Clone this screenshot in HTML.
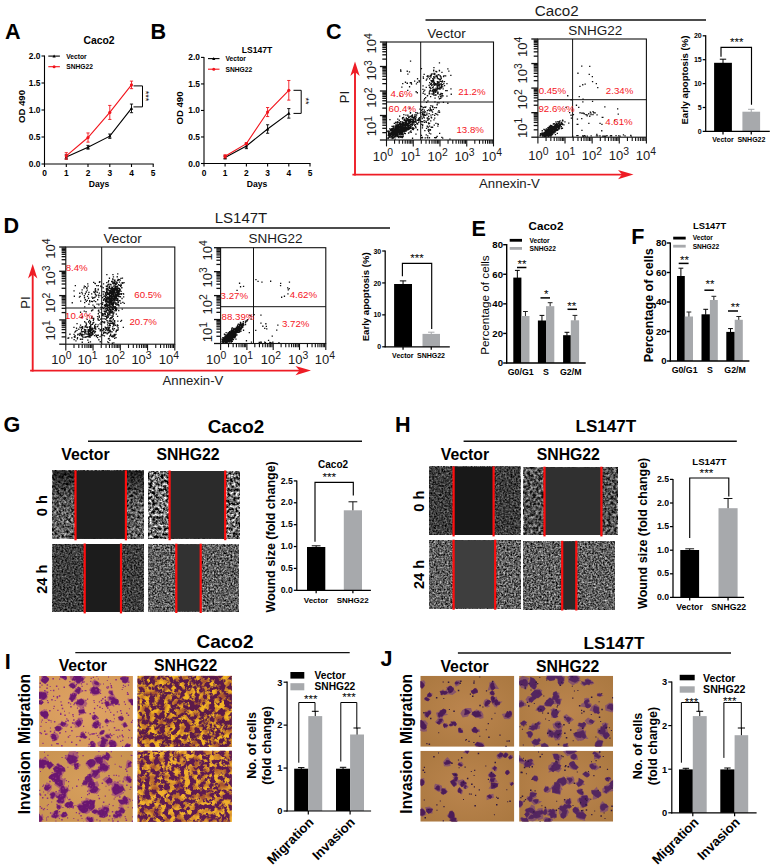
<!DOCTYPE html>
<html><head><meta charset="utf-8"><title>Figure</title>
<style>
html,body{margin:0;padding:0;background:#fff;}
body{width:774px;height:867px;overflow:hidden;font-family:"Liberation Sans",sans-serif;}
svg{display:block;}
svg text{font-family:"Liberation Sans",sans-serif;}
</style></head><body>
<svg width="774" height="867" viewBox="0 0 774 867">
<rect x="0" y="0" width="774" height="867" fill="#ffffff"/>
<text x="5.00" y="38.80" font-size="21.6" font-weight="bold" text-anchor="start" fill="#000">A</text>
<line x1="44.50" y1="55.50" x2="44.50" y2="164.50" stroke="#000" stroke-width="1.1" stroke-linecap="butt"/>
<line x1="44.00" y1="164.00" x2="153.70" y2="164.00" stroke="#000" stroke-width="1.1" stroke-linecap="butt"/>
<line x1="41.50" y1="164.00" x2="44.50" y2="164.00" stroke="#000" stroke-width="1.1" stroke-linecap="butt"/>
<text x="40.50" y="167.00" font-size="8.4" font-weight="bold" text-anchor="end" fill="#000">0.0</text>
<line x1="41.50" y1="137.00" x2="44.50" y2="137.00" stroke="#000" stroke-width="1.1" stroke-linecap="butt"/>
<text x="40.50" y="140.00" font-size="8.4" font-weight="bold" text-anchor="end" fill="#000">0.5</text>
<line x1="41.50" y1="110.00" x2="44.50" y2="110.00" stroke="#000" stroke-width="1.1" stroke-linecap="butt"/>
<text x="40.50" y="113.00" font-size="8.4" font-weight="bold" text-anchor="end" fill="#000">1.0</text>
<line x1="41.50" y1="83.00" x2="44.50" y2="83.00" stroke="#000" stroke-width="1.1" stroke-linecap="butt"/>
<text x="40.50" y="86.00" font-size="8.4" font-weight="bold" text-anchor="end" fill="#000">1.5</text>
<line x1="41.50" y1="56.00" x2="44.50" y2="56.00" stroke="#000" stroke-width="1.1" stroke-linecap="butt"/>
<text x="40.50" y="59.00" font-size="8.4" font-weight="bold" text-anchor="end" fill="#000">2.0</text>
<line x1="44.50" y1="164.00" x2="44.50" y2="167.00" stroke="#000" stroke-width="1.1" stroke-linecap="butt"/>
<text x="44.50" y="176.10" font-size="8.4" font-weight="bold" text-anchor="middle" fill="#000">0</text>
<line x1="66.30" y1="164.00" x2="66.30" y2="167.00" stroke="#000" stroke-width="1.1" stroke-linecap="butt"/>
<text x="66.30" y="176.10" font-size="8.4" font-weight="bold" text-anchor="middle" fill="#000">1</text>
<line x1="88.00" y1="164.00" x2="88.00" y2="167.00" stroke="#000" stroke-width="1.1" stroke-linecap="butt"/>
<text x="88.00" y="176.10" font-size="8.4" font-weight="bold" text-anchor="middle" fill="#000">2</text>
<line x1="109.80" y1="164.00" x2="109.80" y2="167.00" stroke="#000" stroke-width="1.1" stroke-linecap="butt"/>
<text x="109.80" y="176.10" font-size="8.4" font-weight="bold" text-anchor="middle" fill="#000">3</text>
<line x1="131.50" y1="164.00" x2="131.50" y2="167.00" stroke="#000" stroke-width="1.1" stroke-linecap="butt"/>
<text x="131.50" y="176.10" font-size="8.4" font-weight="bold" text-anchor="middle" fill="#000">4</text>
<line x1="153.20" y1="164.00" x2="153.20" y2="167.00" stroke="#000" stroke-width="1.1" stroke-linecap="butt"/>
<text x="153.20" y="176.10" font-size="8.4" font-weight="bold" text-anchor="middle" fill="#000">5</text>
<text x="99.00" y="44.00" font-size="10.4" font-weight="bold" text-anchor="middle" fill="#000">Caco2</text>
<text x="99.00" y="187.20" font-size="8.6" font-weight="bold" text-anchor="middle" fill="#000">Days</text>
<text x="25.20" y="106.50" font-size="9.6" font-weight="bold" text-anchor="middle" fill="#000" transform="rotate(-90 25.20 106.50)">OD 490</text>
<line x1="66.30" y1="154.82" x2="66.30" y2="159.14" stroke="#000" stroke-width="0.9" stroke-linecap="butt"/>
<line x1="64.70" y1="154.82" x2="67.90" y2="154.82" stroke="#000" stroke-width="0.9" stroke-linecap="butt"/>
<line x1="64.70" y1="159.14" x2="67.90" y2="159.14" stroke="#000" stroke-width="0.9" stroke-linecap="butt"/>
<line x1="88.00" y1="145.37" x2="88.00" y2="149.15" stroke="#000" stroke-width="0.9" stroke-linecap="butt"/>
<line x1="86.40" y1="145.37" x2="89.60" y2="145.37" stroke="#000" stroke-width="0.9" stroke-linecap="butt"/>
<line x1="86.40" y1="149.15" x2="89.60" y2="149.15" stroke="#000" stroke-width="0.9" stroke-linecap="butt"/>
<line x1="109.80" y1="134.03" x2="109.80" y2="138.35" stroke="#000" stroke-width="0.9" stroke-linecap="butt"/>
<line x1="108.20" y1="134.03" x2="111.40" y2="134.03" stroke="#000" stroke-width="0.9" stroke-linecap="butt"/>
<line x1="108.20" y1="138.35" x2="111.40" y2="138.35" stroke="#000" stroke-width="0.9" stroke-linecap="butt"/>
<line x1="131.50" y1="104.06" x2="131.50" y2="112.70" stroke="#000" stroke-width="0.9" stroke-linecap="butt"/>
<line x1="129.90" y1="104.06" x2="133.10" y2="104.06" stroke="#000" stroke-width="0.9" stroke-linecap="butt"/>
<line x1="129.90" y1="112.70" x2="133.10" y2="112.70" stroke="#000" stroke-width="0.9" stroke-linecap="butt"/>
<polyline fill="none" stroke="#000" stroke-width="1.1" points="66.30,156.98 88.00,147.26 109.80,136.19 131.50,108.38"/>
<path d="M64.60,158.38 L68.00,158.38 L66.30,155.18 Z" fill="#000"/>
<path d="M86.30,148.66 L89.70,148.66 L88.00,145.46 Z" fill="#000"/>
<path d="M108.10,137.59 L111.50,137.59 L109.80,134.39 Z" fill="#000"/>
<path d="M129.80,109.78 L133.20,109.78 L131.50,106.58 Z" fill="#000"/>
<line x1="66.30" y1="152.66" x2="66.30" y2="159.14" stroke="#f2141c" stroke-width="0.9" stroke-linecap="butt"/>
<line x1="64.70" y1="152.66" x2="67.90" y2="152.66" stroke="#f2141c" stroke-width="0.9" stroke-linecap="butt"/>
<line x1="64.70" y1="159.14" x2="67.90" y2="159.14" stroke="#f2141c" stroke-width="0.9" stroke-linecap="butt"/>
<line x1="88.00" y1="132.95" x2="88.00" y2="142.13" stroke="#f2141c" stroke-width="0.9" stroke-linecap="butt"/>
<line x1="86.40" y1="132.95" x2="89.60" y2="132.95" stroke="#f2141c" stroke-width="0.9" stroke-linecap="butt"/>
<line x1="86.40" y1="142.13" x2="89.60" y2="142.13" stroke="#f2141c" stroke-width="0.9" stroke-linecap="butt"/>
<line x1="109.80" y1="105.41" x2="109.80" y2="119.45" stroke="#f2141c" stroke-width="0.9" stroke-linecap="butt"/>
<line x1="108.20" y1="105.41" x2="111.40" y2="105.41" stroke="#f2141c" stroke-width="0.9" stroke-linecap="butt"/>
<line x1="108.20" y1="119.45" x2="111.40" y2="119.45" stroke="#f2141c" stroke-width="0.9" stroke-linecap="butt"/>
<line x1="131.50" y1="81.11" x2="131.50" y2="88.67" stroke="#f2141c" stroke-width="0.9" stroke-linecap="butt"/>
<line x1="129.90" y1="81.11" x2="133.10" y2="81.11" stroke="#f2141c" stroke-width="0.9" stroke-linecap="butt"/>
<line x1="129.90" y1="88.67" x2="133.10" y2="88.67" stroke="#f2141c" stroke-width="0.9" stroke-linecap="butt"/>
<polyline fill="none" stroke="#f2141c" stroke-width="1.1" points="66.30,155.90 88.00,137.54 109.80,112.43 131.50,84.89"/>
<circle cx="66.30" cy="155.90" r="1.6" fill="#f2141c"/>
<circle cx="88.00" cy="137.54" r="1.6" fill="#f2141c"/>
<circle cx="109.80" cy="112.43" r="1.6" fill="#f2141c"/>
<circle cx="131.50" cy="84.89" r="1.6" fill="#f2141c"/>
<line x1="48.30" y1="56.10" x2="59.90" y2="56.10" stroke="#000" stroke-width="1.1" stroke-linecap="butt"/>
<path d="M52.50,57.40 L55.70,57.40 L54.10,54.50 Z" fill="#000"/>
<text x="66.20" y="58.50" font-size="6.7" font-weight="bold" text-anchor="start" fill="#000">Vector</text>
<line x1="48.30" y1="66.70" x2="59.90" y2="66.70" stroke="#f2141c" stroke-width="1.1" stroke-linecap="butt"/>
<circle cx="54.10" cy="66.70" r="1.5" fill="#f2141c"/>
<text x="66.20" y="69.10" font-size="6.7" font-weight="bold" text-anchor="start" fill="#000">SNHG22</text>
<path d="M133.5,85.9 L142.5,85.9 L142.5,106.9 L133.5,106.9" stroke="#000" stroke-width="1.0" fill="none"/>
<text x="143.30" y="96.00" font-size="9" font-weight="normal" text-anchor="middle" fill="#000" transform="rotate(90 143.30 96.00)">***</text>
<text x="150.60" y="38.80" font-size="21.6" font-weight="bold" text-anchor="start" fill="#000">B</text>
<line x1="204.00" y1="56.90" x2="204.00" y2="164.00" stroke="#000" stroke-width="1.1" stroke-linecap="butt"/>
<line x1="203.50" y1="163.50" x2="310.50" y2="163.50" stroke="#000" stroke-width="1.1" stroke-linecap="butt"/>
<line x1="201.00" y1="163.50" x2="204.00" y2="163.50" stroke="#000" stroke-width="1.1" stroke-linecap="butt"/>
<text x="200.00" y="166.50" font-size="8.4" font-weight="bold" text-anchor="end" fill="#000">0.0</text>
<line x1="201.00" y1="136.97" x2="204.00" y2="136.97" stroke="#000" stroke-width="1.1" stroke-linecap="butt"/>
<text x="200.00" y="139.97" font-size="8.4" font-weight="bold" text-anchor="end" fill="#000">0.5</text>
<line x1="201.00" y1="110.45" x2="204.00" y2="110.45" stroke="#000" stroke-width="1.1" stroke-linecap="butt"/>
<text x="200.00" y="113.45" font-size="8.4" font-weight="bold" text-anchor="end" fill="#000">1.0</text>
<line x1="201.00" y1="83.93" x2="204.00" y2="83.93" stroke="#000" stroke-width="1.1" stroke-linecap="butt"/>
<text x="200.00" y="86.93" font-size="8.4" font-weight="bold" text-anchor="end" fill="#000">1.5</text>
<line x1="201.00" y1="57.40" x2="204.00" y2="57.40" stroke="#000" stroke-width="1.1" stroke-linecap="butt"/>
<text x="200.00" y="60.40" font-size="8.4" font-weight="bold" text-anchor="end" fill="#000">2.0</text>
<line x1="204.00" y1="163.50" x2="204.00" y2="166.50" stroke="#000" stroke-width="1.1" stroke-linecap="butt"/>
<text x="204.00" y="175.80" font-size="8.4" font-weight="bold" text-anchor="middle" fill="#000">0</text>
<line x1="225.10" y1="163.50" x2="225.10" y2="166.50" stroke="#000" stroke-width="1.1" stroke-linecap="butt"/>
<text x="225.10" y="175.80" font-size="8.4" font-weight="bold" text-anchor="middle" fill="#000">1</text>
<line x1="246.40" y1="163.50" x2="246.40" y2="166.50" stroke="#000" stroke-width="1.1" stroke-linecap="butt"/>
<text x="246.40" y="175.80" font-size="8.4" font-weight="bold" text-anchor="middle" fill="#000">2</text>
<line x1="267.60" y1="163.50" x2="267.60" y2="166.50" stroke="#000" stroke-width="1.1" stroke-linecap="butt"/>
<text x="267.60" y="175.80" font-size="8.4" font-weight="bold" text-anchor="middle" fill="#000">3</text>
<line x1="288.80" y1="163.50" x2="288.80" y2="166.50" stroke="#000" stroke-width="1.1" stroke-linecap="butt"/>
<text x="288.80" y="175.80" font-size="8.4" font-weight="bold" text-anchor="middle" fill="#000">4</text>
<line x1="310.00" y1="163.50" x2="310.00" y2="166.50" stroke="#000" stroke-width="1.1" stroke-linecap="butt"/>
<text x="310.00" y="175.80" font-size="8.4" font-weight="bold" text-anchor="middle" fill="#000">5</text>
<text x="257.00" y="52.50" font-size="8.6" font-weight="bold" text-anchor="middle" fill="#000">LS147T</text>
<text x="257.00" y="186.70" font-size="8.6" font-weight="bold" text-anchor="middle" fill="#000">Days</text>
<text x="183.20" y="108.00" font-size="9.6" font-weight="bold" text-anchor="middle" fill="#000" transform="rotate(-90 183.20 108.00)">OD 490</text>
<line x1="225.10" y1="155.81" x2="225.10" y2="158.99" stroke="#000" stroke-width="0.9" stroke-linecap="butt"/>
<line x1="223.50" y1="155.81" x2="226.70" y2="155.81" stroke="#000" stroke-width="0.9" stroke-linecap="butt"/>
<line x1="223.50" y1="158.99" x2="226.70" y2="158.99" stroke="#000" stroke-width="0.9" stroke-linecap="butt"/>
<line x1="246.40" y1="143.34" x2="246.40" y2="148.65" stroke="#000" stroke-width="0.9" stroke-linecap="butt"/>
<line x1="244.80" y1="143.34" x2="248.00" y2="143.34" stroke="#000" stroke-width="0.9" stroke-linecap="butt"/>
<line x1="244.80" y1="148.65" x2="248.00" y2="148.65" stroke="#000" stroke-width="0.9" stroke-linecap="butt"/>
<line x1="267.60" y1="124.77" x2="267.60" y2="133.26" stroke="#000" stroke-width="0.9" stroke-linecap="butt"/>
<line x1="266.00" y1="124.77" x2="269.20" y2="124.77" stroke="#000" stroke-width="0.9" stroke-linecap="butt"/>
<line x1="266.00" y1="133.26" x2="269.20" y2="133.26" stroke="#000" stroke-width="0.9" stroke-linecap="butt"/>
<line x1="288.80" y1="108.59" x2="288.80" y2="118.14" stroke="#000" stroke-width="0.9" stroke-linecap="butt"/>
<line x1="287.20" y1="108.59" x2="290.40" y2="108.59" stroke="#000" stroke-width="0.9" stroke-linecap="butt"/>
<line x1="287.20" y1="118.14" x2="290.40" y2="118.14" stroke="#000" stroke-width="0.9" stroke-linecap="butt"/>
<polyline fill="none" stroke="#000" stroke-width="1.1" points="225.10,157.40 246.40,145.99 267.60,129.02 288.80,113.37"/>
<path d="M223.40,158.80 L226.80,158.80 L225.10,155.60 Z" fill="#000"/>
<path d="M244.70,147.39 L248.10,147.39 L246.40,144.19 Z" fill="#000"/>
<path d="M265.90,130.42 L269.30,130.42 L267.60,127.22 Z" fill="#000"/>
<path d="M287.10,114.77 L290.50,114.77 L288.80,111.57 Z" fill="#000"/>
<line x1="225.10" y1="154.75" x2="225.10" y2="157.93" stroke="#f2141c" stroke-width="0.9" stroke-linecap="butt"/>
<line x1="223.50" y1="154.75" x2="226.70" y2="154.75" stroke="#f2141c" stroke-width="0.9" stroke-linecap="butt"/>
<line x1="223.50" y1="157.93" x2="226.70" y2="157.93" stroke="#f2141c" stroke-width="0.9" stroke-linecap="butt"/>
<line x1="246.40" y1="142.55" x2="246.40" y2="144.67" stroke="#f2141c" stroke-width="0.9" stroke-linecap="butt"/>
<line x1="244.80" y1="142.55" x2="248.00" y2="142.55" stroke="#f2141c" stroke-width="0.9" stroke-linecap="butt"/>
<line x1="244.80" y1="144.67" x2="248.00" y2="144.67" stroke="#f2141c" stroke-width="0.9" stroke-linecap="butt"/>
<line x1="267.60" y1="107.53" x2="267.60" y2="116.55" stroke="#f2141c" stroke-width="0.9" stroke-linecap="butt"/>
<line x1="266.00" y1="107.53" x2="269.20" y2="107.53" stroke="#f2141c" stroke-width="0.9" stroke-linecap="butt"/>
<line x1="266.00" y1="116.55" x2="269.20" y2="116.55" stroke="#f2141c" stroke-width="0.9" stroke-linecap="butt"/>
<line x1="288.80" y1="80.48" x2="288.80" y2="100.11" stroke="#f2141c" stroke-width="0.9" stroke-linecap="butt"/>
<line x1="287.20" y1="80.48" x2="290.40" y2="80.48" stroke="#f2141c" stroke-width="0.9" stroke-linecap="butt"/>
<line x1="287.20" y1="100.11" x2="290.40" y2="100.11" stroke="#f2141c" stroke-width="0.9" stroke-linecap="butt"/>
<polyline fill="none" stroke="#f2141c" stroke-width="1.1" points="225.10,156.34 246.40,143.61 267.60,112.04 288.80,90.29"/>
<circle cx="225.10" cy="156.34" r="1.6" fill="#f2141c"/>
<circle cx="246.40" cy="143.61" r="1.6" fill="#f2141c"/>
<circle cx="267.60" cy="112.04" r="1.6" fill="#f2141c"/>
<circle cx="288.80" cy="90.29" r="1.6" fill="#f2141c"/>
<line x1="208.00" y1="58.60" x2="219.50" y2="58.60" stroke="#000" stroke-width="1.1" stroke-linecap="butt"/>
<path d="M212.15,59.90 L215.35,59.90 L213.75,57.00 Z" fill="#000"/>
<text x="225.50" y="61.00" font-size="6.7" font-weight="bold" text-anchor="start" fill="#000">Vector</text>
<line x1="208.00" y1="69.20" x2="219.50" y2="69.20" stroke="#f2141c" stroke-width="1.1" stroke-linecap="butt"/>
<circle cx="213.75" cy="69.20" r="1.5" fill="#f2141c"/>
<text x="225.50" y="71.60" font-size="6.7" font-weight="bold" text-anchor="start" fill="#000">SNHG22</text>
<path d="M293.5,90.3 L301.2,90.3 L301.2,113.4 L293.5,113.4" stroke="#000" stroke-width="1.0" fill="none"/>
<text x="303.20" y="101.00" font-size="9" font-weight="normal" text-anchor="middle" fill="#000" transform="rotate(90 303.20 101.00)">**</text>
<text x="326.00" y="38.60" font-size="21.6" font-weight="bold" text-anchor="start" fill="#000">C</text>
<text x="556.80" y="15.60" font-size="15.2" font-weight="normal" text-anchor="middle" fill="#1a1a1a">Caco2</text>
<line x1="425.50" y1="20.00" x2="706.00" y2="20.00" stroke="#111" stroke-width="1.3" stroke-linecap="butt"/>
<path d="M392.6,130.3h1.3v1.3h-1.3zM411.5,123.4h1.3v1.3h-1.3zM391.7,132.8h1.3v1.3h-1.3zM407.1,118.9h1.3v1.3h-1.3zM392.7,137.5h1.3v1.3h-1.3zM409.0,120.5h1.3v1.3h-1.3zM416.0,114.3h1.3v1.3h-1.3zM402.1,127.7h1.3v1.3h-1.3zM424.8,114.7h1.3v1.3h-1.3zM396.3,134.7h1.3v1.3h-1.3zM403.8,124.9h1.3v1.3h-1.3zM400.1,127.9h1.3v1.3h-1.3zM405.3,121.7h1.3v1.3h-1.3zM412.3,119.8h1.3v1.3h-1.3zM387.8,131.7h1.3v1.3h-1.3zM390.9,133.7h1.3v1.3h-1.3zM390.5,133.2h1.3v1.3h-1.3zM396.4,128.9h1.3v1.3h-1.3zM431.1,110.1h1.3v1.3h-1.3zM410.2,127.6h1.3v1.3h-1.3zM400.6,124.6h1.3v1.3h-1.3zM402.2,124.9h1.3v1.3h-1.3zM403.9,129.8h1.3v1.3h-1.3zM407.8,126.7h1.3v1.3h-1.3zM418.9,119.0h1.3v1.3h-1.3zM408.8,122.6h1.3v1.3h-1.3zM411.1,123.9h1.3v1.3h-1.3zM411.5,121.7h1.3v1.3h-1.3zM413.7,117.2h1.3v1.3h-1.3zM404.2,128.7h1.3v1.3h-1.3zM409.5,120.2h1.3v1.3h-1.3zM417.0,119.6h1.3v1.3h-1.3zM407.7,121.1h1.3v1.3h-1.3zM405.4,123.7h1.3v1.3h-1.3zM404.5,127.7h1.3v1.3h-1.3zM394.4,132.7h1.3v1.3h-1.3zM408.0,116.6h1.3v1.3h-1.3zM411.3,116.7h1.3v1.3h-1.3zM409.6,119.2h1.3v1.3h-1.3zM404.6,121.8h1.3v1.3h-1.3zM418.1,118.8h1.3v1.3h-1.3zM397.1,121.0h1.3v1.3h-1.3zM405.1,120.6h1.3v1.3h-1.3zM410.4,126.6h1.3v1.3h-1.3zM423.7,106.5h1.3v1.3h-1.3zM404.5,121.9h1.3v1.3h-1.3zM404.1,129.2h1.3v1.3h-1.3zM402.0,124.9h1.3v1.3h-1.3zM412.5,117.5h1.3v1.3h-1.3zM403.5,119.9h1.3v1.3h-1.3zM396.5,126.3h1.3v1.3h-1.3zM412.5,121.8h1.3v1.3h-1.3zM405.0,122.6h1.3v1.3h-1.3zM416.2,122.8h1.3v1.3h-1.3zM403.0,123.2h1.3v1.3h-1.3zM401.7,137.0h1.3v1.3h-1.3zM409.9,112.1h1.3v1.3h-1.3zM411.5,125.0h1.3v1.3h-1.3zM399.5,127.1h1.3v1.3h-1.3zM424.2,111.2h1.3v1.3h-1.3zM404.0,118.7h1.3v1.3h-1.3zM402.3,118.4h1.3v1.3h-1.3zM397.2,131.4h1.3v1.3h-1.3zM409.1,116.4h1.3v1.3h-1.3zM408.6,121.5h1.3v1.3h-1.3zM387.5,137.9h1.3v1.3h-1.3zM397.8,131.3h1.3v1.3h-1.3zM408.0,124.6h1.3v1.3h-1.3zM409.7,121.8h1.3v1.3h-1.3zM400.2,127.1h1.3v1.3h-1.3zM406.6,120.2h1.3v1.3h-1.3zM398.9,129.3h1.3v1.3h-1.3zM391.4,125.8h1.3v1.3h-1.3zM415.3,119.7h1.3v1.3h-1.3zM398.9,133.6h1.3v1.3h-1.3zM404.4,124.3h1.3v1.3h-1.3zM421.5,114.3h1.3v1.3h-1.3zM415.0,118.3h1.3v1.3h-1.3zM389.3,133.1h1.3v1.3h-1.3zM389.3,118.9h1.3v1.3h-1.3zM412.5,118.1h1.3v1.3h-1.3zM401.5,136.1h1.3v1.3h-1.3zM401.9,133.3h1.3v1.3h-1.3zM408.1,132.3h1.3v1.3h-1.3zM395.3,125.2h1.3v1.3h-1.3zM417.0,123.1h1.3v1.3h-1.3zM390.0,129.7h1.3v1.3h-1.3zM410.3,126.1h1.3v1.3h-1.3zM397.1,132.4h1.3v1.3h-1.3zM392.9,134.7h1.3v1.3h-1.3zM413.6,116.9h1.3v1.3h-1.3zM420.5,116.3h1.3v1.3h-1.3zM401.8,130.9h1.3v1.3h-1.3zM401.9,132.2h1.3v1.3h-1.3zM387.9,131.7h1.3v1.3h-1.3zM415.2,115.4h1.3v1.3h-1.3zM414.3,118.4h1.3v1.3h-1.3zM396.9,129.1h1.3v1.3h-1.3zM399.8,132.6h1.3v1.3h-1.3zM403.0,125.4h1.3v1.3h-1.3zM399.0,122.2h1.3v1.3h-1.3zM404.5,122.6h1.3v1.3h-1.3zM413.4,123.6h1.3v1.3h-1.3zM397.1,123.7h1.3v1.3h-1.3zM405.9,120.0h1.3v1.3h-1.3zM409.5,131.2h1.3v1.3h-1.3zM409.1,125.4h1.3v1.3h-1.3zM396.6,131.6h1.3v1.3h-1.3zM409.5,118.5h1.3v1.3h-1.3zM411.6,128.2h1.3v1.3h-1.3zM402.1,123.9h1.3v1.3h-1.3zM396.5,128.7h1.3v1.3h-1.3zM405.0,120.5h1.3v1.3h-1.3zM396.0,133.6h1.3v1.3h-1.3zM396.5,122.2h1.3v1.3h-1.3zM412.3,121.2h1.3v1.3h-1.3zM404.9,124.4h1.3v1.3h-1.3zM404.7,125.9h1.3v1.3h-1.3zM400.2,133.0h1.3v1.3h-1.3zM397.5,122.0h1.3v1.3h-1.3zM407.6,123.1h1.3v1.3h-1.3zM401.2,126.8h1.3v1.3h-1.3zM406.0,127.1h1.3v1.3h-1.3zM404.7,124.0h1.3v1.3h-1.3zM396.6,133.0h1.3v1.3h-1.3zM394.5,135.4h1.3v1.3h-1.3zM410.6,131.8h1.3v1.3h-1.3zM400.7,129.9h1.3v1.3h-1.3zM397.7,128.6h1.3v1.3h-1.3zM412.6,120.2h1.3v1.3h-1.3zM401.8,129.3h1.3v1.3h-1.3zM401.9,122.7h1.3v1.3h-1.3zM399.7,132.9h1.3v1.3h-1.3zM392.3,136.9h1.3v1.3h-1.3zM391.2,128.1h1.3v1.3h-1.3zM406.0,125.3h1.3v1.3h-1.3zM415.4,121.7h1.3v1.3h-1.3zM409.4,118.9h1.3v1.3h-1.3zM395.1,126.6h1.3v1.3h-1.3zM414.0,125.0h1.3v1.3h-1.3zM411.9,122.5h1.3v1.3h-1.3zM399.7,130.3h1.3v1.3h-1.3zM400.2,135.4h1.3v1.3h-1.3zM394.5,136.2h1.3v1.3h-1.3zM407.2,114.6h1.3v1.3h-1.3zM426.2,114.1h1.3v1.3h-1.3zM388.4,136.1h1.3v1.3h-1.3zM395.0,122.1h1.3v1.3h-1.3zM407.9,126.3h1.3v1.3h-1.3zM411.0,119.1h1.3v1.3h-1.3zM389.2,136.2h1.3v1.3h-1.3zM401.0,127.1h1.3v1.3h-1.3zM404.1,126.8h1.3v1.3h-1.3zM404.6,127.6h1.3v1.3h-1.3zM395.4,123.9h1.3v1.3h-1.3zM406.1,122.4h1.3v1.3h-1.3zM389.4,134.5h1.3v1.3h-1.3zM410.0,127.6h1.3v1.3h-1.3zM412.3,122.3h1.3v1.3h-1.3zM406.4,124.6h1.3v1.3h-1.3zM404.9,119.8h1.3v1.3h-1.3zM399.6,121.2h1.3v1.3h-1.3zM396.4,133.8h1.3v1.3h-1.3zM409.0,127.1h1.3v1.3h-1.3zM399.9,123.9h1.3v1.3h-1.3zM413.3,127.7h1.3v1.3h-1.3zM407.3,115.4h1.3v1.3h-1.3zM413.2,121.2h1.3v1.3h-1.3zM397.9,130.2h1.3v1.3h-1.3zM393.2,132.8h1.3v1.3h-1.3zM401.4,127.5h1.3v1.3h-1.3zM413.1,121.2h1.3v1.3h-1.3zM390.6,128.6h1.3v1.3h-1.3zM393.9,133.2h1.3v1.3h-1.3zM401.9,128.1h1.3v1.3h-1.3zM394.5,132.0h1.3v1.3h-1.3zM421.6,118.0h1.3v1.3h-1.3zM401.8,121.8h1.3v1.3h-1.3zM409.3,119.1h1.3v1.3h-1.3zM410.3,130.3h1.3v1.3h-1.3zM395.7,129.7h1.3v1.3h-1.3zM407.2,118.0h1.3v1.3h-1.3zM407.0,124.7h1.3v1.3h-1.3zM403.3,126.7h1.3v1.3h-1.3zM405.1,121.9h1.3v1.3h-1.3zM400.1,131.2h1.3v1.3h-1.3zM395.7,125.5h1.3v1.3h-1.3zM413.9,115.5h1.3v1.3h-1.3zM410.3,118.2h1.3v1.3h-1.3zM403.0,123.2h1.3v1.3h-1.3zM394.1,132.0h1.3v1.3h-1.3zM396.8,126.5h1.3v1.3h-1.3zM398.1,129.3h1.3v1.3h-1.3zM406.4,118.2h1.3v1.3h-1.3zM396.3,133.9h1.3v1.3h-1.3zM409.9,126.8h1.3v1.3h-1.3zM406.8,126.2h1.3v1.3h-1.3zM402.1,134.3h1.3v1.3h-1.3zM409.1,124.7h1.3v1.3h-1.3zM395.4,121.5h1.3v1.3h-1.3zM409.1,107.4h1.3v1.3h-1.3zM406.5,125.5h1.3v1.3h-1.3zM403.9,118.6h1.3v1.3h-1.3zM402.8,124.2h1.3v1.3h-1.3zM407.4,127.4h1.3v1.3h-1.3zM404.1,127.5h1.3v1.3h-1.3zM392.4,128.3h1.3v1.3h-1.3zM408.7,122.4h1.3v1.3h-1.3zM407.1,124.1h1.3v1.3h-1.3zM388.7,134.5h1.3v1.3h-1.3zM390.1,133.5h1.3v1.3h-1.3zM404.2,123.8h1.3v1.3h-1.3zM404.8,124.2h1.3v1.3h-1.3zM393.3,133.2h1.3v1.3h-1.3zM398.7,129.5h1.3v1.3h-1.3zM405.3,122.0h1.3v1.3h-1.3zM416.9,129.1h1.3v1.3h-1.3zM406.4,124.9h1.3v1.3h-1.3zM422.3,110.9h1.3v1.3h-1.3zM388.9,132.3h1.3v1.3h-1.3zM398.6,124.3h1.3v1.3h-1.3zM394.0,131.6h1.3v1.3h-1.3zM401.9,127.1h1.3v1.3h-1.3zM398.0,136.7h1.3v1.3h-1.3zM406.9,119.5h1.3v1.3h-1.3zM402.4,130.7h1.3v1.3h-1.3zM404.7,122.6h1.3v1.3h-1.3zM401.5,126.9h1.3v1.3h-1.3zM415.0,123.9h1.3v1.3h-1.3zM398.3,136.9h1.3v1.3h-1.3zM397.1,132.6h1.3v1.3h-1.3zM394.8,133.7h1.3v1.3h-1.3zM418.3,118.1h1.3v1.3h-1.3zM402.0,117.1h1.3v1.3h-1.3zM402.5,133.8h1.3v1.3h-1.3zM406.4,128.1h1.3v1.3h-1.3zM416.9,123.4h1.3v1.3h-1.3zM398.1,135.7h1.3v1.3h-1.3zM403.8,129.9h1.3v1.3h-1.3zM402.4,127.9h1.3v1.3h-1.3zM397.8,124.9h1.3v1.3h-1.3zM411.0,121.2h1.3v1.3h-1.3zM395.3,135.0h1.3v1.3h-1.3zM405.3,114.4h1.3v1.3h-1.3zM399.1,131.6h1.3v1.3h-1.3zM397.1,134.1h1.3v1.3h-1.3zM394.7,131.6h1.3v1.3h-1.3zM415.2,119.0h1.3v1.3h-1.3zM398.7,135.4h1.3v1.3h-1.3zM404.8,125.1h1.3v1.3h-1.3zM392.6,136.7h1.3v1.3h-1.3zM402.6,121.9h1.3v1.3h-1.3zM408.3,122.1h1.3v1.3h-1.3zM400.3,126.2h1.3v1.3h-1.3zM402.9,116.7h1.3v1.3h-1.3zM393.4,133.1h1.3v1.3h-1.3zM413.8,121.0h1.3v1.3h-1.3zM415.1,119.2h1.3v1.3h-1.3zM404.2,126.9h1.3v1.3h-1.3zM391.3,136.9h1.3v1.3h-1.3zM421.8,112.4h1.3v1.3h-1.3zM408.1,118.9h1.3v1.3h-1.3zM407.8,118.8h1.3v1.3h-1.3zM400.7,128.3h1.3v1.3h-1.3zM411.4,122.7h1.3v1.3h-1.3zM391.7,133.5h1.3v1.3h-1.3zM398.4,126.0h1.3v1.3h-1.3zM396.9,134.1h1.3v1.3h-1.3zM400.2,120.9h1.3v1.3h-1.3zM402.6,125.5h1.3v1.3h-1.3zM403.1,124.7h1.3v1.3h-1.3zM410.9,115.5h1.3v1.3h-1.3zM389.0,128.2h1.3v1.3h-1.3zM403.0,127.4h1.3v1.3h-1.3zM423.4,115.0h1.3v1.3h-1.3zM419.5,112.4h1.3v1.3h-1.3zM394.2,128.9h1.3v1.3h-1.3zM409.3,122.9h1.3v1.3h-1.3zM401.4,131.7h1.3v1.3h-1.3zM418.5,118.2h1.3v1.3h-1.3zM399.7,129.2h1.3v1.3h-1.3zM396.3,133.2h1.3v1.3h-1.3zM403.8,124.2h1.3v1.3h-1.3zM398.7,128.9h1.3v1.3h-1.3zM391.2,130.5h1.3v1.3h-1.3zM396.6,128.7h1.3v1.3h-1.3zM395.3,132.6h1.3v1.3h-1.3zM404.8,130.2h1.3v1.3h-1.3zM424.0,114.1h1.3v1.3h-1.3zM402.4,129.5h1.3v1.3h-1.3zM416.6,112.3h1.3v1.3h-1.3zM405.5,130.4h1.3v1.3h-1.3zM398.7,125.8h1.3v1.3h-1.3zM398.6,133.6h1.3v1.3h-1.3zM392.9,135.1h1.3v1.3h-1.3zM403.1,128.7h1.3v1.3h-1.3zM403.2,113.9h1.3v1.3h-1.3zM418.1,121.8h1.3v1.3h-1.3zM405.9,124.0h1.3v1.3h-1.3zM401.8,122.2h1.3v1.3h-1.3zM400.2,129.0h1.3v1.3h-1.3zM399.8,128.3h1.3v1.3h-1.3zM413.9,116.4h1.3v1.3h-1.3zM391.6,134.4h1.3v1.3h-1.3zM396.2,126.4h1.3v1.3h-1.3zM404.9,121.1h1.3v1.3h-1.3zM402.5,134.5h1.3v1.3h-1.3zM406.8,122.8h1.3v1.3h-1.3zM407.3,129.1h1.3v1.3h-1.3zM403.7,128.6h1.3v1.3h-1.3zM397.2,127.8h1.3v1.3h-1.3zM406.0,128.1h1.3v1.3h-1.3zM398.1,124.0h1.3v1.3h-1.3zM402.5,135.9h1.3v1.3h-1.3zM395.7,128.4h1.3v1.3h-1.3zM417.2,112.8h1.3v1.3h-1.3zM406.1,123.4h1.3v1.3h-1.3zM394.0,133.1h1.3v1.3h-1.3zM400.2,131.0h1.3v1.3h-1.3zM403.5,127.4h1.3v1.3h-1.3zM405.9,118.2h1.3v1.3h-1.3zM409.3,120.6h1.3v1.3h-1.3zM401.0,133.7h1.3v1.3h-1.3zM402.0,124.2h1.3v1.3h-1.3zM394.4,125.5h1.3v1.3h-1.3zM400.2,126.0h1.3v1.3h-1.3zM400.2,133.0h1.3v1.3h-1.3zM420.6,120.9h1.3v1.3h-1.3zM410.8,123.9h1.3v1.3h-1.3zM405.4,128.1h1.3v1.3h-1.3zM399.5,124.1h1.3v1.3h-1.3zM419.5,120.2h1.3v1.3h-1.3zM403.1,121.9h1.3v1.3h-1.3zM397.6,126.0h1.3v1.3h-1.3zM396.3,127.2h1.3v1.3h-1.3zM406.7,118.7h1.3v1.3h-1.3zM406.1,129.4h1.3v1.3h-1.3zM408.6,127.5h1.3v1.3h-1.3zM409.4,115.8h1.3v1.3h-1.3zM408.1,125.5h1.3v1.3h-1.3zM413.1,119.5h1.3v1.3h-1.3zM392.4,133.6h1.3v1.3h-1.3zM415.1,120.4h1.3v1.3h-1.3zM404.0,126.9h1.3v1.3h-1.3zM388.7,136.4h1.3v1.3h-1.3zM406.0,123.4h1.3v1.3h-1.3zM401.5,136.0h1.3v1.3h-1.3zM413.4,116.9h1.3v1.3h-1.3zM411.7,115.4h1.3v1.3h-1.3zM399.2,130.8h1.3v1.3h-1.3zM405.7,117.3h1.3v1.3h-1.3zM388.7,135.2h1.3v1.3h-1.3zM396.9,127.1h1.3v1.3h-1.3zM415.4,120.1h1.3v1.3h-1.3zM392.5,131.8h1.3v1.3h-1.3zM400.6,134.0h1.3v1.3h-1.3zM410.5,123.9h1.3v1.3h-1.3zM408.8,128.3h1.3v1.3h-1.3zM412.3,126.9h1.3v1.3h-1.3zM412.0,128.7h1.3v1.3h-1.3zM414.7,120.9h1.3v1.3h-1.3zM389.8,134.6h1.3v1.3h-1.3zM405.9,128.6h1.3v1.3h-1.3zM398.8,127.2h1.3v1.3h-1.3zM399.3,126.3h1.3v1.3h-1.3zM405.5,120.2h1.3v1.3h-1.3zM397.1,118.4h1.3v1.3h-1.3zM409.8,120.8h1.3v1.3h-1.3zM412.2,116.6h1.3v1.3h-1.3zM403.9,128.2h1.3v1.3h-1.3zM411.7,119.2h1.3v1.3h-1.3zM407.0,123.3h1.3v1.3h-1.3zM405.4,121.9h1.3v1.3h-1.3zM404.2,118.5h1.3v1.3h-1.3zM398.0,130.6h1.3v1.3h-1.3zM405.7,121.2h1.3v1.3h-1.3zM409.7,115.8h1.3v1.3h-1.3zM398.9,123.3h1.3v1.3h-1.3zM407.0,128.2h1.3v1.3h-1.3zM401.8,117.7h1.3v1.3h-1.3zM409.7,124.2h1.3v1.3h-1.3zM397.0,129.1h1.3v1.3h-1.3zM422.6,111.5h1.3v1.3h-1.3zM405.7,128.5h1.3v1.3h-1.3zM392.9,132.7h1.3v1.3h-1.3zM399.0,115.4h1.3v1.3h-1.3zM399.6,130.6h1.3v1.3h-1.3zM412.6,120.2h1.3v1.3h-1.3zM392.5,126.5h1.3v1.3h-1.3zM400.3,133.2h1.3v1.3h-1.3zM405.7,122.3h1.3v1.3h-1.3zM400.1,124.6h1.3v1.3h-1.3zM410.0,125.8h1.3v1.3h-1.3zM401.9,121.3h1.3v1.3h-1.3zM411.5,115.1h1.3v1.3h-1.3zM418.8,116.9h1.3v1.3h-1.3zM412.0,127.4h1.3v1.3h-1.3zM408.9,121.0h1.3v1.3h-1.3zM402.2,128.4h1.3v1.3h-1.3zM393.5,130.8h1.3v1.3h-1.3zM413.9,121.3h1.3v1.3h-1.3zM407.5,126.3h1.3v1.3h-1.3zM405.2,129.1h1.3v1.3h-1.3zM406.2,125.1h1.3v1.3h-1.3zM405.7,127.1h1.3v1.3h-1.3zM393.0,133.1h1.3v1.3h-1.3zM411.8,114.2h1.3v1.3h-1.3zM400.2,124.1h1.3v1.3h-1.3zM409.4,120.6h1.3v1.3h-1.3zM389.8,132.2h1.3v1.3h-1.3zM394.8,125.7h1.3v1.3h-1.3zM409.7,119.5h1.3v1.3h-1.3zM408.9,128.1h1.3v1.3h-1.3zM411.2,120.9h1.3v1.3h-1.3zM401.4,130.0h1.3v1.3h-1.3zM394.3,132.8h1.3v1.3h-1.3zM429.2,110.1h1.3v1.3h-1.3zM404.8,127.8h1.3v1.3h-1.3zM397.8,131.4h1.3v1.3h-1.3zM395.5,126.6h1.3v1.3h-1.3zM400.7,123.6h1.3v1.3h-1.3zM393.2,127.6h1.3v1.3h-1.3zM402.8,123.3h1.3v1.3h-1.3zM402.1,130.3h1.3v1.3h-1.3zM413.3,122.0h1.3v1.3h-1.3zM401.7,130.5h1.3v1.3h-1.3zM404.7,126.7h1.3v1.3h-1.3zM405.4,123.1h1.3v1.3h-1.3zM397.1,135.4h1.3v1.3h-1.3zM406.7,119.9h1.3v1.3h-1.3zM408.9,127.5h1.3v1.3h-1.3zM408.1,121.4h1.3v1.3h-1.3zM405.4,122.8h1.3v1.3h-1.3zM400.2,126.7h1.3v1.3h-1.3zM410.9,123.7h1.3v1.3h-1.3zM390.8,133.5h1.3v1.3h-1.3zM404.7,133.0h1.3v1.3h-1.3zM397.2,126.8h1.3v1.3h-1.3zM401.7,126.3h1.3v1.3h-1.3zM392.3,128.2h1.3v1.3h-1.3zM417.9,118.3h1.3v1.3h-1.3zM396.8,134.5h1.3v1.3h-1.3zM410.6,121.2h1.3v1.3h-1.3zM396.2,124.7h1.3v1.3h-1.3zM409.5,119.7h1.3v1.3h-1.3zM388.0,135.0h1.3v1.3h-1.3zM408.3,128.2h1.3v1.3h-1.3zM410.9,115.3h1.3v1.3h-1.3zM411.8,124.1h1.3v1.3h-1.3zM397.0,125.4h1.3v1.3h-1.3zM411.5,115.9h1.3v1.3h-1.3zM413.2,120.6h1.3v1.3h-1.3zM399.5,136.0h1.3v1.3h-1.3zM409.7,112.4h1.3v1.3h-1.3zM399.1,130.3h1.3v1.3h-1.3zM408.5,121.2h1.3v1.3h-1.3zM391.4,135.8h1.3v1.3h-1.3zM393.7,122.7h1.3v1.3h-1.3zM396.9,125.8h1.3v1.3h-1.3zM419.3,108.5h1.3v1.3h-1.3zM415.1,112.0h1.3v1.3h-1.3zM392.5,133.5h1.3v1.3h-1.3zM396.8,130.8h1.3v1.3h-1.3zM425.3,120.4h1.3v1.3h-1.3zM407.7,128.6h1.3v1.3h-1.3zM414.4,113.9h1.3v1.3h-1.3zM398.6,119.6h1.3v1.3h-1.3zM403.6,120.0h1.3v1.3h-1.3zM405.6,126.9h1.3v1.3h-1.3zM399.8,128.4h1.3v1.3h-1.3zM408.2,122.4h1.3v1.3h-1.3zM423.1,115.3h1.3v1.3h-1.3zM399.0,131.4h1.3v1.3h-1.3zM396.4,136.0h1.3v1.3h-1.3zM394.6,126.9h1.3v1.3h-1.3zM403.5,126.4h1.3v1.3h-1.3zM406.0,119.7h1.3v1.3h-1.3zM408.2,119.7h1.3v1.3h-1.3zM398.2,129.9h1.3v1.3h-1.3zM396.4,130.2h1.3v1.3h-1.3zM396.1,131.6h1.3v1.3h-1.3zM401.5,127.8h1.3v1.3h-1.3zM400.7,129.4h1.3v1.3h-1.3zM414.1,121.1h1.3v1.3h-1.3zM394.4,130.1h1.3v1.3h-1.3zM393.7,135.9h1.3v1.3h-1.3zM403.7,132.8h1.3v1.3h-1.3zM411.8,128.1h1.3v1.3h-1.3zM395.4,127.9h1.3v1.3h-1.3zM392.8,132.7h1.3v1.3h-1.3zM401.8,125.4h1.3v1.3h-1.3zM400.2,136.7h1.3v1.3h-1.3zM401.7,132.5h1.3v1.3h-1.3zM403.1,129.6h1.3v1.3h-1.3zM400.3,128.4h1.3v1.3h-1.3zM409.6,118.9h1.3v1.3h-1.3zM394.5,131.0h1.3v1.3h-1.3zM415.4,116.8h1.3v1.3h-1.3zM396.8,130.1h1.3v1.3h-1.3zM400.0,123.6h1.3v1.3h-1.3zM403.3,124.2h1.3v1.3h-1.3zM421.8,121.1h1.3v1.3h-1.3zM394.4,138.4h1.3v1.3h-1.3zM388.0,132.1h1.3v1.3h-1.3zM397.5,125.1h1.3v1.3h-1.3zM403.2,124.2h1.3v1.3h-1.3zM400.4,126.1h1.3v1.3h-1.3zM396.2,131.0h1.3v1.3h-1.3zM396.2,128.2h1.3v1.3h-1.3zM395.2,130.4h1.3v1.3h-1.3zM403.3,131.1h1.3v1.3h-1.3zM392.2,131.0h1.3v1.3h-1.3zM394.7,132.1h1.3v1.3h-1.3zM406.5,124.6h1.3v1.3h-1.3zM393.9,128.5h1.3v1.3h-1.3zM408.6,128.5h1.3v1.3h-1.3zM392.6,132.2h1.3v1.3h-1.3zM392.8,125.6h1.3v1.3h-1.3zM398.6,131.0h1.3v1.3h-1.3zM398.5,132.4h1.3v1.3h-1.3zM393.0,132.1h1.3v1.3h-1.3zM407.9,132.5h1.3v1.3h-1.3zM398.1,125.7h1.3v1.3h-1.3zM399.7,123.1h1.3v1.3h-1.3zM398.3,129.5h1.3v1.3h-1.3zM395.3,134.1h1.3v1.3h-1.3zM404.2,130.9h1.3v1.3h-1.3zM395.4,133.0h1.3v1.3h-1.3zM394.1,131.5h1.3v1.3h-1.3zM396.7,128.0h1.3v1.3h-1.3zM395.2,133.4h1.3v1.3h-1.3zM397.5,128.1h1.3v1.3h-1.3zM391.5,138.0h1.3v1.3h-1.3zM390.9,130.1h1.3v1.3h-1.3zM401.0,131.4h1.3v1.3h-1.3zM396.6,128.0h1.3v1.3h-1.3zM402.6,129.9h1.3v1.3h-1.3zM394.8,127.1h1.3v1.3h-1.3zM408.1,120.3h1.3v1.3h-1.3zM390.3,132.3h1.3v1.3h-1.3zM394.5,131.9h1.3v1.3h-1.3zM392.7,134.1h1.3v1.3h-1.3zM395.9,125.3h1.3v1.3h-1.3zM399.5,128.0h1.3v1.3h-1.3zM396.1,133.3h1.3v1.3h-1.3zM394.9,127.6h1.3v1.3h-1.3zM400.2,122.7h1.3v1.3h-1.3zM397.3,130.4h1.3v1.3h-1.3zM387.9,133.6h1.3v1.3h-1.3zM387.4,130.3h1.3v1.3h-1.3zM392.9,132.5h1.3v1.3h-1.3zM389.2,135.8h1.3v1.3h-1.3zM391.3,129.6h1.3v1.3h-1.3zM397.2,134.2h1.3v1.3h-1.3zM393.6,135.7h1.3v1.3h-1.3zM398.9,130.2h1.3v1.3h-1.3zM396.6,132.6h1.3v1.3h-1.3zM393.1,133.8h1.3v1.3h-1.3zM388.0,132.8h1.3v1.3h-1.3zM398.0,135.5h1.3v1.3h-1.3zM396.5,127.1h1.3v1.3h-1.3zM397.2,126.3h1.3v1.3h-1.3zM394.7,131.6h1.3v1.3h-1.3zM389.5,137.0h1.3v1.3h-1.3zM397.2,128.8h1.3v1.3h-1.3zM401.8,127.8h1.3v1.3h-1.3zM391.1,132.0h1.3v1.3h-1.3zM395.3,125.6h1.3v1.3h-1.3zM405.8,123.2h1.3v1.3h-1.3zM390.3,135.4h1.3v1.3h-1.3zM397.0,132.8h1.3v1.3h-1.3zM398.6,127.5h1.3v1.3h-1.3zM400.2,128.3h1.3v1.3h-1.3zM391.6,135.8h1.3v1.3h-1.3zM395.4,127.0h1.3v1.3h-1.3zM403.9,124.1h1.3v1.3h-1.3zM397.8,128.0h1.3v1.3h-1.3zM400.1,124.9h1.3v1.3h-1.3zM400.3,133.9h1.3v1.3h-1.3zM400.8,127.5h1.3v1.3h-1.3zM393.7,130.4h1.3v1.3h-1.3zM397.4,130.5h1.3v1.3h-1.3zM387.6,134.7h1.3v1.3h-1.3zM398.8,129.8h1.3v1.3h-1.3zM388.1,133.3h1.3v1.3h-1.3zM399.6,128.7h1.3v1.3h-1.3zM398.1,131.1h1.3v1.3h-1.3zM392.7,130.9h1.3v1.3h-1.3zM394.2,131.3h1.3v1.3h-1.3zM412.3,120.9h1.3v1.3h-1.3zM396.7,135.9h1.3v1.3h-1.3zM396.5,128.3h1.3v1.3h-1.3zM392.5,133.5h1.3v1.3h-1.3zM393.0,130.2h1.3v1.3h-1.3zM402.8,128.2h1.3v1.3h-1.3zM400.9,127.8h1.3v1.3h-1.3zM395.0,132.4h1.3v1.3h-1.3zM391.7,128.9h1.3v1.3h-1.3zM400.4,132.1h1.3v1.3h-1.3zM400.2,131.3h1.3v1.3h-1.3zM388.5,130.8h1.3v1.3h-1.3zM389.6,130.3h1.3v1.3h-1.3zM397.0,127.6h1.3v1.3h-1.3zM398.6,126.1h1.3v1.3h-1.3zM397.7,128.3h1.3v1.3h-1.3zM397.2,126.9h1.3v1.3h-1.3zM394.0,128.7h1.3v1.3h-1.3zM403.5,127.6h1.3v1.3h-1.3zM398.2,131.6h1.3v1.3h-1.3zM394.6,130.9h1.3v1.3h-1.3zM394.3,134.7h1.3v1.3h-1.3zM395.9,130.5h1.3v1.3h-1.3zM397.6,128.0h1.3v1.3h-1.3zM387.1,130.7h1.3v1.3h-1.3zM395.1,133.9h1.3v1.3h-1.3zM394.1,130.5h1.3v1.3h-1.3zM400.4,130.1h1.3v1.3h-1.3zM396.8,135.7h1.3v1.3h-1.3zM396.8,131.0h1.3v1.3h-1.3zM393.8,129.2h1.3v1.3h-1.3zM405.0,123.4h1.3v1.3h-1.3zM392.1,128.0h1.3v1.3h-1.3zM394.3,131.9h1.3v1.3h-1.3zM393.1,130.9h1.3v1.3h-1.3zM398.8,129.2h1.3v1.3h-1.3zM395.0,132.0h1.3v1.3h-1.3zM394.0,128.9h1.3v1.3h-1.3zM393.4,132.7h1.3v1.3h-1.3zM395.0,133.9h1.3v1.3h-1.3zM394.9,136.2h1.3v1.3h-1.3zM398.0,128.3h1.3v1.3h-1.3zM394.5,126.8h1.3v1.3h-1.3zM391.9,131.2h1.3v1.3h-1.3zM398.4,131.6h1.3v1.3h-1.3zM394.8,128.7h1.3v1.3h-1.3zM396.3,130.0h1.3v1.3h-1.3zM403.0,127.0h1.3v1.3h-1.3zM387.7,137.3h1.3v1.3h-1.3zM400.2,129.4h1.3v1.3h-1.3zM397.6,125.4h1.3v1.3h-1.3zM398.5,131.5h1.3v1.3h-1.3zM394.5,132.7h1.3v1.3h-1.3zM391.5,131.8h1.3v1.3h-1.3zM400.6,127.6h1.3v1.3h-1.3zM393.2,129.0h1.3v1.3h-1.3zM395.5,129.4h1.3v1.3h-1.3zM391.4,131.1h1.3v1.3h-1.3zM399.7,125.1h1.3v1.3h-1.3zM396.1,129.5h1.3v1.3h-1.3zM393.1,129.6h1.3v1.3h-1.3zM399.9,125.7h1.3v1.3h-1.3zM394.1,135.8h1.3v1.3h-1.3zM395.7,131.8h1.3v1.3h-1.3zM392.3,130.9h1.3v1.3h-1.3zM400.7,127.5h1.3v1.3h-1.3zM401.5,127.1h1.3v1.3h-1.3zM391.2,135.2h1.3v1.3h-1.3zM394.3,129.7h1.3v1.3h-1.3zM400.6,128.4h1.3v1.3h-1.3zM401.0,131.2h1.3v1.3h-1.3zM395.4,126.5h1.3v1.3h-1.3zM398.2,126.6h1.3v1.3h-1.3zM391.7,129.9h1.3v1.3h-1.3zM404.0,129.1h1.3v1.3h-1.3zM391.1,136.5h1.3v1.3h-1.3zM391.6,131.3h1.3v1.3h-1.3zM394.5,125.8h1.3v1.3h-1.3zM399.6,131.4h1.3v1.3h-1.3zM397.2,130.9h1.3v1.3h-1.3zM399.9,126.3h1.3v1.3h-1.3zM394.3,129.0h1.3v1.3h-1.3zM398.8,129.9h1.3v1.3h-1.3zM397.3,128.2h1.3v1.3h-1.3zM394.4,133.9h1.3v1.3h-1.3zM402.3,128.0h1.3v1.3h-1.3zM393.1,130.9h1.3v1.3h-1.3zM388.8,134.3h1.3v1.3h-1.3zM389.3,135.5h1.3v1.3h-1.3zM387.2,137.4h1.3v1.3h-1.3zM400.4,129.4h1.3v1.3h-1.3zM390.0,128.4h1.3v1.3h-1.3zM392.9,127.8h1.3v1.3h-1.3zM393.4,136.8h1.3v1.3h-1.3zM405.1,128.0h1.3v1.3h-1.3zM399.8,125.4h1.3v1.3h-1.3zM389.6,133.8h1.3v1.3h-1.3zM393.2,130.4h1.3v1.3h-1.3zM396.0,135.0h1.3v1.3h-1.3zM396.3,128.4h1.3v1.3h-1.3zM394.6,129.9h1.3v1.3h-1.3zM393.4,132.4h1.3v1.3h-1.3zM397.7,129.7h1.3v1.3h-1.3zM402.3,125.0h1.3v1.3h-1.3zM400.2,126.7h1.3v1.3h-1.3zM396.8,134.2h1.3v1.3h-1.3zM441.3,71.7h1.3v1.3h-1.3zM436.7,86.3h1.3v1.3h-1.3zM435.3,75.6h1.3v1.3h-1.3zM437.1,91.7h1.3v1.3h-1.3zM434.6,90.1h1.3v1.3h-1.3zM434.5,91.0h1.3v1.3h-1.3zM430.8,73.6h1.3v1.3h-1.3zM441.2,96.3h1.3v1.3h-1.3zM430.3,87.7h1.3v1.3h-1.3zM433.4,94.6h1.3v1.3h-1.3zM440.3,96.3h1.3v1.3h-1.3zM439.3,79.3h1.3v1.3h-1.3zM433.6,89.3h1.3v1.3h-1.3zM435.9,83.4h1.3v1.3h-1.3zM424.3,93.6h1.3v1.3h-1.3zM438.4,85.2h1.3v1.3h-1.3zM433.3,91.7h1.3v1.3h-1.3zM431.8,90.0h1.3v1.3h-1.3zM450.6,93.6h1.3v1.3h-1.3zM443.8,80.9h1.3v1.3h-1.3zM436.7,83.0h1.3v1.3h-1.3zM433.5,72.7h1.3v1.3h-1.3zM438.3,84.7h1.3v1.3h-1.3zM434.9,83.0h1.3v1.3h-1.3zM429.4,86.8h1.3v1.3h-1.3zM432.2,79.9h1.3v1.3h-1.3zM438.8,98.1h1.3v1.3h-1.3zM434.3,77.2h1.3v1.3h-1.3zM428.6,93.1h1.3v1.3h-1.3zM440.9,85.4h1.3v1.3h-1.3zM433.1,93.3h1.3v1.3h-1.3zM436.5,88.5h1.3v1.3h-1.3zM436.7,81.3h1.3v1.3h-1.3zM439.3,86.8h1.3v1.3h-1.3zM432.7,84.2h1.3v1.3h-1.3zM435.0,83.2h1.3v1.3h-1.3zM432.7,86.2h1.3v1.3h-1.3zM432.4,88.8h1.3v1.3h-1.3zM436.4,76.0h1.3v1.3h-1.3zM432.7,80.2h1.3v1.3h-1.3zM437.4,83.6h1.3v1.3h-1.3zM439.2,88.5h1.3v1.3h-1.3zM438.6,82.2h1.3v1.3h-1.3zM416.8,81.8h1.3v1.3h-1.3zM438.8,70.1h1.3v1.3h-1.3zM429.8,83.7h1.3v1.3h-1.3zM437.4,91.6h1.3v1.3h-1.3zM442.0,81.1h1.3v1.3h-1.3zM431.3,93.2h1.3v1.3h-1.3zM433.3,67.0h1.3v1.3h-1.3zM447.2,102.6h1.3v1.3h-1.3zM425.7,79.5h1.3v1.3h-1.3zM435.0,89.1h1.3v1.3h-1.3zM438.8,83.7h1.3v1.3h-1.3zM437.1,82.5h1.3v1.3h-1.3zM429.7,74.8h1.3v1.3h-1.3zM433.1,76.1h1.3v1.3h-1.3zM439.3,84.2h1.3v1.3h-1.3zM436.3,84.8h1.3v1.3h-1.3zM425.6,86.8h1.3v1.3h-1.3zM437.9,96.3h1.3v1.3h-1.3zM427.5,76.5h1.3v1.3h-1.3zM439.9,95.8h1.3v1.3h-1.3zM438.0,84.8h1.3v1.3h-1.3zM440.8,86.8h1.3v1.3h-1.3zM434.3,90.0h1.3v1.3h-1.3zM436.5,85.4h1.3v1.3h-1.3zM432.0,87.0h1.3v1.3h-1.3zM431.5,79.9h1.3v1.3h-1.3zM430.0,95.9h1.3v1.3h-1.3zM430.3,76.5h1.3v1.3h-1.3zM432.8,79.7h1.3v1.3h-1.3zM439.5,88.2h1.3v1.3h-1.3zM439.6,80.7h1.3v1.3h-1.3zM435.3,89.7h1.3v1.3h-1.3zM435.2,93.9h1.3v1.3h-1.3zM434.0,88.7h1.3v1.3h-1.3zM437.9,81.9h1.3v1.3h-1.3zM432.1,78.1h1.3v1.3h-1.3zM442.0,84.0h1.3v1.3h-1.3zM431.5,80.7h1.3v1.3h-1.3zM422.3,88.8h1.3v1.3h-1.3zM438.7,69.7h1.3v1.3h-1.3zM431.5,73.2h1.3v1.3h-1.3zM448.2,70.5h1.3v1.3h-1.3zM422.7,76.3h1.3v1.3h-1.3zM436.6,77.0h1.3v1.3h-1.3zM434.6,89.0h1.3v1.3h-1.3zM434.3,73.3h1.3v1.3h-1.3zM440.1,86.6h1.3v1.3h-1.3zM437.6,78.1h1.3v1.3h-1.3zM438.6,84.8h1.3v1.3h-1.3zM431.9,90.0h1.3v1.3h-1.3zM433.2,88.6h1.3v1.3h-1.3zM426.9,95.0h1.3v1.3h-1.3zM440.3,92.8h1.3v1.3h-1.3zM428.4,84.8h1.3v1.3h-1.3zM443.4,75.1h1.3v1.3h-1.3zM433.3,92.2h1.3v1.3h-1.3zM432.6,91.2h1.3v1.3h-1.3zM432.5,80.9h1.3v1.3h-1.3zM429.7,90.3h1.3v1.3h-1.3zM434.1,84.7h1.3v1.3h-1.3zM431.3,90.4h1.3v1.3h-1.3zM429.3,90.1h1.3v1.3h-1.3zM438.4,86.3h1.3v1.3h-1.3zM418.5,79.9h1.3v1.3h-1.3zM435.1,91.0h1.3v1.3h-1.3zM434.1,107.0h1.3v1.3h-1.3zM426.5,75.8h1.3v1.3h-1.3zM447.2,68.2h1.3v1.3h-1.3zM431.5,84.2h1.3v1.3h-1.3zM439.8,93.7h1.3v1.3h-1.3zM445.1,89.9h1.3v1.3h-1.3zM437.4,93.1h1.3v1.3h-1.3zM437.5,84.6h1.3v1.3h-1.3zM441.4,93.1h1.3v1.3h-1.3zM435.5,70.9h1.3v1.3h-1.3zM429.0,81.9h1.3v1.3h-1.3zM437.9,88.2h1.3v1.3h-1.3zM434.0,73.9h1.3v1.3h-1.3zM441.8,80.2h1.3v1.3h-1.3zM437.0,93.0h1.3v1.3h-1.3zM436.0,71.1h1.3v1.3h-1.3zM441.3,94.7h1.3v1.3h-1.3zM424.1,89.5h1.3v1.3h-1.3zM436.4,88.6h1.3v1.3h-1.3zM433.8,81.9h1.3v1.3h-1.3zM440.4,82.9h1.3v1.3h-1.3zM442.4,95.2h1.3v1.3h-1.3zM438.1,81.3h1.3v1.3h-1.3zM427.3,75.1h1.3v1.3h-1.3zM426.7,95.3h1.3v1.3h-1.3zM450.2,74.8h1.3v1.3h-1.3zM437.6,74.3h1.3v1.3h-1.3zM441.8,93.0h1.3v1.3h-1.3zM438.2,74.0h1.3v1.3h-1.3zM434.6,83.9h1.3v1.3h-1.3zM432.9,79.0h1.3v1.3h-1.3zM432.5,88.9h1.3v1.3h-1.3zM428.7,91.5h1.3v1.3h-1.3zM436.7,80.9h1.3v1.3h-1.3zM433.4,92.4h1.3v1.3h-1.3zM437.4,81.8h1.3v1.3h-1.3zM442.5,88.2h1.3v1.3h-1.3zM433.2,80.6h1.3v1.3h-1.3zM443.9,84.9h1.3v1.3h-1.3zM435.1,91.6h1.3v1.3h-1.3zM433.4,77.4h1.3v1.3h-1.3zM440.2,76.1h1.3v1.3h-1.3zM426.4,78.2h1.3v1.3h-1.3zM430.4,80.0h1.3v1.3h-1.3zM422.4,85.2h1.3v1.3h-1.3zM430.6,74.9h1.3v1.3h-1.3zM436.2,74.7h1.3v1.3h-1.3zM433.1,69.6h1.3v1.3h-1.3zM433.0,70.2h1.3v1.3h-1.3zM432.8,91.9h1.3v1.3h-1.3zM440.5,87.5h1.3v1.3h-1.3zM435.2,94.7h1.3v1.3h-1.3zM433.6,83.6h1.3v1.3h-1.3zM431.6,81.5h1.3v1.3h-1.3zM422.8,77.7h1.3v1.3h-1.3zM433.2,73.4h1.3v1.3h-1.3zM433.6,89.5h1.3v1.3h-1.3zM433.0,82.4h1.3v1.3h-1.3zM438.8,88.0h1.3v1.3h-1.3zM431.1,81.2h1.3v1.3h-1.3zM440.1,97.7h1.3v1.3h-1.3zM429.7,89.6h1.3v1.3h-1.3zM445.0,75.2h1.3v1.3h-1.3zM439.9,80.7h1.3v1.3h-1.3zM429.3,76.0h1.3v1.3h-1.3zM433.0,90.5h1.3v1.3h-1.3zM446.3,95.5h1.3v1.3h-1.3zM443.2,83.0h1.3v1.3h-1.3zM430.4,83.1h1.3v1.3h-1.3zM430.8,83.1h1.3v1.3h-1.3zM431.9,93.5h1.3v1.3h-1.3zM450.3,88.3h1.3v1.3h-1.3zM441.0,84.8h1.3v1.3h-1.3zM439.3,94.1h1.3v1.3h-1.3zM429.7,109.4h1.3v1.3h-1.3zM441.1,81.1h1.3v1.3h-1.3zM429.0,78.1h1.3v1.3h-1.3zM438.8,62.3h1.3v1.3h-1.3zM436.8,77.5h1.3v1.3h-1.3zM438.9,78.6h1.3v1.3h-1.3zM435.4,87.6h1.3v1.3h-1.3zM439.5,75.1h1.3v1.3h-1.3zM429.0,93.1h1.3v1.3h-1.3zM435.3,70.8h1.3v1.3h-1.3zM434.4,97.4h1.3v1.3h-1.3zM440.0,78.7h1.3v1.3h-1.3zM446.3,83.0h1.3v1.3h-1.3zM446.5,89.9h1.3v1.3h-1.3zM440.6,83.4h1.3v1.3h-1.3zM428.9,86.6h1.3v1.3h-1.3zM442.9,76.0h1.3v1.3h-1.3zM433.4,76.0h1.3v1.3h-1.3zM440.6,77.6h1.3v1.3h-1.3zM437.1,82.2h1.3v1.3h-1.3zM430.9,85.0h1.3v1.3h-1.3zM436.2,90.1h1.3v1.3h-1.3zM433.9,83.2h1.3v1.3h-1.3zM436.7,76.4h1.3v1.3h-1.3zM429.8,87.5h1.3v1.3h-1.3zM437.0,87.3h1.3v1.3h-1.3zM437.4,88.0h1.3v1.3h-1.3zM442.1,86.2h1.3v1.3h-1.3zM421.1,109.6h1.3v1.3h-1.3zM427.2,117.2h1.3v1.3h-1.3zM434.3,101.3h1.3v1.3h-1.3zM427.1,135.3h1.3v1.3h-1.3zM432.1,106.7h1.3v1.3h-1.3zM430.9,117.1h1.3v1.3h-1.3zM423.1,90.8h1.3v1.3h-1.3zM420.8,134.7h1.3v1.3h-1.3zM434.0,114.7h1.3v1.3h-1.3zM432.1,114.0h1.3v1.3h-1.3zM438.3,102.1h1.3v1.3h-1.3zM424.7,106.8h1.3v1.3h-1.3zM420.9,136.9h1.3v1.3h-1.3zM435.3,122.7h1.3v1.3h-1.3zM415.0,118.1h1.3v1.3h-1.3zM424.0,112.3h1.3v1.3h-1.3zM427.7,126.5h1.3v1.3h-1.3zM423.7,109.4h1.3v1.3h-1.3zM422.4,116.5h1.3v1.3h-1.3zM422.0,112.9h1.3v1.3h-1.3zM438.9,111.6h1.3v1.3h-1.3zM434.8,112.9h1.3v1.3h-1.3zM422.2,121.3h1.3v1.3h-1.3zM428.5,113.0h1.3v1.3h-1.3zM424.4,111.1h1.3v1.3h-1.3zM423.7,117.2h1.3v1.3h-1.3zM428.0,130.7h1.3v1.3h-1.3zM434.1,117.4h1.3v1.3h-1.3zM428.7,118.3h1.3v1.3h-1.3zM415.3,133.5h1.3v1.3h-1.3zM422.6,106.9h1.3v1.3h-1.3zM424.5,111.2h1.3v1.3h-1.3zM421.8,127.3h1.3v1.3h-1.3zM425.2,106.2h1.3v1.3h-1.3zM418.0,119.9h1.3v1.3h-1.3zM430.5,116.4h1.3v1.3h-1.3zM427.9,109.3h1.3v1.3h-1.3zM429.8,129.1h1.3v1.3h-1.3zM431.9,126.6h1.3v1.3h-1.3zM426.0,101.8h1.3v1.3h-1.3zM442.8,101.8h1.3v1.3h-1.3zM430.6,126.6h1.3v1.3h-1.3zM423.4,99.4h1.3v1.3h-1.3zM430.1,133.3h1.3v1.3h-1.3zM437.5,111.5h1.3v1.3h-1.3zM436.0,113.4h1.3v1.3h-1.3zM415.0,126.1h1.3v1.3h-1.3zM427.2,119.8h1.3v1.3h-1.3zM437.2,125.4h1.3v1.3h-1.3zM427.4,118.6h1.3v1.3h-1.3zM427.5,129.4h1.3v1.3h-1.3zM430.1,120.2h1.3v1.3h-1.3zM429.3,129.6h1.3v1.3h-1.3zM428.1,128.7h1.3v1.3h-1.3zM421.9,114.2h1.3v1.3h-1.3zM431.9,111.5h1.3v1.3h-1.3zM427.8,122.2h1.3v1.3h-1.3zM436.5,104.1h1.3v1.3h-1.3zM424.2,130.0h1.3v1.3h-1.3zM430.3,114.4h1.3v1.3h-1.3zM422.5,92.6h1.3v1.3h-1.3zM415.4,127.2h1.3v1.3h-1.3zM429.5,107.0h1.3v1.3h-1.3zM416.8,122.8h1.3v1.3h-1.3zM436.7,102.3h1.3v1.3h-1.3zM426.5,117.5h1.3v1.3h-1.3zM422.7,113.6h1.3v1.3h-1.3zM418.8,117.3h1.3v1.3h-1.3zM420.1,105.6h1.3v1.3h-1.3zM435.8,106.9h1.3v1.3h-1.3zM432.0,105.4h1.3v1.3h-1.3zM429.6,108.3h1.3v1.3h-1.3zM430.9,109.3h1.3v1.3h-1.3zM421.9,125.2h1.3v1.3h-1.3zM422.0,108.7h1.3v1.3h-1.3zM431.1,126.7h1.3v1.3h-1.3zM422.1,124.3h1.3v1.3h-1.3zM433.3,119.2h1.3v1.3h-1.3zM426.6,125.6h1.3v1.3h-1.3zM427.3,100.2h1.3v1.3h-1.3zM423.9,121.8h1.3v1.3h-1.3zM438.3,109.9h1.3v1.3h-1.3zM421.2,105.9h1.3v1.3h-1.3zM420.4,111.7h1.3v1.3h-1.3zM412.8,129.0h1.3v1.3h-1.3zM433.6,124.5h1.3v1.3h-1.3zM423.7,117.3h1.3v1.3h-1.3zM428.1,123.1h1.3v1.3h-1.3zM424.0,98.0h1.3v1.3h-1.3zM437.1,114.3h1.3v1.3h-1.3zM421.1,123.8h1.3v1.3h-1.3zM426.3,112.5h1.3v1.3h-1.3zM437.7,123.7h1.3v1.3h-1.3zM428.9,122.7h1.3v1.3h-1.3zM428.9,125.5h1.3v1.3h-1.3zM430.3,105.1h1.3v1.3h-1.3zM425.7,121.6h1.3v1.3h-1.3zM428.7,132.5h1.3v1.3h-1.3zM439.0,132.8h1.3v1.3h-1.3zM425.9,127.7h1.3v1.3h-1.3zM437.1,123.3h1.3v1.3h-1.3zM425.0,97.0h1.3v1.3h-1.3zM427.3,126.5h1.3v1.3h-1.3zM428.0,115.8h1.3v1.3h-1.3zM423.5,119.9h1.3v1.3h-1.3zM426.8,109.9h1.3v1.3h-1.3zM432.7,108.7h1.3v1.3h-1.3zM407.2,73.5h1.3v1.3h-1.3zM406.6,70.6h1.3v1.3h-1.3zM410.9,83.4h1.3v1.3h-1.3zM416.7,92.1h1.3v1.3h-1.3zM401.2,86.4h1.3v1.3h-1.3zM407.1,89.8h1.3v1.3h-1.3zM399.6,95.2h1.3v1.3h-1.3zM408.9,86.1h1.3v1.3h-1.3zM423.5,73.7h1.3v1.3h-1.3zM400.0,69.3h1.3v1.3h-1.3zM408.8,71.3h1.3v1.3h-1.3zM400.2,70.6h1.3v1.3h-1.3zM415.8,83.3h1.3v1.3h-1.3zM402.1,83.0h1.3v1.3h-1.3zM409.9,60.5h1.3v1.3h-1.3zM420.8,67.9h1.3v1.3h-1.3zM406.5,82.6h1.3v1.3h-1.3zM410.6,82.1h1.3v1.3h-1.3zM404.8,81.6h1.3v1.3h-1.3zM414.0,80.5h1.3v1.3h-1.3zM409.7,82.1h1.3v1.3h-1.3zM406.7,82.6h1.3v1.3h-1.3zM416.9,78.1h1.3v1.3h-1.3zM418.6,81.3h1.3v1.3h-1.3zM415.5,91.1h1.3v1.3h-1.3zM428.8,137.1h1.3v1.3h-1.3zM427.0,137.2h1.3v1.3h-1.3zM424.6,137.3h1.3v1.3h-1.3zM426.7,137.0h1.3v1.3h-1.3zM428.8,136.9h1.3v1.3h-1.3zM421.8,136.8h1.3v1.3h-1.3zM442.1,137.4h1.3v1.3h-1.3zM436.5,135.7h1.3v1.3h-1.3zM425.6,134.3h1.3v1.3h-1.3zM449.3,138.4h1.3v1.3h-1.3zM441.2,136.7h1.3v1.3h-1.3zM435.1,137.3h1.3v1.3h-1.3zM411.9,137.6h1.3v1.3h-1.3zM435.8,136.8h1.3v1.3h-1.3zM434.0,136.9h1.3v1.3h-1.3zM421.5,137.3h1.3v1.3h-1.3zM435.0,137.0h1.3v1.3h-1.3z" fill="#111"/>
<rect x="386.50" y="42.00" width="107.00" height="98.00" fill="none" stroke="#111" stroke-width="1.1"/>
<line x1="420.70" y1="42.00" x2="420.70" y2="140.00" stroke="#111" stroke-width="1.0" stroke-linecap="butt"/>
<line x1="386.50" y1="102.00" x2="493.50" y2="102.00" stroke="#111" stroke-width="1.0" stroke-linecap="butt"/>
<line x1="386.50" y1="140.00" x2="386.50" y2="146.40" stroke="#111" stroke-width="1.1" stroke-linecap="butt"/>
<line x1="379.90" y1="140.00" x2="386.50" y2="140.00" stroke="#111" stroke-width="1.3" stroke-linecap="butt"/>
<line x1="394.55" y1="140.00" x2="394.55" y2="143.80" stroke="#111" stroke-width="1.1" stroke-linecap="butt"/>
<line x1="382.30" y1="132.62" x2="386.50" y2="132.62" stroke="#111" stroke-width="1.3" stroke-linecap="butt"/>
<line x1="399.26" y1="140.00" x2="399.26" y2="143.80" stroke="#111" stroke-width="1.1" stroke-linecap="butt"/>
<line x1="382.30" y1="128.31" x2="386.50" y2="128.31" stroke="#111" stroke-width="1.3" stroke-linecap="butt"/>
<line x1="402.61" y1="140.00" x2="402.61" y2="143.80" stroke="#111" stroke-width="1.1" stroke-linecap="butt"/>
<line x1="382.30" y1="125.25" x2="386.50" y2="125.25" stroke="#111" stroke-width="1.3" stroke-linecap="butt"/>
<line x1="405.20" y1="140.00" x2="405.20" y2="143.80" stroke="#111" stroke-width="1.1" stroke-linecap="butt"/>
<line x1="382.30" y1="122.88" x2="386.50" y2="122.88" stroke="#111" stroke-width="1.3" stroke-linecap="butt"/>
<line x1="407.32" y1="140.00" x2="407.32" y2="143.80" stroke="#111" stroke-width="1.1" stroke-linecap="butt"/>
<line x1="382.30" y1="120.94" x2="386.50" y2="120.94" stroke="#111" stroke-width="1.3" stroke-linecap="butt"/>
<line x1="409.11" y1="140.00" x2="409.11" y2="143.80" stroke="#111" stroke-width="1.1" stroke-linecap="butt"/>
<line x1="382.30" y1="119.30" x2="386.50" y2="119.30" stroke="#111" stroke-width="1.3" stroke-linecap="butt"/>
<line x1="410.66" y1="140.00" x2="410.66" y2="143.80" stroke="#111" stroke-width="1.1" stroke-linecap="butt"/>
<line x1="382.30" y1="117.87" x2="386.50" y2="117.87" stroke="#111" stroke-width="1.3" stroke-linecap="butt"/>
<line x1="412.03" y1="140.00" x2="412.03" y2="143.80" stroke="#111" stroke-width="1.1" stroke-linecap="butt"/>
<line x1="382.30" y1="116.62" x2="386.50" y2="116.62" stroke="#111" stroke-width="1.3" stroke-linecap="butt"/>
<line x1="413.25" y1="140.00" x2="413.25" y2="146.40" stroke="#111" stroke-width="1.1" stroke-linecap="butt"/>
<line x1="379.90" y1="115.50" x2="386.50" y2="115.50" stroke="#111" stroke-width="1.3" stroke-linecap="butt"/>
<line x1="421.30" y1="140.00" x2="421.30" y2="143.80" stroke="#111" stroke-width="1.1" stroke-linecap="butt"/>
<line x1="382.30" y1="108.12" x2="386.50" y2="108.12" stroke="#111" stroke-width="1.3" stroke-linecap="butt"/>
<line x1="426.01" y1="140.00" x2="426.01" y2="143.80" stroke="#111" stroke-width="1.1" stroke-linecap="butt"/>
<line x1="382.30" y1="103.81" x2="386.50" y2="103.81" stroke="#111" stroke-width="1.3" stroke-linecap="butt"/>
<line x1="429.36" y1="140.00" x2="429.36" y2="143.80" stroke="#111" stroke-width="1.1" stroke-linecap="butt"/>
<line x1="382.30" y1="100.75" x2="386.50" y2="100.75" stroke="#111" stroke-width="1.3" stroke-linecap="butt"/>
<line x1="431.95" y1="140.00" x2="431.95" y2="143.80" stroke="#111" stroke-width="1.1" stroke-linecap="butt"/>
<line x1="382.30" y1="98.38" x2="386.50" y2="98.38" stroke="#111" stroke-width="1.3" stroke-linecap="butt"/>
<line x1="434.07" y1="140.00" x2="434.07" y2="143.80" stroke="#111" stroke-width="1.1" stroke-linecap="butt"/>
<line x1="382.30" y1="96.44" x2="386.50" y2="96.44" stroke="#111" stroke-width="1.3" stroke-linecap="butt"/>
<line x1="435.86" y1="140.00" x2="435.86" y2="143.80" stroke="#111" stroke-width="1.1" stroke-linecap="butt"/>
<line x1="382.30" y1="94.80" x2="386.50" y2="94.80" stroke="#111" stroke-width="1.3" stroke-linecap="butt"/>
<line x1="437.41" y1="140.00" x2="437.41" y2="143.80" stroke="#111" stroke-width="1.1" stroke-linecap="butt"/>
<line x1="382.30" y1="93.37" x2="386.50" y2="93.37" stroke="#111" stroke-width="1.3" stroke-linecap="butt"/>
<line x1="438.78" y1="140.00" x2="438.78" y2="143.80" stroke="#111" stroke-width="1.1" stroke-linecap="butt"/>
<line x1="382.30" y1="92.12" x2="386.50" y2="92.12" stroke="#111" stroke-width="1.3" stroke-linecap="butt"/>
<line x1="440.00" y1="140.00" x2="440.00" y2="146.40" stroke="#111" stroke-width="1.1" stroke-linecap="butt"/>
<line x1="379.90" y1="91.00" x2="386.50" y2="91.00" stroke="#111" stroke-width="1.3" stroke-linecap="butt"/>
<line x1="448.05" y1="140.00" x2="448.05" y2="143.80" stroke="#111" stroke-width="1.1" stroke-linecap="butt"/>
<line x1="382.30" y1="83.62" x2="386.50" y2="83.62" stroke="#111" stroke-width="1.3" stroke-linecap="butt"/>
<line x1="452.76" y1="140.00" x2="452.76" y2="143.80" stroke="#111" stroke-width="1.1" stroke-linecap="butt"/>
<line x1="382.30" y1="79.31" x2="386.50" y2="79.31" stroke="#111" stroke-width="1.3" stroke-linecap="butt"/>
<line x1="456.11" y1="140.00" x2="456.11" y2="143.80" stroke="#111" stroke-width="1.1" stroke-linecap="butt"/>
<line x1="382.30" y1="76.25" x2="386.50" y2="76.25" stroke="#111" stroke-width="1.3" stroke-linecap="butt"/>
<line x1="458.70" y1="140.00" x2="458.70" y2="143.80" stroke="#111" stroke-width="1.1" stroke-linecap="butt"/>
<line x1="382.30" y1="73.88" x2="386.50" y2="73.88" stroke="#111" stroke-width="1.3" stroke-linecap="butt"/>
<line x1="460.82" y1="140.00" x2="460.82" y2="143.80" stroke="#111" stroke-width="1.1" stroke-linecap="butt"/>
<line x1="382.30" y1="71.94" x2="386.50" y2="71.94" stroke="#111" stroke-width="1.3" stroke-linecap="butt"/>
<line x1="462.61" y1="140.00" x2="462.61" y2="143.80" stroke="#111" stroke-width="1.1" stroke-linecap="butt"/>
<line x1="382.30" y1="70.30" x2="386.50" y2="70.30" stroke="#111" stroke-width="1.3" stroke-linecap="butt"/>
<line x1="464.16" y1="140.00" x2="464.16" y2="143.80" stroke="#111" stroke-width="1.1" stroke-linecap="butt"/>
<line x1="382.30" y1="68.87" x2="386.50" y2="68.87" stroke="#111" stroke-width="1.3" stroke-linecap="butt"/>
<line x1="465.53" y1="140.00" x2="465.53" y2="143.80" stroke="#111" stroke-width="1.1" stroke-linecap="butt"/>
<line x1="382.30" y1="67.62" x2="386.50" y2="67.62" stroke="#111" stroke-width="1.3" stroke-linecap="butt"/>
<line x1="466.75" y1="140.00" x2="466.75" y2="146.40" stroke="#111" stroke-width="1.1" stroke-linecap="butt"/>
<line x1="379.90" y1="66.50" x2="386.50" y2="66.50" stroke="#111" stroke-width="1.3" stroke-linecap="butt"/>
<line x1="474.80" y1="140.00" x2="474.80" y2="143.80" stroke="#111" stroke-width="1.1" stroke-linecap="butt"/>
<line x1="382.30" y1="59.12" x2="386.50" y2="59.12" stroke="#111" stroke-width="1.3" stroke-linecap="butt"/>
<line x1="479.51" y1="140.00" x2="479.51" y2="143.80" stroke="#111" stroke-width="1.1" stroke-linecap="butt"/>
<line x1="382.30" y1="54.81" x2="386.50" y2="54.81" stroke="#111" stroke-width="1.3" stroke-linecap="butt"/>
<line x1="482.86" y1="140.00" x2="482.86" y2="143.80" stroke="#111" stroke-width="1.1" stroke-linecap="butt"/>
<line x1="382.30" y1="51.75" x2="386.50" y2="51.75" stroke="#111" stroke-width="1.3" stroke-linecap="butt"/>
<line x1="485.45" y1="140.00" x2="485.45" y2="143.80" stroke="#111" stroke-width="1.1" stroke-linecap="butt"/>
<line x1="382.30" y1="49.38" x2="386.50" y2="49.38" stroke="#111" stroke-width="1.3" stroke-linecap="butt"/>
<line x1="487.57" y1="140.00" x2="487.57" y2="143.80" stroke="#111" stroke-width="1.1" stroke-linecap="butt"/>
<line x1="382.30" y1="47.44" x2="386.50" y2="47.44" stroke="#111" stroke-width="1.3" stroke-linecap="butt"/>
<line x1="489.36" y1="140.00" x2="489.36" y2="143.80" stroke="#111" stroke-width="1.1" stroke-linecap="butt"/>
<line x1="382.30" y1="45.80" x2="386.50" y2="45.80" stroke="#111" stroke-width="1.3" stroke-linecap="butt"/>
<line x1="490.91" y1="140.00" x2="490.91" y2="143.80" stroke="#111" stroke-width="1.1" stroke-linecap="butt"/>
<line x1="382.30" y1="44.37" x2="386.50" y2="44.37" stroke="#111" stroke-width="1.3" stroke-linecap="butt"/>
<line x1="492.28" y1="140.00" x2="492.28" y2="143.80" stroke="#111" stroke-width="1.1" stroke-linecap="butt"/>
<line x1="382.30" y1="43.12" x2="386.50" y2="43.12" stroke="#111" stroke-width="1.3" stroke-linecap="butt"/>
<line x1="493.50" y1="140.00" x2="493.50" y2="146.40" stroke="#111" stroke-width="1.1" stroke-linecap="butt"/>
<line x1="379.90" y1="42.00" x2="386.50" y2="42.00" stroke="#111" stroke-width="1.3" stroke-linecap="butt"/>
<text x="446.50" y="37.50" font-size="13.5" font-weight="normal" text-anchor="middle" fill="#1a1a1a">Vector</text>
<text x="382.90" y="160.70" font-size="13" font-weight="normal" text-anchor="middle" fill="#1a1a1a">10<tspan dy="-4.62" font-size="10.40">0</tspan></text>
<text x="410.50" y="160.70" font-size="13" font-weight="normal" text-anchor="middle" fill="#1a1a1a">10<tspan dy="-4.62" font-size="10.40">1</tspan></text>
<text x="437.70" y="160.70" font-size="13" font-weight="normal" text-anchor="middle" fill="#1a1a1a">10<tspan dy="-4.62" font-size="10.40">2</tspan></text>
<text x="464.50" y="160.70" font-size="13" font-weight="normal" text-anchor="middle" fill="#1a1a1a">10<tspan dy="-4.62" font-size="10.40">3</tspan></text>
<text x="491.90" y="160.70" font-size="13" font-weight="normal" text-anchor="middle" fill="#1a1a1a">10<tspan dy="-4.62" font-size="10.40">4</tspan></text>
<text x="376.20" y="126.00" font-size="13" font-weight="normal" text-anchor="middle" fill="#1a1a1a" transform="rotate(-90 376.20 126.00)">10<tspan dy="-4.62" font-size="10.40">1</tspan></text>
<text x="376.20" y="97.70" font-size="13" font-weight="normal" text-anchor="middle" fill="#1a1a1a" transform="rotate(-90 376.20 97.70)">10<tspan dy="-4.62" font-size="10.40">2</tspan></text>
<text x="376.20" y="70.40" font-size="13" font-weight="normal" text-anchor="middle" fill="#1a1a1a" transform="rotate(-90 376.20 70.40)">10<tspan dy="-4.62" font-size="10.40">3</tspan></text>
<text x="376.20" y="43.40" font-size="13" font-weight="normal" text-anchor="middle" fill="#1a1a1a" transform="rotate(-90 376.20 43.40)">10<tspan dy="-4.62" font-size="10.40">4</tspan></text>
<text x="401.60" y="97.30" font-size="9.7" font-weight="normal" text-anchor="middle" fill="#f5161e">4.6%</text>
<text x="471.90" y="94.90" font-size="9.7" font-weight="normal" text-anchor="middle" fill="#f5161e">21.2%</text>
<text x="402.30" y="111.70" font-size="9.7" font-weight="normal" text-anchor="middle" fill="#f5161e">60.4%</text>
<text x="470.20" y="132.60" font-size="9.7" font-weight="normal" text-anchor="middle" fill="#f5161e">13.8%</text>
<path d="M543.1,134.1h1.3v1.3h-1.3zM549.5,131.6h1.3v1.3h-1.3zM556.3,125.9h1.3v1.3h-1.3zM549.5,126.5h1.3v1.3h-1.3zM548.3,134.1h1.3v1.3h-1.3zM543.4,135.6h1.3v1.3h-1.3zM554.6,125.3h1.3v1.3h-1.3zM557.3,121.3h1.3v1.3h-1.3zM560.5,121.9h1.3v1.3h-1.3zM558.5,123.1h1.3v1.3h-1.3zM548.1,129.5h1.3v1.3h-1.3zM551.6,129.5h1.3v1.3h-1.3zM562.3,120.3h1.3v1.3h-1.3zM548.6,131.1h1.3v1.3h-1.3zM564.3,121.3h1.3v1.3h-1.3zM555.4,125.1h1.3v1.3h-1.3zM554.1,126.0h1.3v1.3h-1.3zM548.6,132.0h1.3v1.3h-1.3zM550.4,130.6h1.3v1.3h-1.3zM555.8,122.8h1.3v1.3h-1.3zM546.4,131.2h1.3v1.3h-1.3zM545.8,134.3h1.3v1.3h-1.3zM550.0,129.8h1.3v1.3h-1.3zM559.0,124.8h1.3v1.3h-1.3zM547.8,130.0h1.3v1.3h-1.3zM548.0,134.5h1.3v1.3h-1.3zM554.0,126.5h1.3v1.3h-1.3zM546.7,130.3h1.3v1.3h-1.3zM553.4,130.4h1.3v1.3h-1.3zM561.1,122.2h1.3v1.3h-1.3zM545.0,132.3h1.3v1.3h-1.3zM552.0,126.5h1.3v1.3h-1.3zM543.8,131.7h1.3v1.3h-1.3zM556.6,124.2h1.3v1.3h-1.3zM554.7,124.0h1.3v1.3h-1.3zM555.3,126.3h1.3v1.3h-1.3zM546.6,129.7h1.3v1.3h-1.3zM556.8,125.0h1.3v1.3h-1.3zM552.1,127.0h1.3v1.3h-1.3zM557.2,121.1h1.3v1.3h-1.3zM548.7,129.9h1.3v1.3h-1.3zM550.9,134.5h1.3v1.3h-1.3zM555.3,126.6h1.3v1.3h-1.3zM551.7,131.1h1.3v1.3h-1.3zM551.0,129.2h1.3v1.3h-1.3zM558.4,123.9h1.3v1.3h-1.3zM570.7,117.5h1.3v1.3h-1.3zM549.8,130.3h1.3v1.3h-1.3zM546.7,128.8h1.3v1.3h-1.3zM554.9,129.7h1.3v1.3h-1.3zM551.9,126.3h1.3v1.3h-1.3zM543.4,134.0h1.3v1.3h-1.3zM549.9,124.8h1.3v1.3h-1.3zM553.6,128.6h1.3v1.3h-1.3zM548.1,127.0h1.3v1.3h-1.3zM548.7,125.8h1.3v1.3h-1.3zM542.6,135.3h1.3v1.3h-1.3zM549.9,131.7h1.3v1.3h-1.3zM550.1,128.4h1.3v1.3h-1.3zM547.6,134.8h1.3v1.3h-1.3zM558.8,121.1h1.3v1.3h-1.3zM547.4,131.0h1.3v1.3h-1.3zM543.8,135.3h1.3v1.3h-1.3zM563.3,124.2h1.3v1.3h-1.3zM551.4,131.6h1.3v1.3h-1.3zM552.8,131.2h1.3v1.3h-1.3zM548.0,129.7h1.3v1.3h-1.3zM550.4,132.7h1.3v1.3h-1.3zM559.6,123.5h1.3v1.3h-1.3zM559.1,126.5h1.3v1.3h-1.3zM560.7,126.1h1.3v1.3h-1.3zM549.2,130.0h1.3v1.3h-1.3zM548.1,129.8h1.3v1.3h-1.3zM558.7,125.9h1.3v1.3h-1.3zM543.6,135.1h1.3v1.3h-1.3zM555.8,124.4h1.3v1.3h-1.3zM549.3,132.7h1.3v1.3h-1.3zM551.1,127.1h1.3v1.3h-1.3zM547.3,128.9h1.3v1.3h-1.3zM552.5,127.8h1.3v1.3h-1.3zM547.8,128.5h1.3v1.3h-1.3zM551.5,132.4h1.3v1.3h-1.3zM555.8,127.2h1.3v1.3h-1.3zM557.3,125.0h1.3v1.3h-1.3zM547.8,131.1h1.3v1.3h-1.3zM548.5,132.9h1.3v1.3h-1.3zM551.4,127.3h1.3v1.3h-1.3zM551.6,129.2h1.3v1.3h-1.3zM548.2,130.0h1.3v1.3h-1.3zM552.8,126.1h1.3v1.3h-1.3zM553.3,123.1h1.3v1.3h-1.3zM542.5,135.0h1.3v1.3h-1.3zM554.2,125.3h1.3v1.3h-1.3zM551.0,127.0h1.3v1.3h-1.3zM557.4,128.7h1.3v1.3h-1.3zM552.0,126.2h1.3v1.3h-1.3zM551.4,131.5h1.3v1.3h-1.3zM547.2,134.8h1.3v1.3h-1.3zM557.9,125.5h1.3v1.3h-1.3zM548.8,132.8h1.3v1.3h-1.3zM550.5,131.8h1.3v1.3h-1.3zM545.8,132.9h1.3v1.3h-1.3zM550.0,129.1h1.3v1.3h-1.3zM552.0,126.1h1.3v1.3h-1.3zM551.0,128.8h1.3v1.3h-1.3zM552.5,130.2h1.3v1.3h-1.3zM557.8,126.2h1.3v1.3h-1.3zM542.4,132.2h1.3v1.3h-1.3zM554.9,128.2h1.3v1.3h-1.3zM556.5,123.7h1.3v1.3h-1.3zM555.1,129.3h1.3v1.3h-1.3zM552.2,130.9h1.3v1.3h-1.3zM547.8,132.7h1.3v1.3h-1.3zM546.5,131.2h1.3v1.3h-1.3zM546.8,130.7h1.3v1.3h-1.3zM552.2,130.0h1.3v1.3h-1.3zM552.2,127.1h1.3v1.3h-1.3zM557.6,125.7h1.3v1.3h-1.3zM560.9,121.7h1.3v1.3h-1.3zM558.1,127.8h1.3v1.3h-1.3zM545.3,130.4h1.3v1.3h-1.3zM550.0,129.0h1.3v1.3h-1.3zM557.9,128.2h1.3v1.3h-1.3zM553.7,123.3h1.3v1.3h-1.3zM555.7,126.2h1.3v1.3h-1.3zM554.4,127.2h1.3v1.3h-1.3zM555.5,123.6h1.3v1.3h-1.3zM550.0,128.8h1.3v1.3h-1.3zM552.9,126.5h1.3v1.3h-1.3zM555.9,128.6h1.3v1.3h-1.3zM557.7,123.1h1.3v1.3h-1.3zM545.2,133.8h1.3v1.3h-1.3zM543.1,135.2h1.3v1.3h-1.3zM553.0,130.7h1.3v1.3h-1.3zM546.9,134.0h1.3v1.3h-1.3zM547.4,133.5h1.3v1.3h-1.3zM545.3,131.8h1.3v1.3h-1.3zM550.0,131.9h1.3v1.3h-1.3zM556.7,127.0h1.3v1.3h-1.3zM556.2,128.8h1.3v1.3h-1.3zM559.0,125.2h1.3v1.3h-1.3zM546.0,131.8h1.3v1.3h-1.3zM552.5,129.5h1.3v1.3h-1.3zM553.4,127.5h1.3v1.3h-1.3zM552.6,128.1h1.3v1.3h-1.3zM555.2,126.7h1.3v1.3h-1.3zM557.3,123.2h1.3v1.3h-1.3zM559.8,124.7h1.3v1.3h-1.3zM552.2,128.9h1.3v1.3h-1.3zM552.7,123.4h1.3v1.3h-1.3zM547.3,131.7h1.3v1.3h-1.3zM551.2,131.7h1.3v1.3h-1.3zM546.4,133.0h1.3v1.3h-1.3zM551.1,128.5h1.3v1.3h-1.3zM560.3,123.8h1.3v1.3h-1.3zM555.8,127.3h1.3v1.3h-1.3zM547.3,127.1h1.3v1.3h-1.3zM554.9,126.8h1.3v1.3h-1.3zM542.1,134.9h1.3v1.3h-1.3zM555.2,130.1h1.3v1.3h-1.3zM548.1,129.5h1.3v1.3h-1.3zM561.8,127.6h1.3v1.3h-1.3zM547.4,131.7h1.3v1.3h-1.3zM546.2,134.6h1.3v1.3h-1.3zM548.4,129.9h1.3v1.3h-1.3zM545.3,131.2h1.3v1.3h-1.3zM555.8,124.4h1.3v1.3h-1.3zM559.7,124.9h1.3v1.3h-1.3zM550.9,127.2h1.3v1.3h-1.3zM558.2,122.7h1.3v1.3h-1.3zM548.7,132.0h1.3v1.3h-1.3zM543.9,135.0h1.3v1.3h-1.3zM546.3,133.6h1.3v1.3h-1.3zM549.1,128.8h1.3v1.3h-1.3zM555.9,126.3h1.3v1.3h-1.3zM544.9,133.5h1.3v1.3h-1.3zM553.6,125.8h1.3v1.3h-1.3zM552.4,126.7h1.3v1.3h-1.3zM547.6,130.2h1.3v1.3h-1.3zM555.3,127.4h1.3v1.3h-1.3zM547.0,129.3h1.3v1.3h-1.3zM545.7,131.3h1.3v1.3h-1.3zM549.7,131.0h1.3v1.3h-1.3zM549.8,131.2h1.3v1.3h-1.3zM551.0,125.5h1.3v1.3h-1.3zM559.2,124.4h1.3v1.3h-1.3zM553.8,125.6h1.3v1.3h-1.3zM548.9,126.7h1.3v1.3h-1.3zM551.4,127.8h1.3v1.3h-1.3zM545.9,135.2h1.3v1.3h-1.3zM545.7,134.3h1.3v1.3h-1.3zM556.9,126.3h1.3v1.3h-1.3zM556.1,127.1h1.3v1.3h-1.3zM545.9,132.3h1.3v1.3h-1.3zM549.0,134.4h1.3v1.3h-1.3zM551.5,126.5h1.3v1.3h-1.3zM550.0,132.7h1.3v1.3h-1.3zM547.0,134.7h1.3v1.3h-1.3zM549.9,132.3h1.3v1.3h-1.3zM550.6,129.3h1.3v1.3h-1.3zM558.5,127.1h1.3v1.3h-1.3zM539.9,133.0h1.3v1.3h-1.3zM553.6,128.6h1.3v1.3h-1.3zM554.0,129.5h1.3v1.3h-1.3zM549.3,129.0h1.3v1.3h-1.3zM549.5,130.1h1.3v1.3h-1.3zM553.6,127.5h1.3v1.3h-1.3zM549.9,129.0h1.3v1.3h-1.3zM558.5,121.7h1.3v1.3h-1.3zM546.4,130.8h1.3v1.3h-1.3zM553.4,126.7h1.3v1.3h-1.3zM558.7,128.2h1.3v1.3h-1.3zM557.1,126.6h1.3v1.3h-1.3zM548.6,130.0h1.3v1.3h-1.3zM558.9,126.4h1.3v1.3h-1.3zM550.5,127.1h1.3v1.3h-1.3zM553.2,128.7h1.3v1.3h-1.3zM548.4,132.1h1.3v1.3h-1.3zM556.5,129.5h1.3v1.3h-1.3zM547.4,133.7h1.3v1.3h-1.3zM557.4,125.0h1.3v1.3h-1.3zM547.5,130.1h1.3v1.3h-1.3zM561.9,120.1h1.3v1.3h-1.3zM544.0,134.4h1.3v1.3h-1.3zM557.4,129.3h1.3v1.3h-1.3zM544.4,134.6h1.3v1.3h-1.3zM554.0,129.3h1.3v1.3h-1.3zM552.0,129.1h1.3v1.3h-1.3zM552.9,130.8h1.3v1.3h-1.3zM552.1,126.6h1.3v1.3h-1.3zM553.8,131.2h1.3v1.3h-1.3zM547.9,133.2h1.3v1.3h-1.3zM550.5,128.9h1.3v1.3h-1.3zM552.2,128.3h1.3v1.3h-1.3zM554.0,127.7h1.3v1.3h-1.3zM548.6,131.7h1.3v1.3h-1.3zM557.6,125.8h1.3v1.3h-1.3zM555.6,122.8h1.3v1.3h-1.3zM560.7,127.9h1.3v1.3h-1.3zM551.9,126.7h1.3v1.3h-1.3zM548.6,132.6h1.3v1.3h-1.3zM551.1,133.6h1.3v1.3h-1.3zM551.0,131.3h1.3v1.3h-1.3zM551.2,131.7h1.3v1.3h-1.3zM551.5,128.7h1.3v1.3h-1.3zM547.3,133.4h1.3v1.3h-1.3zM556.3,124.6h1.3v1.3h-1.3zM546.8,131.2h1.3v1.3h-1.3zM544.7,134.7h1.3v1.3h-1.3zM554.8,128.1h1.3v1.3h-1.3zM554.3,128.7h1.3v1.3h-1.3zM552.7,128.7h1.3v1.3h-1.3zM545.7,128.3h1.3v1.3h-1.3zM546.5,135.4h1.3v1.3h-1.3zM551.8,127.9h1.3v1.3h-1.3zM553.0,128.4h1.3v1.3h-1.3zM553.6,125.7h1.3v1.3h-1.3zM554.5,130.3h1.3v1.3h-1.3zM560.6,123.3h1.3v1.3h-1.3zM539.8,134.9h1.3v1.3h-1.3zM550.3,129.3h1.3v1.3h-1.3zM562.0,123.5h1.3v1.3h-1.3zM547.6,133.8h1.3v1.3h-1.3zM552.1,127.3h1.3v1.3h-1.3zM553.2,127.7h1.3v1.3h-1.3zM557.0,126.7h1.3v1.3h-1.3zM548.1,133.6h1.3v1.3h-1.3zM552.4,132.0h1.3v1.3h-1.3zM561.6,123.0h1.3v1.3h-1.3zM547.8,134.2h1.3v1.3h-1.3zM554.0,125.3h1.3v1.3h-1.3zM548.0,131.0h1.3v1.3h-1.3zM552.7,126.2h1.3v1.3h-1.3zM554.5,124.5h1.3v1.3h-1.3zM543.3,128.7h1.3v1.3h-1.3zM548.3,133.7h1.3v1.3h-1.3zM546.0,131.9h1.3v1.3h-1.3zM555.3,121.3h1.3v1.3h-1.3zM557.8,126.7h1.3v1.3h-1.3zM549.2,131.7h1.3v1.3h-1.3zM547.8,131.9h1.3v1.3h-1.3zM547.7,129.0h1.3v1.3h-1.3zM552.9,126.8h1.3v1.3h-1.3zM550.2,132.5h1.3v1.3h-1.3zM553.5,128.7h1.3v1.3h-1.3zM562.0,119.6h1.3v1.3h-1.3zM548.1,131.8h1.3v1.3h-1.3zM557.4,125.7h1.3v1.3h-1.3zM553.6,128.5h1.3v1.3h-1.3zM549.9,127.5h1.3v1.3h-1.3zM551.2,125.0h1.3v1.3h-1.3zM550.8,128.7h1.3v1.3h-1.3zM553.3,126.5h1.3v1.3h-1.3zM561.7,124.0h1.3v1.3h-1.3zM548.2,133.4h1.3v1.3h-1.3zM561.0,121.9h1.3v1.3h-1.3zM553.6,126.8h1.3v1.3h-1.3zM540.9,134.3h1.3v1.3h-1.3zM551.8,128.3h1.3v1.3h-1.3zM551.6,129.3h1.3v1.3h-1.3zM550.7,130.9h1.3v1.3h-1.3zM549.9,128.8h1.3v1.3h-1.3zM539.5,135.1h1.3v1.3h-1.3zM554.7,129.4h1.3v1.3h-1.3zM553.9,126.9h1.3v1.3h-1.3zM548.3,127.5h1.3v1.3h-1.3zM552.1,129.1h1.3v1.3h-1.3zM543.9,129.2h1.3v1.3h-1.3zM552.3,127.9h1.3v1.3h-1.3zM549.9,125.6h1.3v1.3h-1.3zM550.3,126.4h1.3v1.3h-1.3zM556.9,123.5h1.3v1.3h-1.3zM554.6,124.6h1.3v1.3h-1.3zM550.5,134.4h1.3v1.3h-1.3zM539.8,133.8h1.3v1.3h-1.3zM568.1,122.5h1.3v1.3h-1.3zM554.5,126.2h1.3v1.3h-1.3zM550.6,126.0h1.3v1.3h-1.3zM550.5,129.8h1.3v1.3h-1.3zM551.6,129.0h1.3v1.3h-1.3zM552.7,123.3h1.3v1.3h-1.3zM555.8,127.5h1.3v1.3h-1.3zM548.3,134.3h1.3v1.3h-1.3zM550.1,131.0h1.3v1.3h-1.3zM553.5,128.7h1.3v1.3h-1.3zM543.1,133.5h1.3v1.3h-1.3zM550.7,133.9h1.3v1.3h-1.3zM549.2,128.9h1.3v1.3h-1.3zM550.8,130.3h1.3v1.3h-1.3zM554.4,128.7h1.3v1.3h-1.3zM547.3,130.7h1.3v1.3h-1.3zM550.2,131.3h1.3v1.3h-1.3zM552.3,128.0h1.3v1.3h-1.3zM556.2,123.8h1.3v1.3h-1.3zM551.6,129.1h1.3v1.3h-1.3zM546.0,132.3h1.3v1.3h-1.3zM549.1,128.8h1.3v1.3h-1.3zM555.5,125.1h1.3v1.3h-1.3zM550.8,128.9h1.3v1.3h-1.3zM559.4,120.3h1.3v1.3h-1.3zM554.5,130.6h1.3v1.3h-1.3zM551.4,128.2h1.3v1.3h-1.3zM559.3,124.4h1.3v1.3h-1.3zM550.5,131.0h1.3v1.3h-1.3zM552.8,131.0h1.3v1.3h-1.3zM554.2,126.6h1.3v1.3h-1.3zM558.5,125.2h1.3v1.3h-1.3zM552.9,127.8h1.3v1.3h-1.3zM551.0,131.6h1.3v1.3h-1.3zM548.0,131.3h1.3v1.3h-1.3zM553.8,125.3h1.3v1.3h-1.3zM547.8,130.9h1.3v1.3h-1.3zM554.5,125.3h1.3v1.3h-1.3zM552.5,128.0h1.3v1.3h-1.3zM549.2,130.5h1.3v1.3h-1.3zM550.1,133.9h1.3v1.3h-1.3zM549.4,130.6h1.3v1.3h-1.3zM546.3,133.0h1.3v1.3h-1.3zM548.2,133.2h1.3v1.3h-1.3zM552.9,131.6h1.3v1.3h-1.3zM548.8,132.7h1.3v1.3h-1.3zM554.8,133.9h1.3v1.3h-1.3zM548.3,135.3h1.3v1.3h-1.3zM545.0,135.6h1.3v1.3h-1.3zM550.4,134.2h1.3v1.3h-1.3zM544.0,134.7h1.3v1.3h-1.3zM553.3,132.4h1.3v1.3h-1.3zM544.7,131.1h1.3v1.3h-1.3zM547.9,130.6h1.3v1.3h-1.3zM541.8,135.4h1.3v1.3h-1.3zM549.3,131.9h1.3v1.3h-1.3zM549.6,129.8h1.3v1.3h-1.3zM549.7,130.1h1.3v1.3h-1.3zM550.3,133.5h1.3v1.3h-1.3zM548.3,130.1h1.3v1.3h-1.3zM544.2,132.9h1.3v1.3h-1.3zM549.9,129.5h1.3v1.3h-1.3zM541.6,130.1h1.3v1.3h-1.3zM542.1,134.7h1.3v1.3h-1.3zM556.7,132.7h1.3v1.3h-1.3zM555.7,129.8h1.3v1.3h-1.3zM554.5,127.8h1.3v1.3h-1.3zM548.2,134.3h1.3v1.3h-1.3zM542.7,133.7h1.3v1.3h-1.3zM542.4,133.8h1.3v1.3h-1.3zM547.4,133.2h1.3v1.3h-1.3zM550.5,133.9h1.3v1.3h-1.3zM545.6,133.9h1.3v1.3h-1.3zM550.1,128.2h1.3v1.3h-1.3zM554.7,129.1h1.3v1.3h-1.3zM550.0,130.8h1.3v1.3h-1.3zM546.9,133.5h1.3v1.3h-1.3zM541.4,133.8h1.3v1.3h-1.3zM545.8,132.7h1.3v1.3h-1.3zM555.7,128.6h1.3v1.3h-1.3zM551.7,129.8h1.3v1.3h-1.3zM545.6,134.8h1.3v1.3h-1.3zM548.2,131.3h1.3v1.3h-1.3zM549.7,132.9h1.3v1.3h-1.3zM543.5,134.1h1.3v1.3h-1.3zM547.9,135.6h1.3v1.3h-1.3zM546.0,133.7h1.3v1.3h-1.3zM544.1,135.0h1.3v1.3h-1.3zM547.6,134.9h1.3v1.3h-1.3zM550.0,130.8h1.3v1.3h-1.3zM549.6,134.4h1.3v1.3h-1.3zM546.9,133.8h1.3v1.3h-1.3zM548.0,131.3h1.3v1.3h-1.3zM545.7,133.5h1.3v1.3h-1.3zM550.5,132.6h1.3v1.3h-1.3zM550.2,132.1h1.3v1.3h-1.3zM542.5,134.6h1.3v1.3h-1.3zM548.1,133.6h1.3v1.3h-1.3zM554.5,131.5h1.3v1.3h-1.3zM542.3,134.9h1.3v1.3h-1.3zM546.8,132.2h1.3v1.3h-1.3zM556.7,129.7h1.3v1.3h-1.3zM550.5,133.4h1.3v1.3h-1.3zM544.2,135.4h1.3v1.3h-1.3zM546.9,134.0h1.3v1.3h-1.3zM547.6,134.2h1.3v1.3h-1.3zM550.4,134.3h1.3v1.3h-1.3zM550.4,128.8h1.3v1.3h-1.3zM544.2,132.2h1.3v1.3h-1.3zM550.6,130.7h1.3v1.3h-1.3zM544.8,130.3h1.3v1.3h-1.3zM541.2,132.4h1.3v1.3h-1.3zM548.5,134.7h1.3v1.3h-1.3zM549.7,131.2h1.3v1.3h-1.3zM552.0,128.7h1.3v1.3h-1.3zM545.1,132.7h1.3v1.3h-1.3zM551.0,129.5h1.3v1.3h-1.3zM548.4,129.2h1.3v1.3h-1.3zM545.9,134.0h1.3v1.3h-1.3zM548.5,133.4h1.3v1.3h-1.3zM547.0,130.9h1.3v1.3h-1.3zM545.8,131.7h1.3v1.3h-1.3zM552.0,133.5h1.3v1.3h-1.3zM550.0,129.5h1.3v1.3h-1.3zM550.4,134.2h1.3v1.3h-1.3zM549.7,133.3h1.3v1.3h-1.3zM545.7,129.7h1.3v1.3h-1.3zM547.4,132.0h1.3v1.3h-1.3zM551.9,128.3h1.3v1.3h-1.3zM548.6,133.8h1.3v1.3h-1.3zM547.4,134.4h1.3v1.3h-1.3zM547.1,133.3h1.3v1.3h-1.3zM542.4,134.7h1.3v1.3h-1.3zM550.4,130.6h1.3v1.3h-1.3zM548.2,134.7h1.3v1.3h-1.3zM549.6,135.4h1.3v1.3h-1.3zM545.2,130.3h1.3v1.3h-1.3zM549.0,134.4h1.3v1.3h-1.3zM546.8,135.3h1.3v1.3h-1.3zM544.7,134.7h1.3v1.3h-1.3zM544.5,133.6h1.3v1.3h-1.3zM551.4,133.4h1.3v1.3h-1.3zM544.2,135.6h1.3v1.3h-1.3zM545.3,133.4h1.3v1.3h-1.3zM545.1,135.5h1.3v1.3h-1.3zM545.1,131.8h1.3v1.3h-1.3zM551.0,129.8h1.3v1.3h-1.3zM548.2,134.6h1.3v1.3h-1.3zM552.5,127.0h1.3v1.3h-1.3zM545.2,134.9h1.3v1.3h-1.3zM551.5,130.3h1.3v1.3h-1.3zM549.0,128.3h1.3v1.3h-1.3zM546.9,134.8h1.3v1.3h-1.3zM546.2,132.9h1.3v1.3h-1.3zM548.2,130.3h1.3v1.3h-1.3zM550.3,133.5h1.3v1.3h-1.3zM550.2,132.5h1.3v1.3h-1.3zM553.0,128.9h1.3v1.3h-1.3zM545.4,132.5h1.3v1.3h-1.3zM542.8,133.5h1.3v1.3h-1.3zM547.8,132.0h1.3v1.3h-1.3zM545.5,134.1h1.3v1.3h-1.3zM549.9,133.8h1.3v1.3h-1.3zM550.3,130.4h1.3v1.3h-1.3zM542.9,133.1h1.3v1.3h-1.3zM547.9,131.4h1.3v1.3h-1.3zM548.2,130.3h1.3v1.3h-1.3zM544.9,129.5h1.3v1.3h-1.3zM551.5,134.0h1.3v1.3h-1.3zM541.9,132.7h1.3v1.3h-1.3zM549.3,132.7h1.3v1.3h-1.3zM544.8,132.8h1.3v1.3h-1.3zM617.0,108.2h1.3v1.3h-1.3zM592.4,110.9h1.3v1.3h-1.3zM604.2,106.2h1.3v1.3h-1.3zM581.3,129.8h1.3v1.3h-1.3zM589.1,115.6h1.3v1.3h-1.3zM614.0,119.8h1.3v1.3h-1.3zM601.1,130.1h1.3v1.3h-1.3zM601.3,123.7h1.3v1.3h-1.3zM592.3,113.9h1.3v1.3h-1.3zM593.1,112.1h1.3v1.3h-1.3zM578.1,106.7h1.3v1.3h-1.3zM581.1,112.5h1.3v1.3h-1.3zM581.6,112.4h1.3v1.3h-1.3zM590.4,113.9h1.3v1.3h-1.3zM582.2,101.2h1.3v1.3h-1.3zM589.7,111.5h1.3v1.3h-1.3zM565.4,106.8h1.3v1.3h-1.3zM572.8,114.0h1.3v1.3h-1.3zM567.1,95.1h1.3v1.3h-1.3zM570.4,114.6h1.3v1.3h-1.3zM576.5,123.7h1.3v1.3h-1.3zM570.5,99.1h1.3v1.3h-1.3zM617.6,113.4h1.3v1.3h-1.3zM601.6,116.7h1.3v1.3h-1.3zM578.6,95.9h1.3v1.3h-1.3zM599.4,122.7h1.3v1.3h-1.3zM590.3,112.5h1.3v1.3h-1.3zM588.1,113.1h1.3v1.3h-1.3zM583.6,113.1h1.3v1.3h-1.3zM586.5,115.3h1.3v1.3h-1.3zM582.4,98.4h1.3v1.3h-1.3zM586.4,114.3h1.3v1.3h-1.3zM594.5,112.2h1.3v1.3h-1.3zM575.8,104.6h1.3v1.3h-1.3zM576.8,118.4h1.3v1.3h-1.3zM596.4,114.3h1.3v1.3h-1.3zM582.9,112.4h1.3v1.3h-1.3zM581.1,117.9h1.3v1.3h-1.3zM577.2,123.7h1.3v1.3h-1.3zM579.4,112.1h1.3v1.3h-1.3zM585.2,113.9h1.3v1.3h-1.3zM602.2,116.7h1.3v1.3h-1.3zM569.0,111.9h1.3v1.3h-1.3zM588.2,122.7h1.3v1.3h-1.3zM577.3,72.6h1.3v1.3h-1.3zM591.9,81.0h1.3v1.3h-1.3zM579.3,85.7h1.3v1.3h-1.3zM581.1,65.4h1.3v1.3h-1.3zM591.9,100.8h1.3v1.3h-1.3zM589.1,65.8h1.3v1.3h-1.3zM584.5,83.4h1.3v1.3h-1.3zM591.7,75.9h1.3v1.3h-1.3zM597.1,86.9h1.3v1.3h-1.3zM588.6,73.7h1.3v1.3h-1.3zM582.1,84.1h1.3v1.3h-1.3zM595.7,83.0h1.3v1.3h-1.3zM577.3,134.9h1.3v1.3h-1.3zM550.4,135.4h1.3v1.3h-1.3zM619.4,135.5h1.3v1.3h-1.3zM622.8,134.3h1.3v1.3h-1.3zM582.6,135.6h1.3v1.3h-1.3zM604.3,135.6h1.3v1.3h-1.3zM584.7,135.4h1.3v1.3h-1.3zM596.2,133.8h1.3v1.3h-1.3zM595.8,135.2h1.3v1.3h-1.3zM605.1,135.4h1.3v1.3h-1.3zM599.4,135.2h1.3v1.3h-1.3zM583.7,135.1h1.3v1.3h-1.3zM576.2,134.9h1.3v1.3h-1.3zM603.2,135.4h1.3v1.3h-1.3zM572.0,135.6h1.3v1.3h-1.3zM599.2,135.3h1.3v1.3h-1.3zM602.1,135.5h1.3v1.3h-1.3zM630.5,135.5h1.3v1.3h-1.3zM615.4,134.9h1.3v1.3h-1.3zM610.9,135.1h1.3v1.3h-1.3zM586.6,135.5h1.3v1.3h-1.3zM624.4,135.2h1.3v1.3h-1.3zM630.1,134.7h1.3v1.3h-1.3zM590.5,135.2h1.3v1.3h-1.3zM597.0,135.2h1.3v1.3h-1.3zM606.4,134.9h1.3v1.3h-1.3zM618.0,135.3h1.3v1.3h-1.3zM582.0,135.2h1.3v1.3h-1.3zM609.8,135.3h1.3v1.3h-1.3zM610.4,135.0h1.3v1.3h-1.3z" fill="#111"/>
<rect x="537.90" y="39.00" width="108.50" height="98.20" fill="none" stroke="#111" stroke-width="1.1"/>
<line x1="572.60" y1="39.00" x2="572.60" y2="137.20" stroke="#111" stroke-width="1.0" stroke-linecap="butt"/>
<line x1="537.90" y1="99.70" x2="646.40" y2="99.70" stroke="#111" stroke-width="1.0" stroke-linecap="butt"/>
<line x1="537.90" y1="137.20" x2="537.90" y2="143.60" stroke="#111" stroke-width="1.1" stroke-linecap="butt"/>
<line x1="531.30" y1="137.20" x2="537.90" y2="137.20" stroke="#111" stroke-width="1.3" stroke-linecap="butt"/>
<line x1="546.07" y1="137.20" x2="546.07" y2="141.00" stroke="#111" stroke-width="1.1" stroke-linecap="butt"/>
<line x1="533.70" y1="129.81" x2="537.90" y2="129.81" stroke="#111" stroke-width="1.3" stroke-linecap="butt"/>
<line x1="550.84" y1="137.20" x2="550.84" y2="141.00" stroke="#111" stroke-width="1.1" stroke-linecap="butt"/>
<line x1="533.70" y1="125.49" x2="537.90" y2="125.49" stroke="#111" stroke-width="1.3" stroke-linecap="butt"/>
<line x1="554.23" y1="137.20" x2="554.23" y2="141.00" stroke="#111" stroke-width="1.1" stroke-linecap="butt"/>
<line x1="533.70" y1="122.42" x2="537.90" y2="122.42" stroke="#111" stroke-width="1.3" stroke-linecap="butt"/>
<line x1="556.86" y1="137.20" x2="556.86" y2="141.00" stroke="#111" stroke-width="1.1" stroke-linecap="butt"/>
<line x1="533.70" y1="120.04" x2="537.90" y2="120.04" stroke="#111" stroke-width="1.3" stroke-linecap="butt"/>
<line x1="559.01" y1="137.20" x2="559.01" y2="141.00" stroke="#111" stroke-width="1.1" stroke-linecap="butt"/>
<line x1="533.70" y1="118.10" x2="537.90" y2="118.10" stroke="#111" stroke-width="1.3" stroke-linecap="butt"/>
<line x1="560.82" y1="137.20" x2="560.82" y2="141.00" stroke="#111" stroke-width="1.1" stroke-linecap="butt"/>
<line x1="533.70" y1="116.45" x2="537.90" y2="116.45" stroke="#111" stroke-width="1.3" stroke-linecap="butt"/>
<line x1="562.40" y1="137.20" x2="562.40" y2="141.00" stroke="#111" stroke-width="1.1" stroke-linecap="butt"/>
<line x1="533.70" y1="115.03" x2="537.90" y2="115.03" stroke="#111" stroke-width="1.3" stroke-linecap="butt"/>
<line x1="563.78" y1="137.20" x2="563.78" y2="141.00" stroke="#111" stroke-width="1.1" stroke-linecap="butt"/>
<line x1="533.70" y1="113.77" x2="537.90" y2="113.77" stroke="#111" stroke-width="1.3" stroke-linecap="butt"/>
<line x1="565.02" y1="137.20" x2="565.02" y2="143.60" stroke="#111" stroke-width="1.1" stroke-linecap="butt"/>
<line x1="531.30" y1="112.65" x2="537.90" y2="112.65" stroke="#111" stroke-width="1.3" stroke-linecap="butt"/>
<line x1="573.19" y1="137.20" x2="573.19" y2="141.00" stroke="#111" stroke-width="1.1" stroke-linecap="butt"/>
<line x1="533.70" y1="105.26" x2="537.90" y2="105.26" stroke="#111" stroke-width="1.3" stroke-linecap="butt"/>
<line x1="577.97" y1="137.20" x2="577.97" y2="141.00" stroke="#111" stroke-width="1.1" stroke-linecap="butt"/>
<line x1="533.70" y1="100.94" x2="537.90" y2="100.94" stroke="#111" stroke-width="1.3" stroke-linecap="butt"/>
<line x1="581.36" y1="137.20" x2="581.36" y2="141.00" stroke="#111" stroke-width="1.1" stroke-linecap="butt"/>
<line x1="533.70" y1="97.87" x2="537.90" y2="97.87" stroke="#111" stroke-width="1.3" stroke-linecap="butt"/>
<line x1="583.98" y1="137.20" x2="583.98" y2="141.00" stroke="#111" stroke-width="1.1" stroke-linecap="butt"/>
<line x1="533.70" y1="95.49" x2="537.90" y2="95.49" stroke="#111" stroke-width="1.3" stroke-linecap="butt"/>
<line x1="586.13" y1="137.20" x2="586.13" y2="141.00" stroke="#111" stroke-width="1.1" stroke-linecap="butt"/>
<line x1="533.70" y1="93.55" x2="537.90" y2="93.55" stroke="#111" stroke-width="1.3" stroke-linecap="butt"/>
<line x1="587.95" y1="137.20" x2="587.95" y2="141.00" stroke="#111" stroke-width="1.1" stroke-linecap="butt"/>
<line x1="533.70" y1="91.90" x2="537.90" y2="91.90" stroke="#111" stroke-width="1.3" stroke-linecap="butt"/>
<line x1="589.52" y1="137.20" x2="589.52" y2="141.00" stroke="#111" stroke-width="1.1" stroke-linecap="butt"/>
<line x1="533.70" y1="90.48" x2="537.90" y2="90.48" stroke="#111" stroke-width="1.3" stroke-linecap="butt"/>
<line x1="590.91" y1="137.20" x2="590.91" y2="141.00" stroke="#111" stroke-width="1.1" stroke-linecap="butt"/>
<line x1="533.70" y1="89.22" x2="537.90" y2="89.22" stroke="#111" stroke-width="1.3" stroke-linecap="butt"/>
<line x1="592.15" y1="137.20" x2="592.15" y2="143.60" stroke="#111" stroke-width="1.1" stroke-linecap="butt"/>
<line x1="531.30" y1="88.10" x2="537.90" y2="88.10" stroke="#111" stroke-width="1.3" stroke-linecap="butt"/>
<line x1="600.32" y1="137.20" x2="600.32" y2="141.00" stroke="#111" stroke-width="1.1" stroke-linecap="butt"/>
<line x1="533.70" y1="80.71" x2="537.90" y2="80.71" stroke="#111" stroke-width="1.3" stroke-linecap="butt"/>
<line x1="605.09" y1="137.20" x2="605.09" y2="141.00" stroke="#111" stroke-width="1.1" stroke-linecap="butt"/>
<line x1="533.70" y1="76.39" x2="537.90" y2="76.39" stroke="#111" stroke-width="1.3" stroke-linecap="butt"/>
<line x1="608.48" y1="137.20" x2="608.48" y2="141.00" stroke="#111" stroke-width="1.1" stroke-linecap="butt"/>
<line x1="533.70" y1="73.32" x2="537.90" y2="73.32" stroke="#111" stroke-width="1.3" stroke-linecap="butt"/>
<line x1="611.11" y1="137.20" x2="611.11" y2="141.00" stroke="#111" stroke-width="1.1" stroke-linecap="butt"/>
<line x1="533.70" y1="70.94" x2="537.90" y2="70.94" stroke="#111" stroke-width="1.3" stroke-linecap="butt"/>
<line x1="613.26" y1="137.20" x2="613.26" y2="141.00" stroke="#111" stroke-width="1.1" stroke-linecap="butt"/>
<line x1="533.70" y1="69.00" x2="537.90" y2="69.00" stroke="#111" stroke-width="1.3" stroke-linecap="butt"/>
<line x1="615.07" y1="137.20" x2="615.07" y2="141.00" stroke="#111" stroke-width="1.1" stroke-linecap="butt"/>
<line x1="533.70" y1="67.35" x2="537.90" y2="67.35" stroke="#111" stroke-width="1.3" stroke-linecap="butt"/>
<line x1="616.65" y1="137.20" x2="616.65" y2="141.00" stroke="#111" stroke-width="1.1" stroke-linecap="butt"/>
<line x1="533.70" y1="65.93" x2="537.90" y2="65.93" stroke="#111" stroke-width="1.3" stroke-linecap="butt"/>
<line x1="618.03" y1="137.20" x2="618.03" y2="141.00" stroke="#111" stroke-width="1.1" stroke-linecap="butt"/>
<line x1="533.70" y1="64.67" x2="537.90" y2="64.67" stroke="#111" stroke-width="1.3" stroke-linecap="butt"/>
<line x1="619.27" y1="137.20" x2="619.27" y2="143.60" stroke="#111" stroke-width="1.1" stroke-linecap="butt"/>
<line x1="531.30" y1="63.55" x2="537.90" y2="63.55" stroke="#111" stroke-width="1.3" stroke-linecap="butt"/>
<line x1="627.44" y1="137.20" x2="627.44" y2="141.00" stroke="#111" stroke-width="1.1" stroke-linecap="butt"/>
<line x1="533.70" y1="56.16" x2="537.90" y2="56.16" stroke="#111" stroke-width="1.3" stroke-linecap="butt"/>
<line x1="632.22" y1="137.20" x2="632.22" y2="141.00" stroke="#111" stroke-width="1.1" stroke-linecap="butt"/>
<line x1="533.70" y1="51.84" x2="537.90" y2="51.84" stroke="#111" stroke-width="1.3" stroke-linecap="butt"/>
<line x1="635.61" y1="137.20" x2="635.61" y2="141.00" stroke="#111" stroke-width="1.1" stroke-linecap="butt"/>
<line x1="533.70" y1="48.77" x2="537.90" y2="48.77" stroke="#111" stroke-width="1.3" stroke-linecap="butt"/>
<line x1="638.23" y1="137.20" x2="638.23" y2="141.00" stroke="#111" stroke-width="1.1" stroke-linecap="butt"/>
<line x1="533.70" y1="46.39" x2="537.90" y2="46.39" stroke="#111" stroke-width="1.3" stroke-linecap="butt"/>
<line x1="640.38" y1="137.20" x2="640.38" y2="141.00" stroke="#111" stroke-width="1.1" stroke-linecap="butt"/>
<line x1="533.70" y1="44.45" x2="537.90" y2="44.45" stroke="#111" stroke-width="1.3" stroke-linecap="butt"/>
<line x1="642.20" y1="137.20" x2="642.20" y2="141.00" stroke="#111" stroke-width="1.1" stroke-linecap="butt"/>
<line x1="533.70" y1="42.80" x2="537.90" y2="42.80" stroke="#111" stroke-width="1.3" stroke-linecap="butt"/>
<line x1="643.77" y1="137.20" x2="643.77" y2="141.00" stroke="#111" stroke-width="1.1" stroke-linecap="butt"/>
<line x1="533.70" y1="41.38" x2="537.90" y2="41.38" stroke="#111" stroke-width="1.3" stroke-linecap="butt"/>
<line x1="645.16" y1="137.20" x2="645.16" y2="141.00" stroke="#111" stroke-width="1.1" stroke-linecap="butt"/>
<line x1="533.70" y1="40.12" x2="537.90" y2="40.12" stroke="#111" stroke-width="1.3" stroke-linecap="butt"/>
<line x1="646.40" y1="137.20" x2="646.40" y2="143.60" stroke="#111" stroke-width="1.1" stroke-linecap="butt"/>
<line x1="531.30" y1="39.00" x2="537.90" y2="39.00" stroke="#111" stroke-width="1.3" stroke-linecap="butt"/>
<text x="595.20" y="35.00" font-size="13.5" font-weight="normal" text-anchor="middle" fill="#1a1a1a">SNHG22</text>
<text x="538.30" y="159.60" font-size="13" font-weight="normal" text-anchor="middle" fill="#1a1a1a">10<tspan dy="-4.62" font-size="10.40">0</tspan></text>
<text x="565.10" y="159.60" font-size="13" font-weight="normal" text-anchor="middle" fill="#1a1a1a">10<tspan dy="-4.62" font-size="10.40">1</tspan></text>
<text x="591.90" y="159.60" font-size="13" font-weight="normal" text-anchor="middle" fill="#1a1a1a">10<tspan dy="-4.62" font-size="10.40">2</tspan></text>
<text x="618.90" y="159.60" font-size="13" font-weight="normal" text-anchor="middle" fill="#1a1a1a">10<tspan dy="-4.62" font-size="10.40">3</tspan></text>
<text x="645.90" y="159.60" font-size="13" font-weight="normal" text-anchor="middle" fill="#1a1a1a">10<tspan dy="-4.62" font-size="10.40">4</tspan></text>
<text x="527.00" y="127.80" font-size="13" font-weight="normal" text-anchor="middle" fill="#1a1a1a" transform="rotate(-90 527.00 127.80)">10<tspan dy="-4.62" font-size="10.40">1</tspan></text>
<text x="527.00" y="99.40" font-size="13" font-weight="normal" text-anchor="middle" fill="#1a1a1a" transform="rotate(-90 527.00 99.40)">10<tspan dy="-4.62" font-size="10.40">2</tspan></text>
<text x="527.00" y="73.30" font-size="13" font-weight="normal" text-anchor="middle" fill="#1a1a1a" transform="rotate(-90 527.00 73.30)">10<tspan dy="-4.62" font-size="10.40">3</tspan></text>
<text x="527.00" y="46.80" font-size="13" font-weight="normal" text-anchor="middle" fill="#1a1a1a" transform="rotate(-90 527.00 46.80)">10<tspan dy="-4.62" font-size="10.40">4</tspan></text>
<text x="552.40" y="93.60" font-size="9.7" font-weight="normal" text-anchor="middle" fill="#f5161e">0.45%</text>
<text x="619.60" y="94.20" font-size="9.7" font-weight="normal" text-anchor="middle" fill="#f5161e">2.34%</text>
<text x="556.50" y="112.20" font-size="9.7" font-weight="normal" text-anchor="middle" fill="#f5161e">92.6%%</text>
<text x="619.00" y="125.00" font-size="9.7" font-weight="normal" text-anchor="middle" fill="#f5161e">4.61%</text>
<line x1="355.00" y1="69.40" x2="355.00" y2="175.55" stroke="#ee1c25" stroke-width="1.9" stroke-linecap="butt"/>
<line x1="352.40" y1="174.60" x2="625.50" y2="174.60" stroke="#ee1c25" stroke-width="1.9" stroke-linecap="butt"/>
<path d="M355.00,61.40 L350.30,75.90 L355.00,71.90 L359.70,75.90 Z" fill="#ee1c25"/>
<path d="M633.50,174.60 L618.00,169.90 L622.00,174.60 L618.00,179.30 Z" fill="#ee1c25"/>
<text x="349.30" y="97.00" font-size="13.2" font-weight="normal" text-anchor="middle" fill="#1a1a1a" transform="rotate(-90 349.30 97.00)">PI</text>
<text x="479.00" y="188.00" font-size="13.2" font-weight="normal" text-anchor="start" fill="#1a1a1a">Annexin-V</text>
<line x1="702.70" y1="131.40" x2="705.70" y2="131.40" stroke="#000" stroke-width="1.25" stroke-linecap="butt"/>
<text x="701.70" y="134.00" font-size="7.0" font-weight="bold" text-anchor="end" fill="#000">0</text>
<line x1="702.70" y1="107.50" x2="705.70" y2="107.50" stroke="#000" stroke-width="1.25" stroke-linecap="butt"/>
<text x="701.70" y="110.10" font-size="7.0" font-weight="bold" text-anchor="end" fill="#000">5</text>
<line x1="702.70" y1="83.60" x2="705.70" y2="83.60" stroke="#000" stroke-width="1.25" stroke-linecap="butt"/>
<text x="701.70" y="86.20" font-size="7.0" font-weight="bold" text-anchor="end" fill="#000">10</text>
<line x1="702.70" y1="59.70" x2="705.70" y2="59.70" stroke="#000" stroke-width="1.25" stroke-linecap="butt"/>
<text x="701.70" y="62.30" font-size="7.0" font-weight="bold" text-anchor="end" fill="#000">15</text>
<line x1="702.70" y1="35.80" x2="705.70" y2="35.80" stroke="#000" stroke-width="1.25" stroke-linecap="butt"/>
<text x="701.70" y="38.40" font-size="7.0" font-weight="bold" text-anchor="end" fill="#000">20</text>
<line x1="723.00" y1="59.20" x2="723.00" y2="63.30" stroke="#000" stroke-width="1.0" stroke-linecap="butt"/>
<line x1="719.80" y1="59.20" x2="726.20" y2="59.20" stroke="#000" stroke-width="1.0" stroke-linecap="butt"/>
<rect x="714.10" y="62.80" width="17.80" height="68.60" fill="#000"/>
<line x1="723.00" y1="131.40" x2="723.00" y2="134.40" stroke="#000" stroke-width="1.25" stroke-linecap="butt"/>
<line x1="751.25" y1="109.30" x2="751.25" y2="112.20" stroke="#a7a9ac" stroke-width="1.0" stroke-linecap="butt"/>
<line x1="748.05" y1="109.30" x2="754.45" y2="109.30" stroke="#a7a9ac" stroke-width="1.0" stroke-linecap="butt"/>
<rect x="742.40" y="111.70" width="17.70" height="19.70" fill="#a7a9ac"/>
<line x1="751.25" y1="131.40" x2="751.25" y2="134.40" stroke="#000" stroke-width="1.25" stroke-linecap="butt"/>
<line x1="705.70" y1="35.30" x2="705.70" y2="131.90" stroke="#000" stroke-width="1.25" stroke-linecap="butt"/>
<line x1="705.20" y1="131.40" x2="769.80" y2="131.40" stroke="#000" stroke-width="1.25" stroke-linecap="butt"/>
<path d="M721,56.8 L721,47.4 L751.5,47.4 L751.5,104.8" stroke="#000" stroke-width="1.15" fill="none"/>
<text x="736.70" y="46.30" font-size="11.5" font-weight="normal" text-anchor="middle" fill="#000">***</text>
<text x="723.00" y="142.30" font-size="7.0" font-weight="bold" text-anchor="middle" fill="#000">Vector</text>
<text x="751.40" y="142.30" font-size="7.0" font-weight="bold" text-anchor="middle" fill="#000">SNHG22</text>
<text x="688.20" y="80.00" font-size="9.6" font-weight="bold" text-anchor="middle" fill="#000" transform="rotate(-90 688.20 80.00)">Early apoptosis (%)</text>
<text x="3.60" y="233.30" font-size="21.6" font-weight="bold" text-anchor="start" fill="#000">D</text>
<text x="241.00" y="223.20" font-size="15" font-weight="normal" text-anchor="middle" fill="#1a1a1a">LS147T</text>
<line x1="108.50" y1="228.00" x2="390.00" y2="228.00" stroke="#111" stroke-width="1.3" stroke-linecap="butt"/>
<path d="M116.2,281.9h1.3v1.3h-1.3zM108.9,302.4h1.3v1.3h-1.3zM114.3,279.5h1.3v1.3h-1.3zM114.5,302.0h1.3v1.3h-1.3zM109.0,295.7h1.3v1.3h-1.3zM117.1,291.9h1.3v1.3h-1.3zM110.9,296.2h1.3v1.3h-1.3zM113.4,299.2h1.3v1.3h-1.3zM112.7,291.6h1.3v1.3h-1.3zM120.4,290.8h1.3v1.3h-1.3zM117.2,299.8h1.3v1.3h-1.3zM116.7,290.7h1.3v1.3h-1.3zM110.1,295.0h1.3v1.3h-1.3zM116.9,294.4h1.3v1.3h-1.3zM117.5,279.8h1.3v1.3h-1.3zM120.3,277.8h1.3v1.3h-1.3zM106.7,293.6h1.3v1.3h-1.3zM109.5,287.7h1.3v1.3h-1.3zM113.0,291.8h1.3v1.3h-1.3zM114.8,297.3h1.3v1.3h-1.3zM113.1,299.1h1.3v1.3h-1.3zM122.5,293.0h1.3v1.3h-1.3zM112.7,307.4h1.3v1.3h-1.3zM105.7,303.1h1.3v1.3h-1.3zM116.4,286.0h1.3v1.3h-1.3zM114.0,298.1h1.3v1.3h-1.3zM121.4,297.9h1.3v1.3h-1.3zM108.6,291.6h1.3v1.3h-1.3zM108.0,293.6h1.3v1.3h-1.3zM117.2,292.2h1.3v1.3h-1.3zM114.6,292.5h1.3v1.3h-1.3zM109.5,319.7h1.3v1.3h-1.3zM106.9,296.2h1.3v1.3h-1.3zM104.9,301.3h1.3v1.3h-1.3zM113.6,282.8h1.3v1.3h-1.3zM106.2,300.5h1.3v1.3h-1.3zM113.7,289.1h1.3v1.3h-1.3zM106.1,281.9h1.3v1.3h-1.3zM108.8,286.8h1.3v1.3h-1.3zM111.7,290.9h1.3v1.3h-1.3zM120.6,284.7h1.3v1.3h-1.3zM113.3,301.2h1.3v1.3h-1.3zM109.6,306.1h1.3v1.3h-1.3zM122.2,301.7h1.3v1.3h-1.3zM100.5,286.0h1.3v1.3h-1.3zM118.7,293.9h1.3v1.3h-1.3zM116.6,298.4h1.3v1.3h-1.3zM109.9,290.9h1.3v1.3h-1.3zM114.5,296.4h1.3v1.3h-1.3zM120.4,284.6h1.3v1.3h-1.3zM113.3,302.7h1.3v1.3h-1.3zM113.3,295.9h1.3v1.3h-1.3zM112.3,287.5h1.3v1.3h-1.3zM109.9,292.7h1.3v1.3h-1.3zM116.5,289.3h1.3v1.3h-1.3zM123.6,302.7h1.3v1.3h-1.3zM112.4,303.1h1.3v1.3h-1.3zM112.3,274.0h1.3v1.3h-1.3zM104.8,299.3h1.3v1.3h-1.3zM115.8,291.6h1.3v1.3h-1.3zM117.0,304.1h1.3v1.3h-1.3zM117.3,299.3h1.3v1.3h-1.3zM106.8,291.7h1.3v1.3h-1.3zM114.9,298.5h1.3v1.3h-1.3zM108.7,297.0h1.3v1.3h-1.3zM112.6,295.1h1.3v1.3h-1.3zM107.8,314.1h1.3v1.3h-1.3zM118.9,289.7h1.3v1.3h-1.3zM106.7,308.7h1.3v1.3h-1.3zM109.3,298.5h1.3v1.3h-1.3zM102.5,287.1h1.3v1.3h-1.3zM114.6,295.5h1.3v1.3h-1.3zM114.3,291.3h1.3v1.3h-1.3zM117.7,290.4h1.3v1.3h-1.3zM118.6,279.0h1.3v1.3h-1.3zM111.1,298.0h1.3v1.3h-1.3zM108.4,297.5h1.3v1.3h-1.3zM109.1,295.2h1.3v1.3h-1.3zM114.0,289.0h1.3v1.3h-1.3zM107.1,287.6h1.3v1.3h-1.3zM111.1,295.4h1.3v1.3h-1.3zM110.1,310.7h1.3v1.3h-1.3zM113.8,307.3h1.3v1.3h-1.3zM117.9,291.3h1.3v1.3h-1.3zM120.0,285.6h1.3v1.3h-1.3zM115.9,281.4h1.3v1.3h-1.3zM112.4,281.8h1.3v1.3h-1.3zM112.0,292.1h1.3v1.3h-1.3zM109.3,291.0h1.3v1.3h-1.3zM115.8,296.5h1.3v1.3h-1.3zM106.4,296.8h1.3v1.3h-1.3zM114.6,294.3h1.3v1.3h-1.3zM107.9,301.6h1.3v1.3h-1.3zM111.3,315.2h1.3v1.3h-1.3zM109.8,283.7h1.3v1.3h-1.3zM106.4,298.2h1.3v1.3h-1.3zM120.6,284.9h1.3v1.3h-1.3zM116.9,293.2h1.3v1.3h-1.3zM106.2,273.9h1.3v1.3h-1.3zM114.0,291.4h1.3v1.3h-1.3zM120.4,284.2h1.3v1.3h-1.3zM112.8,302.5h1.3v1.3h-1.3zM111.8,295.4h1.3v1.3h-1.3zM109.3,302.1h1.3v1.3h-1.3zM107.8,296.9h1.3v1.3h-1.3zM109.7,291.9h1.3v1.3h-1.3zM117.4,289.4h1.3v1.3h-1.3zM112.6,281.6h1.3v1.3h-1.3zM115.7,304.3h1.3v1.3h-1.3zM109.1,293.9h1.3v1.3h-1.3zM108.3,289.7h1.3v1.3h-1.3zM104.2,312.6h1.3v1.3h-1.3zM117.2,287.3h1.3v1.3h-1.3zM104.9,296.6h1.3v1.3h-1.3zM118.9,300.0h1.3v1.3h-1.3zM106.8,306.0h1.3v1.3h-1.3zM107.8,309.7h1.3v1.3h-1.3zM110.2,306.4h1.3v1.3h-1.3zM112.8,276.2h1.3v1.3h-1.3zM107.5,288.9h1.3v1.3h-1.3zM118.1,309.8h1.3v1.3h-1.3zM113.0,293.8h1.3v1.3h-1.3zM110.9,288.3h1.3v1.3h-1.3zM110.4,292.1h1.3v1.3h-1.3zM110.7,295.8h1.3v1.3h-1.3zM108.8,277.6h1.3v1.3h-1.3zM112.2,302.9h1.3v1.3h-1.3zM121.8,277.5h1.3v1.3h-1.3zM111.6,299.6h1.3v1.3h-1.3zM109.0,285.7h1.3v1.3h-1.3zM110.9,300.3h1.3v1.3h-1.3zM116.5,294.4h1.3v1.3h-1.3zM112.3,278.8h1.3v1.3h-1.3zM116.6,282.4h1.3v1.3h-1.3zM114.5,283.0h1.3v1.3h-1.3zM111.7,286.7h1.3v1.3h-1.3zM117.5,295.1h1.3v1.3h-1.3zM106.4,292.4h1.3v1.3h-1.3zM111.9,289.4h1.3v1.3h-1.3zM109.6,291.0h1.3v1.3h-1.3zM117.1,273.3h1.3v1.3h-1.3zM121.1,287.2h1.3v1.3h-1.3zM119.4,296.0h1.3v1.3h-1.3zM118.1,290.5h1.3v1.3h-1.3zM118.9,288.6h1.3v1.3h-1.3zM111.4,300.1h1.3v1.3h-1.3zM118.5,291.0h1.3v1.3h-1.3zM115.9,288.7h1.3v1.3h-1.3zM102.7,293.4h1.3v1.3h-1.3zM110.7,291.6h1.3v1.3h-1.3zM114.8,307.3h1.3v1.3h-1.3zM111.0,295.1h1.3v1.3h-1.3zM114.4,285.8h1.3v1.3h-1.3zM109.3,297.2h1.3v1.3h-1.3zM115.5,307.2h1.3v1.3h-1.3zM121.4,297.7h1.3v1.3h-1.3zM118.8,290.2h1.3v1.3h-1.3zM121.5,281.9h1.3v1.3h-1.3zM112.3,307.5h1.3v1.3h-1.3zM113.1,291.2h1.3v1.3h-1.3zM115.1,302.8h1.3v1.3h-1.3zM108.6,301.8h1.3v1.3h-1.3zM113.9,300.3h1.3v1.3h-1.3zM111.9,286.9h1.3v1.3h-1.3zM110.5,284.2h1.3v1.3h-1.3zM113.9,295.3h1.3v1.3h-1.3zM117.7,287.8h1.3v1.3h-1.3zM111.1,299.2h1.3v1.3h-1.3zM112.3,291.3h1.3v1.3h-1.3zM118.0,289.5h1.3v1.3h-1.3zM109.6,305.7h1.3v1.3h-1.3zM113.7,290.4h1.3v1.3h-1.3zM117.9,295.8h1.3v1.3h-1.3zM106.3,290.0h1.3v1.3h-1.3zM111.7,303.9h1.3v1.3h-1.3zM120.4,283.6h1.3v1.3h-1.3zM112.8,291.6h1.3v1.3h-1.3zM109.0,287.7h1.3v1.3h-1.3zM110.4,298.4h1.3v1.3h-1.3zM111.1,303.6h1.3v1.3h-1.3zM117.4,278.7h1.3v1.3h-1.3zM116.1,308.6h1.3v1.3h-1.3zM111.1,299.6h1.3v1.3h-1.3zM114.3,310.1h1.3v1.3h-1.3zM102.2,302.0h1.3v1.3h-1.3zM117.2,293.5h1.3v1.3h-1.3zM123.0,296.2h1.3v1.3h-1.3zM112.7,295.1h1.3v1.3h-1.3zM108.5,286.9h1.3v1.3h-1.3zM106.2,305.0h1.3v1.3h-1.3zM110.8,298.5h1.3v1.3h-1.3zM117.9,295.8h1.3v1.3h-1.3zM114.9,296.6h1.3v1.3h-1.3zM118.6,291.5h1.3v1.3h-1.3zM113.8,306.3h1.3v1.3h-1.3zM115.9,297.6h1.3v1.3h-1.3zM116.7,288.2h1.3v1.3h-1.3zM115.1,284.0h1.3v1.3h-1.3zM114.3,300.1h1.3v1.3h-1.3zM113.3,292.3h1.3v1.3h-1.3zM106.9,291.5h1.3v1.3h-1.3zM119.5,289.1h1.3v1.3h-1.3zM113.1,290.1h1.3v1.3h-1.3zM117.7,296.0h1.3v1.3h-1.3zM117.1,297.9h1.3v1.3h-1.3zM115.0,288.8h1.3v1.3h-1.3zM106.4,291.4h1.3v1.3h-1.3zM113.5,306.7h1.3v1.3h-1.3zM110.4,299.8h1.3v1.3h-1.3zM108.3,292.5h1.3v1.3h-1.3zM108.7,295.2h1.3v1.3h-1.3zM107.3,298.3h1.3v1.3h-1.3zM121.2,287.0h1.3v1.3h-1.3zM105.1,304.6h1.3v1.3h-1.3zM111.8,307.1h1.3v1.3h-1.3zM117.2,292.3h1.3v1.3h-1.3zM112.2,293.7h1.3v1.3h-1.3zM109.3,304.4h1.3v1.3h-1.3zM97.7,313.1h1.3v1.3h-1.3zM113.6,288.1h1.3v1.3h-1.3zM111.6,308.8h1.3v1.3h-1.3zM110.9,294.4h1.3v1.3h-1.3zM106.3,285.8h1.3v1.3h-1.3zM107.2,296.3h1.3v1.3h-1.3zM107.3,289.1h1.3v1.3h-1.3zM106.5,303.6h1.3v1.3h-1.3zM117.8,301.7h1.3v1.3h-1.3zM109.9,290.8h1.3v1.3h-1.3zM114.2,307.1h1.3v1.3h-1.3zM115.4,295.1h1.3v1.3h-1.3zM118.3,305.2h1.3v1.3h-1.3zM116.1,289.3h1.3v1.3h-1.3zM110.7,298.1h1.3v1.3h-1.3zM114.3,298.7h1.3v1.3h-1.3zM110.8,300.8h1.3v1.3h-1.3zM113.1,288.4h1.3v1.3h-1.3zM104.9,297.0h1.3v1.3h-1.3zM114.0,281.5h1.3v1.3h-1.3zM109.0,285.6h1.3v1.3h-1.3zM110.4,291.1h1.3v1.3h-1.3zM113.5,291.4h1.3v1.3h-1.3zM110.9,302.4h1.3v1.3h-1.3zM119.6,279.5h1.3v1.3h-1.3zM111.9,295.6h1.3v1.3h-1.3zM111.5,305.0h1.3v1.3h-1.3zM107.2,293.0h1.3v1.3h-1.3zM117.0,293.9h1.3v1.3h-1.3zM108.0,304.4h1.3v1.3h-1.3zM109.6,289.8h1.3v1.3h-1.3zM112.7,305.2h1.3v1.3h-1.3zM106.9,293.8h1.3v1.3h-1.3zM113.9,279.6h1.3v1.3h-1.3zM119.3,289.7h1.3v1.3h-1.3zM109.2,293.8h1.3v1.3h-1.3zM107.1,301.8h1.3v1.3h-1.3zM117.3,287.2h1.3v1.3h-1.3zM116.9,279.9h1.3v1.3h-1.3zM110.5,288.6h1.3v1.3h-1.3zM112.8,291.4h1.3v1.3h-1.3zM113.6,289.3h1.3v1.3h-1.3zM105.9,307.7h1.3v1.3h-1.3zM112.9,290.0h1.3v1.3h-1.3zM110.2,295.8h1.3v1.3h-1.3zM105.8,289.3h1.3v1.3h-1.3zM114.7,281.3h1.3v1.3h-1.3zM110.5,295.6h1.3v1.3h-1.3zM112.8,283.1h1.3v1.3h-1.3zM115.2,289.8h1.3v1.3h-1.3zM104.6,304.1h1.3v1.3h-1.3zM105.5,298.5h1.3v1.3h-1.3zM116.6,291.9h1.3v1.3h-1.3zM108.1,279.9h1.3v1.3h-1.3zM107.2,285.4h1.3v1.3h-1.3zM118.0,289.7h1.3v1.3h-1.3zM118.9,299.9h1.3v1.3h-1.3zM109.8,297.6h1.3v1.3h-1.3zM114.3,294.7h1.3v1.3h-1.3zM120.6,293.6h1.3v1.3h-1.3zM111.4,304.1h1.3v1.3h-1.3zM114.8,286.8h1.3v1.3h-1.3zM108.9,305.5h1.3v1.3h-1.3zM105.9,287.7h1.3v1.3h-1.3zM116.2,290.3h1.3v1.3h-1.3zM116.1,288.7h1.3v1.3h-1.3zM114.6,305.9h1.3v1.3h-1.3zM114.9,287.5h1.3v1.3h-1.3zM117.9,284.1h1.3v1.3h-1.3zM109.2,293.4h1.3v1.3h-1.3zM105.7,285.6h1.3v1.3h-1.3zM105.9,291.3h1.3v1.3h-1.3zM108.7,302.1h1.3v1.3h-1.3zM108.2,298.4h1.3v1.3h-1.3zM114.3,284.4h1.3v1.3h-1.3zM111.1,287.9h1.3v1.3h-1.3zM116.6,276.1h1.3v1.3h-1.3zM109.6,292.8h1.3v1.3h-1.3zM115.8,291.5h1.3v1.3h-1.3zM115.4,298.0h1.3v1.3h-1.3zM110.8,299.7h1.3v1.3h-1.3zM109.4,302.4h1.3v1.3h-1.3zM112.0,303.9h1.3v1.3h-1.3zM109.7,290.6h1.3v1.3h-1.3zM105.0,305.6h1.3v1.3h-1.3zM110.5,303.3h1.3v1.3h-1.3zM107.7,281.3h1.3v1.3h-1.3zM114.0,297.0h1.3v1.3h-1.3zM108.9,307.8h1.3v1.3h-1.3zM106.9,314.7h1.3v1.3h-1.3zM115.1,297.0h1.3v1.3h-1.3zM116.8,292.3h1.3v1.3h-1.3zM102.9,283.2h1.3v1.3h-1.3zM114.9,286.1h1.3v1.3h-1.3zM109.8,299.7h1.3v1.3h-1.3zM111.6,280.4h1.3v1.3h-1.3zM106.5,305.1h1.3v1.3h-1.3zM114.9,308.6h1.3v1.3h-1.3zM119.5,300.2h1.3v1.3h-1.3zM118.1,292.9h1.3v1.3h-1.3zM110.8,303.8h1.3v1.3h-1.3zM119.4,293.3h1.3v1.3h-1.3zM106.1,291.8h1.3v1.3h-1.3zM111.8,290.3h1.3v1.3h-1.3zM110.5,292.0h1.3v1.3h-1.3zM114.6,293.0h1.3v1.3h-1.3zM104.7,293.5h1.3v1.3h-1.3zM119.0,287.8h1.3v1.3h-1.3zM116.9,286.0h1.3v1.3h-1.3zM111.0,286.4h1.3v1.3h-1.3zM111.3,302.5h1.3v1.3h-1.3zM106.5,288.5h1.3v1.3h-1.3zM115.8,287.7h1.3v1.3h-1.3zM109.8,309.5h1.3v1.3h-1.3zM116.2,293.2h1.3v1.3h-1.3zM109.6,300.1h1.3v1.3h-1.3zM109.7,309.8h1.3v1.3h-1.3zM115.4,287.3h1.3v1.3h-1.3zM116.6,295.1h1.3v1.3h-1.3zM106.5,307.4h1.3v1.3h-1.3zM111.0,281.0h1.3v1.3h-1.3zM116.9,292.0h1.3v1.3h-1.3zM114.7,286.7h1.3v1.3h-1.3zM112.7,292.1h1.3v1.3h-1.3zM113.5,298.2h1.3v1.3h-1.3zM107.0,300.8h1.3v1.3h-1.3zM117.9,304.1h1.3v1.3h-1.3zM110.4,298.2h1.3v1.3h-1.3zM112.6,297.5h1.3v1.3h-1.3zM116.2,295.4h1.3v1.3h-1.3zM112.4,288.5h1.3v1.3h-1.3zM105.7,288.3h1.3v1.3h-1.3zM117.4,302.3h1.3v1.3h-1.3zM112.0,300.1h1.3v1.3h-1.3zM110.7,288.7h1.3v1.3h-1.3zM103.6,291.2h1.3v1.3h-1.3zM114.5,293.2h1.3v1.3h-1.3zM123.0,293.4h1.3v1.3h-1.3zM105.3,294.1h1.3v1.3h-1.3zM113.2,298.7h1.3v1.3h-1.3zM102.4,313.3h1.3v1.3h-1.3zM120.2,302.6h1.3v1.3h-1.3zM119.0,284.8h1.3v1.3h-1.3zM102.0,297.0h1.3v1.3h-1.3zM115.5,284.0h1.3v1.3h-1.3zM118.8,281.5h1.3v1.3h-1.3zM112.3,296.1h1.3v1.3h-1.3zM111.5,290.3h1.3v1.3h-1.3zM108.0,304.3h1.3v1.3h-1.3zM123.4,281.9h1.3v1.3h-1.3zM117.6,293.7h1.3v1.3h-1.3zM108.4,299.1h1.3v1.3h-1.3zM108.7,300.6h1.3v1.3h-1.3zM105.1,292.4h1.3v1.3h-1.3zM114.1,287.2h1.3v1.3h-1.3zM112.8,299.5h1.3v1.3h-1.3zM122.1,282.6h1.3v1.3h-1.3zM115.2,286.0h1.3v1.3h-1.3zM111.0,288.9h1.3v1.3h-1.3zM108.9,287.6h1.3v1.3h-1.3zM116.9,285.6h1.3v1.3h-1.3zM114.3,292.2h1.3v1.3h-1.3zM113.6,287.9h1.3v1.3h-1.3zM110.3,289.4h1.3v1.3h-1.3zM116.1,302.4h1.3v1.3h-1.3zM104.4,295.2h1.3v1.3h-1.3zM110.9,301.1h1.3v1.3h-1.3zM106.6,305.3h1.3v1.3h-1.3zM104.7,300.2h1.3v1.3h-1.3zM105.1,310.6h1.3v1.3h-1.3zM111.9,282.5h1.3v1.3h-1.3zM118.3,292.9h1.3v1.3h-1.3zM114.3,295.2h1.3v1.3h-1.3zM111.9,300.4h1.3v1.3h-1.3zM112.5,302.3h1.3v1.3h-1.3zM109.0,296.8h1.3v1.3h-1.3zM112.1,278.3h1.3v1.3h-1.3zM108.3,304.6h1.3v1.3h-1.3zM115.5,288.3h1.3v1.3h-1.3zM115.7,293.7h1.3v1.3h-1.3zM105.3,300.0h1.3v1.3h-1.3zM106.4,297.3h1.3v1.3h-1.3zM120.7,293.1h1.3v1.3h-1.3zM112.9,285.4h1.3v1.3h-1.3zM106.1,290.9h1.3v1.3h-1.3zM110.8,300.2h1.3v1.3h-1.3zM110.7,302.7h1.3v1.3h-1.3zM116.5,291.7h1.3v1.3h-1.3zM110.2,291.3h1.3v1.3h-1.3zM105.3,318.8h1.3v1.3h-1.3zM118.6,296.0h1.3v1.3h-1.3zM116.0,299.7h1.3v1.3h-1.3zM103.8,306.4h1.3v1.3h-1.3zM116.7,289.4h1.3v1.3h-1.3zM109.4,290.2h1.3v1.3h-1.3zM111.0,293.4h1.3v1.3h-1.3zM107.3,314.2h1.3v1.3h-1.3zM112.8,288.8h1.3v1.3h-1.3zM108.2,283.6h1.3v1.3h-1.3zM113.7,280.0h1.3v1.3h-1.3zM115.5,283.3h1.3v1.3h-1.3zM111.2,306.2h1.3v1.3h-1.3zM119.8,296.1h1.3v1.3h-1.3zM112.3,311.5h1.3v1.3h-1.3zM113.3,312.3h1.3v1.3h-1.3zM111.5,298.9h1.3v1.3h-1.3zM111.4,312.1h1.3v1.3h-1.3zM111.9,303.9h1.3v1.3h-1.3zM111.6,296.4h1.3v1.3h-1.3zM105.6,311.0h1.3v1.3h-1.3zM98.4,294.8h1.3v1.3h-1.3zM104.9,296.3h1.3v1.3h-1.3zM110.7,296.9h1.3v1.3h-1.3zM110.0,301.9h1.3v1.3h-1.3zM107.7,302.0h1.3v1.3h-1.3zM103.7,298.1h1.3v1.3h-1.3zM100.5,308.8h1.3v1.3h-1.3zM106.9,304.6h1.3v1.3h-1.3zM108.3,312.0h1.3v1.3h-1.3zM109.1,324.1h1.3v1.3h-1.3zM105.2,305.8h1.3v1.3h-1.3zM105.3,298.6h1.3v1.3h-1.3zM108.0,302.1h1.3v1.3h-1.3zM103.1,298.9h1.3v1.3h-1.3zM112.4,315.8h1.3v1.3h-1.3zM115.7,313.4h1.3v1.3h-1.3zM102.9,299.7h1.3v1.3h-1.3zM117.4,300.8h1.3v1.3h-1.3zM108.0,310.3h1.3v1.3h-1.3zM105.1,304.0h1.3v1.3h-1.3zM110.5,312.1h1.3v1.3h-1.3zM111.2,320.6h1.3v1.3h-1.3zM109.8,311.7h1.3v1.3h-1.3zM102.4,290.9h1.3v1.3h-1.3zM111.7,307.6h1.3v1.3h-1.3zM103.3,295.6h1.3v1.3h-1.3zM109.2,310.7h1.3v1.3h-1.3zM97.0,299.1h1.3v1.3h-1.3zM112.4,302.0h1.3v1.3h-1.3zM103.4,318.1h1.3v1.3h-1.3zM114.3,307.6h1.3v1.3h-1.3zM112.4,323.2h1.3v1.3h-1.3zM107.3,300.6h1.3v1.3h-1.3zM108.5,292.8h1.3v1.3h-1.3zM113.0,298.2h1.3v1.3h-1.3zM112.0,307.0h1.3v1.3h-1.3zM104.8,311.2h1.3v1.3h-1.3zM114.9,306.8h1.3v1.3h-1.3zM98.2,304.1h1.3v1.3h-1.3zM109.0,308.9h1.3v1.3h-1.3zM110.7,311.7h1.3v1.3h-1.3zM121.6,308.5h1.3v1.3h-1.3zM103.8,304.7h1.3v1.3h-1.3zM109.6,299.4h1.3v1.3h-1.3zM109.8,300.9h1.3v1.3h-1.3zM108.8,307.3h1.3v1.3h-1.3zM103.5,310.5h1.3v1.3h-1.3zM108.4,314.0h1.3v1.3h-1.3zM112.6,307.5h1.3v1.3h-1.3zM114.5,299.9h1.3v1.3h-1.3zM107.2,284.3h1.3v1.3h-1.3zM115.7,310.0h1.3v1.3h-1.3zM110.9,309.5h1.3v1.3h-1.3zM104.1,304.4h1.3v1.3h-1.3zM106.3,299.4h1.3v1.3h-1.3zM101.8,303.6h1.3v1.3h-1.3zM115.1,303.6h1.3v1.3h-1.3zM118.1,291.7h1.3v1.3h-1.3zM102.7,308.0h1.3v1.3h-1.3zM105.9,295.0h1.3v1.3h-1.3zM106.3,319.9h1.3v1.3h-1.3zM105.5,307.7h1.3v1.3h-1.3zM107.9,306.6h1.3v1.3h-1.3zM108.8,311.0h1.3v1.3h-1.3zM108.5,308.7h1.3v1.3h-1.3zM106.5,307.4h1.3v1.3h-1.3zM112.8,303.8h1.3v1.3h-1.3zM111.9,310.7h1.3v1.3h-1.3zM100.3,306.8h1.3v1.3h-1.3zM112.8,305.7h1.3v1.3h-1.3zM106.0,316.5h1.3v1.3h-1.3zM110.3,311.2h1.3v1.3h-1.3zM100.4,303.0h1.3v1.3h-1.3zM109.0,296.9h1.3v1.3h-1.3zM102.5,315.2h1.3v1.3h-1.3zM109.3,294.7h1.3v1.3h-1.3zM109.6,301.0h1.3v1.3h-1.3zM101.9,303.5h1.3v1.3h-1.3zM101.3,318.1h1.3v1.3h-1.3zM112.2,297.6h1.3v1.3h-1.3zM105.2,304.3h1.3v1.3h-1.3zM111.4,306.9h1.3v1.3h-1.3zM108.9,303.0h1.3v1.3h-1.3zM104.5,313.0h1.3v1.3h-1.3zM110.9,289.4h1.3v1.3h-1.3zM106.8,308.5h1.3v1.3h-1.3zM118.1,309.9h1.3v1.3h-1.3zM105.1,292.1h1.3v1.3h-1.3zM112.2,300.3h1.3v1.3h-1.3zM98.1,296.5h1.3v1.3h-1.3zM107.5,298.4h1.3v1.3h-1.3zM111.5,292.5h1.3v1.3h-1.3zM112.9,292.6h1.3v1.3h-1.3zM105.6,297.6h1.3v1.3h-1.3zM111.8,308.9h1.3v1.3h-1.3zM102.0,306.8h1.3v1.3h-1.3zM104.5,308.4h1.3v1.3h-1.3zM106.4,309.8h1.3v1.3h-1.3zM109.4,304.2h1.3v1.3h-1.3zM103.9,310.6h1.3v1.3h-1.3zM109.9,308.9h1.3v1.3h-1.3zM106.4,311.8h1.3v1.3h-1.3zM78.8,296.4h1.3v1.3h-1.3zM83.6,295.0h1.3v1.3h-1.3zM87.9,297.6h1.3v1.3h-1.3zM95.0,300.9h1.3v1.3h-1.3zM96.6,291.6h1.3v1.3h-1.3zM105.7,301.5h1.3v1.3h-1.3zM85.8,291.2h1.3v1.3h-1.3zM94.5,296.5h1.3v1.3h-1.3zM94.5,293.3h1.3v1.3h-1.3zM81.2,291.8h1.3v1.3h-1.3zM94.9,291.1h1.3v1.3h-1.3zM89.2,301.3h1.3v1.3h-1.3zM94.3,282.7h1.3v1.3h-1.3zM81.5,289.2h1.3v1.3h-1.3zM79.1,292.6h1.3v1.3h-1.3zM73.7,295.6h1.3v1.3h-1.3zM93.7,305.8h1.3v1.3h-1.3zM81.8,293.3h1.3v1.3h-1.3zM88.3,291.8h1.3v1.3h-1.3zM98.2,303.6h1.3v1.3h-1.3zM91.3,309.8h1.3v1.3h-1.3zM71.6,302.1h1.3v1.3h-1.3zM73.4,290.2h1.3v1.3h-1.3zM95.1,290.2h1.3v1.3h-1.3zM80.0,300.4h1.3v1.3h-1.3zM79.5,295.8h1.3v1.3h-1.3zM83.7,285.4h1.3v1.3h-1.3zM92.3,304.4h1.3v1.3h-1.3zM98.7,292.5h1.3v1.3h-1.3zM95.1,294.0h1.3v1.3h-1.3zM97.7,285.0h1.3v1.3h-1.3zM94.7,282.9h1.3v1.3h-1.3zM93.7,291.6h1.3v1.3h-1.3zM85.4,311.1h1.3v1.3h-1.3zM97.5,289.2h1.3v1.3h-1.3zM83.3,287.3h1.3v1.3h-1.3zM91.0,293.3h1.3v1.3h-1.3zM101.1,286.0h1.3v1.3h-1.3zM81.8,293.3h1.3v1.3h-1.3zM96.1,284.9h1.3v1.3h-1.3zM93.2,297.1h1.3v1.3h-1.3zM92.2,309.3h1.3v1.3h-1.3zM97.7,294.5h1.3v1.3h-1.3zM86.6,299.8h1.3v1.3h-1.3zM91.0,300.8h1.3v1.3h-1.3zM84.0,301.9h1.3v1.3h-1.3zM100.5,294.9h1.3v1.3h-1.3zM93.1,291.2h1.3v1.3h-1.3zM86.2,287.7h1.3v1.3h-1.3zM89.0,300.1h1.3v1.3h-1.3zM83.9,297.2h1.3v1.3h-1.3zM87.1,283.2h1.3v1.3h-1.3zM74.7,285.0h1.3v1.3h-1.3zM98.8,281.6h1.3v1.3h-1.3zM85.7,300.7h1.3v1.3h-1.3zM97.6,288.6h1.3v1.3h-1.3zM91.8,301.0h1.3v1.3h-1.3zM88.3,303.6h1.3v1.3h-1.3zM100.0,285.5h1.3v1.3h-1.3zM87.4,285.5h1.3v1.3h-1.3zM90.9,310.3h1.3v1.3h-1.3zM93.5,300.1h1.3v1.3h-1.3zM92.0,297.8h1.3v1.3h-1.3zM83.9,296.7h1.3v1.3h-1.3zM96.4,303.5h1.3v1.3h-1.3zM84.1,306.3h1.3v1.3h-1.3zM86.3,286.9h1.3v1.3h-1.3zM94.5,289.5h1.3v1.3h-1.3zM93.0,281.7h1.3v1.3h-1.3zM99.2,281.1h1.3v1.3h-1.3zM84.7,299.1h1.3v1.3h-1.3zM94.8,288.1h1.3v1.3h-1.3zM86.9,295.7h1.3v1.3h-1.3zM95.6,295.1h1.3v1.3h-1.3zM85.5,291.4h1.3v1.3h-1.3zM86.6,289.4h1.3v1.3h-1.3zM91.4,296.4h1.3v1.3h-1.3zM84.7,285.9h1.3v1.3h-1.3zM84.7,293.1h1.3v1.3h-1.3zM87.9,293.7h1.3v1.3h-1.3zM84.4,326.5h1.3v1.3h-1.3zM87.8,336.1h1.3v1.3h-1.3zM78.2,328.6h1.3v1.3h-1.3zM85.5,325.1h1.3v1.3h-1.3zM90.3,324.1h1.3v1.3h-1.3zM77.1,334.1h1.3v1.3h-1.3zM95.8,335.9h1.3v1.3h-1.3zM92.1,330.5h1.3v1.3h-1.3zM94.3,331.5h1.3v1.3h-1.3zM81.8,327.7h1.3v1.3h-1.3zM102.3,334.6h1.3v1.3h-1.3zM89.0,334.6h1.3v1.3h-1.3zM90.5,328.3h1.3v1.3h-1.3zM81.9,338.5h1.3v1.3h-1.3zM87.5,330.8h1.3v1.3h-1.3zM93.4,330.2h1.3v1.3h-1.3zM94.6,328.5h1.3v1.3h-1.3zM97.5,324.3h1.3v1.3h-1.3zM77.5,333.6h1.3v1.3h-1.3zM90.2,331.7h1.3v1.3h-1.3zM89.7,322.2h1.3v1.3h-1.3zM81.1,335.1h1.3v1.3h-1.3zM81.0,326.5h1.3v1.3h-1.3zM103.0,332.8h1.3v1.3h-1.3zM103.8,335.3h1.3v1.3h-1.3zM88.1,330.0h1.3v1.3h-1.3zM89.5,333.9h1.3v1.3h-1.3zM79.2,332.9h1.3v1.3h-1.3zM94.5,330.8h1.3v1.3h-1.3zM90.1,328.1h1.3v1.3h-1.3zM97.6,334.6h1.3v1.3h-1.3zM98.5,319.7h1.3v1.3h-1.3zM79.2,326.4h1.3v1.3h-1.3zM74.3,336.6h1.3v1.3h-1.3zM85.3,331.2h1.3v1.3h-1.3zM74.2,336.2h1.3v1.3h-1.3zM75.9,327.7h1.3v1.3h-1.3zM80.8,330.4h1.3v1.3h-1.3zM83.8,328.7h1.3v1.3h-1.3zM69.3,333.6h1.3v1.3h-1.3zM76.9,337.0h1.3v1.3h-1.3zM89.9,326.3h1.3v1.3h-1.3zM81.0,334.2h1.3v1.3h-1.3zM101.1,328.4h1.3v1.3h-1.3zM94.1,324.8h1.3v1.3h-1.3zM92.7,330.7h1.3v1.3h-1.3zM86.2,326.7h1.3v1.3h-1.3zM68.1,337.3h1.3v1.3h-1.3zM90.2,327.6h1.3v1.3h-1.3zM91.5,332.8h1.3v1.3h-1.3zM81.4,338.6h1.3v1.3h-1.3zM88.6,330.8h1.3v1.3h-1.3zM87.9,341.8h1.3v1.3h-1.3zM84.3,336.6h1.3v1.3h-1.3zM93.9,326.5h1.3v1.3h-1.3zM91.8,327.6h1.3v1.3h-1.3zM95.2,328.5h1.3v1.3h-1.3zM81.4,331.0h1.3v1.3h-1.3zM87.5,329.2h1.3v1.3h-1.3zM90.6,330.0h1.3v1.3h-1.3zM88.8,330.9h1.3v1.3h-1.3zM85.4,336.5h1.3v1.3h-1.3zM81.9,333.9h1.3v1.3h-1.3zM99.6,330.3h1.3v1.3h-1.3zM80.9,328.9h1.3v1.3h-1.3zM90.6,331.9h1.3v1.3h-1.3zM93.8,334.9h1.3v1.3h-1.3zM79.1,334.6h1.3v1.3h-1.3zM84.4,332.5h1.3v1.3h-1.3zM87.0,326.4h1.3v1.3h-1.3zM87.5,328.9h1.3v1.3h-1.3zM85.3,336.2h1.3v1.3h-1.3zM86.6,335.9h1.3v1.3h-1.3zM91.9,331.6h1.3v1.3h-1.3zM79.7,332.4h1.3v1.3h-1.3zM87.9,333.4h1.3v1.3h-1.3zM79.6,333.6h1.3v1.3h-1.3zM83.4,334.0h1.3v1.3h-1.3zM67.4,337.6h1.3v1.3h-1.3zM101.9,321.0h1.3v1.3h-1.3zM94.5,331.0h1.3v1.3h-1.3zM94.2,327.2h1.3v1.3h-1.3zM87.3,331.0h1.3v1.3h-1.3zM87.2,339.5h1.3v1.3h-1.3zM94.1,325.6h1.3v1.3h-1.3zM88.9,328.9h1.3v1.3h-1.3zM81.2,332.4h1.3v1.3h-1.3zM82.4,336.7h1.3v1.3h-1.3zM89.0,319.8h1.3v1.3h-1.3zM99.6,328.9h1.3v1.3h-1.3zM84.0,321.1h1.3v1.3h-1.3zM80.9,335.3h1.3v1.3h-1.3zM89.9,321.1h1.3v1.3h-1.3zM98.2,339.1h1.3v1.3h-1.3zM73.5,338.9h1.3v1.3h-1.3zM95.2,334.3h1.3v1.3h-1.3zM82.0,326.1h1.3v1.3h-1.3zM79.9,324.5h1.3v1.3h-1.3zM73.7,336.1h1.3v1.3h-1.3zM96.1,334.9h1.3v1.3h-1.3zM88.8,326.5h1.3v1.3h-1.3zM92.4,328.0h1.3v1.3h-1.3zM90.2,327.1h1.3v1.3h-1.3zM88.0,333.2h1.3v1.3h-1.3zM100.7,334.5h1.3v1.3h-1.3zM87.7,334.5h1.3v1.3h-1.3zM85.0,326.0h1.3v1.3h-1.3zM75.3,340.3h1.3v1.3h-1.3zM89.9,330.3h1.3v1.3h-1.3zM87.7,331.8h1.3v1.3h-1.3zM90.5,332.4h1.3v1.3h-1.3zM94.8,330.7h1.3v1.3h-1.3zM76.7,338.1h1.3v1.3h-1.3zM90.2,335.1h1.3v1.3h-1.3zM75.0,330.6h1.3v1.3h-1.3zM86.8,326.9h1.3v1.3h-1.3zM97.0,336.9h1.3v1.3h-1.3zM90.0,334.5h1.3v1.3h-1.3zM85.2,329.3h1.3v1.3h-1.3zM88.1,332.2h1.3v1.3h-1.3zM87.6,329.9h1.3v1.3h-1.3zM91.8,328.7h1.3v1.3h-1.3zM85.8,323.6h1.3v1.3h-1.3zM84.3,329.0h1.3v1.3h-1.3zM81.6,341.6h1.3v1.3h-1.3zM88.3,329.3h1.3v1.3h-1.3zM73.3,326.7h1.3v1.3h-1.3zM90.6,329.5h1.3v1.3h-1.3zM79.8,338.6h1.3v1.3h-1.3zM85.0,330.8h1.3v1.3h-1.3zM84.0,332.1h1.3v1.3h-1.3zM89.1,329.9h1.3v1.3h-1.3zM90.0,331.4h1.3v1.3h-1.3zM74.2,331.4h1.3v1.3h-1.3zM89.1,326.1h1.3v1.3h-1.3zM89.4,336.7h1.3v1.3h-1.3zM90.0,324.9h1.3v1.3h-1.3zM99.9,329.5h1.3v1.3h-1.3zM88.5,331.0h1.3v1.3h-1.3zM94.7,327.8h1.3v1.3h-1.3zM104.9,327.5h1.3v1.3h-1.3zM84.7,325.4h1.3v1.3h-1.3zM92.3,333.8h1.3v1.3h-1.3zM87.4,333.8h1.3v1.3h-1.3zM76.4,329.8h1.3v1.3h-1.3zM82.6,331.0h1.3v1.3h-1.3zM91.2,334.0h1.3v1.3h-1.3zM92.2,332.5h1.3v1.3h-1.3zM88.7,333.0h1.3v1.3h-1.3zM82.0,335.4h1.3v1.3h-1.3zM105.1,330.0h1.3v1.3h-1.3zM89.2,333.8h1.3v1.3h-1.3zM95.2,326.2h1.3v1.3h-1.3zM88.6,329.5h1.3v1.3h-1.3zM71.2,337.3h1.3v1.3h-1.3zM85.3,322.2h1.3v1.3h-1.3zM103.2,331.5h1.3v1.3h-1.3zM90.3,329.2h1.3v1.3h-1.3zM104.4,332.0h1.3v1.3h-1.3zM89.1,328.0h1.3v1.3h-1.3zM86.3,333.3h1.3v1.3h-1.3zM90.3,328.8h1.3v1.3h-1.3zM81.1,334.1h1.3v1.3h-1.3zM89.2,333.0h1.3v1.3h-1.3zM96.8,334.8h1.3v1.3h-1.3zM80.3,327.2h1.3v1.3h-1.3zM85.4,333.5h1.3v1.3h-1.3zM93.9,332.2h1.3v1.3h-1.3zM73.4,333.8h1.3v1.3h-1.3zM92.5,329.7h1.3v1.3h-1.3zM98.2,327.9h1.3v1.3h-1.3zM89.2,323.0h1.3v1.3h-1.3zM90.1,326.0h1.3v1.3h-1.3zM88.8,335.9h1.3v1.3h-1.3zM91.7,323.8h1.3v1.3h-1.3zM89.1,335.8h1.3v1.3h-1.3zM84.3,329.6h1.3v1.3h-1.3zM75.9,327.4h1.3v1.3h-1.3zM76.4,322.9h1.3v1.3h-1.3zM82.0,327.4h1.3v1.3h-1.3zM89.8,341.2h1.3v1.3h-1.3zM91.1,334.7h1.3v1.3h-1.3zM83.5,330.7h1.3v1.3h-1.3zM74.4,335.0h1.3v1.3h-1.3zM89.2,326.7h1.3v1.3h-1.3zM94.1,327.8h1.3v1.3h-1.3zM111.6,316.8h1.3v1.3h-1.3zM109.4,329.4h1.3v1.3h-1.3zM103.7,331.4h1.3v1.3h-1.3zM113.3,325.0h1.3v1.3h-1.3zM110.6,331.2h1.3v1.3h-1.3zM106.6,333.2h1.3v1.3h-1.3zM102.2,314.2h1.3v1.3h-1.3zM101.8,314.8h1.3v1.3h-1.3zM112.7,336.3h1.3v1.3h-1.3zM113.6,321.2h1.3v1.3h-1.3zM113.8,328.0h1.3v1.3h-1.3zM107.2,329.2h1.3v1.3h-1.3zM109.2,339.6h1.3v1.3h-1.3zM115.2,333.7h1.3v1.3h-1.3zM116.9,315.7h1.3v1.3h-1.3zM99.4,335.9h1.3v1.3h-1.3zM105.6,327.0h1.3v1.3h-1.3zM104.0,322.0h1.3v1.3h-1.3zM107.8,338.1h1.3v1.3h-1.3zM114.0,334.5h1.3v1.3h-1.3zM112.8,308.9h1.3v1.3h-1.3zM109.3,331.1h1.3v1.3h-1.3zM100.5,321.7h1.3v1.3h-1.3zM107.7,328.1h1.3v1.3h-1.3zM115.4,336.9h1.3v1.3h-1.3zM112.5,312.9h1.3v1.3h-1.3zM114.3,334.9h1.3v1.3h-1.3zM115.9,329.6h1.3v1.3h-1.3zM117.3,325.0h1.3v1.3h-1.3zM111.9,335.6h1.3v1.3h-1.3zM112.8,324.0h1.3v1.3h-1.3zM120.9,319.8h1.3v1.3h-1.3zM110.9,335.8h1.3v1.3h-1.3zM109.0,326.8h1.3v1.3h-1.3zM112.7,318.3h1.3v1.3h-1.3zM114.1,323.4h1.3v1.3h-1.3zM107.1,326.6h1.3v1.3h-1.3zM110.9,322.6h1.3v1.3h-1.3zM100.8,321.4h1.3v1.3h-1.3zM102.6,321.4h1.3v1.3h-1.3zM108.1,341.9h1.3v1.3h-1.3zM111.7,336.2h1.3v1.3h-1.3zM112.9,324.4h1.3v1.3h-1.3zM109.2,318.0h1.3v1.3h-1.3zM105.2,332.1h1.3v1.3h-1.3zM109.3,320.7h1.3v1.3h-1.3zM109.2,330.7h1.3v1.3h-1.3zM107.0,341.2h1.3v1.3h-1.3zM103.1,329.0h1.3v1.3h-1.3zM113.7,333.8h1.3v1.3h-1.3zM109.2,331.3h1.3v1.3h-1.3zM113.4,336.0h1.3v1.3h-1.3zM112.5,314.3h1.3v1.3h-1.3zM112.5,334.7h1.3v1.3h-1.3zM107.0,312.9h1.3v1.3h-1.3zM122.7,326.7h1.3v1.3h-1.3zM107.9,316.3h1.3v1.3h-1.3zM108.0,322.5h1.3v1.3h-1.3zM106.1,328.1h1.3v1.3h-1.3zM100.7,323.7h1.3v1.3h-1.3zM95.8,335.3h1.3v1.3h-1.3zM110.9,320.5h1.3v1.3h-1.3zM117.2,320.5h1.3v1.3h-1.3zM109.2,319.8h1.3v1.3h-1.3zM115.6,330.6h1.3v1.3h-1.3zM111.6,311.0h1.3v1.3h-1.3zM110.4,322.6h1.3v1.3h-1.3zM104.2,315.5h1.3v1.3h-1.3zM106.6,332.9h1.3v1.3h-1.3zM112.2,322.1h1.3v1.3h-1.3zM105.3,332.2h1.3v1.3h-1.3zM102.1,329.9h1.3v1.3h-1.3zM101.0,334.0h1.3v1.3h-1.3zM115.3,331.3h1.3v1.3h-1.3zM106.2,317.8h1.3v1.3h-1.3zM110.0,320.4h1.3v1.3h-1.3zM109.0,335.5h1.3v1.3h-1.3zM114.9,324.7h1.3v1.3h-1.3zM109.2,323.1h1.3v1.3h-1.3zM116.8,324.3h1.3v1.3h-1.3zM113.2,342.2h1.3v1.3h-1.3zM107.1,329.7h1.3v1.3h-1.3zM107.4,331.4h1.3v1.3h-1.3zM110.5,318.0h1.3v1.3h-1.3zM111.6,322.7h1.3v1.3h-1.3zM112.1,326.3h1.3v1.3h-1.3zM117.5,328.5h1.3v1.3h-1.3zM109.9,330.4h1.3v1.3h-1.3zM108.6,331.4h1.3v1.3h-1.3zM104.5,326.5h1.3v1.3h-1.3zM111.9,328.4h1.3v1.3h-1.3zM116.6,325.5h1.3v1.3h-1.3zM102.9,328.0h1.3v1.3h-1.3zM114.1,321.5h1.3v1.3h-1.3zM108.5,337.7h1.3v1.3h-1.3zM109.7,324.9h1.3v1.3h-1.3zM120.1,320.8h1.3v1.3h-1.3zM109.7,322.6h1.3v1.3h-1.3zM109.1,320.0h1.3v1.3h-1.3zM108.5,326.8h1.3v1.3h-1.3zM103.0,329.2h1.3v1.3h-1.3zM103.4,328.7h1.3v1.3h-1.3zM110.3,317.0h1.3v1.3h-1.3zM110.0,333.4h1.3v1.3h-1.3zM111.5,331.2h1.3v1.3h-1.3zM99.4,323.3h1.3v1.3h-1.3zM107.9,332.2h1.3v1.3h-1.3zM107.3,320.5h1.3v1.3h-1.3zM110.0,334.6h1.3v1.3h-1.3zM114.0,337.8h1.3v1.3h-1.3zM113.0,335.7h1.3v1.3h-1.3zM108.5,312.5h1.3v1.3h-1.3zM108.5,324.9h1.3v1.3h-1.3zM106.9,324.2h1.3v1.3h-1.3zM113.5,322.9h1.3v1.3h-1.3zM117.1,329.7h1.3v1.3h-1.3zM104.0,321.2h1.3v1.3h-1.3zM105.1,318.5h1.3v1.3h-1.3zM109.3,308.4h1.3v1.3h-1.3zM111.5,335.4h1.3v1.3h-1.3zM105.5,329.0h1.3v1.3h-1.3zM112.1,327.9h1.3v1.3h-1.3zM112.9,329.5h1.3v1.3h-1.3zM114.0,320.0h1.3v1.3h-1.3zM108.5,329.6h1.3v1.3h-1.3zM111.7,342.6h1.3v1.3h-1.3zM112.5,319.2h1.3v1.3h-1.3zM110.1,317.3h1.3v1.3h-1.3zM109.4,314.5h1.3v1.3h-1.3zM99.6,341.1h1.3v1.3h-1.3zM91.2,317.1h1.3v1.3h-1.3zM98.6,316.0h1.3v1.3h-1.3zM91.5,317.6h1.3v1.3h-1.3zM93.1,321.7h1.3v1.3h-1.3zM107.3,315.5h1.3v1.3h-1.3zM81.9,315.7h1.3v1.3h-1.3zM88.1,320.7h1.3v1.3h-1.3zM109.2,313.0h1.3v1.3h-1.3zM92.3,322.2h1.3v1.3h-1.3zM104.8,313.8h1.3v1.3h-1.3zM106.9,322.2h1.3v1.3h-1.3zM117.4,326.9h1.3v1.3h-1.3zM98.6,315.3h1.3v1.3h-1.3zM91.2,317.4h1.3v1.3h-1.3zM80.4,316.9h1.3v1.3h-1.3zM94.0,307.0h1.3v1.3h-1.3zM94.6,307.0h1.3v1.3h-1.3zM98.6,316.6h1.3v1.3h-1.3zM105.1,315.7h1.3v1.3h-1.3zM107.2,316.7h1.3v1.3h-1.3zM79.9,311.6h1.3v1.3h-1.3zM83.6,310.5h1.3v1.3h-1.3zM95.1,323.8h1.3v1.3h-1.3zM97.0,326.0h1.3v1.3h-1.3zM88.0,321.5h1.3v1.3h-1.3zM100.5,312.0h1.3v1.3h-1.3zM86.5,318.7h1.3v1.3h-1.3zM99.9,318.4h1.3v1.3h-1.3zM103.7,322.1h1.3v1.3h-1.3zM103.4,313.5h1.3v1.3h-1.3zM98.6,311.5h1.3v1.3h-1.3zM81.3,316.7h1.3v1.3h-1.3zM97.6,319.2h1.3v1.3h-1.3zM108.5,327.9h1.3v1.3h-1.3zM96.9,316.0h1.3v1.3h-1.3zM93.0,317.7h1.3v1.3h-1.3zM101.8,312.9h1.3v1.3h-1.3zM97.8,310.1h1.3v1.3h-1.3zM98.1,309.4h1.3v1.3h-1.3zM92.7,319.7h1.3v1.3h-1.3zM87.8,330.4h1.3v1.3h-1.3zM97.3,318.1h1.3v1.3h-1.3zM92.3,322.9h1.3v1.3h-1.3zM87.3,314.7h1.3v1.3h-1.3zM105.7,315.4h1.3v1.3h-1.3zM105.8,309.4h1.3v1.3h-1.3zM104.0,313.0h1.3v1.3h-1.3zM93.1,318.5h1.3v1.3h-1.3zM102.1,313.4h1.3v1.3h-1.3zM91.4,315.8h1.3v1.3h-1.3z" fill="#111"/>
<rect x="65.80" y="247.00" width="109.00" height="97.20" fill="none" stroke="#111" stroke-width="1.1"/>
<line x1="101.70" y1="247.00" x2="101.70" y2="344.20" stroke="#111" stroke-width="1.0" stroke-linecap="butt"/>
<line x1="65.80" y1="308.00" x2="174.80" y2="308.00" stroke="#111" stroke-width="1.0" stroke-linecap="butt"/>
<line x1="65.80" y1="344.20" x2="65.80" y2="350.60" stroke="#111" stroke-width="1.1" stroke-linecap="butt"/>
<line x1="59.20" y1="344.20" x2="65.80" y2="344.20" stroke="#111" stroke-width="1.3" stroke-linecap="butt"/>
<line x1="74.00" y1="344.20" x2="74.00" y2="348.00" stroke="#111" stroke-width="1.1" stroke-linecap="butt"/>
<line x1="61.60" y1="336.88" x2="65.80" y2="336.88" stroke="#111" stroke-width="1.3" stroke-linecap="butt"/>
<line x1="78.80" y1="344.20" x2="78.80" y2="348.00" stroke="#111" stroke-width="1.1" stroke-linecap="butt"/>
<line x1="61.60" y1="332.61" x2="65.80" y2="332.61" stroke="#111" stroke-width="1.3" stroke-linecap="butt"/>
<line x1="82.21" y1="344.20" x2="82.21" y2="348.00" stroke="#111" stroke-width="1.1" stroke-linecap="butt"/>
<line x1="61.60" y1="329.57" x2="65.80" y2="329.57" stroke="#111" stroke-width="1.3" stroke-linecap="butt"/>
<line x1="84.85" y1="344.20" x2="84.85" y2="348.00" stroke="#111" stroke-width="1.1" stroke-linecap="butt"/>
<line x1="61.60" y1="327.22" x2="65.80" y2="327.22" stroke="#111" stroke-width="1.3" stroke-linecap="butt"/>
<line x1="87.00" y1="344.20" x2="87.00" y2="348.00" stroke="#111" stroke-width="1.1" stroke-linecap="butt"/>
<line x1="61.60" y1="325.29" x2="65.80" y2="325.29" stroke="#111" stroke-width="1.3" stroke-linecap="butt"/>
<line x1="88.83" y1="344.20" x2="88.83" y2="348.00" stroke="#111" stroke-width="1.1" stroke-linecap="butt"/>
<line x1="61.60" y1="323.66" x2="65.80" y2="323.66" stroke="#111" stroke-width="1.3" stroke-linecap="butt"/>
<line x1="90.41" y1="344.20" x2="90.41" y2="348.00" stroke="#111" stroke-width="1.1" stroke-linecap="butt"/>
<line x1="61.60" y1="322.25" x2="65.80" y2="322.25" stroke="#111" stroke-width="1.3" stroke-linecap="butt"/>
<line x1="91.80" y1="344.20" x2="91.80" y2="348.00" stroke="#111" stroke-width="1.1" stroke-linecap="butt"/>
<line x1="61.60" y1="321.01" x2="65.80" y2="321.01" stroke="#111" stroke-width="1.3" stroke-linecap="butt"/>
<line x1="93.05" y1="344.20" x2="93.05" y2="350.60" stroke="#111" stroke-width="1.1" stroke-linecap="butt"/>
<line x1="59.20" y1="319.90" x2="65.80" y2="319.90" stroke="#111" stroke-width="1.3" stroke-linecap="butt"/>
<line x1="101.25" y1="344.20" x2="101.25" y2="348.00" stroke="#111" stroke-width="1.1" stroke-linecap="butt"/>
<line x1="61.60" y1="312.58" x2="65.80" y2="312.58" stroke="#111" stroke-width="1.3" stroke-linecap="butt"/>
<line x1="106.05" y1="344.20" x2="106.05" y2="348.00" stroke="#111" stroke-width="1.1" stroke-linecap="butt"/>
<line x1="61.60" y1="308.31" x2="65.80" y2="308.31" stroke="#111" stroke-width="1.3" stroke-linecap="butt"/>
<line x1="109.46" y1="344.20" x2="109.46" y2="348.00" stroke="#111" stroke-width="1.1" stroke-linecap="butt"/>
<line x1="61.60" y1="305.27" x2="65.80" y2="305.27" stroke="#111" stroke-width="1.3" stroke-linecap="butt"/>
<line x1="112.10" y1="344.20" x2="112.10" y2="348.00" stroke="#111" stroke-width="1.1" stroke-linecap="butt"/>
<line x1="61.60" y1="302.92" x2="65.80" y2="302.92" stroke="#111" stroke-width="1.3" stroke-linecap="butt"/>
<line x1="114.25" y1="344.20" x2="114.25" y2="348.00" stroke="#111" stroke-width="1.1" stroke-linecap="butt"/>
<line x1="61.60" y1="300.99" x2="65.80" y2="300.99" stroke="#111" stroke-width="1.3" stroke-linecap="butt"/>
<line x1="116.08" y1="344.20" x2="116.08" y2="348.00" stroke="#111" stroke-width="1.1" stroke-linecap="butt"/>
<line x1="61.60" y1="299.36" x2="65.80" y2="299.36" stroke="#111" stroke-width="1.3" stroke-linecap="butt"/>
<line x1="117.66" y1="344.20" x2="117.66" y2="348.00" stroke="#111" stroke-width="1.1" stroke-linecap="butt"/>
<line x1="61.60" y1="297.95" x2="65.80" y2="297.95" stroke="#111" stroke-width="1.3" stroke-linecap="butt"/>
<line x1="119.05" y1="344.20" x2="119.05" y2="348.00" stroke="#111" stroke-width="1.1" stroke-linecap="butt"/>
<line x1="61.60" y1="296.71" x2="65.80" y2="296.71" stroke="#111" stroke-width="1.3" stroke-linecap="butt"/>
<line x1="120.30" y1="344.20" x2="120.30" y2="350.60" stroke="#111" stroke-width="1.1" stroke-linecap="butt"/>
<line x1="59.20" y1="295.60" x2="65.80" y2="295.60" stroke="#111" stroke-width="1.3" stroke-linecap="butt"/>
<line x1="128.50" y1="344.20" x2="128.50" y2="348.00" stroke="#111" stroke-width="1.1" stroke-linecap="butt"/>
<line x1="61.60" y1="288.28" x2="65.80" y2="288.28" stroke="#111" stroke-width="1.3" stroke-linecap="butt"/>
<line x1="133.30" y1="344.20" x2="133.30" y2="348.00" stroke="#111" stroke-width="1.1" stroke-linecap="butt"/>
<line x1="61.60" y1="284.01" x2="65.80" y2="284.01" stroke="#111" stroke-width="1.3" stroke-linecap="butt"/>
<line x1="136.71" y1="344.20" x2="136.71" y2="348.00" stroke="#111" stroke-width="1.1" stroke-linecap="butt"/>
<line x1="61.60" y1="280.97" x2="65.80" y2="280.97" stroke="#111" stroke-width="1.3" stroke-linecap="butt"/>
<line x1="139.35" y1="344.20" x2="139.35" y2="348.00" stroke="#111" stroke-width="1.1" stroke-linecap="butt"/>
<line x1="61.60" y1="278.62" x2="65.80" y2="278.62" stroke="#111" stroke-width="1.3" stroke-linecap="butt"/>
<line x1="141.50" y1="344.20" x2="141.50" y2="348.00" stroke="#111" stroke-width="1.1" stroke-linecap="butt"/>
<line x1="61.60" y1="276.69" x2="65.80" y2="276.69" stroke="#111" stroke-width="1.3" stroke-linecap="butt"/>
<line x1="143.33" y1="344.20" x2="143.33" y2="348.00" stroke="#111" stroke-width="1.1" stroke-linecap="butt"/>
<line x1="61.60" y1="275.06" x2="65.80" y2="275.06" stroke="#111" stroke-width="1.3" stroke-linecap="butt"/>
<line x1="144.91" y1="344.20" x2="144.91" y2="348.00" stroke="#111" stroke-width="1.1" stroke-linecap="butt"/>
<line x1="61.60" y1="273.65" x2="65.80" y2="273.65" stroke="#111" stroke-width="1.3" stroke-linecap="butt"/>
<line x1="146.30" y1="344.20" x2="146.30" y2="348.00" stroke="#111" stroke-width="1.1" stroke-linecap="butt"/>
<line x1="61.60" y1="272.41" x2="65.80" y2="272.41" stroke="#111" stroke-width="1.3" stroke-linecap="butt"/>
<line x1="147.55" y1="344.20" x2="147.55" y2="350.60" stroke="#111" stroke-width="1.1" stroke-linecap="butt"/>
<line x1="59.20" y1="271.30" x2="65.80" y2="271.30" stroke="#111" stroke-width="1.3" stroke-linecap="butt"/>
<line x1="155.75" y1="344.20" x2="155.75" y2="348.00" stroke="#111" stroke-width="1.1" stroke-linecap="butt"/>
<line x1="61.60" y1="263.98" x2="65.80" y2="263.98" stroke="#111" stroke-width="1.3" stroke-linecap="butt"/>
<line x1="160.55" y1="344.20" x2="160.55" y2="348.00" stroke="#111" stroke-width="1.1" stroke-linecap="butt"/>
<line x1="61.60" y1="259.71" x2="65.80" y2="259.71" stroke="#111" stroke-width="1.3" stroke-linecap="butt"/>
<line x1="163.96" y1="344.20" x2="163.96" y2="348.00" stroke="#111" stroke-width="1.1" stroke-linecap="butt"/>
<line x1="61.60" y1="256.67" x2="65.80" y2="256.67" stroke="#111" stroke-width="1.3" stroke-linecap="butt"/>
<line x1="166.60" y1="344.20" x2="166.60" y2="348.00" stroke="#111" stroke-width="1.1" stroke-linecap="butt"/>
<line x1="61.60" y1="254.32" x2="65.80" y2="254.32" stroke="#111" stroke-width="1.3" stroke-linecap="butt"/>
<line x1="168.75" y1="344.20" x2="168.75" y2="348.00" stroke="#111" stroke-width="1.1" stroke-linecap="butt"/>
<line x1="61.60" y1="252.39" x2="65.80" y2="252.39" stroke="#111" stroke-width="1.3" stroke-linecap="butt"/>
<line x1="170.58" y1="344.20" x2="170.58" y2="348.00" stroke="#111" stroke-width="1.1" stroke-linecap="butt"/>
<line x1="61.60" y1="250.76" x2="65.80" y2="250.76" stroke="#111" stroke-width="1.3" stroke-linecap="butt"/>
<line x1="172.16" y1="344.20" x2="172.16" y2="348.00" stroke="#111" stroke-width="1.1" stroke-linecap="butt"/>
<line x1="61.60" y1="249.35" x2="65.80" y2="249.35" stroke="#111" stroke-width="1.3" stroke-linecap="butt"/>
<line x1="173.55" y1="344.20" x2="173.55" y2="348.00" stroke="#111" stroke-width="1.1" stroke-linecap="butt"/>
<line x1="61.60" y1="248.11" x2="65.80" y2="248.11" stroke="#111" stroke-width="1.3" stroke-linecap="butt"/>
<line x1="174.80" y1="344.20" x2="174.80" y2="350.60" stroke="#111" stroke-width="1.1" stroke-linecap="butt"/>
<line x1="59.20" y1="247.00" x2="65.80" y2="247.00" stroke="#111" stroke-width="1.3" stroke-linecap="butt"/>
<text x="122.70" y="243.20" font-size="13.5" font-weight="normal" text-anchor="middle" fill="#1a1a1a">Vector</text>
<text x="61.30" y="363.80" font-size="13" font-weight="normal" text-anchor="middle" fill="#1a1a1a">10<tspan dy="-4.62" font-size="10.40">0</tspan></text>
<text x="87.50" y="363.80" font-size="13" font-weight="normal" text-anchor="middle" fill="#1a1a1a">10<tspan dy="-4.62" font-size="10.40">1</tspan></text>
<text x="114.80" y="363.80" font-size="13" font-weight="normal" text-anchor="middle" fill="#1a1a1a">10<tspan dy="-4.62" font-size="10.40">2</tspan></text>
<text x="141.50" y="363.80" font-size="13" font-weight="normal" text-anchor="middle" fill="#1a1a1a">10<tspan dy="-4.62" font-size="10.40">3</tspan></text>
<text x="168.90" y="363.80" font-size="13" font-weight="normal" text-anchor="middle" fill="#1a1a1a">10<tspan dy="-4.62" font-size="10.40">4</tspan></text>
<text x="54.60" y="330.40" font-size="13" font-weight="normal" text-anchor="middle" fill="#1a1a1a" transform="rotate(-90 54.60 330.40)">10<tspan dy="-4.62" font-size="10.40">1</tspan></text>
<text x="54.60" y="302.80" font-size="13" font-weight="normal" text-anchor="middle" fill="#1a1a1a" transform="rotate(-90 54.60 302.80)">10<tspan dy="-4.62" font-size="10.40">2</tspan></text>
<text x="54.60" y="275.60" font-size="13" font-weight="normal" text-anchor="middle" fill="#1a1a1a" transform="rotate(-90 54.60 275.60)">10<tspan dy="-4.62" font-size="10.40">3</tspan></text>
<text x="54.60" y="248.60" font-size="13" font-weight="normal" text-anchor="middle" fill="#1a1a1a" transform="rotate(-90 54.60 248.60)">10<tspan dy="-4.62" font-size="10.40">4</tspan></text>
<text x="76.70" y="271.20" font-size="9.7" font-weight="normal" text-anchor="middle" fill="#f5161e">8.4%</text>
<text x="148.00" y="297.90" font-size="9.7" font-weight="normal" text-anchor="middle" fill="#f5161e">60.5%</text>
<text x="78.80" y="318.70" font-size="9.7" font-weight="normal" text-anchor="middle" fill="#f5161e">10.4%</text>
<text x="143.20" y="324.70" font-size="9.7" font-weight="normal" text-anchor="middle" fill="#f5161e">20.7%</text>
<path d="M235.2,330.7h1.3v1.3h-1.3zM253.5,313.9h1.3v1.3h-1.3zM233.2,330.9h1.3v1.3h-1.3zM228.8,337.4h1.3v1.3h-1.3zM235.3,331.4h1.3v1.3h-1.3zM237.1,329.3h1.3v1.3h-1.3zM231.5,334.1h1.3v1.3h-1.3zM237.9,330.3h1.3v1.3h-1.3zM230.6,332.8h1.3v1.3h-1.3zM236.7,331.7h1.3v1.3h-1.3zM241.6,326.7h1.3v1.3h-1.3zM239.5,327.5h1.3v1.3h-1.3zM229.4,338.3h1.3v1.3h-1.3zM231.2,327.7h1.3v1.3h-1.3zM228.0,332.4h1.3v1.3h-1.3zM240.4,327.1h1.3v1.3h-1.3zM239.0,323.7h1.3v1.3h-1.3zM230.1,335.9h1.3v1.3h-1.3zM239.0,326.3h1.3v1.3h-1.3zM245.4,320.9h1.3v1.3h-1.3zM224.8,339.1h1.3v1.3h-1.3zM224.6,337.2h1.3v1.3h-1.3zM236.4,330.4h1.3v1.3h-1.3zM226.4,335.3h1.3v1.3h-1.3zM229.6,331.9h1.3v1.3h-1.3zM225.8,338.8h1.3v1.3h-1.3zM228.6,338.4h1.3v1.3h-1.3zM249.2,314.6h1.3v1.3h-1.3zM228.1,334.2h1.3v1.3h-1.3zM238.9,328.2h1.3v1.3h-1.3zM229.8,334.2h1.3v1.3h-1.3zM234.9,331.5h1.3v1.3h-1.3zM226.7,338.0h1.3v1.3h-1.3zM229.3,333.2h1.3v1.3h-1.3zM232.6,331.9h1.3v1.3h-1.3zM229.6,336.3h1.3v1.3h-1.3zM231.3,334.3h1.3v1.3h-1.3zM222.5,338.5h1.3v1.3h-1.3zM237.9,329.4h1.3v1.3h-1.3zM236.0,332.0h1.3v1.3h-1.3zM224.1,340.0h1.3v1.3h-1.3zM241.9,325.1h1.3v1.3h-1.3zM222.5,340.2h1.3v1.3h-1.3zM228.5,337.6h1.3v1.3h-1.3zM234.4,335.4h1.3v1.3h-1.3zM239.0,326.9h1.3v1.3h-1.3zM228.4,337.6h1.3v1.3h-1.3zM236.4,326.2h1.3v1.3h-1.3zM227.6,335.8h1.3v1.3h-1.3zM247.1,318.9h1.3v1.3h-1.3zM230.2,333.5h1.3v1.3h-1.3zM233.0,330.4h1.3v1.3h-1.3zM234.5,332.0h1.3v1.3h-1.3zM231.6,332.3h1.3v1.3h-1.3zM228.0,336.0h1.3v1.3h-1.3zM226.5,334.3h1.3v1.3h-1.3zM242.1,326.7h1.3v1.3h-1.3zM237.7,327.8h1.3v1.3h-1.3zM232.9,332.8h1.3v1.3h-1.3zM234.0,328.7h1.3v1.3h-1.3zM224.6,336.4h1.3v1.3h-1.3zM230.7,336.7h1.3v1.3h-1.3zM232.0,331.2h1.3v1.3h-1.3zM231.8,332.3h1.3v1.3h-1.3zM230.2,335.7h1.3v1.3h-1.3zM238.6,329.7h1.3v1.3h-1.3zM238.6,326.6h1.3v1.3h-1.3zM230.6,334.6h1.3v1.3h-1.3zM230.5,334.2h1.3v1.3h-1.3zM232.1,333.2h1.3v1.3h-1.3zM234.5,332.4h1.3v1.3h-1.3zM228.8,335.9h1.3v1.3h-1.3zM225.4,334.4h1.3v1.3h-1.3zM232.3,333.0h1.3v1.3h-1.3zM225.8,335.8h1.3v1.3h-1.3zM236.9,325.1h1.3v1.3h-1.3zM237.9,330.0h1.3v1.3h-1.3zM224.5,335.7h1.3v1.3h-1.3zM228.1,336.3h1.3v1.3h-1.3zM231.4,332.1h1.3v1.3h-1.3zM235.8,332.3h1.3v1.3h-1.3zM228.4,340.2h1.3v1.3h-1.3zM235.8,330.1h1.3v1.3h-1.3zM221.9,338.6h1.3v1.3h-1.3zM232.4,335.0h1.3v1.3h-1.3zM229.8,336.1h1.3v1.3h-1.3zM233.0,331.5h1.3v1.3h-1.3zM228.8,334.4h1.3v1.3h-1.3zM236.4,326.9h1.3v1.3h-1.3zM237.3,331.0h1.3v1.3h-1.3zM246.5,320.3h1.3v1.3h-1.3zM227.8,340.5h1.3v1.3h-1.3zM233.2,332.9h1.3v1.3h-1.3zM235.4,329.6h1.3v1.3h-1.3zM237.2,330.0h1.3v1.3h-1.3zM224.9,341.6h1.3v1.3h-1.3zM224.1,334.0h1.3v1.3h-1.3zM241.0,326.9h1.3v1.3h-1.3zM240.8,328.3h1.3v1.3h-1.3zM229.0,337.2h1.3v1.3h-1.3zM231.1,332.0h1.3v1.3h-1.3zM244.8,320.5h1.3v1.3h-1.3zM231.6,332.8h1.3v1.3h-1.3zM230.9,332.9h1.3v1.3h-1.3zM226.9,336.5h1.3v1.3h-1.3zM235.1,328.0h1.3v1.3h-1.3zM227.2,335.8h1.3v1.3h-1.3zM234.0,333.3h1.3v1.3h-1.3zM237.6,329.0h1.3v1.3h-1.3zM246.2,319.8h1.3v1.3h-1.3zM227.8,336.6h1.3v1.3h-1.3zM235.1,329.2h1.3v1.3h-1.3zM230.8,332.8h1.3v1.3h-1.3zM250.4,315.5h1.3v1.3h-1.3zM233.3,333.0h1.3v1.3h-1.3zM221.3,341.3h1.3v1.3h-1.3zM229.7,334.9h1.3v1.3h-1.3zM228.9,333.6h1.3v1.3h-1.3zM238.8,329.0h1.3v1.3h-1.3zM223.8,338.9h1.3v1.3h-1.3zM240.7,324.7h1.3v1.3h-1.3zM235.2,333.7h1.3v1.3h-1.3zM228.8,334.1h1.3v1.3h-1.3zM234.5,330.9h1.3v1.3h-1.3zM235.7,327.8h1.3v1.3h-1.3zM232.7,334.0h1.3v1.3h-1.3zM223.6,339.3h1.3v1.3h-1.3zM231.2,334.0h1.3v1.3h-1.3zM239.0,328.8h1.3v1.3h-1.3zM230.5,332.5h1.3v1.3h-1.3zM228.8,333.5h1.3v1.3h-1.3zM228.5,336.4h1.3v1.3h-1.3zM231.1,328.9h1.3v1.3h-1.3zM232.9,334.0h1.3v1.3h-1.3zM223.1,341.0h1.3v1.3h-1.3zM224.7,340.5h1.3v1.3h-1.3zM232.5,329.6h1.3v1.3h-1.3zM225.4,335.0h1.3v1.3h-1.3zM228.2,336.9h1.3v1.3h-1.3zM229.3,334.6h1.3v1.3h-1.3zM231.8,333.9h1.3v1.3h-1.3zM227.9,337.6h1.3v1.3h-1.3zM232.5,333.8h1.3v1.3h-1.3zM228.0,339.8h1.3v1.3h-1.3zM232.3,331.5h1.3v1.3h-1.3zM226.0,335.5h1.3v1.3h-1.3zM231.9,332.7h1.3v1.3h-1.3zM221.8,339.8h1.3v1.3h-1.3zM239.8,321.8h1.3v1.3h-1.3zM228.5,336.0h1.3v1.3h-1.3zM236.7,327.8h1.3v1.3h-1.3zM228.3,335.8h1.3v1.3h-1.3zM238.1,326.5h1.3v1.3h-1.3zM231.8,330.5h1.3v1.3h-1.3zM223.2,339.2h1.3v1.3h-1.3zM228.2,337.0h1.3v1.3h-1.3zM237.1,324.5h1.3v1.3h-1.3zM234.9,330.2h1.3v1.3h-1.3zM242.2,322.7h1.3v1.3h-1.3zM228.2,337.7h1.3v1.3h-1.3zM223.2,338.6h1.3v1.3h-1.3zM233.3,327.7h1.3v1.3h-1.3zM230.5,333.8h1.3v1.3h-1.3zM227.7,334.0h1.3v1.3h-1.3zM239.9,322.4h1.3v1.3h-1.3zM238.4,329.0h1.3v1.3h-1.3zM239.6,328.8h1.3v1.3h-1.3zM228.6,336.2h1.3v1.3h-1.3zM244.9,323.9h1.3v1.3h-1.3zM226.4,337.0h1.3v1.3h-1.3zM239.5,325.4h1.3v1.3h-1.3zM235.6,331.9h1.3v1.3h-1.3zM230.0,331.4h1.3v1.3h-1.3zM233.0,333.6h1.3v1.3h-1.3zM230.3,331.1h1.3v1.3h-1.3zM242.7,323.1h1.3v1.3h-1.3zM227.5,332.6h1.3v1.3h-1.3zM228.5,335.5h1.3v1.3h-1.3zM234.9,330.4h1.3v1.3h-1.3zM231.3,329.5h1.3v1.3h-1.3zM234.3,334.3h1.3v1.3h-1.3zM228.9,332.3h1.3v1.3h-1.3zM231.4,335.8h1.3v1.3h-1.3zM237.9,326.8h1.3v1.3h-1.3zM232.7,330.9h1.3v1.3h-1.3zM230.2,333.9h1.3v1.3h-1.3zM235.9,330.9h1.3v1.3h-1.3zM239.9,328.8h1.3v1.3h-1.3zM244.8,322.1h1.3v1.3h-1.3zM234.7,333.5h1.3v1.3h-1.3zM237.1,330.6h1.3v1.3h-1.3zM235.4,330.0h1.3v1.3h-1.3zM227.6,332.2h1.3v1.3h-1.3zM233.4,332.9h1.3v1.3h-1.3zM230.3,333.5h1.3v1.3h-1.3zM232.8,330.2h1.3v1.3h-1.3zM229.1,334.7h1.3v1.3h-1.3zM229.5,336.5h1.3v1.3h-1.3zM237.3,330.4h1.3v1.3h-1.3zM222.8,338.9h1.3v1.3h-1.3zM229.4,333.6h1.3v1.3h-1.3zM235.6,328.6h1.3v1.3h-1.3zM232.9,328.3h1.3v1.3h-1.3zM226.2,334.8h1.3v1.3h-1.3zM231.6,332.4h1.3v1.3h-1.3zM230.0,332.4h1.3v1.3h-1.3zM235.4,331.1h1.3v1.3h-1.3zM232.8,331.0h1.3v1.3h-1.3zM231.7,327.2h1.3v1.3h-1.3zM235.9,330.5h1.3v1.3h-1.3zM238.6,326.7h1.3v1.3h-1.3zM229.5,335.7h1.3v1.3h-1.3zM223.1,338.4h1.3v1.3h-1.3zM241.6,325.1h1.3v1.3h-1.3zM227.8,340.3h1.3v1.3h-1.3zM225.3,338.3h1.3v1.3h-1.3zM228.8,335.8h1.3v1.3h-1.3zM227.6,336.8h1.3v1.3h-1.3zM231.2,333.0h1.3v1.3h-1.3zM233.1,331.4h1.3v1.3h-1.3zM227.7,337.0h1.3v1.3h-1.3zM225.3,339.5h1.3v1.3h-1.3zM232.3,331.5h1.3v1.3h-1.3zM224.6,341.2h1.3v1.3h-1.3zM229.4,337.8h1.3v1.3h-1.3zM230.8,334.2h1.3v1.3h-1.3zM228.3,332.0h1.3v1.3h-1.3zM230.0,333.9h1.3v1.3h-1.3zM222.0,339.1h1.3v1.3h-1.3zM234.4,330.4h1.3v1.3h-1.3zM228.5,334.7h1.3v1.3h-1.3zM232.3,333.8h1.3v1.3h-1.3zM229.7,331.8h1.3v1.3h-1.3zM239.0,331.1h1.3v1.3h-1.3zM229.8,333.1h1.3v1.3h-1.3zM230.0,333.7h1.3v1.3h-1.3zM230.5,330.1h1.3v1.3h-1.3zM236.7,329.4h1.3v1.3h-1.3zM240.8,324.0h1.3v1.3h-1.3zM242.4,325.3h1.3v1.3h-1.3zM223.5,337.9h1.3v1.3h-1.3zM232.7,336.4h1.3v1.3h-1.3zM232.8,334.0h1.3v1.3h-1.3zM229.6,334.5h1.3v1.3h-1.3zM224.2,336.3h1.3v1.3h-1.3zM224.7,338.8h1.3v1.3h-1.3zM232.5,333.6h1.3v1.3h-1.3zM227.8,334.3h1.3v1.3h-1.3zM222.9,340.4h1.3v1.3h-1.3zM242.0,326.5h1.3v1.3h-1.3zM223.3,341.2h1.3v1.3h-1.3zM225.4,340.3h1.3v1.3h-1.3zM227.0,335.6h1.3v1.3h-1.3zM232.5,334.9h1.3v1.3h-1.3zM240.0,328.6h1.3v1.3h-1.3zM241.0,326.6h1.3v1.3h-1.3zM226.8,338.3h1.3v1.3h-1.3zM240.8,325.4h1.3v1.3h-1.3zM232.1,336.8h1.3v1.3h-1.3zM232.1,333.6h1.3v1.3h-1.3zM230.0,336.4h1.3v1.3h-1.3zM222.8,337.5h1.3v1.3h-1.3zM226.4,336.1h1.3v1.3h-1.3zM235.6,329.5h1.3v1.3h-1.3zM233.0,330.5h1.3v1.3h-1.3zM230.1,334.6h1.3v1.3h-1.3zM234.2,330.7h1.3v1.3h-1.3zM230.4,340.7h1.3v1.3h-1.3zM232.0,335.9h1.3v1.3h-1.3zM239.2,324.0h1.3v1.3h-1.3zM233.6,330.9h1.3v1.3h-1.3zM227.5,332.2h1.3v1.3h-1.3zM224.3,333.9h1.3v1.3h-1.3zM231.1,338.5h1.3v1.3h-1.3zM243.0,324.4h1.3v1.3h-1.3zM234.4,328.3h1.3v1.3h-1.3zM222.8,341.7h1.3v1.3h-1.3zM233.0,329.1h1.3v1.3h-1.3zM231.2,332.2h1.3v1.3h-1.3zM221.7,340.1h1.3v1.3h-1.3zM226.7,338.1h1.3v1.3h-1.3zM232.9,330.1h1.3v1.3h-1.3zM228.2,335.0h1.3v1.3h-1.3zM230.4,332.7h1.3v1.3h-1.3zM229.5,331.6h1.3v1.3h-1.3zM226.1,340.3h1.3v1.3h-1.3zM239.9,328.1h1.3v1.3h-1.3zM236.2,327.8h1.3v1.3h-1.3zM222.2,341.7h1.3v1.3h-1.3zM229.4,335.3h1.3v1.3h-1.3zM223.3,339.6h1.3v1.3h-1.3zM233.4,334.4h1.3v1.3h-1.3zM232.4,332.1h1.3v1.3h-1.3zM222.0,341.3h1.3v1.3h-1.3zM237.6,326.5h1.3v1.3h-1.3zM225.7,340.0h1.3v1.3h-1.3zM232.3,331.7h1.3v1.3h-1.3zM237.1,328.5h1.3v1.3h-1.3zM237.0,330.4h1.3v1.3h-1.3zM243.2,324.2h1.3v1.3h-1.3zM226.4,338.9h1.3v1.3h-1.3zM230.2,333.3h1.3v1.3h-1.3zM238.8,329.4h1.3v1.3h-1.3zM227.6,334.9h1.3v1.3h-1.3zM238.2,326.0h1.3v1.3h-1.3zM233.6,334.4h1.3v1.3h-1.3zM228.8,339.3h1.3v1.3h-1.3zM227.8,333.5h1.3v1.3h-1.3zM241.4,325.9h1.3v1.3h-1.3zM235.6,326.8h1.3v1.3h-1.3zM225.6,341.5h1.3v1.3h-1.3zM228.1,341.3h1.3v1.3h-1.3zM236.1,329.9h1.3v1.3h-1.3zM230.2,334.4h1.3v1.3h-1.3zM234.8,330.8h1.3v1.3h-1.3zM224.6,337.6h1.3v1.3h-1.3zM228.7,335.1h1.3v1.3h-1.3zM227.7,336.5h1.3v1.3h-1.3zM222.5,340.6h1.3v1.3h-1.3zM230.0,332.1h1.3v1.3h-1.3zM227.0,339.3h1.3v1.3h-1.3zM236.0,334.5h1.3v1.3h-1.3zM235.5,330.4h1.3v1.3h-1.3zM229.0,335.3h1.3v1.3h-1.3zM230.1,336.9h1.3v1.3h-1.3zM236.0,331.9h1.3v1.3h-1.3zM232.4,333.2h1.3v1.3h-1.3zM227.3,338.5h1.3v1.3h-1.3zM233.4,332.8h1.3v1.3h-1.3zM239.8,324.7h1.3v1.3h-1.3zM229.0,333.2h1.3v1.3h-1.3zM238.3,331.8h1.3v1.3h-1.3zM227.3,336.2h1.3v1.3h-1.3zM237.1,330.6h1.3v1.3h-1.3zM240.5,328.3h1.3v1.3h-1.3zM240.2,325.4h1.3v1.3h-1.3zM232.5,333.3h1.3v1.3h-1.3zM225.8,335.7h1.3v1.3h-1.3zM224.6,339.2h1.3v1.3h-1.3zM235.9,328.7h1.3v1.3h-1.3zM235.8,331.5h1.3v1.3h-1.3zM224.1,339.1h1.3v1.3h-1.3zM230.7,331.6h1.3v1.3h-1.3zM234.1,332.6h1.3v1.3h-1.3zM222.0,341.3h1.3v1.3h-1.3zM237.9,329.9h1.3v1.3h-1.3zM226.1,340.4h1.3v1.3h-1.3zM250.4,318.5h1.3v1.3h-1.3zM238.8,324.7h1.3v1.3h-1.3zM228.3,334.8h1.3v1.3h-1.3zM242.7,321.1h1.3v1.3h-1.3zM237.8,330.1h1.3v1.3h-1.3zM227.9,336.3h1.3v1.3h-1.3zM241.1,327.3h1.3v1.3h-1.3zM235.9,327.1h1.3v1.3h-1.3zM236.7,329.2h1.3v1.3h-1.3zM228.0,334.7h1.3v1.3h-1.3zM229.9,333.8h1.3v1.3h-1.3zM228.9,336.9h1.3v1.3h-1.3zM229.1,337.8h1.3v1.3h-1.3zM237.5,331.8h1.3v1.3h-1.3zM234.2,332.3h1.3v1.3h-1.3zM234.9,334.6h1.3v1.3h-1.3zM231.9,333.0h1.3v1.3h-1.3zM240.4,323.7h1.3v1.3h-1.3zM234.2,331.4h1.3v1.3h-1.3zM232.3,330.4h1.3v1.3h-1.3zM239.8,325.1h1.3v1.3h-1.3zM239.2,330.6h1.3v1.3h-1.3zM237.7,323.5h1.3v1.3h-1.3zM232.8,333.7h1.3v1.3h-1.3zM240.4,330.5h1.3v1.3h-1.3zM239.3,329.8h1.3v1.3h-1.3zM235.0,333.2h1.3v1.3h-1.3zM241.0,325.4h1.3v1.3h-1.3zM228.6,335.8h1.3v1.3h-1.3zM240.3,322.4h1.3v1.3h-1.3zM233.6,332.1h1.3v1.3h-1.3zM241.2,325.0h1.3v1.3h-1.3zM228.9,330.9h1.3v1.3h-1.3zM222.8,339.7h1.3v1.3h-1.3zM241.9,323.6h1.3v1.3h-1.3zM234.0,329.0h1.3v1.3h-1.3zM226.7,337.2h1.3v1.3h-1.3zM232.3,330.2h1.3v1.3h-1.3zM235.3,329.8h1.3v1.3h-1.3zM240.0,322.9h1.3v1.3h-1.3zM225.5,332.0h1.3v1.3h-1.3zM234.9,331.4h1.3v1.3h-1.3zM242.9,329.6h1.3v1.3h-1.3zM225.5,337.4h1.3v1.3h-1.3zM228.8,338.1h1.3v1.3h-1.3zM231.2,329.8h1.3v1.3h-1.3zM233.1,329.8h1.3v1.3h-1.3zM237.3,328.4h1.3v1.3h-1.3zM233.1,333.3h1.3v1.3h-1.3zM234.2,328.9h1.3v1.3h-1.3zM231.8,332.9h1.3v1.3h-1.3zM235.8,329.3h1.3v1.3h-1.3zM234.8,334.7h1.3v1.3h-1.3zM235.2,333.8h1.3v1.3h-1.3zM236.6,329.2h1.3v1.3h-1.3zM230.3,336.9h1.3v1.3h-1.3zM238.3,328.4h1.3v1.3h-1.3zM230.3,338.5h1.3v1.3h-1.3zM234.6,336.3h1.3v1.3h-1.3zM225.3,336.5h1.3v1.3h-1.3zM230.7,341.5h1.3v1.3h-1.3zM228.1,334.7h1.3v1.3h-1.3zM227.6,339.3h1.3v1.3h-1.3zM231.8,334.8h1.3v1.3h-1.3zM225.1,340.1h1.3v1.3h-1.3zM226.3,339.4h1.3v1.3h-1.3zM223.6,340.8h1.3v1.3h-1.3zM231.1,339.6h1.3v1.3h-1.3zM232.5,335.1h1.3v1.3h-1.3zM231.4,335.0h1.3v1.3h-1.3zM225.3,341.8h1.3v1.3h-1.3zM232.9,336.0h1.3v1.3h-1.3zM230.2,335.1h1.3v1.3h-1.3zM223.4,339.6h1.3v1.3h-1.3zM228.3,339.6h1.3v1.3h-1.3zM225.0,338.9h1.3v1.3h-1.3zM229.8,334.6h1.3v1.3h-1.3zM231.9,333.5h1.3v1.3h-1.3zM226.6,337.8h1.3v1.3h-1.3zM228.2,338.3h1.3v1.3h-1.3zM226.4,335.8h1.3v1.3h-1.3zM234.2,335.4h1.3v1.3h-1.3zM225.1,335.6h1.3v1.3h-1.3zM232.7,336.5h1.3v1.3h-1.3zM231.2,335.9h1.3v1.3h-1.3zM228.0,338.0h1.3v1.3h-1.3zM224.8,341.0h1.3v1.3h-1.3zM227.8,340.0h1.3v1.3h-1.3zM229.8,337.7h1.3v1.3h-1.3zM225.0,338.3h1.3v1.3h-1.3zM225.4,339.5h1.3v1.3h-1.3zM224.7,337.8h1.3v1.3h-1.3zM228.8,337.9h1.3v1.3h-1.3zM227.5,337.1h1.3v1.3h-1.3zM226.5,341.9h1.3v1.3h-1.3zM235.0,335.0h1.3v1.3h-1.3zM231.3,338.3h1.3v1.3h-1.3zM230.6,337.7h1.3v1.3h-1.3zM227.6,338.9h1.3v1.3h-1.3zM222.2,336.9h1.3v1.3h-1.3zM224.6,341.1h1.3v1.3h-1.3zM223.8,338.8h1.3v1.3h-1.3zM233.0,335.6h1.3v1.3h-1.3zM229.9,337.7h1.3v1.3h-1.3zM233.5,335.3h1.3v1.3h-1.3zM229.9,339.2h1.3v1.3h-1.3zM233.0,334.7h1.3v1.3h-1.3zM226.4,339.8h1.3v1.3h-1.3zM230.0,339.6h1.3v1.3h-1.3zM228.7,339.2h1.3v1.3h-1.3zM224.2,337.2h1.3v1.3h-1.3zM234.0,336.9h1.3v1.3h-1.3zM232.5,336.2h1.3v1.3h-1.3zM227.4,337.6h1.3v1.3h-1.3zM225.7,339.5h1.3v1.3h-1.3zM225.1,339.2h1.3v1.3h-1.3zM228.7,338.1h1.3v1.3h-1.3zM226.6,339.4h1.3v1.3h-1.3zM229.6,339.2h1.3v1.3h-1.3zM232.4,334.2h1.3v1.3h-1.3zM222.0,339.2h1.3v1.3h-1.3zM232.2,333.8h1.3v1.3h-1.3zM232.8,338.9h1.3v1.3h-1.3zM228.9,340.6h1.3v1.3h-1.3zM229.7,335.8h1.3v1.3h-1.3zM227.4,336.6h1.3v1.3h-1.3zM224.7,340.2h1.3v1.3h-1.3zM228.4,337.9h1.3v1.3h-1.3zM223.9,341.2h1.3v1.3h-1.3zM222.1,338.9h1.3v1.3h-1.3zM230.2,338.2h1.3v1.3h-1.3zM226.5,339.5h1.3v1.3h-1.3zM224.5,338.6h1.3v1.3h-1.3zM231.7,340.6h1.3v1.3h-1.3zM231.3,338.5h1.3v1.3h-1.3zM226.6,341.3h1.3v1.3h-1.3zM225.9,339.1h1.3v1.3h-1.3zM226.8,333.5h1.3v1.3h-1.3zM226.4,339.2h1.3v1.3h-1.3zM226.7,337.7h1.3v1.3h-1.3zM230.8,335.6h1.3v1.3h-1.3zM227.8,337.7h1.3v1.3h-1.3zM224.1,339.0h1.3v1.3h-1.3zM225.7,337.8h1.3v1.3h-1.3zM226.8,337.3h1.3v1.3h-1.3zM222.5,337.0h1.3v1.3h-1.3zM222.3,340.1h1.3v1.3h-1.3zM224.0,339.3h1.3v1.3h-1.3zM232.0,338.3h1.3v1.3h-1.3zM229.3,335.9h1.3v1.3h-1.3zM224.0,337.9h1.3v1.3h-1.3zM225.7,337.7h1.3v1.3h-1.3zM223.8,333.6h1.3v1.3h-1.3zM229.7,338.0h1.3v1.3h-1.3zM221.7,341.1h1.3v1.3h-1.3zM223.1,339.6h1.3v1.3h-1.3zM224.2,341.5h1.3v1.3h-1.3zM228.6,337.2h1.3v1.3h-1.3zM227.8,337.5h1.3v1.3h-1.3zM227.6,337.6h1.3v1.3h-1.3zM232.6,334.5h1.3v1.3h-1.3zM230.1,334.2h1.3v1.3h-1.3zM221.4,338.6h1.3v1.3h-1.3zM224.3,338.4h1.3v1.3h-1.3zM233.5,337.3h1.3v1.3h-1.3zM227.2,341.1h1.3v1.3h-1.3zM236.3,334.2h1.3v1.3h-1.3zM228.6,337.6h1.3v1.3h-1.3zM226.6,337.4h1.3v1.3h-1.3zM228.3,335.6h1.3v1.3h-1.3zM222.0,340.3h1.3v1.3h-1.3zM232.1,338.8h1.3v1.3h-1.3zM230.8,338.5h1.3v1.3h-1.3zM231.8,334.1h1.3v1.3h-1.3zM230.4,337.1h1.3v1.3h-1.3zM225.0,340.4h1.3v1.3h-1.3zM229.0,337.7h1.3v1.3h-1.3zM224.3,339.1h1.3v1.3h-1.3zM223.5,337.3h1.3v1.3h-1.3zM231.2,336.8h1.3v1.3h-1.3zM232.3,336.8h1.3v1.3h-1.3zM233.5,335.7h1.3v1.3h-1.3zM235.3,338.5h1.3v1.3h-1.3zM227.7,336.4h1.3v1.3h-1.3zM226.8,340.2h1.3v1.3h-1.3zM227.2,337.9h1.3v1.3h-1.3zM228.7,336.7h1.3v1.3h-1.3zM223.7,337.4h1.3v1.3h-1.3zM229.1,336.0h1.3v1.3h-1.3zM231.6,335.7h1.3v1.3h-1.3zM223.4,341.2h1.3v1.3h-1.3zM225.0,341.1h1.3v1.3h-1.3zM228.1,338.0h1.3v1.3h-1.3zM232.1,337.4h1.3v1.3h-1.3zM234.8,335.6h1.3v1.3h-1.3zM226.8,338.3h1.3v1.3h-1.3zM233.7,333.9h1.3v1.3h-1.3zM229.3,337.5h1.3v1.3h-1.3zM226.3,341.2h1.3v1.3h-1.3zM227.3,338.9h1.3v1.3h-1.3zM234.4,336.5h1.3v1.3h-1.3zM233.2,335.9h1.3v1.3h-1.3zM260.3,322.5h1.3v1.3h-1.3zM245.8,340.1h1.3v1.3h-1.3zM277.2,324.5h1.3v1.3h-1.3zM266.1,328.2h1.3v1.3h-1.3zM264.1,327.7h1.3v1.3h-1.3zM262.2,325.6h1.3v1.3h-1.3zM265.2,323.1h1.3v1.3h-1.3zM255.1,329.8h1.3v1.3h-1.3zM276.1,329.4h1.3v1.3h-1.3zM265.7,325.8h1.3v1.3h-1.3zM260.3,314.4h1.3v1.3h-1.3zM267.9,339.7h1.3v1.3h-1.3zM271.6,335.5h1.3v1.3h-1.3zM248.7,331.9h1.3v1.3h-1.3zM287.3,293.3h1.3v1.3h-1.3zM287.6,289.2h1.3v1.3h-1.3zM288.8,281.4h1.3v1.3h-1.3zM281.0,296.6h1.3v1.3h-1.3zM283.8,295.6h1.3v1.3h-1.3zM287.0,287.3h1.3v1.3h-1.3zM288.6,287.9h1.3v1.3h-1.3zM280.0,282.8h1.3v1.3h-1.3zM279.9,284.9h1.3v1.3h-1.3zM261.3,281.5h1.3v1.3h-1.3zM255.3,278.9h1.3v1.3h-1.3zM270.0,280.6h1.3v1.3h-1.3zM257.4,280.7h1.3v1.3h-1.3zM236.4,289.8h1.3v1.3h-1.3zM242.9,285.8h1.3v1.3h-1.3zM238.9,282.6h1.3v1.3h-1.3zM239.9,286.1h1.3v1.3h-1.3zM278.3,341.9h1.3v1.3h-1.3zM270.3,341.9h1.3v1.3h-1.3zM258.6,341.7h1.3v1.3h-1.3zM229.1,341.5h1.3v1.3h-1.3zM264.8,342.0h1.3v1.3h-1.3zM269.2,341.8h1.3v1.3h-1.3zM260.6,341.6h1.3v1.3h-1.3zM250.8,341.5h1.3v1.3h-1.3zM272.2,341.6h1.3v1.3h-1.3zM264.0,341.5h1.3v1.3h-1.3zM259.9,341.5h1.3v1.3h-1.3z" fill="#111"/>
<rect x="220.60" y="247.70" width="105.20" height="95.80" fill="none" stroke="#111" stroke-width="1.1"/>
<line x1="253.50" y1="247.70" x2="253.50" y2="343.50" stroke="#111" stroke-width="1.0" stroke-linecap="butt"/>
<line x1="220.60" y1="306.70" x2="325.80" y2="306.70" stroke="#111" stroke-width="1.0" stroke-linecap="butt"/>
<line x1="220.60" y1="343.50" x2="220.60" y2="349.90" stroke="#111" stroke-width="1.1" stroke-linecap="butt"/>
<line x1="214.00" y1="343.50" x2="220.60" y2="343.50" stroke="#111" stroke-width="1.3" stroke-linecap="butt"/>
<line x1="228.52" y1="343.50" x2="228.52" y2="347.30" stroke="#111" stroke-width="1.1" stroke-linecap="butt"/>
<line x1="216.40" y1="336.29" x2="220.60" y2="336.29" stroke="#111" stroke-width="1.3" stroke-linecap="butt"/>
<line x1="233.15" y1="343.50" x2="233.15" y2="347.30" stroke="#111" stroke-width="1.1" stroke-linecap="butt"/>
<line x1="216.40" y1="332.07" x2="220.60" y2="332.07" stroke="#111" stroke-width="1.3" stroke-linecap="butt"/>
<line x1="236.43" y1="343.50" x2="236.43" y2="347.30" stroke="#111" stroke-width="1.1" stroke-linecap="butt"/>
<line x1="216.40" y1="329.08" x2="220.60" y2="329.08" stroke="#111" stroke-width="1.3" stroke-linecap="butt"/>
<line x1="238.98" y1="343.50" x2="238.98" y2="347.30" stroke="#111" stroke-width="1.1" stroke-linecap="butt"/>
<line x1="216.40" y1="326.76" x2="220.60" y2="326.76" stroke="#111" stroke-width="1.3" stroke-linecap="butt"/>
<line x1="241.07" y1="343.50" x2="241.07" y2="347.30" stroke="#111" stroke-width="1.1" stroke-linecap="butt"/>
<line x1="216.40" y1="324.86" x2="220.60" y2="324.86" stroke="#111" stroke-width="1.3" stroke-linecap="butt"/>
<line x1="242.83" y1="343.50" x2="242.83" y2="347.30" stroke="#111" stroke-width="1.1" stroke-linecap="butt"/>
<line x1="216.40" y1="323.26" x2="220.60" y2="323.26" stroke="#111" stroke-width="1.3" stroke-linecap="butt"/>
<line x1="244.35" y1="343.50" x2="244.35" y2="347.30" stroke="#111" stroke-width="1.1" stroke-linecap="butt"/>
<line x1="216.40" y1="321.87" x2="220.60" y2="321.87" stroke="#111" stroke-width="1.3" stroke-linecap="butt"/>
<line x1="245.70" y1="343.50" x2="245.70" y2="347.30" stroke="#111" stroke-width="1.1" stroke-linecap="butt"/>
<line x1="216.40" y1="320.65" x2="220.60" y2="320.65" stroke="#111" stroke-width="1.3" stroke-linecap="butt"/>
<line x1="246.90" y1="343.50" x2="246.90" y2="349.90" stroke="#111" stroke-width="1.1" stroke-linecap="butt"/>
<line x1="214.00" y1="319.55" x2="220.60" y2="319.55" stroke="#111" stroke-width="1.3" stroke-linecap="butt"/>
<line x1="254.82" y1="343.50" x2="254.82" y2="347.30" stroke="#111" stroke-width="1.1" stroke-linecap="butt"/>
<line x1="216.40" y1="312.34" x2="220.60" y2="312.34" stroke="#111" stroke-width="1.3" stroke-linecap="butt"/>
<line x1="259.45" y1="343.50" x2="259.45" y2="347.30" stroke="#111" stroke-width="1.1" stroke-linecap="butt"/>
<line x1="216.40" y1="308.12" x2="220.60" y2="308.12" stroke="#111" stroke-width="1.3" stroke-linecap="butt"/>
<line x1="262.73" y1="343.50" x2="262.73" y2="347.30" stroke="#111" stroke-width="1.1" stroke-linecap="butt"/>
<line x1="216.40" y1="305.13" x2="220.60" y2="305.13" stroke="#111" stroke-width="1.3" stroke-linecap="butt"/>
<line x1="265.28" y1="343.50" x2="265.28" y2="347.30" stroke="#111" stroke-width="1.1" stroke-linecap="butt"/>
<line x1="216.40" y1="302.81" x2="220.60" y2="302.81" stroke="#111" stroke-width="1.3" stroke-linecap="butt"/>
<line x1="267.37" y1="343.50" x2="267.37" y2="347.30" stroke="#111" stroke-width="1.1" stroke-linecap="butt"/>
<line x1="216.40" y1="300.91" x2="220.60" y2="300.91" stroke="#111" stroke-width="1.3" stroke-linecap="butt"/>
<line x1="269.13" y1="343.50" x2="269.13" y2="347.30" stroke="#111" stroke-width="1.1" stroke-linecap="butt"/>
<line x1="216.40" y1="299.31" x2="220.60" y2="299.31" stroke="#111" stroke-width="1.3" stroke-linecap="butt"/>
<line x1="270.65" y1="343.50" x2="270.65" y2="347.30" stroke="#111" stroke-width="1.1" stroke-linecap="butt"/>
<line x1="216.40" y1="297.92" x2="220.60" y2="297.92" stroke="#111" stroke-width="1.3" stroke-linecap="butt"/>
<line x1="272.00" y1="343.50" x2="272.00" y2="347.30" stroke="#111" stroke-width="1.1" stroke-linecap="butt"/>
<line x1="216.40" y1="296.70" x2="220.60" y2="296.70" stroke="#111" stroke-width="1.3" stroke-linecap="butt"/>
<line x1="273.20" y1="343.50" x2="273.20" y2="349.90" stroke="#111" stroke-width="1.1" stroke-linecap="butt"/>
<line x1="214.00" y1="295.60" x2="220.60" y2="295.60" stroke="#111" stroke-width="1.3" stroke-linecap="butt"/>
<line x1="281.12" y1="343.50" x2="281.12" y2="347.30" stroke="#111" stroke-width="1.1" stroke-linecap="butt"/>
<line x1="216.40" y1="288.39" x2="220.60" y2="288.39" stroke="#111" stroke-width="1.3" stroke-linecap="butt"/>
<line x1="285.75" y1="343.50" x2="285.75" y2="347.30" stroke="#111" stroke-width="1.1" stroke-linecap="butt"/>
<line x1="216.40" y1="284.17" x2="220.60" y2="284.17" stroke="#111" stroke-width="1.3" stroke-linecap="butt"/>
<line x1="289.03" y1="343.50" x2="289.03" y2="347.30" stroke="#111" stroke-width="1.1" stroke-linecap="butt"/>
<line x1="216.40" y1="281.18" x2="220.60" y2="281.18" stroke="#111" stroke-width="1.3" stroke-linecap="butt"/>
<line x1="291.58" y1="343.50" x2="291.58" y2="347.30" stroke="#111" stroke-width="1.1" stroke-linecap="butt"/>
<line x1="216.40" y1="278.86" x2="220.60" y2="278.86" stroke="#111" stroke-width="1.3" stroke-linecap="butt"/>
<line x1="293.67" y1="343.50" x2="293.67" y2="347.30" stroke="#111" stroke-width="1.1" stroke-linecap="butt"/>
<line x1="216.40" y1="276.96" x2="220.60" y2="276.96" stroke="#111" stroke-width="1.3" stroke-linecap="butt"/>
<line x1="295.43" y1="343.50" x2="295.43" y2="347.30" stroke="#111" stroke-width="1.1" stroke-linecap="butt"/>
<line x1="216.40" y1="275.36" x2="220.60" y2="275.36" stroke="#111" stroke-width="1.3" stroke-linecap="butt"/>
<line x1="296.95" y1="343.50" x2="296.95" y2="347.30" stroke="#111" stroke-width="1.1" stroke-linecap="butt"/>
<line x1="216.40" y1="273.97" x2="220.60" y2="273.97" stroke="#111" stroke-width="1.3" stroke-linecap="butt"/>
<line x1="298.30" y1="343.50" x2="298.30" y2="347.30" stroke="#111" stroke-width="1.1" stroke-linecap="butt"/>
<line x1="216.40" y1="272.75" x2="220.60" y2="272.75" stroke="#111" stroke-width="1.3" stroke-linecap="butt"/>
<line x1="299.50" y1="343.50" x2="299.50" y2="349.90" stroke="#111" stroke-width="1.1" stroke-linecap="butt"/>
<line x1="214.00" y1="271.65" x2="220.60" y2="271.65" stroke="#111" stroke-width="1.3" stroke-linecap="butt"/>
<line x1="307.42" y1="343.50" x2="307.42" y2="347.30" stroke="#111" stroke-width="1.1" stroke-linecap="butt"/>
<line x1="216.40" y1="264.44" x2="220.60" y2="264.44" stroke="#111" stroke-width="1.3" stroke-linecap="butt"/>
<line x1="312.05" y1="343.50" x2="312.05" y2="347.30" stroke="#111" stroke-width="1.1" stroke-linecap="butt"/>
<line x1="216.40" y1="260.22" x2="220.60" y2="260.22" stroke="#111" stroke-width="1.3" stroke-linecap="butt"/>
<line x1="315.33" y1="343.50" x2="315.33" y2="347.30" stroke="#111" stroke-width="1.1" stroke-linecap="butt"/>
<line x1="216.40" y1="257.23" x2="220.60" y2="257.23" stroke="#111" stroke-width="1.3" stroke-linecap="butt"/>
<line x1="317.88" y1="343.50" x2="317.88" y2="347.30" stroke="#111" stroke-width="1.1" stroke-linecap="butt"/>
<line x1="216.40" y1="254.91" x2="220.60" y2="254.91" stroke="#111" stroke-width="1.3" stroke-linecap="butt"/>
<line x1="319.97" y1="343.50" x2="319.97" y2="347.30" stroke="#111" stroke-width="1.1" stroke-linecap="butt"/>
<line x1="216.40" y1="253.01" x2="220.60" y2="253.01" stroke="#111" stroke-width="1.3" stroke-linecap="butt"/>
<line x1="321.73" y1="343.50" x2="321.73" y2="347.30" stroke="#111" stroke-width="1.1" stroke-linecap="butt"/>
<line x1="216.40" y1="251.41" x2="220.60" y2="251.41" stroke="#111" stroke-width="1.3" stroke-linecap="butt"/>
<line x1="323.25" y1="343.50" x2="323.25" y2="347.30" stroke="#111" stroke-width="1.1" stroke-linecap="butt"/>
<line x1="216.40" y1="250.02" x2="220.60" y2="250.02" stroke="#111" stroke-width="1.3" stroke-linecap="butt"/>
<line x1="324.60" y1="343.50" x2="324.60" y2="347.30" stroke="#111" stroke-width="1.1" stroke-linecap="butt"/>
<line x1="216.40" y1="248.80" x2="220.60" y2="248.80" stroke="#111" stroke-width="1.3" stroke-linecap="butt"/>
<line x1="325.80" y1="343.50" x2="325.80" y2="349.90" stroke="#111" stroke-width="1.1" stroke-linecap="butt"/>
<line x1="214.00" y1="247.70" x2="220.60" y2="247.70" stroke="#111" stroke-width="1.3" stroke-linecap="butt"/>
<text x="275.50" y="243.00" font-size="13.5" font-weight="normal" text-anchor="middle" fill="#1a1a1a">SNHG22</text>
<text x="216.10" y="363.60" font-size="13" font-weight="normal" text-anchor="middle" fill="#1a1a1a">10<tspan dy="-4.62" font-size="10.40">0</tspan></text>
<text x="242.90" y="363.60" font-size="13" font-weight="normal" text-anchor="middle" fill="#1a1a1a">10<tspan dy="-4.62" font-size="10.40">1</tspan></text>
<text x="270.90" y="363.60" font-size="13" font-weight="normal" text-anchor="middle" fill="#1a1a1a">10<tspan dy="-4.62" font-size="10.40">2</tspan></text>
<text x="298.10" y="363.60" font-size="13" font-weight="normal" text-anchor="middle" fill="#1a1a1a">10<tspan dy="-4.62" font-size="10.40">3</tspan></text>
<text x="324.90" y="363.60" font-size="13" font-weight="normal" text-anchor="middle" fill="#1a1a1a">10<tspan dy="-4.62" font-size="10.40">4</tspan></text>
<text x="211.60" y="332.00" font-size="13" font-weight="normal" text-anchor="middle" fill="#1a1a1a" transform="rotate(-90 211.60 332.00)">10<tspan dy="-4.62" font-size="10.40">1</tspan></text>
<text x="211.60" y="304.30" font-size="13" font-weight="normal" text-anchor="middle" fill="#1a1a1a" transform="rotate(-90 211.60 304.30)">10<tspan dy="-4.62" font-size="10.40">2</tspan></text>
<text x="211.60" y="277.30" font-size="13" font-weight="normal" text-anchor="middle" fill="#1a1a1a" transform="rotate(-90 211.60 277.30)">10<tspan dy="-4.62" font-size="10.40">3</tspan></text>
<text x="211.60" y="250.30" font-size="13" font-weight="normal" text-anchor="middle" fill="#1a1a1a" transform="rotate(-90 211.60 250.30)">10<tspan dy="-4.62" font-size="10.40">4</tspan></text>
<text x="234.30" y="299.00" font-size="9.7" font-weight="normal" text-anchor="middle" fill="#f5161e">3.27%</text>
<text x="303.40" y="297.90" font-size="9.7" font-weight="normal" text-anchor="middle" fill="#f5161e">4.62%</text>
<text x="238.00" y="319.60" font-size="9.7" font-weight="normal" text-anchor="middle" fill="#f5161e">88.39%</text>
<text x="295.70" y="326.90" font-size="9.7" font-weight="normal" text-anchor="middle" fill="#f5161e">3.72%</text>
<line x1="32.70" y1="272.00" x2="32.70" y2="371.55" stroke="#ee1c25" stroke-width="1.9" stroke-linecap="butt"/>
<line x1="30.10" y1="370.60" x2="303.00" y2="370.60" stroke="#ee1c25" stroke-width="1.9" stroke-linecap="butt"/>
<path d="M32.70,264.00 L28.00,278.50 L32.70,274.50 L37.40,278.50 Z" fill="#ee1c25"/>
<path d="M311.00,370.60 L295.50,365.90 L299.50,370.60 L295.50,375.30 Z" fill="#ee1c25"/>
<text x="30.30" y="302.50" font-size="13.2" font-weight="normal" text-anchor="middle" fill="#1a1a1a" transform="rotate(-90 30.30 302.50)">PI</text>
<text x="162.50" y="384.50" font-size="13.2" font-weight="normal" text-anchor="start" fill="#1a1a1a">Annexin-V</text>
<line x1="382.20" y1="346.80" x2="385.20" y2="346.80" stroke="#000" stroke-width="1.25" stroke-linecap="butt"/>
<text x="381.20" y="349.40" font-size="7.0" font-weight="bold" text-anchor="end" fill="#000">0</text>
<line x1="382.20" y1="314.87" x2="385.20" y2="314.87" stroke="#000" stroke-width="1.25" stroke-linecap="butt"/>
<text x="381.20" y="317.47" font-size="7.0" font-weight="bold" text-anchor="end" fill="#000">10</text>
<line x1="382.20" y1="282.93" x2="385.20" y2="282.93" stroke="#000" stroke-width="1.25" stroke-linecap="butt"/>
<text x="381.20" y="285.53" font-size="7.0" font-weight="bold" text-anchor="end" fill="#000">20</text>
<line x1="382.20" y1="251.00" x2="385.20" y2="251.00" stroke="#000" stroke-width="1.25" stroke-linecap="butt"/>
<text x="381.20" y="253.60" font-size="7.0" font-weight="bold" text-anchor="end" fill="#000">30</text>
<line x1="403.05" y1="280.90" x2="403.05" y2="284.50" stroke="#000" stroke-width="1.0" stroke-linecap="butt"/>
<line x1="399.85" y1="280.90" x2="406.25" y2="280.90" stroke="#000" stroke-width="1.0" stroke-linecap="butt"/>
<rect x="394.10" y="284.00" width="17.90" height="62.80" fill="#000"/>
<line x1="403.05" y1="346.80" x2="403.05" y2="349.80" stroke="#000" stroke-width="1.25" stroke-linecap="butt"/>
<line x1="431.25" y1="332.20" x2="431.25" y2="334.40" stroke="#a7a9ac" stroke-width="1.0" stroke-linecap="butt"/>
<line x1="428.05" y1="332.20" x2="434.45" y2="332.20" stroke="#a7a9ac" stroke-width="1.0" stroke-linecap="butt"/>
<rect x="422.50" y="333.90" width="17.50" height="12.90" fill="#a7a9ac"/>
<line x1="431.25" y1="346.80" x2="431.25" y2="349.80" stroke="#000" stroke-width="1.25" stroke-linecap="butt"/>
<line x1="385.20" y1="250.50" x2="385.20" y2="347.30" stroke="#000" stroke-width="1.25" stroke-linecap="butt"/>
<line x1="384.70" y1="346.80" x2="449.80" y2="346.80" stroke="#000" stroke-width="1.25" stroke-linecap="butt"/>
<path d="M402.4,276.3 L402.4,263.4 L431.7,263.4 L431.7,328.9" stroke="#000" stroke-width="1.15" fill="none"/>
<text x="417.00" y="262.00" font-size="11.5" font-weight="normal" text-anchor="middle" fill="#000">***</text>
<text x="402.80" y="357.50" font-size="7.0" font-weight="bold" text-anchor="middle" fill="#000">Vector</text>
<text x="431.00" y="357.50" font-size="7.0" font-weight="bold" text-anchor="middle" fill="#000">SNHG22</text>
<text x="368.80" y="296.80" font-size="9.6" font-weight="bold" text-anchor="middle" fill="#000" transform="rotate(-90 368.80 296.80)">Early apoptosis (%)</text>
<text x="471.40" y="236.40" font-size="21.6" font-weight="bold" text-anchor="start" fill="#000">E</text>
<line x1="503.20" y1="363.00" x2="506.70" y2="363.00" stroke="#000" stroke-width="1.4" stroke-linecap="butt"/>
<text x="503.00" y="366.40" font-size="9.6" font-weight="bold" text-anchor="end" fill="#000">0</text>
<line x1="503.20" y1="333.43" x2="506.70" y2="333.43" stroke="#000" stroke-width="1.4" stroke-linecap="butt"/>
<text x="503.00" y="336.82" font-size="9.6" font-weight="bold" text-anchor="end" fill="#000">20</text>
<line x1="503.20" y1="303.85" x2="506.70" y2="303.85" stroke="#000" stroke-width="1.4" stroke-linecap="butt"/>
<text x="503.00" y="307.25" font-size="9.6" font-weight="bold" text-anchor="end" fill="#000">40</text>
<line x1="503.20" y1="274.27" x2="506.70" y2="274.27" stroke="#000" stroke-width="1.4" stroke-linecap="butt"/>
<text x="503.00" y="277.67" font-size="9.6" font-weight="bold" text-anchor="end" fill="#000">60</text>
<line x1="503.20" y1="244.70" x2="506.70" y2="244.70" stroke="#000" stroke-width="1.4" stroke-linecap="butt"/>
<text x="503.00" y="248.10" font-size="9.6" font-weight="bold" text-anchor="end" fill="#000">80</text>
<line x1="517.35" y1="270.40" x2="517.35" y2="278.10" stroke="#000" stroke-width="1.0" stroke-linecap="butt"/>
<line x1="514.95" y1="270.40" x2="519.75" y2="270.40" stroke="#000" stroke-width="1.0" stroke-linecap="butt"/>
<rect x="513.30" y="277.60" width="8.10" height="85.40" fill="#000"/>
<line x1="525.45" y1="311.50" x2="525.45" y2="316.50" stroke="#222" stroke-width="1.0" stroke-linecap="butt"/>
<line x1="523.05" y1="311.50" x2="527.85" y2="311.50" stroke="#222" stroke-width="1.0" stroke-linecap="butt"/>
<rect x="521.40" y="316.00" width="8.10" height="47.00" fill="#a7a9ac"/>
<line x1="541.95" y1="315.40" x2="541.95" y2="321.00" stroke="#000" stroke-width="1.0" stroke-linecap="butt"/>
<line x1="539.55" y1="315.40" x2="544.35" y2="315.40" stroke="#000" stroke-width="1.0" stroke-linecap="butt"/>
<rect x="537.90" y="320.50" width="8.10" height="42.50" fill="#000"/>
<line x1="550.15" y1="302.70" x2="550.15" y2="306.70" stroke="#222" stroke-width="1.0" stroke-linecap="butt"/>
<line x1="547.75" y1="302.70" x2="552.55" y2="302.70" stroke="#222" stroke-width="1.0" stroke-linecap="butt"/>
<rect x="546.00" y="306.20" width="8.30" height="56.80" fill="#a7a9ac"/>
<line x1="566.95" y1="332.30" x2="566.95" y2="335.70" stroke="#000" stroke-width="1.0" stroke-linecap="butt"/>
<line x1="564.55" y1="332.30" x2="569.35" y2="332.30" stroke="#000" stroke-width="1.0" stroke-linecap="butt"/>
<rect x="563.10" y="335.20" width="7.70" height="27.80" fill="#000"/>
<line x1="574.95" y1="315.40" x2="574.95" y2="320.80" stroke="#222" stroke-width="1.0" stroke-linecap="butt"/>
<line x1="572.55" y1="315.40" x2="577.35" y2="315.40" stroke="#222" stroke-width="1.0" stroke-linecap="butt"/>
<rect x="570.80" y="320.30" width="8.30" height="42.70" fill="#a7a9ac"/>
<line x1="506.70" y1="244.10" x2="506.70" y2="363.60" stroke="#000" stroke-width="1.4" stroke-linecap="butt"/>
<line x1="506.10" y1="363.00" x2="585.70" y2="363.00" stroke="#000" stroke-width="1.4" stroke-linecap="butt"/>
<line x1="517.00" y1="267.50" x2="526.40" y2="267.50" stroke="#000" stroke-width="1.5" stroke-linecap="butt"/>
<text x="522.00" y="268.30" font-size="11.5" font-weight="normal" text-anchor="middle" fill="#000">**</text>
<line x1="540.50" y1="297.90" x2="550.00" y2="297.90" stroke="#000" stroke-width="1.5" stroke-linecap="butt"/>
<text x="546.20" y="298.40" font-size="11.5" font-weight="normal" text-anchor="middle" fill="#000">*</text>
<line x1="567.50" y1="309.30" x2="577.00" y2="309.30" stroke="#000" stroke-width="1.5" stroke-linecap="butt"/>
<text x="571.80" y="309.80" font-size="11.5" font-weight="normal" text-anchor="middle" fill="#000">**</text>
<text x="520.70" y="375.30" font-size="8.8" font-weight="bold" text-anchor="middle" fill="#000">G0/G1</text>
<text x="546.00" y="375.30" font-size="8.8" font-weight="bold" text-anchor="middle" fill="#000">S</text>
<text x="570.80" y="375.30" font-size="8.8" font-weight="bold" text-anchor="middle" fill="#000">G2/M</text>
<text x="546.00" y="229.80" font-size="11.6" font-weight="bold" text-anchor="middle" fill="#000">Caco2</text>
<rect x="509.70" y="238.90" width="12.30" height="2.80" fill="#000"/>
<rect x="509.70" y="247.00" width="12.30" height="2.80" fill="#a7a9ac"/>
<text x="529.50" y="242.60" font-size="6.6" font-weight="bold" text-anchor="start" fill="#000">Vector</text>
<text x="529.50" y="250.70" font-size="6.6" font-weight="bold" text-anchor="start" fill="#000">SNHG22</text>
<text x="488.70" y="305.00" font-size="11.7" font-weight="normal" text-anchor="middle" fill="#000" transform="rotate(-90 488.70 305.00)">Percentage of cells</text>
<text x="631.20" y="243.80" font-size="21.6" font-weight="bold" text-anchor="start" fill="#000">F</text>
<line x1="666.80" y1="361.00" x2="670.30" y2="361.00" stroke="#000" stroke-width="1.4" stroke-linecap="butt"/>
<text x="666.60" y="364.40" font-size="9.6" font-weight="bold" text-anchor="end" fill="#000">0</text>
<line x1="666.80" y1="331.50" x2="670.30" y2="331.50" stroke="#000" stroke-width="1.4" stroke-linecap="butt"/>
<text x="666.60" y="334.90" font-size="9.6" font-weight="bold" text-anchor="end" fill="#000">20</text>
<line x1="666.80" y1="302.00" x2="670.30" y2="302.00" stroke="#000" stroke-width="1.4" stroke-linecap="butt"/>
<text x="666.60" y="305.40" font-size="9.6" font-weight="bold" text-anchor="end" fill="#000">40</text>
<line x1="666.80" y1="272.50" x2="670.30" y2="272.50" stroke="#000" stroke-width="1.4" stroke-linecap="butt"/>
<text x="666.60" y="275.90" font-size="9.6" font-weight="bold" text-anchor="end" fill="#000">60</text>
<line x1="666.80" y1="243.00" x2="670.30" y2="243.00" stroke="#000" stroke-width="1.4" stroke-linecap="butt"/>
<text x="666.60" y="246.40" font-size="9.6" font-weight="bold" text-anchor="end" fill="#000">80</text>
<line x1="680.90" y1="268.20" x2="680.90" y2="276.50" stroke="#000" stroke-width="1.0" stroke-linecap="butt"/>
<line x1="678.50" y1="268.20" x2="683.30" y2="268.20" stroke="#000" stroke-width="1.0" stroke-linecap="butt"/>
<rect x="677.00" y="276.00" width="7.80" height="85.00" fill="#000"/>
<line x1="688.90" y1="312.00" x2="688.90" y2="317.00" stroke="#222" stroke-width="1.0" stroke-linecap="butt"/>
<line x1="686.50" y1="312.00" x2="691.30" y2="312.00" stroke="#222" stroke-width="1.0" stroke-linecap="butt"/>
<rect x="684.80" y="316.50" width="8.20" height="44.50" fill="#a7a9ac"/>
<line x1="705.70" y1="309.30" x2="705.70" y2="314.80" stroke="#000" stroke-width="1.0" stroke-linecap="butt"/>
<line x1="703.30" y1="309.30" x2="708.10" y2="309.30" stroke="#000" stroke-width="1.0" stroke-linecap="butt"/>
<rect x="701.50" y="314.30" width="8.40" height="46.70" fill="#000"/>
<line x1="713.85" y1="296.30" x2="713.85" y2="300.50" stroke="#222" stroke-width="1.0" stroke-linecap="butt"/>
<line x1="711.45" y1="296.30" x2="716.25" y2="296.30" stroke="#222" stroke-width="1.0" stroke-linecap="butt"/>
<rect x="709.90" y="300.00" width="7.90" height="61.00" fill="#a7a9ac"/>
<line x1="730.50" y1="328.60" x2="730.50" y2="332.40" stroke="#000" stroke-width="1.0" stroke-linecap="butt"/>
<line x1="728.10" y1="328.60" x2="732.90" y2="328.60" stroke="#000" stroke-width="1.0" stroke-linecap="butt"/>
<rect x="726.30" y="331.90" width="8.40" height="29.10" fill="#000"/>
<line x1="738.75" y1="316.50" x2="738.75" y2="320.30" stroke="#222" stroke-width="1.0" stroke-linecap="butt"/>
<line x1="736.35" y1="316.50" x2="741.15" y2="316.50" stroke="#222" stroke-width="1.0" stroke-linecap="butt"/>
<rect x="734.70" y="319.80" width="8.10" height="41.20" fill="#a7a9ac"/>
<line x1="670.30" y1="242.40" x2="670.30" y2="361.60" stroke="#000" stroke-width="1.4" stroke-linecap="butt"/>
<line x1="669.70" y1="361.00" x2="749.40" y2="361.00" stroke="#000" stroke-width="1.4" stroke-linecap="butt"/>
<line x1="678.70" y1="263.40" x2="688.60" y2="263.40" stroke="#000" stroke-width="1.5" stroke-linecap="butt"/>
<text x="684.60" y="264.00" font-size="11.5" font-weight="normal" text-anchor="middle" fill="#000">**</text>
<line x1="704.40" y1="290.20" x2="713.80" y2="290.20" stroke="#000" stroke-width="1.5" stroke-linecap="butt"/>
<text x="709.90" y="288.30" font-size="11.5" font-weight="normal" text-anchor="middle" fill="#000">**</text>
<line x1="728.00" y1="311.00" x2="738.00" y2="311.00" stroke="#000" stroke-width="1.5" stroke-linecap="butt"/>
<text x="735.30" y="310.60" font-size="11.5" font-weight="normal" text-anchor="middle" fill="#000">**</text>
<text x="684.60" y="373.20" font-size="8.8" font-weight="bold" text-anchor="middle" fill="#000">G0/G1</text>
<text x="709.90" y="373.20" font-size="8.8" font-weight="bold" text-anchor="middle" fill="#000">S</text>
<text x="735.10" y="373.20" font-size="8.8" font-weight="bold" text-anchor="middle" fill="#000">G2/M</text>
<text x="709.60" y="228.50" font-size="9.4" font-weight="bold" text-anchor="middle" fill="#000">LS147T</text>
<rect x="673.20" y="236.70" width="12.50" height="2.80" fill="#000"/>
<rect x="673.20" y="244.80" width="12.50" height="2.80" fill="#a7a9ac"/>
<text x="692.70" y="240.40" font-size="6.6" font-weight="bold" text-anchor="start" fill="#000">Vector</text>
<text x="692.70" y="248.50" font-size="6.6" font-weight="bold" text-anchor="start" fill="#000">SNHG22</text>
<text x="653.30" y="305.30" font-size="12.5" font-weight="bold" text-anchor="middle" fill="#000" transform="rotate(-90 653.30 305.30)">Percentage of cells</text>
<defs>
<filter id="nz" x="0" y="0" width="100%" height="100%" color-interpolation-filters="sRGB">
<feTurbulence type="fractalNoise" baseFrequency="0.42" numOctaves="2" seed="7" result="t"/>
<feColorMatrix type="matrix" values="1.45 0 0 0 -0.34  1.45 0 0 0 -0.34  1.45 0 0 0 -0.34  0 0 0 0 1"/>
<feGaussianBlur stdDeviation="0.45"/>
</filter>
<filter id="nz2" x="0" y="0" width="100%" height="100%" color-interpolation-filters="sRGB">
<feTurbulence type="fractalNoise" baseFrequency="0.55" numOctaves="2" seed="19" result="t"/>
<feColorMatrix type="matrix" values="1.25 0 0 0 -0.25  1.25 0 0 0 -0.25  1.25 0 0 0 -0.25  0 0 0 0 1"/>
<feGaussianBlur stdDeviation="0.4"/>
</filter>
<filter id="nz3" x="0" y="0" width="100%" height="100%" color-interpolation-filters="sRGB">
<feTurbulence type="fractalNoise" baseFrequency="0.36" numOctaves="3" seed="5" result="t"/>
<feColorMatrix type="matrix" values="2.1 0 0 0 -0.63  2.1 0 0 0 -0.63  2.1 0 0 0 -0.63  0 0 0 0 1"/>
<feGaussianBlur stdDeviation="0.45"/>
</filter>
<linearGradient id="gtl" x1="0" y1="0" x2="0" y2="1"><stop offset="0" stop-color="#000" stop-opacity="0.7"/><stop offset="0.45" stop-color="#000" stop-opacity="0.12"/><stop offset="1" stop-color="#000" stop-opacity="0"/></linearGradient>
</defs>
<text x="3.50" y="431.50" font-size="21.6" font-weight="bold" text-anchor="start" fill="#000">G</text>
<text x="235.90" y="432.90" font-size="18.8" font-weight="bold" text-anchor="middle" fill="#000">Caco2</text>
<line x1="88.00" y1="441.20" x2="362.00" y2="441.20" stroke="#111" stroke-width="1.4" stroke-linecap="butt"/>
<text x="85.40" y="460.00" font-size="15.8" font-weight="bold" text-anchor="middle" fill="#000">Vector</text>
<text x="188.00" y="460.00" font-size="15.8" font-weight="bold" text-anchor="middle" fill="#000">SNHG22</text>
<text x="47.00" y="505.70" font-size="14.7" font-weight="bold" text-anchor="middle" fill="#000" transform="rotate(-90 47.00 505.70)">0 h</text>
<text x="47.00" y="579.20" font-size="14.6" font-weight="bold" text-anchor="middle" fill="#000" transform="rotate(-90 47.00 579.20)">24 h</text>
<rect x="52.80" y="470.80" width="91.10" height="68.10" fill="#777" filter="url(#nz)"/>
<rect x="52.80" y="470.80" width="91.10" height="68.10" fill="url(#gtl)"/>
<rect x="75.95" y="470.80" width="49.50" height="68.10" fill="#1f1f1f"/>
<line x1="75.50" y1="470.30" x2="75.50" y2="540.30" stroke="#ff0d0d" stroke-width="2.2" stroke-linecap="butt"/>
<line x1="125.90" y1="470.30" x2="125.90" y2="540.30" stroke="#ff0d0d" stroke-width="2.2" stroke-linecap="butt"/>
<rect x="148.80" y="471.00" width="91.10" height="67.80" fill="#777" filter="url(#nz3)"/>
<rect x="170.05" y="471.00" width="54.70" height="67.80" fill="#2b2b2b"/>
<line x1="169.60" y1="470.50" x2="169.60" y2="540.20" stroke="#ff0d0d" stroke-width="2.2" stroke-linecap="butt"/>
<line x1="225.20" y1="470.50" x2="225.20" y2="540.20" stroke="#ff0d0d" stroke-width="2.2" stroke-linecap="butt"/>
<rect x="52.80" y="544.00" width="91.10" height="68.00" fill="#777" filter="url(#nz2)"/>
<rect x="52.80" y="544.00" width="91.10" height="68.00" fill="rgba(0,0,0,0.35)"/>
<rect x="85.15" y="544.00" width="35.40" height="68.00" fill="#1c1c1c"/>
<line x1="84.70" y1="543.50" x2="84.70" y2="613.40" stroke="#ff0d0d" stroke-width="2.2" stroke-linecap="butt"/>
<line x1="121.00" y1="543.50" x2="121.00" y2="613.40" stroke="#ff0d0d" stroke-width="2.2" stroke-linecap="butt"/>
<rect x="148.80" y="544.20" width="90.20" height="67.40" fill="#777" filter="url(#nz2)"/>
<rect x="176.75" y="544.20" width="23.50" height="67.40" fill="#323232"/>
<line x1="176.30" y1="543.70" x2="176.30" y2="613.00" stroke="#ff0d0d" stroke-width="2.2" stroke-linecap="butt"/>
<line x1="200.70" y1="543.70" x2="200.70" y2="613.00" stroke="#ff0d0d" stroke-width="2.2" stroke-linecap="butt"/>
<line x1="293.80" y1="590.30" x2="296.80" y2="590.30" stroke="#000" stroke-width="1.25" stroke-linecap="butt"/>
<text x="292.80" y="592.90" font-size="8.7" font-weight="bold" text-anchor="end" fill="#000">0.0</text>
<line x1="293.80" y1="568.42" x2="296.80" y2="568.42" stroke="#000" stroke-width="1.25" stroke-linecap="butt"/>
<text x="292.80" y="571.02" font-size="8.7" font-weight="bold" text-anchor="end" fill="#000">0.5</text>
<line x1="293.80" y1="546.54" x2="296.80" y2="546.54" stroke="#000" stroke-width="1.25" stroke-linecap="butt"/>
<text x="292.80" y="549.14" font-size="8.7" font-weight="bold" text-anchor="end" fill="#000">1.0</text>
<line x1="293.80" y1="524.66" x2="296.80" y2="524.66" stroke="#000" stroke-width="1.25" stroke-linecap="butt"/>
<text x="292.80" y="527.26" font-size="8.7" font-weight="bold" text-anchor="end" fill="#000">1.5</text>
<line x1="293.80" y1="502.78" x2="296.80" y2="502.78" stroke="#000" stroke-width="1.25" stroke-linecap="butt"/>
<text x="292.80" y="505.38" font-size="8.7" font-weight="bold" text-anchor="end" fill="#000">2.0</text>
<line x1="293.80" y1="480.90" x2="296.80" y2="480.90" stroke="#000" stroke-width="1.25" stroke-linecap="butt"/>
<text x="292.80" y="483.50" font-size="8.7" font-weight="bold" text-anchor="end" fill="#000">2.5</text>
<line x1="316.15" y1="545.80" x2="316.15" y2="547.50" stroke="#111" stroke-width="1.0" stroke-linecap="butt"/>
<line x1="311.75" y1="545.80" x2="320.55" y2="545.80" stroke="#111" stroke-width="1.0" stroke-linecap="butt"/>
<rect x="307.00" y="547.00" width="18.30" height="43.30" fill="#000"/>
<line x1="316.15" y1="590.30" x2="316.15" y2="593.30" stroke="#000" stroke-width="1.25" stroke-linecap="butt"/>
<line x1="352.90" y1="501.80" x2="352.90" y2="510.80" stroke="#111" stroke-width="1.0" stroke-linecap="butt"/>
<line x1="348.50" y1="501.80" x2="357.30" y2="501.80" stroke="#111" stroke-width="1.0" stroke-linecap="butt"/>
<rect x="343.80" y="510.30" width="18.20" height="80.00" fill="#a7a9ac"/>
<line x1="352.90" y1="590.30" x2="352.90" y2="593.30" stroke="#000" stroke-width="1.25" stroke-linecap="butt"/>
<line x1="296.80" y1="480.40" x2="296.80" y2="590.80" stroke="#000" stroke-width="1.25" stroke-linecap="butt"/>
<line x1="296.30" y1="590.30" x2="370.90" y2="590.30" stroke="#000" stroke-width="1.25" stroke-linecap="butt"/>
<path d="M315,541.8 L315,482.3 L353.3,482.3 L353.3,495.4" stroke="#000" stroke-width="1.15" fill="none"/>
<text x="329.30" y="481.00" font-size="11.8" font-weight="normal" text-anchor="middle" fill="#000">***</text>
<text x="316.00" y="603.20" font-size="8.0" font-weight="bold" text-anchor="middle" fill="#000">Vector</text>
<text x="352.70" y="603.20" font-size="8.0" font-weight="bold" text-anchor="middle" fill="#000">SNHG22</text>
<text x="274.60" y="536.80" font-size="12.5" font-weight="bold" text-anchor="middle" fill="#000" transform="rotate(-90 274.60 536.80)">Wound size (fold change)</text>
<text x="333.10" y="468.00" font-size="10" font-weight="bold" text-anchor="middle" fill="#000">Caco2</text>
<text x="394.90" y="431.70" font-size="21.6" font-weight="bold" text-anchor="start" fill="#000">H</text>
<text x="605.90" y="431.60" font-size="17.1" font-weight="bold" text-anchor="middle" fill="#000">LS147T</text>
<line x1="463.60" y1="441.20" x2="736.80" y2="441.20" stroke="#111" stroke-width="1.4" stroke-linecap="butt"/>
<text x="465.00" y="460.00" font-size="15.8" font-weight="bold" text-anchor="middle" fill="#000">Vector</text>
<text x="568.30" y="460.00" font-size="15.8" font-weight="bold" text-anchor="middle" fill="#000">SNHG22</text>
<text x="423.60" y="501.00" font-size="14.7" font-weight="bold" text-anchor="middle" fill="#000" transform="rotate(-90 423.60 501.00)">0 h</text>
<text x="423.60" y="574.50" font-size="14.6" font-weight="bold" text-anchor="middle" fill="#000" transform="rotate(-90 423.60 574.50)">24 h</text>
<rect x="429.00" y="466.90" width="91.10" height="68.10" fill="#777" filter="url(#nz2)"/>
<rect x="429.00" y="466.90" width="91.10" height="68.10" fill="rgba(0,0,0,0.36)"/>
<rect x="454.05" y="466.90" width="39.10" height="68.10" fill="#181818"/>
<line x1="453.60" y1="466.40" x2="453.60" y2="536.40" stroke="#ff0d0d" stroke-width="2.2" stroke-linecap="butt"/>
<line x1="493.60" y1="466.40" x2="493.60" y2="536.40" stroke="#ff0d0d" stroke-width="2.2" stroke-linecap="butt"/>
<rect x="523.80" y="467.20" width="93.50" height="67.80" fill="#777" filter="url(#nz3)"/>
<rect x="523.80" y="467.20" width="93.50" height="67.80" fill="rgba(40,40,40,0.4)"/>
<rect x="544.95" y="467.20" width="56.00" height="67.80" fill="#303030"/>
<line x1="544.50" y1="466.70" x2="544.50" y2="536.40" stroke="#ff0d0d" stroke-width="2.2" stroke-linecap="butt"/>
<line x1="601.40" y1="466.70" x2="601.40" y2="536.40" stroke="#ff0d0d" stroke-width="2.2" stroke-linecap="butt"/>
<rect x="429.30" y="540.20" width="90.80" height="68.10" fill="#777" filter="url(#nz2)"/>
<rect x="454.05" y="540.20" width="40.70" height="68.10" fill="#3e3e3e"/>
<line x1="453.60" y1="539.70" x2="453.60" y2="609.70" stroke="#ff0d0d" stroke-width="2.2" stroke-linecap="butt"/>
<line x1="495.20" y1="539.70" x2="495.20" y2="609.70" stroke="#ff0d0d" stroke-width="2.2" stroke-linecap="butt"/>
<rect x="523.80" y="541.30" width="90.90" height="67.80" fill="#777" filter="url(#nz2)"/>
<rect x="562.65" y="541.30" width="13.20" height="67.80" fill="#2a2a2a"/>
<line x1="562.20" y1="540.80" x2="562.20" y2="610.50" stroke="#ff0d0d" stroke-width="2.2" stroke-linecap="butt"/>
<line x1="576.30" y1="540.80" x2="576.30" y2="610.50" stroke="#ff0d0d" stroke-width="2.2" stroke-linecap="butt"/>
<line x1="670.00" y1="597.40" x2="673.00" y2="597.40" stroke="#000" stroke-width="1.25" stroke-linecap="butt"/>
<text x="669.00" y="600.00" font-size="8.7" font-weight="bold" text-anchor="end" fill="#000">0.0</text>
<line x1="670.00" y1="573.80" x2="673.00" y2="573.80" stroke="#000" stroke-width="1.25" stroke-linecap="butt"/>
<text x="669.00" y="576.40" font-size="8.7" font-weight="bold" text-anchor="end" fill="#000">0.5</text>
<line x1="670.00" y1="550.20" x2="673.00" y2="550.20" stroke="#000" stroke-width="1.25" stroke-linecap="butt"/>
<text x="669.00" y="552.80" font-size="8.7" font-weight="bold" text-anchor="end" fill="#000">1.0</text>
<line x1="670.00" y1="526.60" x2="673.00" y2="526.60" stroke="#000" stroke-width="1.25" stroke-linecap="butt"/>
<text x="669.00" y="529.20" font-size="8.7" font-weight="bold" text-anchor="end" fill="#000">1.5</text>
<line x1="670.00" y1="503.00" x2="673.00" y2="503.00" stroke="#000" stroke-width="1.25" stroke-linecap="butt"/>
<text x="669.00" y="505.60" font-size="8.7" font-weight="bold" text-anchor="end" fill="#000">2.0</text>
<line x1="670.00" y1="479.40" x2="673.00" y2="479.40" stroke="#000" stroke-width="1.25" stroke-linecap="butt"/>
<text x="669.00" y="482.00" font-size="8.7" font-weight="bold" text-anchor="end" fill="#000">2.5</text>
<line x1="689.70" y1="548.80" x2="689.70" y2="550.50" stroke="#111" stroke-width="1.0" stroke-linecap="butt"/>
<line x1="685.30" y1="548.80" x2="694.10" y2="548.80" stroke="#111" stroke-width="1.0" stroke-linecap="butt"/>
<rect x="680.30" y="550.00" width="18.80" height="47.40" fill="#000"/>
<line x1="689.70" y1="597.40" x2="689.70" y2="600.40" stroke="#000" stroke-width="1.25" stroke-linecap="butt"/>
<line x1="728.05" y1="498.50" x2="728.05" y2="508.70" stroke="#111" stroke-width="1.0" stroke-linecap="butt"/>
<line x1="723.65" y1="498.50" x2="732.45" y2="498.50" stroke="#111" stroke-width="1.0" stroke-linecap="butt"/>
<rect x="718.50" y="508.20" width="19.10" height="89.20" fill="#a7a9ac"/>
<line x1="728.05" y1="597.40" x2="728.05" y2="600.40" stroke="#000" stroke-width="1.25" stroke-linecap="butt"/>
<line x1="673.00" y1="478.90" x2="673.00" y2="597.90" stroke="#000" stroke-width="1.25" stroke-linecap="butt"/>
<line x1="672.50" y1="597.40" x2="744.10" y2="597.40" stroke="#000" stroke-width="1.25" stroke-linecap="butt"/>
<path d="M689.7,538 L689.7,478 L728.8,478 L728.8,496.5" stroke="#000" stroke-width="1.15" fill="none"/>
<text x="706.50" y="477.00" font-size="11.8" font-weight="normal" text-anchor="middle" fill="#000">***</text>
<text x="689.50" y="610.00" font-size="8.7" font-weight="bold" text-anchor="middle" fill="#000">Vector</text>
<text x="728.70" y="610.00" font-size="8.7" font-weight="bold" text-anchor="middle" fill="#000">SNHG22</text>
<text x="647.00" y="533.30" font-size="12.5" font-weight="bold" text-anchor="middle" fill="#000" transform="rotate(-90 647.00 533.30)">Wound size (fold change)</text>
<text x="709.40" y="464.70" font-size="9.6" font-weight="bold" text-anchor="middle" fill="#000">LS147T</text>
<defs>
<filter id="th1" x="0" y="0" width="100%" height="100%" color-interpolation-filters="sRGB">
<feTurbulence type="fractalNoise" baseFrequency="0.2" numOctaves="4" seed="4" result="t"/>
<feColorMatrix in="t" type="matrix" values="0 0 0 0 0  0 0 0 0 0  0 0 0 0 0  7 0 0 0 -2.95" result="m"/>
<feComposite in="SourceGraphic" in2="m" operator="in"/>
</filter>
<filter id="th1a" x="0" y="0" width="100%" height="100%" color-interpolation-filters="sRGB">
<feTurbulence type="fractalNoise" baseFrequency="0.12" numOctaves="2" seed="9" result="t"/>
<feColorMatrix in="t" type="matrix" values="0 0 0 0 0  0 0 0 0 0  0 0 0 0 0  3 0 0 0 -1.15" result="m"/>
<feComposite in="SourceGraphic" in2="m" operator="in"/>
</filter>
<filter id="th2" x="0" y="0" width="100%" height="100%" color-interpolation-filters="sRGB">
<feTurbulence type="fractalNoise" baseFrequency="0.2" numOctaves="4" seed="23" result="t"/>
<feColorMatrix in="t" type="matrix" values="0 0 0 0 0  0 0 0 0 0  0 0 0 0 0  7 0 0 0 -3.05" result="m"/>
<feComposite in="SourceGraphic" in2="m" operator="in"/>
</filter>
<filter id="th2a" x="0" y="0" width="100%" height="100%" color-interpolation-filters="sRGB">
<feTurbulence type="fractalNoise" baseFrequency="0.12" numOctaves="2" seed="31" result="t"/>
<feColorMatrix in="t" type="matrix" values="0 0 0 0 0  0 0 0 0 0  0 0 0 0 0  3 0 0 0 -1.2" result="m"/>
<feComposite in="SourceGraphic" in2="m" operator="in"/>
</filter>
</defs>
<text x="4.70" y="669.40" font-size="21.6" font-weight="bold" text-anchor="start" fill="#000">I</text>
<text x="225.00" y="647.50" font-size="19" font-weight="bold" text-anchor="middle" fill="#000">Caco2</text>
<line x1="75.30" y1="652.60" x2="349.70" y2="652.60" stroke="#111" stroke-width="1.4" stroke-linecap="butt"/>
<text x="82.80" y="671.00" font-size="15.8" font-weight="bold" text-anchor="middle" fill="#000">Vector</text>
<text x="185.70" y="671.00" font-size="15.8" font-weight="bold" text-anchor="middle" fill="#000">SNHG22</text>
<text x="30.40" y="709.00" font-size="15.6" font-weight="bold" text-anchor="middle" fill="#000" transform="rotate(-90 30.40 709.00)">Migration</text>
<text x="30.40" y="782.60" font-size="15.6" font-weight="bold" text-anchor="middle" fill="#000" transform="rotate(-90 30.40 782.60)">Invasion</text>
<clipPath id="ci1"><rect x="39.10" y="675.90" width="93.80" height="71.00"/></clipPath>
<radialGradient id="ci1g" cx="50%" cy="50%" r="75%"><stop offset="0" stop-color="#dfa364"/><stop offset="1" stop-color="#d39858"/></radialGradient>
<filter id="ci1f" x="-5%" y="-5%" width="110%" height="110%"><feGaussianBlur stdDeviation="0.35"/></filter>
<g clip-path="url(#ci1)">
<rect x="39.10" y="675.90" width="93.80" height="71.00" fill="url(#ci1g)"/>
<g filter="url(#ci1f)">
<path d="M100.1,691.6 L96.2,693.5 L92.8,695.5 L90.6,692.3 L89.1,689.9 L90.6,687.6 L92.9,686.7 L95.7,685.9 L98.2,687.9ZM95.1,695.4 L93.0,696.1 L93.0,693.1 L93.3,691.7 L93.3,688.8 L95.2,689.7 L96.5,690.7 L96.7,692.5 L97.2,695.2ZM95.0,688.2 L97.3,688.4 L99.8,689.4 L100.7,692.6 L95.6,693.7 L91.1,691.9 L93.3,689.3ZM47.5,715.8 L47.9,720.1 L44.9,718.1 L43.4,716.8 L43.1,714.8 L41.4,710.8 L44.6,709.0 L47.0,711.8 L47.6,714.0ZM43.5,716.8 L41.6,714.6 L42.9,712.1 L45.2,711.6 L47.8,710.9 L47.8,713.5 L47.4,715.0 L46.0,715.5ZM43.9,712.2 L46.2,712.0 L46.2,714.5 L44.9,715.5 L43.9,717.2 L42.6,715.8 L42.5,714.4 L41.5,711.9ZM118.9,720.8 L118.2,719.4 L118.7,718.3 L119.7,717.5 L121.1,717.4 L123.6,717.3 L122.5,718.9 L122.3,719.8 L121.0,720.2ZM105.6,737.1 L106.6,738.8 L104.1,739.4 L102.6,741.1 L101.3,739.4 L100.6,738.1 L101.2,736.3 L103.7,736.3ZM106.1,701.2 L108.0,701.3 L109.7,702.5 L110.1,705.0 L108.0,706.5 L105.5,706.3 L104.8,704.2 L104.6,702.4ZM108.6,700.7 L110.0,703.1 L112.8,704.8 L109.8,706.2 L107.4,706.3 L105.9,705.3 L105.9,704.0 L105.8,702.2ZM74.9,725.5 L72.0,723.0 L76.2,721.3 L78.4,720.6 L82.4,720.0 L82.6,722.7 L81.3,724.5 L78.8,727.4ZM74.4,727.5 L76.4,723.9 L77.7,721.0 L80.6,723.0 L81.4,725.4 L79.0,727.2ZM83.0,722.4 L81.2,725.4 L78.4,724.4 L76.5,721.8 L78.0,717.7 L82.3,717.8ZM79.3,720.8 L79.4,722.3 L79.9,723.2 L79.1,723.8 L78.1,724.0 L76.4,723.8 L77.5,722.3 L77.7,720.8ZM124.7,747.6 L125.3,744.6 L126.6,743.2 L129.0,743.2 L129.9,746.0 L127.5,746.9ZM129.6,748.2 L127.0,747.8 L127.1,745.7 L127.8,744.7 L129.1,743.8 L131.2,744.4 L130.3,746.2ZM123.8,726.8 L120.9,724.4 L124.0,722.1 L126.8,723.2 L127.6,725.9 L125.8,727.7ZM96.3,719.0 L98.3,721.6 L101.8,723.3 L97.9,724.8 L96.5,726.5 L93.1,726.7 L93.6,723.5 L94.2,721.4ZM93.5,724.7 L93.7,721.7 L97.0,721.5 L98.8,722.0 L99.5,723.6 L97.5,725.0ZM100.0,723.2 L100.9,727.1 L96.2,727.5 L92.1,727.9 L91.5,724.6 L95.0,722.8ZM42.9,712.1 L45.0,713.4 L44.9,715.3 L43.5,716.7 L42.3,715.4 L42.1,714.2ZM41.4,711.0 L42.7,711.5 L42.6,713.1 L42.6,714.3 L41.7,714.8 L40.7,714.1 L41.0,712.8ZM45.2,711.9 L43.7,713.7 L42.7,714.3 L40.5,715.2 L39.3,712.8 L40.9,710.9 L43.2,710.7ZM41.1,714.9 L42.6,714.6 L43.9,714.2 L45.9,714.4 L44.9,715.8 L44.1,716.3 L43.3,717.5 L42.2,716.6 L40.4,716.1ZM76.5,694.4 L73.9,691.8 L75.3,688.0 L77.9,687.7 L80.8,687.6 L82.5,691.8 L79.1,693.7ZM42.3,694.9 L41.8,696.6 L41.1,698.7 L38.4,699.1 L37.9,696.5 L37.1,694.6 L39.1,693.7 L40.6,694.3ZM41.3,694.2 L43.7,695.0 L47.6,695.2 L45.8,697.5 L44.1,698.8 L41.4,699.0 L38.1,698.0 L40.8,696.0ZM41.6,692.3 L44.6,693.2 L45.2,695.6 L44.7,697.5 L42.6,698.1 L40.8,698.4 L38.1,697.9 L39.2,695.8 L38.7,693.3ZM35.2,693.9 L36.0,691.5 L38.1,690.6 L39.5,692.1 L41.8,692.4 L40.1,694.4 L40.7,697.6 L38.4,696.1 L37.1,695.4ZM75.1,687.5 L72.7,688.0 L69.6,688.0 L70.3,685.8 L69.5,684.1 L71.4,682.4 L75.1,682.0 L75.3,684.7 L77.4,686.3ZM79.2,699.7 L83.2,698.5 L85.9,700.8 L87.5,703.9 L83.7,707.3 L78.3,705.1 L77.9,702.0ZM81.6,703.7 L79.0,703.1 L77.1,701.6 L76.8,698.9 L79.8,698.8 L81.9,698.2 L82.1,700.2 L82.5,701.6ZM75.7,702.7 L77.4,699.8 L80.9,698.3 L84.0,701.2 L83.4,705.3 L80.3,707.9 L76.8,706.1ZM101.6,684.1 L98.3,687.5 L93.1,686.6 L91.5,682.6 L94.7,679.0 L98.1,681.9ZM76.1,681.4 L76.4,678.0 L80.7,677.5 L82.3,681.9 L79.3,684.2 L76.3,684.2ZM81.8,714.4 L79.6,714.8 L78.3,712.4 L79.1,709.7 L80.8,707.0 L84.1,707.5 L85.2,711.0 L84.1,714.0ZM110.0,695.2 L113.6,693.4 L115.3,696.7 L114.4,698.9 L113.9,701.1 L111.1,701.5 L107.6,700.7 L107.3,697.2ZM42.7,703.8 L39.6,704.0 L37.8,702.5 L38.6,700.9 L40.4,700.4 L41.9,700.8 L43.4,701.9ZM47.9,696.9 L46.8,699.3 L43.5,699.3 L40.8,698.3 L39.7,696.1 L39.2,693.0 L42.8,691.3 L46.1,692.9 L46.7,695.1ZM40.0,693.0 L42.7,692.5 L46.5,690.8 L48.5,694.6 L45.1,696.8 L42.3,697.7 L40.9,695.4ZM41.6,696.8 L40.0,697.0 L39.4,695.1 L39.9,693.6 L40.7,692.6 L42.0,692.1 L43.1,693.1 L43.8,694.7 L42.3,695.5ZM96.9,689.1 L101.5,690.6 L98.7,694.3 L94.3,692.5 L92.9,690.7 L93.6,688.2ZM94.2,693.1 L94.7,690.2 L97.2,688.2 L101.3,689.7 L100.2,694.1 L96.7,694.9ZM98.8,690.6 L98.4,692.5 L96.1,694.5 L93.8,692.6 L92.2,690.8 L91.5,688.1 L94.7,687.2 L97.5,686.7 L98.3,689.1ZM111.2,741.8 L114.7,741.0 L117.1,743.1 L117.5,745.7 L114.2,746.3 L112.6,748.4 L109.1,748.0 L109.0,745.4 L110.3,743.8ZM114.2,745.7 L114.9,747.4 L113.9,749.0 L111.9,749.3 L110.7,748.2 L109.2,747.0 L110.7,745.7 L112.5,743.5ZM113.5,743.7 L111.7,743.9 L109.8,744.2 L109.4,742.4 L108.7,740.1 L111.1,739.4 L112.8,740.4 L113.0,741.9ZM110.1,743.4 L109.1,741.3 L110.8,739.3 L112.6,740.8 L114.6,742.5 L113.1,744.9 L111.0,745.3ZM135.5,704.6 L132.5,705.0 L131.1,703.2 L128.2,702.0 L129.1,699.0 L132.3,699.5 L133.7,700.5 L136.1,701.7ZM131.4,701.6 L129.7,702.8 L128.5,701.4 L127.6,700.1 L127.8,698.2 L130.6,699.2 L132.6,698.5 L132.8,700.0 L134.0,701.6ZM134.6,704.5 L133.1,705.0 L131.3,704.7 L131.5,702.9 L132.0,701.6 L133.3,700.7 L135.5,700.8 L135.2,703.1ZM92.2,749.0 L90.7,747.1 L91.0,745.3 L90.3,741.6 L93.6,742.8 L95.9,743.8 L95.7,746.3 L95.6,749.8ZM90.8,744.8 L90.8,742.9 L92.3,741.3 L94.1,742.6 L94.4,744.3 L92.9,746.3ZM46.0,676.4 L49.1,677.7 L49.1,681.2 L45.2,681.2 L40.0,680.8 L41.5,676.2ZM47.4,679.8 L46.3,682.0 L44.1,681.7 L41.3,680.7 L42.3,677.3 L46.0,676.9ZM80.6,676.8 L79.7,680.1 L74.5,679.8 L69.8,678.0 L69.8,674.3 L74.7,673.2 L78.3,673.0 L80.0,674.9ZM72.6,680.4 L70.1,679.2 L71.1,676.9 L74.3,677.3 L77.1,677.7 L77.3,680.0 L74.9,681.4ZM77.1,679.1 L73.3,678.2 L72.4,675.2 L76.3,674.4 L78.4,674.9 L80.8,675.8 L79.1,677.3ZM73.3,680.0 L72.2,679.0 L72.4,677.6 L72.5,675.2 L75.2,675.1 L77.5,676.2 L78.7,678.4 L76.9,680.1 L75.1,681.8ZM55.0,732.5 L57.8,733.8 L59.3,737.0 L56.3,738.7 L55.5,741.0 L53.2,740.9 L51.6,739.1 L49.6,736.0 L52.4,733.9ZM51.3,737.4 L50.4,735.5 L52.2,734.3 L54.2,733.9 L56.1,735.0 L55.0,736.6 L53.6,737.3ZM53.3,740.1 L52.0,738.6 L54.2,737.9 L55.7,738.0 L58.3,738.4 L57.2,740.2 L55.1,740.3ZM80.2,735.9 L80.2,732.7 L83.4,731.0 L84.4,734.5 L86.8,736.6 L84.5,739.3 L81.8,737.7ZM85.8,736.3 L87.9,737.1 L86.6,738.3 L84.6,738.4 L82.9,737.9 L82.6,736.7 L84.0,736.1 L85.1,735.0ZM80.5,737.5 L79.1,737.0 L78.8,735.7 L80.8,735.6 L82.3,735.4 L84.1,736.1 L83.4,737.5 L81.8,738.3ZM60.8,726.1 L63.2,728.4 L61.0,730.5 L58.1,731.3 L53.7,730.9 L56.1,728.4 L57.3,726.9ZM55.0,728.9 L56.3,725.8 L60.4,725.8 L61.1,728.2 L60.6,729.9 L57.8,730.9ZM82.0,675.3 L85.9,677.2 L83.6,680.2 L80.0,680.4 L75.8,682.5 L74.8,679.1 L76.6,677.1 L78.7,676.4ZM97.0,717.1 L98.2,719.3 L95.2,719.9 L92.6,719.5 L91.9,718.0 L91.7,716.8 L91.8,714.7 L94.4,715.8 L97.0,715.4ZM94.0,715.3 L95.2,714.3 L96.3,715.5 L96.6,716.6 L95.7,717.2 L95.0,718.1 L94.2,717.4 L94.1,716.5ZM95.8,714.3 L95.7,716.0 L96.1,717.7 L94.9,717.1 L94.4,716.6 L93.5,715.4 L94.4,713.9ZM94.2,717.4 L95.5,717.0 L95.6,718.3 L95.6,719.2 L94.7,719.7 L93.8,719.3 L93.3,718.7 L93.7,718.1ZM76.6,682.3 L75.8,677.6 L78.6,673.8 L81.0,677.7 L84.4,679.3 L81.9,682.4 L79.7,682.3ZM81.5,680.3 L78.5,679.6 L75.7,679.2 L75.4,676.2 L77.2,674.3 L79.6,672.4 L81.2,675.1 L83.2,677.4ZM40.1,691.1 L42.6,691.8 L43.9,693.9 L44.0,696.2 L44.1,699.4 L41.7,700.4 L40.1,698.2 L37.4,696.9 L39.9,694.7ZM46.3,697.1 L46.5,699.7 L42.9,699.8 L42.1,697.8 L42.0,695.9 L44.8,695.1ZM128.6,678.2 L129.8,682.7 L124.2,683.2 L121.7,680.9 L119.9,677.4 L124.9,675.5ZM109.7,699.7 L111.8,696.6 L114.5,697.0 L116.4,697.6 L116.8,699.8 L118.1,702.5 L116.0,704.2 L114.1,702.9 L111.6,703.0ZM118.3,699.6 L118.4,702.1 L119.0,704.8 L115.9,704.9 L114.1,703.5 L114.1,701.5 L115.5,700.0ZM114.2,699.5 L116.3,699.9 L117.1,700.8 L118.0,702.7 L115.7,703.5 L113.9,701.9ZM110.8,700.5 L112.5,700.9 L113.8,700.7 L114.4,702.2 L113.9,703.6 L113.7,705.9 L111.9,706.0 L110.7,704.4 L111.0,702.6ZM106.8,733.6 L109.7,733.9 L109.7,736.9 L108.3,739.6 L105.4,738.4 L104.3,735.3ZM66.8,727.2 L62.8,726.6 L60.5,725.7 L57.3,724.2 L60.8,722.8 L61.7,720.5 L64.1,722.2 L66.0,722.8 L68.8,724.8ZM62.1,723.7 L63.7,722.7 L64.9,724.4 L63.9,726.0 L62.2,726.3 L60.4,725.0ZM109.7,722.4 L108.1,723.7 L106.0,724.5 L105.4,722.2 L103.8,721.2 L104.9,719.9 L106.4,719.2 L107.8,719.7 L109.5,720.5ZM107.2,718.8 L107.7,719.6 L108.2,720.9 L107.0,721.4 L106.1,721.1 L105.7,720.4 L105.6,719.5 L106.2,718.8ZM100.3,735.7 L99.6,733.3 L99.7,731.6 L101.7,731.4 L103.4,732.4 L102.7,734.2ZM101.3,731.5 L101.0,730.0 L103.0,730.2 L104.1,730.7 L105.3,732.1 L103.4,732.8 L101.8,732.6ZM100.6,733.9 L100.1,732.6 L101.4,731.9 L102.0,731.5 L102.8,731.2 L103.2,732.0 L103.5,732.8 L102.8,733.3 L102.0,734.4ZM103.7,731.9 L104.4,732.8 L103.5,733.8 L101.9,733.8 L101.0,732.8 L101.0,731.7 L101.9,730.8 L103.1,731.4ZM109.3,689.9 L113.0,690.2 L113.3,692.6 L113.3,694.1 L111.4,694.9 L109.2,694.3 L107.9,692.4ZM74.0,700.9 L71.1,702.2 L69.6,698.8 L69.4,695.8 L71.2,694.2 L73.8,691.0 L74.1,695.8 L75.7,698.3ZM68.3,699.8 L69.2,697.2 L70.8,694.4 L75.3,695.0 L76.8,697.8 L75.3,700.3 L72.1,699.8ZM73.3,695.4 L73.1,693.1 L75.3,693.8 L77.0,694.8 L76.0,696.6 L74.1,697.0ZM106.6,746.4 L102.5,747.4 L98.2,746.3 L97.1,742.8 L100.7,740.5 L105.0,741.0 L109.6,743.1ZM102.3,743.5 L99.9,742.1 L102.5,740.4 L102.6,738.1 L105.4,737.2 L108.0,738.8 L108.4,741.5 L106.6,743.3 L104.3,743.1ZM61.3,677.7 L63.0,676.1 L64.3,674.9 L66.8,675.3 L66.4,677.8 L65.0,679.2 L63.4,678.6ZM60.8,676.0 L61.5,675.3 L62.2,673.9 L64.4,674.0 L64.5,675.6 L65.9,676.9 L64.0,677.8 L62.3,677.1 L60.4,677.2ZM65.3,679.5 L63.6,679.0 L63.8,676.9 L65.3,676.9 L66.2,677.3 L66.3,678.6ZM112.9,745.1 L111.4,745.0 L108.6,744.3 L109.4,741.6 L111.3,739.3 L113.2,741.7 L115.7,742.3 L115.6,745.1ZM116.3,742.8 L114.8,744.4 L113.6,745.4 L112.1,744.9 L110.8,744.3 L109.2,742.7 L111.3,741.6 L112.9,740.2 L115.2,740.8ZM114.3,741.3 L113.9,743.2 L112.9,744.4 L110.2,744.7 L110.7,742.7 L111.9,742.0Z" fill="#a04c7e" fill-opacity="0.75"/>
<path d="M90.8,690.3 L91.9,688.2 L93.7,686.7 L95.7,688.2 L95.5,690.3 L95.2,693.7 L91.9,693.1ZM93.1,693.3 L92.4,690.5 L95.0,689.5 L97.3,691.1 L96.5,693.8 L94.6,694.0ZM96.8,687.1 L98.4,688.2 L99.3,690.1 L97.6,691.3 L96.3,692.8 L95.1,691.0 L92.8,690.6 L93.1,688.5 L95.2,688.1ZM48.4,715.1 L47.3,717.5 L44.3,718.6 L43.3,715.7 L43.3,713.6 L44.9,711.4 L47.6,712.5ZM44.2,711.6 L46.9,711.8 L47.4,713.5 L47.9,715.2 L45.7,715.6 L43.2,715.4 L42.4,713.3ZM46.9,714.7 L45.3,716.9 L42.5,716.0 L40.8,714.3 L42.7,712.5 L44.7,713.6ZM122.0,720.8 L120.1,720.0 L119.3,719.1 L118.2,717.2 L120.6,716.3 L123.0,717.1 L123.4,719.2ZM104.2,738.4 L103.9,739.3 L102.4,739.6 L100.8,738.5 L102.5,737.5 L103.8,737.5ZM107.0,701.5 L108.9,702.2 L108.0,704.3 L106.8,707.2 L105.7,704.3 L104.9,701.9ZM108.7,703.2 L109.5,704.4 L108.6,705.8 L106.8,705.5 L106.6,704.1 L106.9,702.3ZM81.4,724.1 L79.0,725.7 L76.8,724.7 L76.6,722.0 L78.2,720.5 L80.2,721.2ZM75.6,723.3 L78.1,722.0 L80.4,722.5 L80.3,725.3 L78.8,726.8 L77.4,725.6ZM80.4,723.8 L78.4,723.7 L77.9,721.8 L78.8,719.5 L80.6,721.0 L81.1,722.3ZM78.6,724.4 L77.3,723.8 L77.0,722.9 L76.4,721.9 L77.8,721.3 L79.1,721.7 L80.3,722.0 L80.1,722.9 L79.6,723.5ZM124.7,746.5 L126.2,744.6 L127.1,743.8 L128.3,744.5 L129.1,746.2 L127.1,747.0ZM128.5,745.0 L129.2,744.5 L130.2,744.8 L130.1,745.9 L129.4,746.4 L128.7,746.7 L128.3,746.1 L127.4,745.8 L127.9,745.1ZM126.2,724.4 L127.4,726.1 L125.5,726.5 L124.0,727.4 L123.5,725.6 L123.6,723.8 L125.2,722.4ZM98.6,724.3 L96.9,725.2 L94.8,724.9 L92.8,723.4 L95.0,722.1 L96.8,722.2 L97.8,722.9ZM96.2,723.4 L96.3,722.4 L97.2,721.0 L99.0,721.9 L98.6,723.7 L97.1,723.9ZM98.0,726.2 L97.3,727.9 L94.9,728.2 L93.6,726.8 L92.6,725.1 L94.4,723.9 L96.5,723.5 L98.9,724.2ZM41.5,715.7 L41.1,713.7 L43.2,712.8 L44.5,714.0 L45.0,715.5 L43.4,716.2ZM40.8,712.4 L41.9,712.5 L43.2,712.3 L43.6,713.6 L42.6,714.6 L41.1,714.4 L40.9,713.4ZM44.1,712.1 L44.6,713.2 L44.1,714.4 L42.5,713.9 L41.4,714.2 L40.8,713.3 L40.8,712.3 L41.7,711.4 L42.8,712.1ZM43.8,716.9 L42.7,716.3 L41.9,715.5 L42.8,714.7 L43.9,714.8 L44.5,715.8ZM78.2,686.8 L80.5,688.2 L79.8,691.5 L78.8,694.1 L77.0,692.6 L74.9,691.1 L76.8,689.0ZM40.3,692.7 L41.8,694.4 L44.0,696.3 L42.7,699.3 L39.6,698.6 L38.1,697.2 L35.5,695.3 L37.9,693.2ZM39.0,697.0 L40.4,695.6 L41.8,694.5 L44.0,694.5 L44.3,696.0 L46.4,697.1 L44.5,698.2 L42.7,697.8 L41.6,697.5ZM41.6,698.0 L39.7,697.7 L37.5,696.6 L39.3,695.1 L41.2,695.0 L42.6,694.5 L44.4,695.1 L45.0,696.6 L42.9,697.2ZM40.3,694.3 L39.2,695.0 L37.4,695.1 L35.6,694.0 L37.5,692.9 L39.1,691.7 L39.8,693.4ZM68.8,685.5 L70.8,683.8 L72.9,683.6 L74.2,684.5 L75.2,685.6 L75.1,687.5 L72.8,688.6 L71.3,686.9ZM79.0,703.8 L79.0,700.6 L81.8,699.1 L84.0,700.9 L84.0,703.1 L82.0,703.8ZM78.3,700.9 L79.4,699.9 L80.3,699.5 L81.4,699.4 L81.5,700.5 L81.8,701.5 L80.7,702.1 L79.7,701.5ZM75.9,703.9 L76.7,702.1 L77.7,700.3 L80.0,701.5 L81.3,701.9 L83.4,703.1 L82.5,705.0 L79.9,705.1 L78.6,704.2ZM98.6,683.1 L98.4,685.0 L95.9,684.5 L94.3,683.6 L94.5,681.5 L97.4,681.8ZM78.4,679.5 L79.4,681.1 L79.6,682.6 L77.7,683.2 L76.3,682.1 L76.0,680.0ZM85.3,712.7 L82.5,713.0 L80.9,713.3 L79.4,712.8 L79.0,711.7 L78.8,710.2 L81.1,710.0 L83.7,709.5 L84.2,711.2ZM113.9,700.0 L111.9,700.1 L110.1,699.5 L108.9,697.4 L111.5,697.0 L112.8,697.2 L114.6,698.0ZM42.0,700.5 L43.4,702.3 L41.5,704.4 L38.4,703.8 L37.9,701.1 L40.3,700.5ZM45.4,697.6 L43.7,699.0 L42.3,697.3 L41.2,695.6 L42.6,694.1 L44.4,693.2 L46.0,694.5 L46.9,696.3ZM46.1,695.6 L43.3,696.6 L40.6,695.7 L40.9,693.6 L43.0,692.4 L46.0,693.1ZM39.2,694.0 L40.2,692.9 L41.5,692.2 L42.2,693.6 L42.5,694.3 L42.2,695.0 L42.0,696.2 L40.7,696.3 L40.4,695.0ZM97.6,693.3 L94.8,693.1 L92.1,691.9 L93.7,689.6 L95.3,688.3 L97.3,689.2 L97.1,690.8ZM95.6,692.8 L93.6,692.0 L95.7,691.1 L96.1,689.3 L98.2,689.7 L98.8,691.1 L99.7,692.4 L98.3,693.4 L96.7,693.9ZM97.4,691.0 L97.1,693.1 L95.3,691.8 L94.6,690.9 L92.8,689.6 L93.8,687.6 L96.2,688.2 L97.6,688.9 L98.8,690.0ZM114.2,742.8 L116.1,744.8 L115.3,748.2 L112.2,747.9 L111.0,745.9 L109.2,743.3 L111.6,740.8ZM112.7,745.7 L113.4,746.5 L113.5,747.4 L113.9,748.9 L112.2,749.1 L111.0,748.5 L109.2,747.7 L110.1,746.3 L111.5,745.8ZM112.4,741.6 L112.8,743.1 L111.4,744.1 L109.7,743.1 L110.2,741.2 L111.6,740.4ZM114.2,743.3 L113.0,744.7 L111.1,745.0 L109.5,744.3 L109.4,742.6 L110.5,741.8 L111.1,741.1 L112.4,740.8 L113.5,741.8ZM131.0,702.7 L129.3,701.0 L131.8,699.2 L133.9,700.9 L134.4,702.4 L132.9,704.0ZM129.2,700.9 L129.1,699.9 L130.3,699.7 L131.0,698.9 L131.4,699.9 L132.3,700.4 L131.7,701.2 L131.0,702.2 L130.0,701.4ZM135.0,703.5 L133.7,705.4 L131.1,704.5 L130.9,702.2 L132.8,701.2 L134.0,702.3ZM94.4,743.6 L94.8,745.7 L94.6,748.3 L92.6,747.5 L89.7,747.4 L91.5,744.8 L92.3,742.0ZM92.2,745.3 L90.8,744.9 L90.4,743.6 L90.5,742.0 L92.1,741.1 L93.6,742.1 L94.5,743.0 L94.8,744.3 L93.3,744.8ZM47.2,677.6 L49.0,679.0 L47.4,680.6 L45.9,681.0 L43.8,682.0 L41.7,680.3 L42.8,677.7 L43.8,675.5 L46.1,676.2ZM41.9,679.3 L43.8,678.7 L45.0,678.6 L47.7,678.0 L48.3,680.2 L47.2,682.0 L45.4,683.8 L43.2,682.5 L41.4,681.2ZM79.5,671.9 L80.2,675.1 L79.5,677.5 L78.1,679.6 L75.7,679.3 L74.4,677.5 L73.5,675.5 L73.8,672.6 L76.6,673.2ZM74.3,676.9 L75.7,677.9 L75.3,679.3 L75.0,680.6 L73.7,680.0 L72.0,680.2 L72.5,678.8 L73.2,678.2ZM74.4,677.4 L75.1,675.7 L76.4,675.0 L77.5,673.7 L78.3,675.3 L80.5,675.9 L79.1,677.2 L78.2,678.9 L75.9,679.0ZM75.9,677.0 L76.1,678.3 L75.6,679.4 L74.0,679.8 L73.5,678.7 L73.3,677.9 L74.2,677.3ZM52.1,738.9 L51.5,736.2 L54.4,734.7 L55.8,736.8 L56.7,738.3 L54.7,738.7ZM53.0,736.5 L51.6,736.5 L52.2,735.6 L51.8,734.2 L53.5,734.0 L54.7,734.7 L55.9,735.5 L55.6,736.8 L53.8,736.8ZM55.9,738.6 L56.5,739.9 L55.4,740.1 L54.5,740.7 L54.1,739.5 L54.3,738.6 L54.6,737.2 L55.7,737.3ZM83.3,738.1 L82.3,736.2 L80.8,734.2 L82.9,732.9 L84.8,733.9 L84.6,736.2ZM86.7,736.7 L85.7,738.3 L84.3,738.1 L83.3,737.0 L84.3,735.8 L85.2,735.9ZM80.6,736.9 L79.8,736.3 L80.7,735.9 L81.6,735.7 L82.6,736.1 L82.3,737.0 L81.8,737.7 L80.8,737.4ZM58.8,731.2 L56.3,730.5 L54.7,727.6 L57.9,726.0 L60.8,727.0 L60.8,729.7ZM60.9,727.8 L60.9,729.2 L59.7,730.1 L58.6,729.4 L57.9,728.8 L57.4,727.7 L58.3,726.6 L59.5,727.6ZM79.0,680.5 L75.9,680.3 L73.7,677.9 L77.0,676.2 L79.9,675.0 L81.6,677.1 L83.5,678.7 L82.6,681.3ZM93.1,716.9 L93.4,715.8 L94.9,716.4 L97.3,716.6 L96.3,717.9 L94.8,718.4 L92.8,719.1 L92.3,717.7ZM96.2,716.6 L96.0,717.5 L95.1,717.2 L94.4,717.1 L94.2,716.5 L94.2,715.6 L95.2,715.5 L95.6,716.2ZM96.0,716.6 L95.1,716.6 L94.7,716.7 L93.8,716.6 L94.5,715.9 L94.6,715.1 L95.2,715.6 L96.1,715.7ZM93.6,719.9 L93.5,718.5 L94.0,717.7 L94.8,717.7 L95.8,718.5 L94.8,719.2ZM82.9,678.1 L81.2,680.9 L79.8,682.2 L77.8,681.0 L77.9,677.6 L80.2,677.4ZM79.8,675.7 L80.6,676.8 L80.6,679.0 L78.2,679.7 L77.4,677.5 L77.7,676.1 L78.6,674.9ZM43.5,696.5 L42.0,697.7 L40.3,697.1 L39.6,695.1 L40.9,692.6 L43.5,693.8ZM45.1,698.6 L43.5,699.6 L41.7,698.3 L43.0,696.7 L44.1,696.3 L45.4,696.9ZM122.6,680.4 L120.0,678.8 L122.2,677.2 L125.0,677.2 L128.4,677.3 L127.8,679.8 L127.6,681.6 L125.4,683.1 L122.6,682.3ZM113.2,702.5 L110.7,701.4 L113.0,699.8 L113.4,697.7 L115.7,699.1 L118.1,699.7 L116.3,701.0 L115.6,702.4ZM118.4,702.4 L117.7,704.0 L115.4,704.7 L114.2,702.9 L115.0,701.6 L116.1,700.8 L118.4,700.5ZM115.3,700.3 L116.1,699.7 L116.7,700.5 L117.3,701.5 L116.5,702.1 L115.6,702.4 L115.0,701.4ZM112.1,700.9 L113.5,700.9 L114.3,702.2 L113.9,703.6 L112.9,703.8 L111.9,704.5 L111.0,703.4 L111.1,701.8ZM109.1,735.5 L110.3,737.4 L107.5,737.7 L106.1,736.9 L105.5,735.5 L107.4,735.0ZM65.6,722.9 L65.3,724.8 L63.4,725.2 L62.0,724.9 L60.9,723.7 L61.5,722.1 L63.5,722.5ZM62.9,723.8 L63.9,723.8 L64.7,724.4 L64.7,725.4 L63.7,726.2 L62.2,726.0 L61.3,725.3 L60.5,724.4 L62.1,724.0ZM105.4,721.2 L105.8,720.5 L106.6,719.8 L107.8,720.2 L108.5,721.0 L108.3,722.0 L107.1,722.1 L106.3,722.4 L105.1,722.2ZM106.9,720.6 L106.4,720.6 L105.9,720.5 L105.4,720.0 L106.0,719.5 L106.5,718.9 L107.1,719.3 L107.6,719.8 L107.8,720.5ZM102.9,734.1 L101.3,734.2 L99.8,734.0 L100.0,733.0 L100.2,732.5 L100.5,731.7 L101.5,732.3 L102.4,732.4 L103.2,733.1ZM101.5,730.9 L102.4,730.7 L103.0,730.5 L104.2,730.3 L104.1,731.4 L103.8,732.2 L103.0,732.0 L102.1,732.7 L102.1,731.7ZM100.6,732.9 L101.0,731.7 L102.0,731.7 L102.7,731.6 L103.3,732.1 L103.4,733.3 L102.4,733.4 L101.8,733.3ZM103.7,732.8 L102.7,732.8 L102.2,732.7 L101.5,732.2 L102.3,731.7 L103.0,731.2 L103.5,732.0ZM112.2,691.6 L112.3,692.9 L113.0,695.0 L111.1,694.5 L110.2,693.6 L108.9,691.8 L110.9,691.4ZM72.1,693.6 L74.4,695.7 L74.8,698.1 L72.6,700.0 L69.3,699.0 L71.0,696.3ZM72.1,701.9 L70.9,699.7 L70.8,697.8 L70.7,695.2 L72.8,694.8 L74.2,696.4 L75.0,698.5 L73.4,699.6ZM75.6,693.8 L76.3,694.8 L76.1,695.9 L75.3,697.3 L73.8,696.8 L73.1,695.5 L74.0,694.7 L74.2,693.0ZM105.0,746.3 L102.5,747.2 L99.9,746.0 L101.2,743.4 L101.6,740.6 L104.3,741.2 L104.7,743.7ZM105.8,739.2 L108.0,740.3 L105.7,741.7 L105.8,744.1 L103.6,742.9 L101.3,742.8 L101.7,740.9 L102.3,739.5 L103.9,738.8ZM65.9,678.3 L64.3,678.3 L62.9,678.4 L62.5,676.2 L64.1,675.9 L65.8,675.7ZM64.5,675.1 L63.9,676.1 L63.4,676.7 L62.8,678.0 L60.8,677.7 L60.3,676.4 L60.8,675.3 L62.1,675.1 L63.2,674.6ZM66.5,679.2 L65.5,679.8 L64.3,679.5 L64.2,678.3 L64.5,677.5 L64.6,676.3 L65.5,677.2 L66.4,677.1 L66.5,678.0ZM115.4,745.1 L113.2,745.9 L111.0,745.9 L110.7,743.9 L109.0,742.4 L110.5,740.8 L112.5,741.9 L114.7,741.1 L115.7,743.0ZM114.0,742.2 L114.3,744.1 L113.0,744.7 L111.2,744.8 L111.8,742.8 L112.6,741.5ZM112.9,742.3 L113.7,743.0 L113.0,744.1 L111.1,744.3 L111.1,742.9 L111.9,742.3Z" fill="#6a1a70" stroke="#6a1a70" stroke-width="0.6" stroke-linejoin="round"/>
</g>
<path d="M58.1,688.5h1.0v1.0h-1.0zM41.4,684.5h1.2v1.2h-1.2zM106.6,725.0h1.2v1.2h-1.2zM51.1,744.5h1.2v1.2h-1.2zM120.9,712.8h1.2v1.2h-1.2zM110.1,711.7h1.2v1.2h-1.2zM73.9,702.4h1.5v1.5h-1.5zM109.2,734.3h1.5v1.5h-1.5zM50.7,721.5h1.0v1.0h-1.0zM122.4,686.9h1.2v1.2h-1.2zM92.6,715.8h1.2v1.2h-1.2zM76.5,720.0h1.5v1.5h-1.5zM103.0,683.5h1.0v1.0h-1.0zM41.0,721.4h1.0v1.0h-1.0zM127.4,693.6h1.5v1.5h-1.5zM79.3,724.8h1.2v1.2h-1.2zM106.5,686.6h1.0v1.0h-1.0zM106.8,680.0h1.0v1.0h-1.0zM50.4,720.0h1.0v1.0h-1.0zM60.4,701.2h1.2v1.2h-1.2zM95.2,689.2h1.2v1.2h-1.2zM114.4,746.7h1.0v1.0h-1.0zM116.9,736.2h1.0v1.0h-1.0zM44.1,690.1h1.5v1.5h-1.5zM87.8,746.4h1.5v1.5h-1.5zM71.9,722.3h1.5v1.5h-1.5zM108.7,729.6h1.0v1.0h-1.0zM95.5,689.1h1.5v1.5h-1.5zM98.5,734.4h1.0v1.0h-1.0zM111.4,721.2h1.0v1.0h-1.0zM122.0,746.0h1.2v1.2h-1.2zM60.0,713.4h1.5v1.5h-1.5zM81.0,732.3h1.5v1.5h-1.5zM114.6,743.5h1.0v1.0h-1.0zM70.0,703.4h1.2v1.2h-1.2zM78.7,713.7h1.5v1.5h-1.5zM72.8,715.9h1.0v1.0h-1.0zM72.2,714.0h1.5v1.5h-1.5zM83.0,725.7h1.2v1.2h-1.2zM100.7,699.8h1.5v1.5h-1.5zM59.7,726.4h1.2v1.2h-1.2zM75.0,701.8h1.0v1.0h-1.0zM104.7,699.5h1.5v1.5h-1.5zM95.6,732.8h1.2v1.2h-1.2zM53.6,705.8h1.2v1.2h-1.2zM125.8,677.4h1.2v1.2h-1.2zM113.4,734.1h1.0v1.0h-1.0zM126.8,693.7h1.0v1.0h-1.0zM127.7,714.5h1.5v1.5h-1.5zM82.6,706.9h1.0v1.0h-1.0zM96.7,735.0h1.2v1.2h-1.2zM85.1,712.4h1.2v1.2h-1.2zM45.1,717.6h1.5v1.5h-1.5zM72.5,693.2h1.5v1.5h-1.5zM52.4,677.9h1.5v1.5h-1.5zM90.2,680.7h1.2v1.2h-1.2zM119.2,735.5h1.2v1.2h-1.2zM94.3,743.6h1.2v1.2h-1.2zM57.3,742.9h1.5v1.5h-1.5zM86.4,683.6h1.2v1.2h-1.2zM52.7,677.9h1.2v1.2h-1.2zM118.3,703.7h1.5v1.5h-1.5zM110.8,686.7h1.5v1.5h-1.5zM71.2,730.1h1.5v1.5h-1.5zM39.5,682.4h1.5v1.5h-1.5zM118.1,729.3h1.5v1.5h-1.5zM126.9,692.0h1.2v1.2h-1.2zM58.8,695.2h1.5v1.5h-1.5zM61.8,707.8h1.5v1.5h-1.5zM115.3,678.9h1.5v1.5h-1.5zM82.0,681.5h1.5v1.5h-1.5zM117.5,737.3h1.0v1.0h-1.0zM84.6,690.0h1.2v1.2h-1.2zM57.4,737.4h1.0v1.0h-1.0zM111.0,734.7h1.5v1.5h-1.5zM39.6,732.0h1.2v1.2h-1.2zM113.9,718.2h1.0v1.0h-1.0zM63.5,686.4h1.5v1.5h-1.5zM64.3,714.5h1.5v1.5h-1.5zM51.2,698.9h1.5v1.5h-1.5zM73.1,719.2h1.5v1.5h-1.5zM95.1,716.5h1.2v1.2h-1.2zM54.7,700.1h1.0v1.0h-1.0zM65.1,731.0h1.2v1.2h-1.2zM40.6,732.8h1.5v1.5h-1.5zM130.9,721.4h1.5v1.5h-1.5zM97.0,724.9h1.0v1.0h-1.0zM75.4,693.5h1.5v1.5h-1.5zM116.7,729.6h1.0v1.0h-1.0zM79.3,739.8h1.5v1.5h-1.5zM103.5,702.4h1.2v1.2h-1.2zM82.0,690.3h1.2v1.2h-1.2zM120.1,740.7h1.2v1.2h-1.2zM60.1,712.8h1.2v1.2h-1.2zM99.6,723.6h1.2v1.2h-1.2zM124.6,685.8h1.2v1.2h-1.2zM46.3,687.6h1.5v1.5h-1.5zM99.3,727.1h1.5v1.5h-1.5zM39.4,686.5h1.2v1.2h-1.2zM90.1,692.0h1.5v1.5h-1.5zM132.2,719.8h1.2v1.2h-1.2zM59.1,678.5h1.2v1.2h-1.2zM41.8,676.0h1.0v1.0h-1.0zM92.7,741.6h1.5v1.5h-1.5zM65.2,720.7h1.5v1.5h-1.5zM81.2,676.9h1.2v1.2h-1.2zM63.6,678.3h1.2v1.2h-1.2zM60.0,732.2h1.0v1.0h-1.0zM93.8,701.9h1.0v1.0h-1.0zM75.0,721.5h1.2v1.2h-1.2zM46.4,733.4h1.2v1.2h-1.2zM67.2,719.8h1.5v1.5h-1.5zM68.7,712.6h1.0v1.0h-1.0zM83.6,681.3h1.2v1.2h-1.2zM76.1,736.2h1.0v1.0h-1.0zM57.3,709.7h1.2v1.2h-1.2zM53.7,731.4h1.5v1.5h-1.5zM122.4,746.9h1.2v1.2h-1.2zM101.9,708.1h1.0v1.0h-1.0zM101.4,702.4h1.5v1.5h-1.5zM109.6,737.1h1.5v1.5h-1.5zM121.7,688.9h1.0v1.0h-1.0zM98.1,736.7h1.2v1.2h-1.2zM121.9,730.1h1.0v1.0h-1.0zM66.2,718.3h1.2v1.2h-1.2zM102.9,732.4h1.2v1.2h-1.2zM50.3,690.1h1.0v1.0h-1.0zM100.0,692.9h1.2v1.2h-1.2zM109.6,720.0h1.5v1.5h-1.5zM111.2,696.9h1.2v1.2h-1.2zM55.9,685.5h1.5v1.5h-1.5zM90.8,733.4h1.2v1.2h-1.2zM70.2,706.0h1.5v1.5h-1.5zM77.4,736.1h1.0v1.0h-1.0zM97.1,716.8h1.0v1.0h-1.0zM59.0,732.2h1.5v1.5h-1.5zM102.2,726.2h1.2v1.2h-1.2zM44.0,730.6h1.5v1.5h-1.5zM85.1,731.7h1.2v1.2h-1.2zM45.0,733.5h1.5v1.5h-1.5zM96.3,722.0h1.0v1.0h-1.0zM75.7,744.0h1.5v1.5h-1.5zM131.1,737.2h1.2v1.2h-1.2zM97.2,717.5h1.5v1.5h-1.5zM126.1,712.5h1.5v1.5h-1.5zM111.9,739.8h1.5v1.5h-1.5zM53.2,708.0h1.0v1.0h-1.0zM122.3,736.1h1.5v1.5h-1.5zM128.1,729.2h1.0v1.0h-1.0zM102.1,697.9h1.5v1.5h-1.5zM87.0,698.6h1.2v1.2h-1.2zM67.9,701.9h1.5v1.5h-1.5zM121.5,715.4h1.0v1.0h-1.0zM105.1,711.2h1.0v1.0h-1.0zM115.6,729.8h1.2v1.2h-1.2zM75.6,683.9h1.5v1.5h-1.5zM107.6,686.2h1.5v1.5h-1.5zM41.3,698.6h1.0v1.0h-1.0zM87.9,732.4h1.2v1.2h-1.2zM129.0,729.7h1.2v1.2h-1.2zM47.4,701.8h1.5v1.5h-1.5zM116.8,711.3h1.2v1.2h-1.2zM109.7,703.5h1.5v1.5h-1.5zM69.4,735.1h1.0v1.0h-1.0zM70.0,693.8h1.5v1.5h-1.5zM81.7,720.1h1.2v1.2h-1.2zM41.7,719.5h1.2v1.2h-1.2zM91.7,742.5h1.5v1.5h-1.5zM60.7,676.3h1.5v1.5h-1.5zM85.3,705.5h1.0v1.0h-1.0zM52.3,739.7h1.5v1.5h-1.5zM50.8,734.0h1.2v1.2h-1.2zM53.9,721.0h1.5v1.5h-1.5zM90.6,677.8h1.2v1.2h-1.2zM73.9,677.4h1.2v1.2h-1.2zM49.7,686.0h1.0v1.0h-1.0zM97.8,678.5h1.0v1.0h-1.0zM81.5,685.8h1.2v1.2h-1.2zM109.1,709.5h1.0v1.0h-1.0zM113.8,727.1h1.5v1.5h-1.5zM98.9,724.4h1.5v1.5h-1.5zM56.6,697.1h1.5v1.5h-1.5zM46.8,691.6h1.5v1.5h-1.5zM113.2,721.3h1.0v1.0h-1.0zM49.8,730.7h1.5v1.5h-1.5zM73.4,704.1h1.2v1.2h-1.2zM53.0,695.7h1.2v1.2h-1.2zM76.9,707.5h1.2v1.2h-1.2zM104.5,696.6h1.5v1.5h-1.5zM64.0,710.7h1.0v1.0h-1.0zM128.2,681.8h1.0v1.0h-1.0zM85.3,699.7h1.2v1.2h-1.2zM98.8,701.2h1.2v1.2h-1.2zM67.7,736.2h1.5v1.5h-1.5zM123.8,701.3h1.2v1.2h-1.2zM70.4,726.4h1.5v1.5h-1.5zM107.3,688.1h1.0v1.0h-1.0zM60.9,704.6h1.5v1.5h-1.5zM127.9,684.6h1.2v1.2h-1.2zM56.1,743.0h1.2v1.2h-1.2zM93.2,711.9h1.5v1.5h-1.5zM110.4,740.9h1.2v1.2h-1.2zM107.0,707.3h1.5v1.5h-1.5zM92.8,676.7h1.2v1.2h-1.2zM45.5,721.9h1.2v1.2h-1.2zM43.3,678.0h1.0v1.0h-1.0zM69.3,681.1h1.2v1.2h-1.2zM40.8,700.8h1.2v1.2h-1.2zM106.2,687.3h1.0v1.0h-1.0zM63.1,724.8h1.5v1.5h-1.5zM112.5,745.3h1.2v1.2h-1.2zM64.7,741.4h1.0v1.0h-1.0zM96.4,676.0h1.0v1.0h-1.0zM74.7,680.5h1.0v1.0h-1.0zM42.4,742.8h1.2v1.2h-1.2zM45.7,709.6h1.0v1.0h-1.0zM108.0,676.5h1.0v1.0h-1.0zM122.9,684.8h1.2v1.2h-1.2zM96.9,705.1h1.2v1.2h-1.2zM113.1,714.3h1.5v1.5h-1.5zM77.9,719.8h1.5v1.5h-1.5zM128.0,737.2h1.0v1.0h-1.0zM49.1,710.0h1.5v1.5h-1.5zM85.6,690.3h1.0v1.0h-1.0zM93.3,732.9h1.5v1.5h-1.5zM56.6,695.9h1.5v1.5h-1.5zM92.0,733.2h1.5v1.5h-1.5zM77.0,687.6h1.5v1.5h-1.5zM119.9,710.1h1.5v1.5h-1.5zM48.2,719.5h1.5v1.5h-1.5zM89.4,734.1h1.2v1.2h-1.2zM40.3,725.8h1.2v1.2h-1.2zM109.9,683.3h1.0v1.0h-1.0zM99.2,706.6h1.5v1.5h-1.5zM93.4,700.0h1.2v1.2h-1.2zM113.3,705.6h1.0v1.0h-1.0zM88.7,738.5h1.2v1.2h-1.2zM97.5,720.0h1.0v1.0h-1.0zM89.5,713.0h1.5v1.5h-1.5zM110.5,684.9h1.5v1.5h-1.5zM40.6,697.7h1.0v1.0h-1.0zM109.8,733.3h1.2v1.2h-1.2zM109.2,698.8h1.2v1.2h-1.2zM46.6,684.3h1.5v1.5h-1.5zM52.9,689.7h1.5v1.5h-1.5zM46.9,699.9h1.2v1.2h-1.2zM124.8,703.8h1.2v1.2h-1.2zM128.9,708.2h1.0v1.0h-1.0zM80.9,683.3h1.2v1.2h-1.2zM61.1,745.1h1.5v1.5h-1.5zM109.5,705.1h1.0v1.0h-1.0zM109.0,691.7h1.5v1.5h-1.5zM121.5,734.4h1.5v1.5h-1.5zM93.9,707.8h1.5v1.5h-1.5zM71.0,741.4h1.5v1.5h-1.5zM67.8,720.4h1.2v1.2h-1.2zM122.1,739.7h1.2v1.2h-1.2zM49.9,727.6h1.0v1.0h-1.0zM94.0,680.9h1.5v1.5h-1.5zM88.4,743.7h1.5v1.5h-1.5z" fill="#8a2f80"/>
</g>
<rect x="137.50" y="675.90" width="94.40" height="71.00" fill="#f2b424"/>
<rect x="137.50" y="675.90" width="94.40" height="71.00" fill="#a8552f" filter="url(#th1a)"/>
<rect x="137.50" y="675.90" width="94.40" height="71.00" fill="#5c1a4a" filter="url(#th1)"/>
<clipPath id="ci2"><rect x="39.10" y="750.80" width="93.80" height="71.10"/></clipPath>
<radialGradient id="ci2g" cx="50%" cy="50%" r="75%"><stop offset="0" stop-color="#d69e5c"/><stop offset="1" stop-color="#c8924f"/></radialGradient>
<filter id="ci2f" x="-5%" y="-5%" width="110%" height="110%"><feGaussianBlur stdDeviation="0.35"/></filter>
<g clip-path="url(#ci2)">
<rect x="39.10" y="750.80" width="93.80" height="71.10" fill="url(#ci2g)"/>
<g filter="url(#ci2f)">
<path d="M51.5,795.8 L49.5,794.1 L51.1,791.6 L54.3,791.7 L57.5,793.5 L56.4,796.8 L53.2,797.3ZM53.3,793.4 L54.3,794.4 L53.7,796.0 L52.1,795.3 L50.5,794.6 L51.8,793.5ZM50.2,798.6 L50.1,796.2 L51.7,794.8 L54.4,794.0 L55.3,796.2 L54.6,797.9 L52.9,799.7ZM50.3,794.4 L50.8,793.9 L51.4,792.9 L51.8,794.1 L52.4,794.5 L52.3,795.3 L51.8,796.0 L50.8,796.3 L50.3,795.3ZM124.9,803.9 L123.0,805.5 L119.1,806.2 L119.8,802.2 L120.5,800.2 L122.1,799.2 L123.9,799.1 L125.3,800.3 L125.8,802.1ZM125.2,798.6 L127.4,796.7 L129.7,798.4 L128.3,800.7 L129.4,803.3 L126.6,804.4 L124.9,802.1 L124.4,800.9 L123.3,799.3ZM129.3,804.4 L125.3,805.1 L122.8,802.8 L123.3,799.6 L126.9,799.8 L129.5,801.2ZM127.1,798.6 L126.3,800.5 L124.9,801.9 L123.4,800.7 L121.8,799.9 L123.3,798.3 L123.3,796.8 L124.7,795.7 L125.6,797.3ZM48.8,767.4 L44.5,767.6 L44.7,764.3 L47.7,762.8 L50.9,761.3 L52.8,763.7 L56.0,766.5 L50.9,766.9ZM52.8,763.7 L52.5,767.1 L49.2,768.4 L47.6,765.6 L47.4,762.8 L50.3,762.3ZM51.2,778.1 L53.8,773.1 L58.6,770.9 L62.9,775.0 L60.7,780.3 L58.0,783.0 L55.5,780.5ZM58.1,774.3 L60.4,776.8 L57.6,778.1 L55.5,778.4 L52.3,778.6 L53.1,775.4 L53.0,773.0 L54.9,770.6 L57.4,772.2ZM54.2,784.7 L56.0,780.5 L59.5,776.7 L65.1,779.5 L65.0,784.9 L59.4,788.5ZM52.1,785.3 L51.7,788.7 L49.3,792.4 L44.1,790.0 L44.3,787.5 L46.4,785.4ZM49.8,783.5 L51.5,786.7 L50.3,790.1 L47.1,791.0 L44.3,790.1 L43.9,787.2 L45.3,785.6 L46.5,782.3ZM97.3,810.5 L96.3,812.1 L96.7,814.8 L93.5,813.8 L92.1,812.8 L91.5,811.6 L89.6,809.1 L93.1,808.9 L96.2,808.3ZM94.5,813.8 L92.8,812.2 L93.9,810.8 L94.9,808.7 L96.9,810.4 L97.1,811.5 L97.4,813.4ZM87.6,775.3 L90.1,777.3 L92.5,778.4 L92.1,780.6 L90.6,782.6 L87.5,784.1 L86.7,780.8 L85.8,779.5 L85.6,777.5ZM85.8,786.3 L84.1,783.9 L83.5,782.8 L83.2,780.6 L86.2,780.6 L87.6,782.3 L88.9,784.6ZM91.7,774.7 L92.0,775.9 L92.8,777.3 L91.4,778.3 L89.6,778.9 L88.8,777.2 L87.3,776.0 L88.9,774.9 L90.3,774.1ZM88.7,808.8 L85.6,807.1 L84.5,803.0 L85.8,797.5 L90.7,799.6 L93.4,801.9 L95.5,805.9 L92.5,809.4ZM81.0,801.0 L85.5,800.1 L89.2,800.0 L92.3,803.5 L89.4,807.3 L85.0,808.6 L81.4,805.7ZM94.5,802.2 L93.9,805.9 L89.5,806.3 L88.7,802.8 L87.8,800.3 L90.6,800.0 L93.4,799.6ZM90.2,818.6 L93.2,816.5 L94.1,819.3 L93.0,821.0 L92.0,822.6 L89.9,821.8 L86.4,821.4 L88.4,819.3ZM91.6,821.2 L90.2,820.7 L89.3,820.2 L89.5,819.5 L89.5,818.4 L91.2,818.9 L92.3,819.1 L94.3,819.6 L93.6,820.8ZM89.5,822.8 L88.4,821.0 L88.4,818.9 L90.6,818.8 L92.6,817.8 L94.4,819.4 L94.0,821.8 L92.1,823.7ZM91.3,817.1 L92.8,820.0 L89.9,822.4 L86.0,821.5 L85.1,818.5 L87.6,815.9ZM89.3,785.6 L89.3,783.7 L91.3,783.4 L93.2,784.0 L93.8,785.8 L92.2,786.8 L91.8,788.5 L90.1,788.2 L88.4,787.3ZM89.6,784.5 L90.2,783.3 L92.3,782.3 L92.6,784.9 L91.5,786.6 L90.0,785.8ZM83.3,812.9 L79.9,812.5 L78.3,808.7 L81.0,805.7 L84.2,805.4 L86.8,806.3 L91.2,808.1 L89.8,812.6 L86.2,814.3ZM86.3,809.5 L82.8,810.5 L80.7,813.2 L79.5,810.1 L78.5,808.7 L79.4,807.0 L82.0,804.8 L85.6,806.4ZM79.5,803.3 L82.5,803.2 L83.0,806.9 L82.1,809.0 L80.4,812.6 L78.5,809.4 L76.0,805.5ZM40.2,763.0 L42.0,761.4 L42.8,757.8 L46.7,757.6 L49.2,760.9 L48.3,764.5 L46.6,767.6 L43.3,766.0 L41.4,765.0ZM40.4,761.6 L42.7,759.2 L44.9,760.6 L46.5,761.3 L46.9,763.6 L45.6,765.2 L44.0,765.8 L43.1,764.0ZM131.5,765.1 L132.0,766.8 L129.8,767.2 L127.3,768.3 L125.7,766.5 L126.0,764.6 L126.7,762.7 L129.4,762.3 L131.0,763.8ZM132.4,762.5 L131.5,764.2 L131.0,766.3 L128.5,766.1 L128.1,764.1 L126.2,762.3 L127.9,759.8 L130.7,761.1ZM63.2,817.6 L60.6,816.7 L59.4,814.6 L62.4,813.7 L63.1,811.4 L64.9,813.4 L67.6,813.7 L68.2,815.8 L65.0,816.1ZM61.5,817.0 L60.6,815.5 L62.3,815.0 L63.2,814.6 L63.8,815.3 L64.6,816.5 L63.1,817.0ZM63.8,815.1 L62.9,813.8 L64.0,812.8 L65.2,811.7 L66.2,813.1 L65.4,814.2 L65.1,815.9ZM64.6,814.5 L62.9,813.9 L62.8,812.3 L64.9,812.4 L66.5,812.7 L67.0,814.5ZM78.4,763.2 L80.8,764.4 L80.1,766.5 L77.7,766.9 L76.3,767.3 L75.2,766.5 L73.7,765.6 L73.8,763.6 L76.0,762.4ZM76.1,766.7 L75.6,765.0 L76.8,763.5 L78.9,764.0 L79.1,766.2 L77.6,766.9ZM115.9,783.2 L120.2,786.8 L122.4,791.3 L119.4,796.7 L115.8,792.4 L112.2,788.5ZM120.7,790.6 L117.6,794.3 L113.0,795.5 L111.5,790.8 L110.9,787.7 L112.8,785.1 L116.2,782.9 L119.1,786.1ZM111.1,795.0 L113.8,790.5 L115.6,785.6 L121.7,788.0 L123.0,793.7 L117.4,797.1ZM115.7,790.0 L114.2,787.9 L110.4,784.3 L114.6,780.8 L119.3,783.3 L123.8,784.7 L122.5,788.7 L120.0,792.4ZM41.7,767.9 L39.7,767.6 L36.4,765.8 L39.2,763.0 L42.4,763.1 L44.9,766.1ZM38.6,762.7 L41.9,762.3 L44.2,764.2 L42.2,766.2 L41.3,768.5 L37.7,768.3 L37.1,765.2ZM42.8,765.1 L41.6,765.8 L40.4,765.4 L38.6,764.2 L40.3,763.0 L41.8,762.9 L43.2,763.6ZM42.6,765.1 L44.7,763.9 L46.0,765.7 L45.4,767.4 L44.0,767.9 L42.7,769.8 L41.7,767.9 L39.7,767.0 L40.7,765.2ZM99.3,785.5 L96.4,788.8 L93.5,790.6 L90.1,789.5 L86.4,786.8 L89.9,783.9 L92.6,783.6 L97.4,781.1ZM89.6,792.2 L91.3,788.6 L94.3,786.4 L97.9,787.7 L100.9,789.8 L97.2,791.3 L94.5,794.0ZM99.9,790.3 L97.0,794.2 L92.0,792.0 L87.1,791.6 L88.8,788.4 L92.2,787.2 L95.8,787.8ZM86.1,782.9 L89.2,780.7 L92.2,778.6 L94.2,781.9 L97.7,783.5 L96.4,787.1 L92.6,786.5 L90.6,787.5 L89.2,785.7ZM72.4,766.0 L67.2,762.9 L66.9,757.1 L69.1,751.6 L75.4,750.9 L79.2,756.4 L76.6,761.9ZM71.8,761.6 L72.5,758.6 L75.3,759.3 L76.9,759.3 L78.8,760.8 L76.6,762.1 L75.8,764.7 L73.9,763.2ZM66.5,759.0 L65.2,755.2 L69.1,754.3 L72.4,753.8 L72.2,757.4 L74.8,760.5 L71.2,761.8 L68.6,760.8ZM57.1,812.8 L59.7,814.1 L58.2,816.4 L54.7,817.4 L52.4,815.3 L52.0,812.8 L54.8,811.1ZM55.2,813.9 L57.8,814.3 L60.0,817.1 L56.7,818.6 L53.9,817.9 L52.6,815.3ZM58.7,811.8 L58.9,813.2 L56.8,812.5 L56.1,812.4 L54.7,812.1 L55.0,811.1 L55.8,810.2 L57.1,810.7 L58.1,811.0ZM51.4,814.3 L53.3,813.8 L55.1,813.4 L56.9,814.9 L55.1,816.4 L54.1,817.2 L52.0,818.3 L50.7,816.3ZM57.5,806.0 L58.6,805.0 L61.2,804.5 L62.1,807.0 L60.7,809.0 L58.6,808.9 L57.2,808.3 L55.8,807.0ZM58.8,808.3 L58.0,807.4 L57.1,806.4 L58.5,805.7 L59.7,804.7 L61.4,805.4 L60.9,806.7 L61.4,807.6 L60.5,808.8ZM61.0,791.0 L62.2,789.2 L64.8,787.4 L67.2,789.6 L65.9,792.3 L65.6,793.9 L64.1,795.9 L60.8,796.2 L59.9,793.2ZM64.2,788.9 L65.0,790.2 L63.9,791.5 L61.3,792.4 L61.3,790.1 L61.0,788.9 L62.6,788.5ZM61.9,794.2 L61.5,792.7 L60.2,791.3 L61.3,789.9 L62.6,789.1 L63.9,790.0 L64.1,791.5 L64.5,793.2 L63.4,794.7ZM60.5,790.0 L62.4,788.9 L64.8,788.9 L65.6,790.9 L66.9,792.8 L64.8,794.1 L62.6,795.0 L61.0,793.4 L60.7,791.8ZM36.3,762.3 L37.3,760.0 L39.1,759.2 L41.9,758.4 L44.0,761.4 L43.1,765.3 L40.8,767.5 L37.6,769.3 L36.1,765.3ZM35.5,760.5 L37.4,760.6 L38.8,762.0 L39.5,765.1 L37.0,765.6 L35.4,764.7 L33.6,762.6ZM35.3,765.2 L35.8,763.0 L37.9,762.1 L40.1,762.4 L39.8,764.5 L41.3,766.7 L38.7,766.5 L36.9,766.6ZM37.5,763.8 L37.4,762.0 L38.5,759.5 L41.4,760.9 L44.8,761.1 L44.6,763.9 L42.3,765.2 L40.5,767.4 L38.1,765.7ZM99.6,773.2 L100.3,777.3 L96.4,779.3 L93.3,777.7 L88.5,777.5 L90.3,773.8 L91.4,769.1 L96.5,770.5ZM100.4,771.1 L100.2,772.6 L97.7,774.3 L94.2,773.0 L94.2,770.6 L96.8,769.2 L99.6,769.8ZM94.1,773.3 L91.5,771.0 L94.7,770.2 L96.6,768.7 L99.5,769.9 L98.4,773.0 L97.9,776.3 L94.8,775.9ZM108.7,786.2 L105.7,782.9 L102.3,779.5 L106.2,776.5 L109.9,777.6 L112.1,779.7 L112.5,783.4ZM110.2,780.2 L111.1,781.3 L112.9,782.4 L110.7,783.0 L109.0,783.0 L108.5,781.9 L108.6,780.8ZM64.1,772.7 L61.4,775.7 L57.4,776.0 L55.4,773.6 L56.6,771.0 L61.9,767.7ZM61.6,771.7 L57.6,772.5 L56.9,768.8 L60.1,767.2 L62.3,766.4 L64.8,767.2 L64.9,769.6 L64.5,772.3ZM61.4,767.9 L62.5,770.8 L62.1,772.7 L61.7,776.3 L58.0,773.9 L55.1,773.1 L54.9,770.5 L57.8,769.3ZM61.8,772.7 L59.0,774.7 L55.9,774.0 L53.5,771.9 L55.2,769.2 L55.4,766.7 L57.9,766.5 L61.6,765.7 L63.5,769.3ZM104.1,815.2 L100.9,815.5 L97.9,813.8 L95.5,810.3 L100.6,809.2 L103.5,809.4 L108.1,808.3 L108.8,811.7 L106.9,814.1ZM100.2,815.1 L97.6,815.5 L96.2,812.9 L98.6,811.2 L99.2,807.4 L102.7,807.5 L103.2,811.2 L105.2,814.0 L103.5,817.3ZM109.0,808.5 L109.4,810.0 L109.4,812.6 L106.1,813.8 L103.6,811.8 L102.2,809.7 L102.5,807.1 L105.2,805.2 L109.0,805.4ZM106.4,758.8 L102.8,758.3 L101.5,755.4 L105.9,754.8 L108.2,753.5 L109.3,755.5 L112.6,757.3 L109.1,758.6ZM102.1,760.2 L102.8,756.9 L102.8,753.8 L105.2,755.1 L106.8,756.1 L106.8,758.7 L105.0,760.8ZM113.9,815.2 L116.9,812.4 L117.8,811.1 L119.7,808.7 L120.8,811.5 L122.2,813.0 L122.5,815.8 L120.2,818.5 L117.4,816.4ZM113.3,817.3 L113.4,814.8 L114.8,813.5 L116.3,813.8 L116.8,815.3 L118.6,816.6 L117.5,818.5 L116.0,818.2 L114.2,819.5ZM115.3,810.9 L116.9,811.3 L118.9,810.4 L119.9,812.0 L118.5,813.1 L118.1,814.7 L115.9,814.9 L115.0,813.4 L114.2,812.1ZM118.4,807.6 L120.9,806.1 L123.5,806.7 L123.7,809.8 L124.6,811.9 L123.2,813.5 L121.3,815.7 L119.5,813.4 L119.3,810.9ZM131.1,777.0 L131.6,780.2 L130.4,782.8 L127.5,782.9 L126.0,779.4 L128.1,776.1ZM122.9,779.1 L124.5,775.9 L127.6,776.1 L129.6,776.5 L130.4,778.4 L128.9,779.9 L126.0,781.5ZM38.8,824.7 L36.2,821.9 L35.8,818.9 L35.2,815.0 L39.3,816.5 L42.5,813.7 L43.6,817.3 L41.8,819.6 L42.0,822.8ZM34.6,813.3 L37.0,812.4 L39.3,812.2 L39.6,814.9 L39.7,817.0 L38.1,817.5 L36.9,817.1 L35.5,816.2ZM60.4,791.1 L64.0,791.8 L64.0,795.9 L65.8,799.0 L64.2,803.4 L60.1,802.5 L58.5,799.3 L55.1,796.7 L57.0,792.7ZM59.8,795.2 L61.2,795.8 L61.2,797.5 L60.8,799.2 L59.2,799.1 L56.9,798.2 L57.7,795.4ZM64.7,795.6 L67.2,797.1 L65.4,799.0 L63.3,799.0 L60.8,799.7 L61.0,797.1 L60.9,795.5 L61.9,793.9 L63.9,794.2ZM66.9,795.5 L62.9,796.9 L60.1,793.4 L61.6,789.9 L63.2,786.7 L67.3,786.5 L68.0,791.3ZM67.4,797.1 L62.6,797.6 L59.5,795.4 L60.0,792.6 L63.6,792.6 L66.7,792.0 L66.9,794.1ZM64.6,786.3 L67.5,788.1 L66.2,791.8 L63.4,792.4 L61.3,791.8 L58.7,790.0 L60.1,786.8 L62.3,784.9ZM68.3,787.1 L68.7,789.3 L70.9,791.0 L67.9,791.6 L66.2,793.2 L65.1,791.2 L63.0,790.4 L64.7,789.3 L65.3,787.1ZM62.2,768.9 L59.4,770.3 L54.9,770.1 L56.3,766.9 L56.8,764.0 L60.9,764.5 L62.8,766.6ZM56.8,765.5 L56.1,764.6 L56.8,763.6 L58.2,762.7 L59.5,763.7 L60.4,764.7 L60.1,765.9 L59.0,767.1 L57.2,766.9ZM59.3,770.0 L58.5,769.6 L57.6,768.8 L58.1,767.8 L59.2,767.0 L60.0,768.1 L61.5,768.2 L61.3,769.5 L60.5,770.5ZM58.1,766.4 L59.7,766.1 L61.8,766.3 L61.8,768.4 L61.2,770.3 L59.3,769.4 L57.7,769.4 L57.9,767.9ZM101.1,756.1 L101.8,758.8 L100.5,760.8 L98.2,763.6 L95.9,760.5 L94.8,756.3 L98.4,754.5ZM101.5,763.1 L100.2,763.9 L97.7,763.6 L97.5,760.5 L99.7,758.7 L101.5,760.4 L102.4,761.8ZM98.7,764.5 L96.2,764.4 L94.0,762.4 L93.6,758.5 L95.6,755.6 L98.1,756.8 L100.3,758.1 L100.5,761.8ZM99.4,757.9 L101.1,759.7 L99.2,761.3 L97.4,761.6 L95.7,760.2 L95.4,757.2 L98.0,757.5ZM71.5,806.6 L69.4,807.5 L66.8,807.9 L66.3,805.7 L64.4,802.9 L68.2,802.9 L71.6,801.5 L73.7,804.2ZM70.6,808.0 L68.8,807.0 L68.9,804.5 L71.1,803.8 L72.2,805.3 L74.1,806.5 L72.1,807.5ZM69.1,803.4 L68.2,805.1 L68.5,807.5 L65.7,806.5 L64.0,805.4 L64.9,803.8 L66.7,803.6ZM67.7,803.9 L69.3,802.5 L71.4,801.7 L74.1,803.0 L72.9,805.2 L70.1,804.6ZM107.9,763.3 L108.8,767.1 L105.1,768.3 L102.9,772.8 L99.2,769.9 L99.5,765.9 L100.8,762.7 L104.5,760.1ZM100.6,772.1 L98.2,770.1 L98.3,766.2 L101.5,765.1 L104.0,767.4 L102.8,770.4ZM109.5,765.1 L110.0,768.8 L107.6,770.7 L104.7,772.7 L101.6,770.2 L103.4,767.1 L105.5,765.1ZM50.8,777.7 L49.7,775.8 L52.8,775.3 L56.4,773.4 L57.6,776.2 L57.3,778.3 L55.4,780.4 L51.5,780.0ZM57.9,776.6 L60.7,779.5 L57.2,782.0 L53.3,781.3 L52.9,778.5 L52.1,775.7 L55.5,775.4ZM49.6,775.8 L51.5,775.5 L52.6,776.7 L52.3,778.2 L50.7,778.4 L48.8,777.7ZM92.2,759.2 L97.8,760.3 L95.1,764.1 L94.2,767.1 L89.1,769.5 L86.8,765.4 L86.4,762.8 L88.6,761.0ZM89.4,761.1 L92.2,760.8 L91.7,763.8 L90.0,764.9 L88.3,766.3 L85.7,765.2 L85.8,762.0 L87.7,760.3ZM56.8,800.1 L59.4,799.2 L62.3,798.4 L61.9,801.1 L62.9,803.6 L59.7,804.5 L57.7,802.6ZM57.6,801.1 L57.7,800.0 L59.2,800.0 L60.5,799.8 L61.9,800.6 L61.4,802.0 L59.6,802.1 L58.8,801.5ZM56.1,801.9 L56.4,800.2 L58.0,799.7 L59.6,798.9 L59.6,800.7 L61.1,802.2 L59.1,802.6 L57.7,802.7ZM63.9,797.5 L64.9,799.7 L62.8,800.7 L60.8,801.6 L59.0,799.8 L59.9,797.5 L62.0,797.1Z" fill="#a04c7e" fill-opacity="0.75"/>
<path d="M51.7,794.5 L51.9,793.1 L53.7,792.4 L55.2,793.8 L54.9,795.6 L53.3,796.3 L51.8,795.8ZM51.4,793.9 L52.6,793.5 L53.9,793.9 L54.1,795.3 L52.5,795.9 L51.3,795.1ZM52.0,798.6 L50.8,797.3 L51.5,796.0 L52.6,794.8 L53.7,796.0 L54.3,796.9 L53.5,797.6ZM51.9,794.1 L53.1,794.4 L52.9,795.2 L51.8,795.6 L50.9,795.2 L49.7,795.0 L50.4,794.3 L50.9,793.4ZM122.6,799.9 L126.9,799.0 L125.7,801.7 L125.1,803.6 L121.6,804.2 L119.3,802.5 L118.2,799.9ZM127.7,800.0 L127.5,801.6 L126.3,802.2 L125.4,801.4 L124.3,800.0 L125.3,798.4 L126.9,798.6ZM127.2,803.0 L126.3,804.3 L125.5,803.0 L124.6,802.3 L125.2,801.4 L125.8,801.0 L126.9,800.2 L127.4,801.3 L127.9,802.2ZM125.3,801.4 L123.5,800.8 L123.0,799.4 L123.0,798.4 L123.4,797.5 L124.4,795.9 L125.9,796.9 L127.1,798.3 L125.6,799.4ZM53.4,764.5 L51.4,767.1 L49.4,769.2 L47.7,766.7 L46.7,764.4 L47.9,760.9 L50.4,763.5ZM47.8,766.8 L47.9,764.7 L48.6,763.3 L50.7,762.0 L52.1,763.9 L52.2,766.0 L50.3,767.4ZM56.9,774.1 L59.8,776.3 L59.8,779.6 L57.3,782.6 L52.8,781.1 L54.6,776.8ZM53.1,775.0 L54.9,773.3 L56.2,773.8 L57.0,774.6 L58.3,777.1 L56.3,779.2 L54.1,778.0ZM62.3,782.5 L62.6,785.0 L59.8,786.6 L57.3,784.7 L55.0,783.1 L55.2,780.4 L57.6,778.5 L60.3,779.9 L62.3,780.6ZM47.6,790.3 L45.1,789.9 L44.8,787.6 L46.4,786.3 L48.9,784.9 L50.9,787.1 L49.1,789.0ZM49.9,786.6 L47.9,787.7 L47.6,789.5 L46.2,788.6 L44.3,788.4 L45.2,786.6 L45.4,785.0 L46.9,785.4 L48.3,785.4ZM93.6,812.7 L91.9,812.1 L92.9,810.8 L94.3,810.1 L96.2,810.9 L95.9,812.9ZM96.3,810.1 L98.7,811.3 L96.3,812.7 L94.5,813.4 L92.4,811.6 L94.6,810.0ZM89.8,781.6 L87.7,782.6 L85.6,781.3 L84.9,779.4 L85.3,777.2 L87.8,775.8 L89.8,777.9 L92.1,778.6 L91.9,780.6ZM85.6,781.2 L86.9,781.7 L87.2,783.0 L86.8,784.2 L85.5,784.6 L83.7,785.1 L82.1,783.9 L83.2,782.2 L83.8,780.5ZM90.8,777.9 L89.6,778.0 L89.0,776.9 L88.6,775.7 L89.0,774.0 L90.7,774.1 L91.2,775.6 L92.1,776.2 L91.4,777.0ZM90.8,810.4 L87.7,807.4 L82.9,806.5 L83.2,802.2 L87.5,800.9 L90.2,801.7 L95.1,800.3 L94.1,804.4 L94.3,807.9ZM84.1,805.2 L82.1,803.3 L84.1,801.4 L87.3,800.7 L89.6,802.4 L90.6,805.1 L86.7,805.0ZM90.8,799.8 L92.6,801.0 L93.5,803.1 L91.2,804.8 L87.6,804.0 L88.8,801.1ZM92.0,821.7 L90.9,822.2 L89.5,822.1 L89.9,820.4 L89.1,819.0 L90.4,818.8 L91.8,817.2 L92.4,819.1 L92.2,820.5ZM90.4,819.6 L90.5,818.7 L91.6,818.7 L91.8,819.6 L91.7,820.4 L90.9,821.2 L90.4,820.2ZM90.7,821.1 L90.2,820.6 L89.4,819.4 L90.4,818.1 L91.8,818.5 L92.4,819.8 L92.9,821.2 L91.4,821.1ZM87.0,817.2 L88.7,818.0 L89.8,817.8 L89.9,818.9 L89.8,819.7 L89.5,821.0 L88.4,820.4 L87.8,819.8 L86.9,818.9ZM91.5,783.8 L92.5,785.5 L92.5,787.5 L90.7,788.5 L89.9,786.5 L89.7,784.6ZM92.0,783.6 L91.9,784.9 L91.8,786.4 L90.5,786.2 L89.7,785.5 L89.7,784.4 L89.7,782.9 L91.0,783.1ZM80.5,811.0 L79.2,808.4 L81.7,806.0 L85.4,807.3 L88.2,808.1 L87.9,810.4 L86.3,812.2 L82.9,812.9ZM85.0,808.1 L83.9,811.4 L80.9,810.5 L78.9,809.6 L78.9,806.6 L82.1,806.4ZM79.6,804.9 L82.8,805.5 L85.8,807.2 L83.2,809.2 L80.0,809.8 L78.9,808.0 L77.5,806.5ZM42.2,759.8 L45.7,760.5 L47.9,762.5 L45.2,763.9 L43.7,764.4 L41.9,763.9 L42.1,762.5ZM44.8,760.7 L48.0,761.9 L46.9,763.9 L44.1,765.3 L42.8,763.4 L41.0,761.4ZM128.0,765.8 L128.3,765.0 L127.9,763.6 L129.2,763.7 L130.0,764.4 L130.1,765.1 L130.6,766.3 L129.5,766.6 L128.2,767.1ZM129.4,762.5 L130.3,761.5 L131.5,762.3 L130.5,763.7 L130.2,764.4 L129.6,765.0 L128.6,764.9 L128.3,763.8 L128.7,762.8ZM64.6,812.6 L66.1,813.4 L67.1,814.9 L66.1,816.5 L64.1,817.1 L61.9,817.0 L62.0,815.1 L62.0,813.9 L63.0,812.9ZM62.9,816.2 L62.0,816.1 L61.4,815.1 L62.7,814.4 L63.4,815.3 L64.2,816.1ZM64.6,813.0 L65.4,813.4 L66.0,814.3 L64.8,815.0 L63.6,814.4 L64.1,813.6ZM62.7,812.8 L64.5,812.4 L65.8,812.0 L66.4,813.7 L65.3,815.3 L63.2,815.0ZM77.8,765.6 L78.2,768.4 L75.9,769.4 L74.5,766.8 L74.2,763.7 L76.5,763.8 L78.3,763.1ZM78.0,765.4 L78.4,766.5 L77.4,767.4 L76.1,766.8 L75.8,765.3 L76.6,764.2 L77.5,764.9ZM124.5,789.4 L121.3,792.0 L118.8,793.2 L115.2,794.7 L114.4,791.4 L114.0,789.3 L114.4,786.4 L117.9,786.4 L122.4,785.9ZM112.2,789.3 L112.8,787.6 L114.7,786.2 L118.0,786.6 L117.6,789.3 L115.7,790.4 L113.1,791.7ZM118.6,792.4 L117.3,793.8 L114.3,794.0 L112.8,792.1 L113.9,790.3 L116.1,789.9 L118.2,789.5 L118.3,791.1ZM115.6,788.6 L114.3,786.7 L114.6,783.7 L118.1,784.6 L119.1,786.2 L121.2,788.4 L117.9,788.8ZM42.3,765.0 L42.7,767.7 L40.6,767.6 L38.7,767.1 L39.4,764.8 L40.9,762.6ZM41.8,766.3 L41.0,766.8 L39.9,766.6 L39.7,765.7 L39.0,764.7 L39.6,763.4 L41.3,763.5 L43.0,763.9 L43.5,765.5ZM42.1,765.1 L41.3,765.2 L40.7,765.0 L40.2,764.5 L40.0,763.7 L40.8,763.0 L41.9,763.4 L42.1,764.1 L43.1,764.7ZM42.4,767.6 L41.8,766.8 L42.6,766.2 L43.5,765.2 L44.6,766.1 L44.4,767.4 L43.5,768.3ZM94.7,785.4 L96.1,787.3 L93.7,788.4 L91.6,787.7 L88.1,786.4 L89.7,783.2 L93.4,784.1ZM97.2,790.8 L96.0,792.3 L93.5,792.1 L91.7,789.7 L94.7,788.7 L96.6,786.6 L98.3,788.9ZM94.1,792.4 L91.3,792.8 L89.7,790.6 L91.6,789.1 L93.0,787.2 L94.5,788.9 L95.0,790.5ZM93.2,787.3 L89.4,786.7 L88.3,783.7 L90.5,780.6 L94.1,782.2 L95.0,784.8ZM66.2,759.2 L70.0,755.4 L73.4,755.4 L77.3,757.6 L75.0,761.9 L70.0,763.9ZM77.4,760.8 L76.3,761.9 L75.3,763.1 L73.8,762.4 L73.8,760.7 L74.9,759.7 L76.6,759.1ZM72.0,761.9 L69.3,760.4 L68.1,758.2 L68.5,754.7 L71.0,755.5 L72.7,757.7ZM54.0,813.1 L56.2,812.2 L57.1,813.7 L57.2,814.9 L55.4,815.5 L53.6,814.7ZM55.3,818.4 L54.7,816.6 L54.0,815.0 L55.5,814.1 L57.0,814.6 L57.9,816.2 L56.6,817.1ZM57.8,811.7 L57.6,813.4 L55.3,813.6 L54.3,811.5 L56.2,810.6 L57.8,810.2ZM55.3,815.5 L55.6,817.1 L53.4,817.6 L51.8,816.5 L52.4,815.2 L53.3,814.7 L55.0,814.1ZM57.0,807.0 L57.2,804.9 L58.9,805.3 L59.4,806.5 L60.0,807.8 L59.1,809.5 L57.4,808.7ZM60.3,806.6 L60.2,807.2 L59.9,808.3 L58.9,808.3 L58.3,807.2 L59.0,806.4 L59.3,805.6 L59.9,806.1ZM65.5,790.2 L66.5,792.1 L65.1,793.5 L63.1,794.0 L62.2,792.7 L60.5,791.0 L62.8,789.6ZM64.3,789.3 L64.5,790.6 L63.4,791.3 L62.5,790.9 L61.8,790.6 L61.1,789.8 L62.0,789.2 L62.4,788.2 L63.6,788.3ZM64.2,791.8 L63.9,793.4 L61.7,793.3 L60.6,792.0 L61.8,791.0 L63.4,790.5ZM62.3,791.9 L62.3,791.3 L62.9,790.8 L63.6,791.1 L65.2,791.4 L64.7,792.7 L63.4,793.3 L62.2,792.9ZM40.7,760.0 L43.1,761.6 L43.0,764.6 L40.3,765.8 L37.2,766.5 L36.2,763.7 L36.0,761.2 L38.5,760.7ZM36.9,764.0 L35.5,765.1 L34.5,763.8 L35.8,762.6 L36.0,761.7 L37.0,761.6 L38.2,761.7 L38.2,763.0 L37.8,764.0ZM38.6,766.1 L36.8,765.8 L37.3,764.3 L38.0,762.0 L40.4,763.3 L40.2,765.4ZM42.7,765.2 L40.7,766.0 L39.5,764.5 L39.0,763.5 L39.1,762.4 L40.0,760.5 L42.4,760.8 L43.4,763.0ZM96.3,776.1 L94.9,777.5 L93.2,776.8 L91.9,775.2 L92.8,773.2 L95.3,771.2 L98.1,773.4ZM97.1,771.8 L97.2,770.5 L98.5,768.8 L100.1,770.5 L99.2,772.3 L97.9,772.8ZM98.3,772.5 L97.5,774.4 L95.1,773.4 L93.3,772.8 L92.5,770.7 L95.5,770.4 L98.0,770.8ZM109.4,777.6 L112.2,779.7 L110.9,782.2 L107.6,783.6 L105.7,781.3 L107.1,779.7ZM110.2,783.1 L109.4,782.6 L108.1,782.3 L108.0,780.9 L109.6,780.9 L110.6,779.6 L112.0,780.5 L112.2,781.9 L111.2,782.8ZM61.0,774.4 L59.4,776.3 L57.2,775.2 L55.5,773.1 L58.0,772.0 L59.5,771.0 L61.3,772.3ZM60.2,769.7 L58.7,767.3 L61.1,765.7 L63.3,767.1 L64.7,768.6 L65.2,771.3 L62.4,771.3 L60.5,771.8ZM61.6,774.4 L59.0,774.9 L56.8,773.9 L56.9,771.7 L56.9,769.4 L59.3,769.8 L60.7,770.6 L60.8,771.9ZM56.1,765.9 L59.0,767.6 L61.0,769.4 L59.3,771.3 L57.5,771.9 L54.8,771.8 L53.1,768.5ZM107.7,815.8 L103.9,817.6 L99.5,816.9 L100.1,812.8 L99.0,810.5 L102.0,810.0 L104.4,807.1 L108.5,808.5 L107.0,812.2ZM101.5,809.6 L103.1,811.0 L103.3,813.0 L102.4,814.8 L100.5,814.4 L98.9,814.4 L97.4,813.1 L98.2,811.4 L99.8,811.1ZM105.3,807.3 L107.3,807.8 L108.6,808.8 L108.6,810.6 L107.0,812.6 L105.4,810.6 L104.5,809.2ZM109.9,755.2 L109.2,757.8 L108.1,760.4 L106.0,759.5 L104.4,757.5 L105.9,755.3 L106.4,752.3 L108.4,753.3ZM105.9,756.4 L106.2,757.1 L106.1,758.0 L105.0,758.7 L103.6,758.2 L101.5,757.8 L102.3,756.5 L103.9,756.2 L105.2,755.1ZM116.5,813.1 L117.9,812.0 L119.1,810.4 L121.1,811.1 L120.8,813.1 L121.5,815.5 L119.0,816.4 L117.6,814.5ZM113.8,814.4 L115.9,815.2 L118.2,814.4 L118.4,816.4 L117.2,817.6 L115.7,817.6 L114.8,817.1 L113.1,816.2ZM118.1,811.4 L118.7,812.4 L117.8,813.2 L117.0,814.4 L115.4,813.8 L115.6,812.5 L115.8,811.5 L116.9,810.8ZM120.8,807.8 L123.3,808.5 L124.9,810.5 L123.9,813.1 L121.5,812.6 L119.4,812.2 L120.1,810.2ZM128.1,780.7 L127.4,778.8 L128.8,777.1 L130.2,778.4 L131.1,779.8 L131.0,782.3 L129.0,782.2ZM126.2,777.5 L126.9,776.7 L127.8,776.6 L128.4,777.1 L129.6,777.7 L129.8,779.7 L128.2,780.1 L126.8,780.3 L126.5,778.7ZM37.8,817.0 L39.7,815.8 L41.8,816.9 L42.5,819.6 L40.7,821.3 L38.6,821.4 L36.8,819.6ZM36.5,817.7 L35.7,816.0 L34.9,814.4 L37.4,813.8 L39.5,814.3 L39.9,815.7 L39.5,817.4ZM56.1,796.9 L59.6,795.6 L62.0,794.5 L65.6,795.5 L63.4,797.7 L62.2,800.0 L59.3,798.6ZM59.4,799.8 L58.4,798.3 L58.4,797.2 L58.8,796.4 L59.3,794.6 L61.3,794.8 L62.8,796.2 L62.1,797.9 L60.9,798.8ZM65.2,797.2 L63.9,798.2 L62.3,798.2 L61.2,797.0 L61.4,795.1 L63.2,794.7 L64.1,795.9ZM64.2,789.1 L65.5,789.3 L66.3,790.9 L65.8,792.8 L64.6,793.7 L63.2,793.7 L62.0,792.6 L61.4,790.4 L62.5,788.5ZM65.1,797.1 L62.7,796.2 L62.4,793.8 L63.5,792.7 L65.1,792.3 L65.6,794.3ZM61.3,786.3 L63.0,785.5 L64.2,787.1 L64.6,788.8 L65.4,791.2 L63.4,791.4 L62.5,790.6 L60.8,790.6 L60.6,788.4ZM65.2,790.5 L64.2,789.1 L66.1,789.2 L67.5,788.3 L67.7,789.8 L68.0,790.9 L66.9,791.5 L65.3,792.3ZM57.5,766.5 L59.3,765.2 L61.9,766.1 L62.3,768.8 L59.2,769.0 L57.3,768.2ZM59.0,764.9 L59.2,765.7 L58.2,766.2 L57.7,765.3 L57.1,765.0 L57.1,764.2 L58.0,764.2 L58.8,764.2ZM60.1,770.5 L59.0,769.6 L57.9,768.6 L58.9,767.4 L60.1,768.0 L60.3,769.0ZM59.7,769.3 L58.9,769.4 L58.0,768.6 L58.6,767.5 L59.1,766.6 L60.0,766.8 L60.4,767.7 L59.9,768.4ZM94.3,758.7 L96.7,757.4 L98.8,757.1 L100.6,757.3 L102.4,758.1 L102.7,759.7 L100.9,760.8 L98.7,760.2 L97.2,759.8ZM100.9,758.6 L102.3,759.8 L102.5,761.9 L101.7,763.3 L100.9,764.9 L99.7,764.0 L98.6,762.9 L99.2,761.3 L99.4,759.2ZM96.6,762.2 L96.2,761.0 L95.3,759.8 L96.1,758.5 L97.2,758.8 L99.0,757.6 L99.5,759.8 L98.9,761.6 L98.0,763.1ZM98.7,758.1 L99.9,759.0 L99.2,760.5 L98.0,762.2 L97.0,760.3 L97.2,758.8 L97.6,757.5ZM70.3,803.4 L70.3,804.9 L72.1,807.2 L69.4,807.0 L67.8,807.9 L66.4,806.6 L65.5,804.6 L66.7,802.6 L68.8,802.2ZM69.8,806.3 L70.6,805.7 L71.3,805.0 L72.8,805.4 L73.7,806.5 L72.0,807.0 L70.7,807.0ZM67.2,803.2 L68.3,804.0 L68.8,805.3 L67.4,805.8 L66.2,807.1 L65.2,805.7 L65.3,804.5 L66.2,804.0ZM68.9,804.8 L67.9,803.7 L69.7,802.9 L69.9,801.4 L71.7,801.6 L72.8,802.7 L72.6,803.9 L72.2,805.4 L70.4,805.0ZM105.6,765.6 L106.6,768.2 L104.3,768.5 L103.0,768.2 L99.9,768.2 L100.4,764.6 L102.8,763.5 L104.7,764.0ZM99.8,768.8 L99.7,767.7 L101.3,767.7 L103.4,767.9 L102.3,769.1 L101.9,770.8 L99.2,770.5ZM107.9,768.4 L107.6,769.3 L106.9,770.6 L104.7,770.7 L102.2,769.9 L102.1,767.9 L103.6,766.3 L106.4,765.4 L108.5,766.8ZM48.9,777.7 L51.1,774.6 L55.5,773.2 L55.7,776.8 L56.8,780.1 L52.3,779.9ZM53.6,778.0 L52.8,775.5 L55.9,774.7 L57.9,776.5 L58.5,778.5 L57.1,780.1 L54.9,780.6 L52.1,780.2ZM50.8,775.6 L51.9,775.6 L53.2,776.3 L52.5,777.6 L51.5,777.9 L50.8,778.2 L49.3,778.5 L49.1,777.1 L49.6,775.9ZM87.4,763.6 L87.7,761.1 L90.0,759.5 L93.1,759.6 L95.5,761.7 L95.0,764.7 L92.8,766.3 L90.3,767.5 L88.6,765.5ZM91.1,762.7 L90.9,763.9 L89.5,764.7 L88.2,763.8 L85.9,763.4 L87.8,762.4 L88.5,760.9 L90.7,761.3ZM58.6,799.0 L60.7,798.8 L63.0,799.3 L63.7,801.2 L63.0,803.1 L60.5,802.6 L59.2,802.6 L58.3,801.8 L58.0,800.6ZM58.0,800.6 L59.0,799.8 L60.2,800.2 L60.1,801.1 L59.7,801.9 L58.6,801.5ZM57.5,802.0 L57.2,800.5 L58.3,799.7 L59.7,800.0 L59.3,801.4 L58.8,803.1ZM60.0,799.6 L60.9,798.5 L61.2,796.4 L63.0,797.5 L63.2,798.8 L63.4,799.8 L62.7,801.5 L61.3,800.2Z" fill="#6a1a70" stroke="#6a1a70" stroke-width="0.6" stroke-linejoin="round"/>
</g>
<path d="M64.4,778.3h1.2v1.2h-1.2zM109.0,815.2h1.5v1.5h-1.5zM130.1,764.8h1.0v1.0h-1.0zM93.1,775.6h1.5v1.5h-1.5zM62.7,788.4h1.0v1.0h-1.0zM92.0,779.6h1.5v1.5h-1.5zM97.9,766.8h1.0v1.0h-1.0zM127.6,806.7h1.0v1.0h-1.0zM122.5,781.3h1.2v1.2h-1.2zM102.6,806.7h1.2v1.2h-1.2zM81.5,818.1h1.0v1.0h-1.0zM76.0,785.4h1.5v1.5h-1.5zM42.0,796.9h1.5v1.5h-1.5zM39.3,793.3h1.5v1.5h-1.5zM104.5,809.5h1.5v1.5h-1.5zM59.4,766.6h1.5v1.5h-1.5zM57.2,765.7h1.2v1.2h-1.2zM89.9,785.1h1.2v1.2h-1.2zM56.5,769.1h1.0v1.0h-1.0zM119.1,796.3h1.5v1.5h-1.5zM88.5,792.8h1.5v1.5h-1.5zM124.1,790.0h1.2v1.2h-1.2zM62.3,806.9h1.2v1.2h-1.2zM72.4,807.0h1.5v1.5h-1.5zM52.7,776.8h1.0v1.0h-1.0zM67.4,766.8h1.0v1.0h-1.0zM42.2,785.7h1.2v1.2h-1.2zM121.9,797.8h1.0v1.0h-1.0zM51.6,772.0h1.2v1.2h-1.2zM44.1,808.0h1.0v1.0h-1.0zM83.0,821.7h1.0v1.0h-1.0zM108.7,789.4h1.0v1.0h-1.0zM43.1,791.6h1.0v1.0h-1.0zM119.6,766.4h1.2v1.2h-1.2zM44.0,751.7h1.0v1.0h-1.0zM101.5,759.5h1.2v1.2h-1.2zM132.2,799.7h1.2v1.2h-1.2zM67.0,797.6h1.0v1.0h-1.0zM55.4,791.0h1.5v1.5h-1.5zM114.7,796.8h1.0v1.0h-1.0zM99.1,772.1h1.0v1.0h-1.0zM108.3,765.0h1.2v1.2h-1.2zM46.0,819.4h1.2v1.2h-1.2zM105.1,815.6h1.2v1.2h-1.2zM62.5,787.8h1.2v1.2h-1.2zM61.5,756.9h1.2v1.2h-1.2zM60.1,795.5h1.2v1.2h-1.2zM117.3,812.5h1.5v1.5h-1.5zM114.6,763.8h1.0v1.0h-1.0zM83.0,780.9h1.2v1.2h-1.2zM129.0,798.8h1.5v1.5h-1.5zM132.0,807.0h1.5v1.5h-1.5zM52.5,815.1h1.0v1.0h-1.0zM39.1,789.7h1.2v1.2h-1.2zM129.8,800.6h1.0v1.0h-1.0zM40.0,770.9h1.0v1.0h-1.0zM102.2,808.3h1.2v1.2h-1.2zM127.0,774.4h1.2v1.2h-1.2zM102.0,805.4h1.2v1.2h-1.2zM118.6,807.0h1.2v1.2h-1.2zM78.6,812.7h1.5v1.5h-1.5zM64.5,814.1h1.2v1.2h-1.2zM113.6,798.4h1.2v1.2h-1.2zM87.0,794.1h1.2v1.2h-1.2zM47.4,816.3h1.2v1.2h-1.2zM47.8,803.9h1.0v1.0h-1.0zM89.2,809.1h1.5v1.5h-1.5zM105.5,785.8h1.0v1.0h-1.0zM120.7,766.6h1.2v1.2h-1.2zM125.3,818.0h1.0v1.0h-1.0zM46.4,785.2h1.0v1.0h-1.0zM77.0,767.4h1.5v1.5h-1.5zM99.4,820.3h1.2v1.2h-1.2zM75.6,760.4h1.2v1.2h-1.2zM72.7,753.6h1.2v1.2h-1.2zM122.9,792.2h1.0v1.0h-1.0zM46.8,797.5h1.5v1.5h-1.5zM127.0,800.7h1.2v1.2h-1.2zM75.8,812.1h1.2v1.2h-1.2zM101.6,769.5h1.0v1.0h-1.0zM75.8,758.9h1.0v1.0h-1.0zM97.9,767.4h1.2v1.2h-1.2zM117.2,820.8h1.5v1.5h-1.5zM46.8,808.9h1.0v1.0h-1.0zM75.4,768.2h1.2v1.2h-1.2zM75.9,765.6h1.2v1.2h-1.2zM106.1,814.5h1.0v1.0h-1.0zM57.7,807.9h1.2v1.2h-1.2zM55.0,814.1h1.2v1.2h-1.2zM102.8,816.0h1.2v1.2h-1.2zM124.6,816.1h1.2v1.2h-1.2zM118.9,765.7h1.0v1.0h-1.0zM67.9,799.2h1.0v1.0h-1.0zM56.3,803.7h1.5v1.5h-1.5zM108.2,775.1h1.5v1.5h-1.5zM69.1,807.6h1.0v1.0h-1.0zM126.5,767.1h1.2v1.2h-1.2zM46.0,817.4h1.0v1.0h-1.0zM40.0,758.4h1.2v1.2h-1.2zM68.0,785.5h1.0v1.0h-1.0zM81.0,796.9h1.0v1.0h-1.0zM58.3,774.3h1.0v1.0h-1.0zM115.8,774.8h1.2v1.2h-1.2zM74.5,804.9h1.0v1.0h-1.0zM98.3,750.9h1.2v1.2h-1.2zM118.3,775.4h1.2v1.2h-1.2zM130.1,786.6h1.5v1.5h-1.5zM87.5,774.2h1.5v1.5h-1.5zM67.8,805.3h1.0v1.0h-1.0zM43.0,784.6h1.2v1.2h-1.2zM55.4,820.6h1.0v1.0h-1.0zM76.4,751.9h1.5v1.5h-1.5zM106.2,756.1h1.0v1.0h-1.0zM58.9,818.1h1.0v1.0h-1.0zM71.8,805.8h1.5v1.5h-1.5zM111.8,811.1h1.5v1.5h-1.5zM120.9,755.6h1.0v1.0h-1.0zM74.6,762.8h1.0v1.0h-1.0zM112.5,805.1h1.2v1.2h-1.2zM112.2,820.3h1.5v1.5h-1.5zM98.2,808.3h1.2v1.2h-1.2zM77.5,819.6h1.2v1.2h-1.2zM52.5,780.0h1.5v1.5h-1.5zM61.2,819.0h1.5v1.5h-1.5zM120.3,786.0h1.0v1.0h-1.0zM49.2,780.8h1.5v1.5h-1.5zM62.2,785.1h1.0v1.0h-1.0zM40.9,807.5h1.5v1.5h-1.5zM98.6,797.7h1.5v1.5h-1.5zM131.8,820.4h1.5v1.5h-1.5zM67.0,817.2h1.2v1.2h-1.2zM113.4,774.8h1.2v1.2h-1.2zM94.5,770.1h1.0v1.0h-1.0zM87.0,790.8h1.0v1.0h-1.0zM61.8,794.8h1.5v1.5h-1.5zM111.8,818.2h1.2v1.2h-1.2zM62.6,793.1h1.0v1.0h-1.0zM129.5,789.0h1.0v1.0h-1.0zM130.9,778.9h1.0v1.0h-1.0zM77.2,752.4h1.2v1.2h-1.2zM96.3,819.3h1.2v1.2h-1.2zM97.8,794.9h1.0v1.0h-1.0zM130.6,754.8h1.0v1.0h-1.0zM126.1,770.6h1.5v1.5h-1.5zM78.0,779.2h1.0v1.0h-1.0zM44.6,794.2h1.5v1.5h-1.5zM88.9,804.3h1.2v1.2h-1.2zM100.1,755.6h1.0v1.0h-1.0zM110.7,751.1h1.2v1.2h-1.2zM58.5,790.0h1.5v1.5h-1.5zM44.4,756.8h1.5v1.5h-1.5zM55.4,795.0h1.5v1.5h-1.5zM119.4,780.4h1.0v1.0h-1.0zM39.7,806.1h1.2v1.2h-1.2zM82.5,755.1h1.2v1.2h-1.2zM102.9,801.4h1.5v1.5h-1.5zM59.0,811.1h1.2v1.2h-1.2zM61.4,799.6h1.5v1.5h-1.5zM42.1,819.0h1.2v1.2h-1.2zM58.1,815.1h1.2v1.2h-1.2zM47.4,792.4h1.0v1.0h-1.0zM74.2,768.1h1.2v1.2h-1.2zM51.2,801.6h1.0v1.0h-1.0zM125.1,768.4h1.5v1.5h-1.5zM64.8,757.3h1.5v1.5h-1.5zM49.9,812.3h1.5v1.5h-1.5zM128.7,776.3h1.5v1.5h-1.5zM64.9,755.2h1.0v1.0h-1.0zM84.4,802.9h1.2v1.2h-1.2zM69.0,798.8h1.5v1.5h-1.5zM68.0,781.0h1.2v1.2h-1.2zM131.3,754.9h1.2v1.2h-1.2zM108.7,803.7h1.2v1.2h-1.2zM125.6,819.6h1.5v1.5h-1.5zM73.3,817.9h1.0v1.0h-1.0zM39.8,794.2h1.5v1.5h-1.5zM117.2,781.4h1.5v1.5h-1.5zM122.6,780.5h1.2v1.2h-1.2zM61.0,766.7h1.5v1.5h-1.5zM65.7,780.0h1.2v1.2h-1.2zM41.4,821.8h1.2v1.2h-1.2zM81.4,785.2h1.0v1.0h-1.0zM101.6,782.5h1.5v1.5h-1.5zM99.4,770.1h1.5v1.5h-1.5zM48.5,784.1h1.0v1.0h-1.0zM80.3,814.9h1.5v1.5h-1.5zM48.6,785.4h1.5v1.5h-1.5zM42.8,808.7h1.5v1.5h-1.5zM46.8,805.2h1.0v1.0h-1.0zM72.0,787.4h1.0v1.0h-1.0zM104.7,795.5h1.2v1.2h-1.2zM47.3,754.7h1.2v1.2h-1.2zM92.2,786.5h1.0v1.0h-1.0zM119.3,812.3h1.0v1.0h-1.0zM129.4,764.7h1.2v1.2h-1.2zM126.1,784.5h1.5v1.5h-1.5zM108.3,819.3h1.2v1.2h-1.2zM54.9,777.5h1.5v1.5h-1.5zM57.7,781.9h1.0v1.0h-1.0zM132.3,816.0h1.5v1.5h-1.5z" fill="#8a2f80"/>
</g>
<rect x="137.50" y="750.80" width="94.40" height="71.10" fill="#f0b02c"/>
<rect x="137.50" y="750.80" width="94.40" height="71.10" fill="#a8552f" filter="url(#th2a)"/>
<rect x="137.50" y="750.80" width="94.40" height="71.10" fill="#5e1a52" filter="url(#th2)"/>
<line x1="283.60" y1="811.00" x2="287.10" y2="811.00" stroke="#000" stroke-width="1.2" stroke-linecap="butt"/>
<text x="282.50" y="814.30" font-size="9.3" font-weight="bold" text-anchor="end" fill="#000">0</text>
<line x1="283.60" y1="768.07" x2="287.10" y2="768.07" stroke="#000" stroke-width="1.2" stroke-linecap="butt"/>
<text x="282.50" y="771.37" font-size="9.3" font-weight="bold" text-anchor="end" fill="#000">1</text>
<line x1="283.60" y1="725.13" x2="287.10" y2="725.13" stroke="#000" stroke-width="1.2" stroke-linecap="butt"/>
<text x="282.50" y="728.43" font-size="9.3" font-weight="bold" text-anchor="end" fill="#000">2</text>
<line x1="283.60" y1="682.20" x2="287.10" y2="682.20" stroke="#000" stroke-width="1.2" stroke-linecap="butt"/>
<text x="282.50" y="685.50" font-size="9.3" font-weight="bold" text-anchor="end" fill="#000">3</text>
<line x1="301.25" y1="767.60" x2="301.25" y2="769.20" stroke="#000" stroke-width="1.0" stroke-linecap="butt"/>
<line x1="298.05" y1="767.60" x2="304.45" y2="767.60" stroke="#000" stroke-width="1.0" stroke-linecap="butt"/>
<rect x="294.20" y="768.70" width="14.10" height="42.30" fill="#000"/>
<line x1="315.25" y1="711.30" x2="315.25" y2="716.60" stroke="#000" stroke-width="1.0" stroke-linecap="butt"/>
<line x1="311.85" y1="711.30" x2="318.65" y2="711.30" stroke="#000" stroke-width="1.0" stroke-linecap="butt"/>
<rect x="308.30" y="716.10" width="13.90" height="94.90" fill="#a7a9ac"/>
<line x1="343.05" y1="767.30" x2="343.05" y2="769.20" stroke="#000" stroke-width="1.0" stroke-linecap="butt"/>
<line x1="339.85" y1="767.30" x2="346.25" y2="767.30" stroke="#000" stroke-width="1.0" stroke-linecap="butt"/>
<rect x="336.00" y="768.70" width="14.10" height="42.30" fill="#000"/>
<line x1="357.05" y1="728.00" x2="357.05" y2="735.00" stroke="#000" stroke-width="1.0" stroke-linecap="butt"/>
<line x1="353.45" y1="728.00" x2="360.65" y2="728.00" stroke="#000" stroke-width="1.0" stroke-linecap="butt"/>
<rect x="350.10" y="734.50" width="13.90" height="76.50" fill="#a7a9ac"/>
<line x1="287.10" y1="681.60" x2="287.10" y2="811.60" stroke="#000" stroke-width="1.2" stroke-linecap="butt"/>
<line x1="286.50" y1="811.00" x2="371.10" y2="811.00" stroke="#000" stroke-width="1.2" stroke-linecap="butt"/>
<line x1="308.30" y1="811.00" x2="308.30" y2="814.50" stroke="#000" stroke-width="1.2" stroke-linecap="butt"/>
<line x1="350.10" y1="811.00" x2="350.10" y2="814.50" stroke="#000" stroke-width="1.2" stroke-linecap="butt"/>
<path d="M298.8,762.7 L298.8,702.5 L315,702.5 L315,712" stroke="#000" stroke-width="1.0" fill="none"/>
<path d="M340.8,761.5 L340.8,702.5 L356.8,702.5 L356.8,728.5" stroke="#000" stroke-width="1.0" fill="none"/>
<text x="310.70" y="703.20" font-size="11.6" font-weight="normal" text-anchor="middle" fill="#000">***</text>
<text x="348.90" y="701.30" font-size="11.6" font-weight="normal" text-anchor="middle" fill="#000">***</text>
<rect x="290.40" y="672.00" width="13.90" height="6.60" fill="#000"/>
<rect x="290.40" y="683.20" width="13.90" height="7.10" fill="#a7a9ac"/>
<text x="314.50" y="679.20" font-size="10.2" font-weight="bold" text-anchor="start" fill="#000">Vector</text>
<text x="314.50" y="690.00" font-size="10.2" font-weight="bold" text-anchor="start" fill="#000">SNHG22</text>
<text x="256.20" y="745.40" font-size="12.5" font-weight="bold" text-anchor="middle" fill="#000" transform="rotate(-90 256.20 745.40)">No. of cells</text>
<text x="271.30" y="745.40" font-size="12.5" font-weight="bold" text-anchor="middle" fill="#000" transform="rotate(-90 271.30 745.40)">(fold change)</text>
<text x="314.50" y="823.00" font-size="13.2" font-weight="bold" text-anchor="end" fill="#000" transform="rotate(-45 314.50 823.00)">Migration</text>
<text x="355.60" y="823.00" font-size="13.2" font-weight="bold" text-anchor="end" fill="#000" transform="rotate(-45 355.60 823.00)">Invasion</text>
<text x="380.50" y="665.90" font-size="21.6" font-weight="bold" text-anchor="start" fill="#000">J</text>
<text x="614.00" y="648.60" font-size="17.1" font-weight="bold" text-anchor="middle" fill="#000">LS147T</text>
<line x1="457.90" y1="653.00" x2="731.00" y2="653.00" stroke="#111" stroke-width="1.4" stroke-linecap="butt"/>
<text x="464.60" y="671.50" font-size="15.8" font-weight="bold" text-anchor="middle" fill="#000">Vector</text>
<text x="567.70" y="671.50" font-size="15.8" font-weight="bold" text-anchor="middle" fill="#000">SNHG22</text>
<text x="412.30" y="709.00" font-size="15.6" font-weight="bold" text-anchor="middle" fill="#000" transform="rotate(-90 412.30 709.00)">Migration</text>
<text x="412.30" y="782.00" font-size="15.6" font-weight="bold" text-anchor="middle" fill="#000" transform="rotate(-90 412.30 782.00)">Invasion</text>
<clipPath id="cj1"><rect x="420.30" y="675.80" width="94.00" height="71.00"/></clipPath>
<radialGradient id="cj1g" cx="50%" cy="50%" r="75%"><stop offset="0" stop-color="#bb854e"/><stop offset="1" stop-color="#a9773f"/></radialGradient>
<filter id="cj1f" x="-5%" y="-5%" width="110%" height="110%"><feGaussianBlur stdDeviation="0.6"/></filter>
<g clip-path="url(#cj1)">
<rect x="420.30" y="675.80" width="94.00" height="71.00" fill="url(#cj1g)"/>
<g filter="url(#cj1f)">
<path d="M426.7,696.4 L428.3,697.6 L429.9,699.0 L428.5,700.5 L426.6,700.2 L424.7,700.4 L424.2,698.9 L424.8,697.4ZM426.2,699.9 L426.3,698.8 L427.7,698.5 L428.6,699.1 L429.8,699.6 L428.8,700.3 L428.1,701.7 L426.9,700.6ZM472.8,729.7 L474.0,727.5 L477.0,728.4 L479.7,729.5 L480.0,732.0 L476.2,731.8 L473.7,733.2 L472.3,731.4ZM472.7,731.1 L472.2,730.5 L471.1,728.8 L473.6,728.3 L475.8,729.1 L475.0,730.8 L473.9,731.5ZM472.8,728.0 L474.5,727.1 L477.0,728.0 L476.0,730.0 L473.9,731.7 L471.5,730.0ZM462.6,728.4 L462.4,730.5 L463.5,732.4 L461.4,732.7 L459.9,733.2 L457.9,732.6 L458.8,730.6 L459.4,729.5 L460.6,728.5ZM458.3,730.2 L458.3,729.2 L458.8,728.3 L459.7,728.6 L461.0,728.3 L461.2,729.5 L460.5,730.2 L460.0,731.0 L459.2,730.5ZM420.3,726.6 L416.4,725.0 L415.4,720.9 L420.8,720.6 L425.2,720.2 L428.0,723.5 L425.1,726.8ZM415.4,729.1 L416.4,725.8 L417.2,724.1 L419.8,722.9 L422.3,724.8 L422.4,727.8 L419.0,728.0ZM468.0,716.5 L462.7,717.4 L460.3,713.5 L462.3,709.9 L466.0,708.1 L471.1,707.9 L472.2,711.8 L469.5,713.8ZM494.2,701.2 L497.6,701.2 L502.5,701.6 L499.3,704.6 L496.3,707.7 L492.6,704.6ZM500.0,700.9 L498.2,703.7 L495.7,703.2 L493.8,702.3 L493.6,699.5 L496.7,699.9ZM497.1,702.7 L497.8,704.4 L497.0,707.0 L493.9,706.4 L494.6,703.7 L494.8,700.5ZM489.7,706.7 L487.1,707.4 L484.5,706.6 L483.3,703.3 L484.4,700.0 L487.1,698.6 L488.8,701.2 L488.6,703.4ZM488.8,700.5 L490.1,700.5 L489.8,701.7 L490.4,703.3 L488.5,703.2 L487.2,702.7 L486.6,701.4 L487.6,700.4ZM486.1,702.5 L487.6,703.3 L489.4,705.1 L487.3,706.8 L484.8,706.5 L484.7,704.6 L483.7,702.6ZM443.7,715.7 L440.3,717.1 L438.4,714.5 L439.3,712.0 L442.3,711.1 L444.5,712.5 L448.3,714.7ZM439.2,718.5 L437.1,717.1 L436.7,715.2 L435.9,712.8 L438.6,711.7 L442.0,711.0 L442.2,714.1 L443.7,716.1 L441.9,718.0ZM442.7,709.5 L444.7,709.2 L446.1,711.8 L444.6,715.5 L441.0,714.4 L439.3,710.4ZM454.2,725.8 L451.6,725.8 L451.2,723.6 L452.3,722.5 L453.7,720.4 L455.8,722.0 L456.2,724.4ZM452.2,726.4 L451.0,726.0 L450.0,726.4 L449.5,725.3 L450.0,724.5 L450.2,723.1 L451.5,722.9 L452.8,723.7 L452.6,725.2ZM454.4,722.4 L455.7,723.1 L457.2,723.6 L456.9,724.9 L455.7,725.8 L453.8,725.9 L453.4,724.5 L453.3,723.4ZM508.7,719.3 L504.3,719.0 L501.8,714.0 L506.7,712.9 L509.3,713.0 L512.3,716.3ZM508.8,715.6 L505.6,715.2 L506.7,711.9 L509.2,710.7 L512.1,711.2 L512.1,714.4 L510.6,716.2ZM511.6,714.1 L511.1,716.7 L510.1,719.1 L507.6,718.0 L505.2,718.4 L506.0,716.0 L504.5,713.6 L507.4,714.2 L509.2,712.8ZM415.8,681.7 L420.1,680.9 L424.0,680.2 L425.5,682.7 L424.8,684.8 L423.0,687.0 L418.8,687.1 L418.1,684.4ZM417.3,686.4 L416.9,684.8 L419.2,683.0 L421.5,684.9 L420.7,686.7 L418.7,688.0ZM419.2,683.2 L421.8,684.0 L423.8,683.7 L424.7,685.6 L422.9,686.6 L421.8,687.1 L419.8,687.3 L418.4,685.5ZM489.1,685.7 L489.4,682.4 L493.9,680.9 L496.1,684.4 L499.1,688.9 L493.1,689.1 L487.5,690.8ZM480.5,741.9 L483.4,742.9 L485.0,746.6 L481.0,747.3 L477.1,749.2 L474.9,745.1 L477.3,741.7ZM455.2,682.2 L456.3,680.5 L460.1,680.2 L460.0,682.9 L459.5,685.1 L455.8,686.7 L454.5,683.8ZM434.9,721.9 L436.7,719.9 L438.3,717.6 L440.7,719.7 L443.9,719.8 L443.7,722.2 L441.9,723.6 L439.6,724.0 L437.1,723.7ZM437.2,722.5 L437.5,721.2 L438.8,720.6 L440.2,721.1 L439.6,722.7 L440.4,724.2 L438.9,724.1 L438.1,724.0 L437.1,723.6ZM438.8,721.2 L437.7,719.3 L439.5,717.4 L442.7,717.6 L443.6,720.7 L441.2,723.2ZM444.2,723.5 L446.7,723.0 L448.6,725.7 L446.7,728.3 L444.1,727.9 L443.2,725.6ZM446.2,726.4 L444.7,726.6 L443.9,726.4 L443.2,725.5 L443.3,723.8 L444.6,723.7 L445.9,724.4ZM447.4,694.0 L445.6,689.8 L449.6,687.3 L453.2,688.8 L456.6,692.0 L452.4,695.0ZM452.9,688.0 L454.3,690.4 L451.4,691.7 L448.8,690.8 L447.1,689.5 L446.0,687.0 L449.3,686.6 L451.9,686.2ZM450.7,687.2 L451.4,689.6 L449.6,690.9 L447.8,690.7 L447.1,688.7 L448.1,686.1ZM429.8,713.8 L428.0,715.8 L425.4,717.9 L423.7,714.1 L426.2,712.2 L428.3,710.8ZM429.9,714.2 L428.5,714.5 L426.1,713.7 L427.1,710.7 L429.7,711.0 L431.6,712.7ZM428.2,713.9 L427.8,711.7 L428.8,709.7 L430.8,709.9 L431.7,712.6 L430.2,715.0ZM491.5,691.3 L492.7,691.2 L495.2,691.5 L493.4,693.5 L493.0,695.0 L491.5,695.2 L489.6,695.0 L489.9,692.9 L490.0,691.4ZM492.3,694.1 L491.7,694.1 L490.9,693.9 L490.0,692.9 L491.3,692.4 L492.1,691.2 L493.0,692.2 L493.2,693.1 L493.9,694.4ZM494.0,694.4 L494.2,696.1 L492.6,695.2 L492.1,694.5 L490.6,693.8 L491.3,692.5 L492.7,691.8 L493.7,693.1 L495.0,693.5ZM451.8,687.4 L453.6,686.7 L454.3,689.5 L453.1,691.9 L450.9,692.4 L450.0,689.8 L449.3,686.6ZM451.4,687.8 L453.6,688.4 L453.1,690.4 L450.6,690.0 L448.9,689.8 L449.0,688.5 L450.1,687.8ZM444.4,691.6 L446.7,693.4 L443.7,694.2 L442.3,695.5 L440.8,694.2 L439.9,692.5 L441.2,691.0 L443.1,689.1ZM446.0,690.2 L447.6,691.8 L448.6,694.3 L445.8,695.0 L443.7,694.6 L442.7,692.8 L444.0,691.3ZM471.9,693.0 L470.3,690.5 L473.6,689.8 L476.5,689.3 L478.1,691.7 L475.6,693.9ZM432.5,693.3 L432.3,695.8 L430.0,696.2 L427.1,696.6 L426.9,694.1 L429.3,693.0ZM427.1,731.3 L423.3,731.8 L419.5,730.7 L421.0,726.8 L419.1,723.4 L422.2,720.9 L425.2,723.4 L427.8,724.7 L426.0,727.1ZM480.1,718.9 L478.2,717.7 L475.3,718.2 L476.4,715.1 L475.8,711.8 L478.3,710.2 L481.3,711.0 L483.3,713.9 L483.5,718.0ZM470.6,714.4 L473.2,711.6 L477.0,711.8 L480.5,712.8 L478.0,714.7 L475.0,716.1ZM479.1,713.3 L478.6,714.8 L478.6,718.1 L475.9,716.4 L474.2,715.5 L474.5,713.7 L474.2,711.4 L476.3,709.3 L479.1,710.6ZM496.7,696.5 L497.6,699.7 L495.2,701.7 L491.9,702.3 L490.7,700.3 L490.8,698.9 L492.4,698.0ZM494.0,696.5 L495.0,697.5 L493.9,698.4 L493.9,700.2 L492.3,699.9 L491.7,698.7 L490.6,697.6 L491.4,696.2 L492.9,696.2Z" fill="#7a4874" fill-opacity="0.75"/>
<path d="M427.6,698.5 L428.5,699.3 L427.6,700.4 L425.5,700.0 L424.8,699.1 L424.9,698.0 L426.8,697.4ZM426.6,700.5 L426.8,699.4 L427.4,698.4 L428.5,698.8 L429.6,699.6 L428.7,700.6 L427.7,700.7ZM478.4,731.1 L476.4,732.9 L474.0,732.1 L472.1,729.9 L474.4,727.3 L476.8,729.3ZM472.1,730.9 L472.1,729.7 L473.4,729.2 L474.2,730.0 L474.9,731.2 L473.2,732.1ZM473.2,728.5 L474.0,727.2 L476.0,727.6 L475.9,729.6 L474.4,730.2 L473.5,729.5ZM458.9,729.4 L461.0,730.1 L462.5,730.6 L462.4,732.4 L460.1,732.4 L458.5,731.3ZM461.0,729.3 L460.4,730.1 L460.0,730.7 L459.2,730.9 L459.0,730.0 L458.6,729.4 L458.6,728.3 L459.6,727.9 L460.6,728.3ZM421.0,726.6 L419.6,725.2 L419.8,723.3 L419.6,721.3 L421.1,720.1 L422.6,721.3 L424.1,722.3 L424.0,724.5 L423.1,726.7ZM416.8,724.3 L418.7,724.5 L419.7,725.2 L420.9,726.5 L419.3,727.3 L417.5,728.5 L415.7,726.7ZM468.8,710.8 L470.1,712.8 L467.9,713.9 L464.5,714.9 L465.0,712.3 L464.9,709.0ZM496.5,704.7 L495.3,703.9 L496.2,702.7 L496.8,701.9 L497.7,702.1 L499.9,702.3 L499.5,704.5 L497.7,704.8ZM497.5,702.5 L496.3,702.8 L495.0,703.2 L494.5,701.7 L494.9,700.0 L496.7,699.5 L497.9,701.0ZM497.5,703.1 L497.3,704.4 L496.5,705.5 L495.4,704.9 L494.8,704.1 L494.8,702.9 L496.3,701.6ZM488.0,704.3 L487.0,706.0 L485.8,704.5 L485.3,703.3 L485.6,701.7 L487.2,701.2 L488.0,702.5 L489.9,703.5ZM489.6,700.6 L491.2,701.9 L489.1,702.6 L487.7,702.7 L486.7,701.3 L487.9,699.9ZM486.6,702.6 L487.1,703.7 L487.6,705.0 L486.7,706.0 L485.5,706.2 L485.0,705.0 L484.9,703.8 L485.7,703.4ZM443.8,714.6 L442.1,716.5 L438.6,715.5 L439.2,713.1 L440.5,710.7 L444.3,711.6 L445.0,713.5ZM440.0,713.6 L441.2,714.6 L440.5,716.3 L439.0,717.4 L438.3,715.4 L438.2,713.2ZM441.5,711.9 L441.4,710.4 L443.3,709.0 L446.0,710.1 L446.0,712.4 L443.2,712.7ZM450.8,721.8 L453.4,722.0 L455.5,722.3 L455.3,723.9 L453.8,724.3 L451.6,725.6 L452.0,723.6ZM452.3,724.9 L452.1,725.7 L451.1,725.7 L450.5,725.9 L449.5,725.6 L449.3,724.5 L450.2,724.0 L451.0,724.1 L451.8,724.2ZM455.4,726.0 L454.3,725.6 L454.1,724.4 L454.2,723.4 L454.7,721.9 L455.6,723.0 L456.3,723.7 L456.0,724.9ZM509.0,714.4 L510.3,716.7 L507.5,717.3 L504.8,716.6 L505.8,714.3 L507.5,711.0ZM508.0,714.5 L508.0,713.3 L508.6,712.3 L510.0,710.8 L511.2,712.3 L511.7,714.0 L511.2,715.6 L509.6,715.2 L508.0,716.5ZM508.2,717.6 L506.6,717.0 L505.8,715.3 L507.4,714.1 L509.5,714.2 L509.7,716.5ZM419.1,683.2 L420.7,681.3 L422.3,682.3 L422.9,683.9 L422.2,686.2 L420.0,685.6ZM418.1,684.5 L419.9,683.6 L420.3,685.3 L421.9,686.6 L419.9,687.3 L418.4,687.1 L416.8,686.6 L416.6,685.2ZM420.9,684.6 L421.8,683.2 L423.5,683.6 L424.4,685.5 L423.4,687.3 L421.8,688.6 L420.7,686.7 L419.5,685.6ZM494.1,685.5 L495.2,687.9 L493.5,689.7 L491.4,689.4 L490.5,687.2 L490.3,685.4 L490.9,683.6 L492.4,682.3 L493.9,683.6ZM481.4,748.2 L478.3,746.3 L474.8,744.8 L477.0,742.2 L480.5,743.4 L482.3,744.0 L483.8,745.8ZM458.4,683.1 L457.9,683.8 L457.1,683.9 L455.8,684.2 L455.1,683.2 L455.4,682.0 L456.6,681.8 L457.5,681.9 L458.7,682.0ZM439.6,720.0 L440.4,720.6 L441.4,720.9 L441.4,722.1 L440.4,722.6 L439.5,722.7 L438.8,722.3 L438.0,721.4 L439.1,720.8ZM436.9,723.2 L436.9,722.0 L438.4,722.1 L439.1,722.2 L439.5,722.7 L440.3,723.7 L439.0,724.4 L438.0,723.7ZM439.0,720.4 L438.8,719.7 L439.4,719.1 L440.4,719.1 L441.9,719.1 L442.7,720.2 L441.0,720.7 L440.0,720.6ZM445.3,723.9 L446.1,724.8 L447.7,725.3 L446.9,726.4 L445.7,726.6 L444.4,727.6 L444.1,726.2 L444.2,725.5 L443.6,723.9ZM443.4,724.9 L443.9,724.4 L444.8,723.9 L445.1,724.9 L445.5,725.5 L444.9,725.9 L444.6,726.8 L443.8,726.5 L443.6,725.7ZM448.2,692.0 L449.0,690.3 L449.3,688.5 L451.2,688.6 L453.4,688.6 L453.0,690.8 L452.2,691.8 L451.3,692.3 L449.7,693.0ZM452.5,687.9 L451.2,689.7 L450.3,691.8 L448.7,690.3 L449.1,688.5 L449.2,686.3 L451.0,686.0ZM450.0,688.4 L451.0,689.5 L449.6,690.0 L448.4,690.7 L447.9,689.4 L447.5,688.1 L449.0,687.2ZM428.8,715.9 L427.1,717.4 L425.6,715.7 L425.5,714.0 L425.4,712.0 L427.0,712.4 L428.2,712.5 L428.3,713.9ZM430.1,712.6 L430.6,713.7 L429.7,714.5 L428.7,715.3 L428.4,713.7 L428.0,713.2 L428.3,712.4 L428.8,711.8 L429.8,711.5ZM429.3,711.1 L430.2,711.3 L430.4,711.9 L430.3,712.3 L430.2,713.1 L429.1,712.9 L428.5,712.5 L428.4,712.0 L428.1,711.2ZM489.9,692.8 L491.0,691.5 L492.3,690.3 L493.5,691.9 L492.8,693.6 L492.1,695.1 L490.9,694.3ZM490.9,693.0 L491.4,692.4 L492.2,692.3 L493.1,692.5 L493.3,693.3 L493.1,694.0 L492.3,694.6 L491.6,693.9 L491.5,693.5ZM491.7,692.9 L492.9,693.0 L494.0,692.6 L494.3,694.1 L493.5,695.0 L492.7,695.2 L492.4,694.3ZM452.2,690.7 L450.8,689.8 L450.6,688.6 L451.4,687.2 L452.7,688.3 L453.5,689.5ZM451.8,690.2 L450.3,689.6 L448.6,689.0 L449.4,687.2 L451.6,687.1 L452.7,688.6ZM443.3,693.9 L441.0,695.0 L441.0,693.1 L440.0,691.4 L442.7,691.0 L445.5,691.4 L444.0,693.1ZM447.7,692.5 L446.5,693.7 L444.3,694.6 L442.2,693.2 L444.2,692.0 L446.1,691.2ZM475.2,692.8 L473.5,694.1 L471.7,692.9 L471.4,690.9 L473.2,690.1 L474.0,688.7 L476.1,688.4 L477.3,690.2 L477.5,692.4ZM429.9,697.0 L427.3,696.5 L428.0,694.2 L429.6,692.4 L431.0,694.3 L431.6,695.9ZM426.4,727.9 L424.6,729.2 L422.9,729.1 L421.2,727.9 L420.4,724.8 L422.3,722.4 L424.7,723.7 L426.1,725.4ZM475.2,714.4 L477.6,713.6 L480.3,713.4 L480.7,714.9 L481.4,716.1 L479.5,716.6 L477.6,716.7 L476.6,715.8ZM475.4,717.0 L472.6,715.1 L472.5,712.0 L475.8,712.1 L478.5,711.0 L478.6,713.5 L478.6,716.0ZM474.6,711.3 L477.1,712.5 L480.5,712.0 L478.8,713.9 L478.4,714.9 L477.2,716.5 L474.7,715.9 L473.0,714.6 L472.8,712.9ZM494.5,699.3 L494.7,701.7 L492.7,703.5 L491.8,700.6 L491.0,698.9 L491.9,696.5 L493.5,698.3ZM491.9,696.5 L493.3,696.6 L494.3,697.2 L495.0,698.4 L493.9,699.2 L492.6,699.1 L491.5,698.7 L491.0,697.5Z" fill="#4b1b58" stroke="#4b1b58" stroke-width="0.6" stroke-linejoin="round"/>
</g>
<path d="M423.2,712.1h1.5v1.5h-1.5zM438.2,732.2h1.0v1.0h-1.0zM505.3,745.7h1.5v1.5h-1.5zM457.8,689.8h1.5v1.5h-1.5zM426.3,743.0h1.2v1.2h-1.2zM491.2,718.2h1.2v1.2h-1.2zM460.1,680.4h1.5v1.5h-1.5zM443.3,698.0h1.0v1.0h-1.0zM428.6,743.5h1.5v1.5h-1.5zM459.4,682.6h1.5v1.5h-1.5zM447.8,681.6h1.5v1.5h-1.5zM485.8,729.2h1.0v1.0h-1.0zM508.4,740.2h1.5v1.5h-1.5zM479.3,735.8h1.0v1.0h-1.0zM450.3,691.5h1.0v1.0h-1.0zM473.2,682.2h1.5v1.5h-1.5zM479.2,676.4h1.2v1.2h-1.2zM447.6,688.6h1.5v1.5h-1.5zM492.9,698.2h1.2v1.2h-1.2zM468.4,740.7h1.2v1.2h-1.2zM473.3,741.9h1.2v1.2h-1.2zM482.3,706.4h1.2v1.2h-1.2zM442.6,681.4h1.2v1.2h-1.2zM448.9,708.9h1.0v1.0h-1.0zM506.5,740.5h1.2v1.2h-1.2zM494.5,712.8h1.0v1.0h-1.0zM453.3,710.6h1.5v1.5h-1.5zM472.0,695.6h1.5v1.5h-1.5zM430.0,717.7h1.5v1.5h-1.5zM499.4,734.5h1.2v1.2h-1.2zM491.9,680.7h1.5v1.5h-1.5zM487.7,723.0h1.2v1.2h-1.2zM485.9,690.3h1.2v1.2h-1.2zM469.8,693.5h1.2v1.2h-1.2zM465.1,739.5h1.2v1.2h-1.2zM435.9,697.0h1.5v1.5h-1.5zM466.0,739.1h1.0v1.0h-1.0zM488.2,736.4h1.5v1.5h-1.5zM473.5,680.6h1.2v1.2h-1.2zM479.3,704.8h1.5v1.5h-1.5z" fill="#33183f"/>
</g>
<clipPath id="cj2"><rect x="519.10" y="675.80" width="94.00" height="71.00"/></clipPath>
<radialGradient id="cj2g" cx="50%" cy="50%" r="75%"><stop offset="0" stop-color="#bb854e"/><stop offset="1" stop-color="#a9773f"/></radialGradient>
<filter id="cj2f" x="-5%" y="-5%" width="110%" height="110%"><feGaussianBlur stdDeviation="0.7"/></filter>
<g clip-path="url(#cj2)">
<rect x="519.10" y="675.80" width="94.00" height="71.00" fill="url(#cj2g)"/>
<g filter="url(#cj2f)">
<path d="M588.1,717.6 L592.0,719.9 L595.6,720.8 L593.6,723.1 L591.0,724.9 L586.9,723.9 L584.7,720.6ZM603.5,695.8 L600.5,696.4 L599.0,696.1 L598.3,694.6 L599.2,692.4 L601.3,693.9ZM557.2,715.4 L554.4,718.0 L551.7,715.5 L552.8,712.9 L550.2,709.7 L553.8,707.7 L557.0,709.9 L561.1,710.7 L557.8,713.5ZM553.3,715.4 L552.4,714.3 L554.2,714.1 L555.2,714.3 L556.1,714.6 L557.7,715.4 L557.3,717.0 L554.9,716.9 L554.0,715.9ZM599.5,747.6 L596.1,746.9 L596.2,743.3 L597.8,736.7 L601.4,742.4 L603.0,746.0ZM526.5,732.7 L529.1,732.0 L530.5,731.8 L532.5,731.7 L533.3,734.0 L531.7,735.4 L531.1,738.7 L528.7,737.7 L528.5,735.0ZM528.7,738.1 L527.3,736.0 L529.0,734.3 L529.7,733.5 L531.5,731.8 L532.5,734.3 L531.5,736.3 L530.6,738.1ZM556.6,730.4 L553.2,727.6 L552.5,723.7 L556.9,722.2 L560.2,723.5 L563.1,725.8 L561.6,729.6ZM558.9,728.0 L555.3,727.6 L553.7,724.9 L554.8,722.2 L557.4,720.8 L560.5,721.2 L561.2,723.7 L560.2,725.5ZM557.5,723.9 L558.4,724.7 L557.9,726.1 L556.1,725.6 L554.9,725.3 L554.9,724.4 L555.2,723.5 L556.6,722.6ZM528.0,703.1 L525.4,699.5 L527.9,695.9 L532.6,696.4 L535.6,697.9 L534.4,700.3 L532.6,701.8ZM535.5,699.0 L534.4,699.9 L532.2,699.9 L531.6,697.6 L533.8,695.4 L537.2,696.6ZM531.5,699.3 L533.4,699.7 L532.3,701.0 L532.6,702.3 L530.9,701.9 L529.9,701.9 L529.6,701.1 L528.9,700.1 L530.0,699.3ZM521.8,722.1 L523.5,721.7 L525.2,721.8 L526.2,723.2 L525.0,724.4 L524.4,725.1 L523.3,725.3 L520.8,725.7 L522.0,723.7ZM523.9,724.0 L521.8,722.8 L522.7,720.8 L525.0,721.2 L527.2,721.7 L526.7,723.8ZM522.1,725.2 L521.3,723.9 L520.6,722.5 L522.3,722.0 L524.4,722.4 L523.2,724.1ZM539.0,724.1 L539.6,726.0 L536.6,727.2 L534.1,725.8 L534.1,724.0 L536.7,723.3ZM540.2,724.8 L538.2,725.7 L535.8,724.5 L537.5,722.8 L539.4,720.9 L541.4,723.0ZM522.1,702.0 L525.6,703.0 L526.8,705.4 L523.2,706.5 L520.9,708.1 L517.7,707.1 L517.4,705.3 L514.6,703.0 L518.0,701.0ZM521.3,705.0 L519.0,705.8 L519.3,703.3 L518.7,700.8 L521.2,699.8 L523.5,700.9 L524.9,703.2 L523.9,706.0ZM551.1,717.6 L551.5,715.3 L550.7,713.2 L553.2,713.0 L554.6,713.7 L555.7,714.4 L556.8,715.9 L556.2,718.2 L553.6,717.7ZM557.5,715.2 L557.1,717.0 L556.1,718.4 L554.4,717.4 L554.7,715.8 L555.7,714.9ZM537.3,724.3 L540.2,725.9 L539.9,728.8 L536.9,729.3 L534.9,730.0 L531.3,729.4 L530.6,725.9 L534.1,724.2ZM605.1,705.6 L609.8,702.6 L614.5,705.0 L617.9,709.0 L612.2,712.4 L605.4,710.5ZM608.6,704.1 L611.3,702.7 L614.1,703.7 L615.8,706.0 L613.9,708.1 L612.1,708.8 L610.5,708.1 L609.1,706.8ZM617.3,709.4 L613.8,709.7 L610.0,710.1 L610.1,706.8 L611.8,704.6 L614.8,704.6 L618.2,706.0ZM599.5,706.7 L599.0,709.9 L597.3,712.0 L594.7,711.4 L589.5,710.8 L591.3,706.5 L595.6,703.8ZM595.7,710.8 L596.9,709.1 L598.5,709.4 L599.2,711.0 L599.1,712.4 L598.5,713.8 L597.4,713.6 L596.3,712.8ZM594.3,708.3 L596.3,706.9 L596.4,708.9 L596.3,709.7 L596.5,710.9 L594.9,712.2 L592.3,711.7 L592.3,709.8 L593.1,708.8ZM567.7,748.4 L564.2,748.3 L564.3,745.8 L563.0,743.8 L565.8,744.2 L567.1,744.8 L569.0,746.1ZM565.6,747.3 L564.1,746.5 L562.9,746.2 L562.7,745.2 L563.4,743.7 L565.5,744.2 L566.9,745.0 L567.2,746.4ZM565.6,745.1 L566.7,745.8 L566.3,747.1 L565.1,747.1 L564.3,746.9 L563.9,745.9 L564.3,745.1 L564.6,744.5 L565.4,743.9ZM581.8,685.1 L580.2,683.4 L582.3,682.2 L583.9,681.4 L586.2,681.4 L586.9,683.2 L585.7,684.5 L584.1,686.4ZM559.5,692.8 L559.0,697.3 L554.9,698.9 L553.3,695.1 L554.0,692.4 L556.1,692.3ZM567.9,681.7 L570.0,675.1 L576.0,672.1 L580.5,677.9 L576.9,683.0 L572.8,685.5ZM575.5,670.5 L578.5,675.5 L576.6,679.5 L571.2,682.1 L567.1,677.7 L570.6,674.2ZM578.5,678.8 L581.0,680.2 L578.8,681.8 L577.2,683.4 L574.0,683.7 L574.0,681.2 L573.5,679.9 L574.3,678.4 L576.6,677.6ZM584.1,698.6 L586.6,697.8 L589.4,698.0 L588.7,701.0 L590.2,704.3 L587.2,705.8 L584.4,704.4 L584.2,701.5ZM586.5,701.3 L585.7,699.4 L587.7,699.9 L588.7,700.1 L590.0,701.1 L589.3,702.6 L587.9,702.7 L586.8,702.4ZM537.7,691.3 L540.0,692.9 L540.4,695.8 L538.0,697.6 L535.1,697.9 L531.8,696.5 L533.2,693.3 L534.6,690.7ZM541.3,693.1 L538.3,694.2 L534.0,695.0 L533.1,691.9 L534.9,689.6 L538.6,688.5 L542.3,690.3ZM534.6,746.1 L533.3,742.4 L534.2,738.4 L537.1,739.4 L538.6,740.7 L540.3,744.0 L537.4,745.1ZM540.3,740.8 L539.5,741.5 L538.1,743.3 L537.1,740.9 L537.6,738.5 L539.2,737.5 L540.4,739.0ZM557.2,704.2 L553.4,704.3 L555.0,701.8 L556.4,700.7 L558.2,698.5 L562.0,698.9 L560.8,701.9 L560.5,703.2 L559.8,705.4ZM559.0,704.3 L555.8,702.6 L554.6,699.7 L558.2,699.1 L562.3,698.7 L560.9,701.8ZM605.1,722.2 L608.7,723.8 L606.6,727.1 L607.9,730.7 L604.2,730.9 L602.5,728.6 L602.6,726.7 L601.6,723.5ZM534.4,725.2 L535.1,726.1 L535.7,727.8 L534.6,729.2 L533.2,728.8 L531.4,728.8 L530.8,726.5 L531.6,724.3 L533.2,722.7ZM532.4,726.6 L534.7,728.1 L534.1,730.9 L531.1,730.2 L527.9,729.4 L529.3,726.6ZM534.1,747.4 L532.7,744.0 L530.7,741.4 L533.6,740.3 L535.1,738.5 L536.4,740.4 L538.5,742.8 L536.2,744.7ZM548.2,698.4 L551.9,698.2 L554.1,702.8 L551.1,705.8 L548.1,705.8 L546.1,702.2ZM553.0,698.9 L552.8,700.7 L554.0,703.7 L550.6,704.8 L546.9,704.1 L547.3,701.0 L548.2,699.5 L548.8,697.4 L551.3,697.6ZM545.0,702.0 L549.2,700.0 L552.9,702.7 L550.8,705.6 L548.0,706.6 L543.4,705.7ZM584.0,740.1 L580.4,741.1 L577.2,738.7 L577.6,734.2 L576.8,729.7 L580.0,728.0 L583.1,728.7 L584.5,732.1 L583.9,735.2ZM580.6,737.9 L580.5,734.5 L582.2,731.0 L586.1,730.6 L586.0,735.5 L588.5,739.0 L584.6,738.7 L582.5,739.9ZM578.0,741.2 L575.3,738.2 L573.2,735.0 L575.9,732.6 L577.9,729.9 L580.9,731.5 L583.6,734.9 L581.8,739.4ZM597.2,732.9 L597.4,728.8 L601.1,727.7 L603.4,728.1 L606.1,728.8 L607.9,732.1 L604.4,734.0 L600.7,735.6ZM600.9,733.6 L598.8,732.7 L600.2,730.7 L601.1,727.8 L603.2,729.7 L604.8,732.0 L603.5,735.1ZM576.4,678.7 L575.0,681.2 L571.4,679.9 L572.5,676.7 L575.0,675.5 L577.0,676.9ZM575.1,679.3 L574.0,677.3 L572.4,675.6 L574.1,674.0 L576.0,673.9 L577.5,675.6 L577.2,678.1ZM575.6,678.3 L574.9,677.5 L574.5,676.6 L574.9,675.8 L575.9,675.5 L576.9,675.5 L576.9,676.5 L578.0,677.5 L576.9,678.3ZM537.2,706.9 L539.7,704.8 L543.2,705.6 L545.3,708.6 L542.9,711.2 L539.7,711.2 L535.2,710.5ZM583.2,727.2 L579.7,727.9 L577.1,725.3 L579.7,722.8 L583.0,723.2 L585.7,723.9 L586.4,726.4ZM556.6,693.8 L559.3,696.7 L560.2,701.5 L554.5,702.3 L553.0,698.5 L553.3,696.0ZM555.1,697.5 L555.7,696.2 L556.9,695.7 L559.2,695.6 L560.1,698.2 L558.3,700.7 L555.5,699.6ZM603.0,732.6 L607.5,730.5 L608.7,734.3 L609.3,736.7 L605.8,738.6 L604.5,735.5ZM606.0,738.0 L604.7,738.0 L603.0,737.3 L603.2,735.5 L605.7,736.2 L608.0,736.1 L608.3,737.8ZM609.4,735.0 L608.9,737.3 L605.8,738.0 L603.4,737.2 L600.5,735.4 L603.0,733.1 L606.7,733.7ZM548.7,746.7 L545.9,748.2 L544.1,748.7 L541.1,749.3 L541.1,746.8 L540.3,743.6 L544.1,743.6 L547.3,744.1ZM542.2,750.6 L542.5,748.8 L543.6,747.8 L545.1,746.0 L546.8,747.5 L548.2,749.1 L546.2,750.3 L545.8,752.8 L543.1,752.9ZM549.1,748.4 L547.8,750.7 L545.4,751.6 L543.8,749.5 L544.0,746.9 L545.6,744.3 L547.3,746.8ZM568.7,723.8 L566.3,721.7 L564.2,719.9 L563.3,716.3 L566.4,714.1 L569.4,716.4 L571.4,717.3 L574.0,719.7 L571.1,721.7ZM567.2,720.1 L566.2,719.7 L564.4,718.9 L566.1,718.0 L566.9,717.1 L568.7,716.8 L570.0,717.9 L570.3,719.4 L568.7,720.3ZM594.3,683.4 L591.4,684.7 L588.7,684.1 L585.3,684.8 L586.2,682.5 L585.3,680.7 L587.5,678.8 L590.7,679.9 L592.8,681.2ZM590.3,680.4 L591.0,682.8 L588.4,683.9 L585.7,683.6 L584.1,681.4 L585.9,679.6 L587.2,678.1 L589.1,679.1ZM559.9,686.6 L557.4,680.9 L557.7,676.4 L561.2,674.6 L565.1,677.0 L564.1,682.7ZM560.2,686.0 L559.5,682.8 L557.8,680.0 L560.5,679.7 L561.7,680.6 L563.2,681.9 L562.2,684.0ZM558.2,674.0 L561.5,674.1 L562.7,677.3 L561.5,680.4 L558.1,681.5 L556.6,678.6 L555.6,675.8ZM555.3,729.7 L559.8,727.6 L559.8,732.9 L561.9,736.2 L559.4,739.4 L555.6,739.0 L553.6,736.8 L549.3,734.6 L551.8,730.9ZM554.9,733.7 L557.0,729.2 L560.7,732.2 L560.9,736.2 L559.5,740.1 L555.2,740.4 L553.5,736.6ZM559.2,728.9 L561.8,728.0 L562.1,730.6 L562.5,733.1 L559.5,734.3 L558.5,731.6 L557.6,730.1ZM530.3,685.5 L528.4,683.0 L529.3,680.2 L534.3,679.4 L535.9,682.4 L535.7,685.7ZM532.7,678.3 L535.6,679.9 L535.3,682.6 L534.7,683.9 L533.6,685.0 L531.0,685.9 L529.3,683.4 L529.9,680.2ZM536.9,687.4 L534.1,689.4 L531.2,688.6 L530.0,686.0 L529.8,681.9 L533.7,681.5 L536.7,683.5ZM535.5,685.6 L536.2,687.0 L535.2,688.0 L535.0,689.4 L533.4,689.5 L533.3,687.9 L532.3,687.1 L533.4,686.6 L534.1,685.8ZM581.6,703.4 L585.3,702.2 L589.2,702.2 L592.0,704.3 L589.3,706.4 L587.5,708.1 L584.7,707.3 L580.1,706.4ZM586.8,705.9 L587.5,704.4 L589.4,703.6 L591.7,704.6 L590.5,706.7 L589.2,707.8 L586.9,708.0ZM525.8,683.7 L522.3,684.6 L518.2,683.7 L518.3,679.3 L522.6,675.8 L529.4,678.2ZM517.7,681.3 L521.0,679.0 L524.0,681.3 L524.8,684.9 L521.5,688.5 L519.4,684.3ZM528.1,686.1 L525.9,689.9 L522.2,687.7 L518.9,685.1 L519.0,680.5 L522.6,678.1 L526.0,679.1 L528.2,680.7 L528.6,683.4ZM553.9,675.6 L556.7,678.2 L553.5,680.2 L550.8,679.1 L548.3,678.4 L545.8,675.2 L549.4,673.2 L552.8,672.7ZM555.8,673.4 L559.3,674.4 L556.6,676.4 L555.2,679.2 L552.6,677.1 L549.6,674.9 L552.5,672.5ZM553.0,730.8 L557.0,733.6 L553.7,737.8 L548.5,737.2 L546.6,733.2 L548.2,728.3ZM548.2,729.8 L550.7,730.4 L552.6,731.6 L552.5,734.2 L549.9,734.9 L548.4,733.5 L547.7,732.1ZM554.2,735.7 L552.1,736.2 L549.8,736.7 L550.4,734.8 L551.2,733.0 L553.0,734.2Z" fill="#7a4874" fill-opacity="0.75"/>
<path d="M592.5,720.1 L593.8,721.8 L592.6,723.6 L590.5,722.7 L589.2,722.1 L589.3,720.8 L590.5,719.6ZM599.5,696.2 L597.3,695.7 L597.5,693.8 L600.0,693.9 L601.4,694.1 L601.3,695.2 L600.9,696.0ZM555.2,716.1 L551.6,715.2 L551.7,712.1 L553.4,709.4 L556.7,710.2 L558.7,712.1 L557.6,714.5ZM553.1,715.0 L553.5,713.6 L555.7,713.5 L556.2,714.9 L556.3,715.8 L554.9,716.1 L553.3,716.1ZM603.0,741.1 L601.9,744.6 L601.0,746.4 L599.3,746.8 L597.0,747.8 L594.9,745.8 L595.6,742.8 L597.4,740.9 L599.8,740.4ZM528.6,736.3 L528.2,734.7 L526.4,732.8 L528.7,731.6 L531.0,731.5 L532.0,733.1 L532.4,734.2 L531.9,735.3 L530.8,737.4ZM532.1,735.7 L530.7,736.0 L529.8,736.4 L528.5,736.2 L528.4,735.2 L528.2,734.0 L529.7,733.9 L531.1,733.4 L532.1,734.4ZM557.1,727.3 L555.8,726.2 L555.9,723.7 L558.0,723.6 L559.6,724.5 L560.9,726.8 L558.8,728.3ZM561.4,724.2 L559.6,725.4 L557.3,726.0 L555.1,725.0 L555.4,723.4 L557.7,722.9 L559.8,723.0ZM557.5,724.7 L557.3,725.5 L556.4,725.9 L555.5,725.6 L555.2,724.8 L555.2,724.1 L555.8,723.5 L556.5,723.8 L557.2,724.0ZM529.5,701.4 L528.8,698.8 L530.9,697.5 L533.1,696.3 L534.2,698.7 L533.2,700.5 L531.9,702.1ZM531.8,698.4 L533.2,697.9 L534.2,697.9 L535.6,697.4 L535.9,698.3 L535.7,698.9 L534.7,699.1 L533.7,699.7 L533.4,698.9ZM531.5,702.3 L530.6,701.5 L529.5,701.6 L529.8,700.8 L529.8,699.9 L530.8,699.9 L531.9,699.8 L532.3,700.7 L532.2,701.5ZM521.4,724.6 L522.6,723.2 L522.7,721.3 L524.3,721.1 L525.7,722.1 L525.4,724.0 L524.4,724.6 L523.9,726.4 L523.0,725.1ZM524.7,721.1 L525.5,721.8 L526.4,722.7 L524.9,723.0 L523.8,723.3 L523.3,722.4 L523.2,721.1ZM523.0,722.3 L523.6,723.0 L523.7,724.0 L522.9,724.5 L522.0,724.8 L521.6,724.0 L520.5,723.5 L520.9,722.5 L522.0,722.3ZM536.5,726.4 L535.6,725.6 L535.6,724.6 L535.9,723.2 L537.6,723.4 L537.7,724.8 L537.8,725.9ZM537.5,722.5 L538.5,721.8 L539.1,723.1 L539.7,723.6 L539.3,724.3 L538.8,724.5 L538.2,724.5 L537.2,723.9ZM519.6,703.2 L521.3,702.2 L523.7,703.0 L523.5,705.5 L521.5,706.2 L520.2,706.5 L517.9,706.5 L517.6,704.2ZM523.6,703.7 L522.4,705.1 L520.5,704.8 L520.0,703.6 L520.2,702.6 L521.2,701.5 L522.1,702.7ZM553.1,717.3 L552.6,715.4 L552.0,712.8 L554.8,712.6 L556.7,714.7 L555.7,717.5ZM554.8,715.8 L555.3,714.7 L556.7,714.8 L557.2,715.8 L557.9,716.8 L556.5,717.0 L555.8,717.2 L554.5,717.6 L554.6,716.5ZM534.7,727.1 L535.2,726.0 L536.5,724.9 L537.7,726.3 L537.2,728.0 L536.6,729.2 L535.6,729.0 L533.5,729.3ZM612.9,706.6 L614.2,708.8 L611.9,710.4 L609.8,709.0 L607.2,708.2 L607.8,705.6 L609.9,704.2 L612.4,704.7ZM612.0,708.8 L610.0,707.5 L609.1,705.4 L611.6,704.3 L613.4,705.6 L614.5,707.6ZM613.4,708.3 L612.0,708.4 L612.1,707.1 L612.5,705.9 L613.9,704.5 L614.5,706.6 L615.3,707.5 L614.3,708.2ZM594.2,705.9 L596.6,706.7 L598.8,707.8 L598.9,710.6 L597.3,713.0 L594.5,713.1 L593.7,710.4 L593.6,708.6ZM598.3,710.7 L599.0,711.5 L599.7,712.8 L598.1,714.0 L596.9,712.5 L596.1,711.6 L597.3,711.0ZM596.1,708.7 L596.5,710.1 L595.4,711.1 L593.8,711.2 L593.7,709.6 L594.2,708.8 L595.1,707.7ZM564.3,747.1 L563.9,745.3 L565.0,744.4 L566.0,743.7 L567.8,743.6 L567.1,745.7 L567.2,747.4 L565.7,747.3ZM563.8,744.5 L564.7,744.3 L565.3,744.8 L566.1,745.8 L565.6,747.1 L564.6,747.3 L563.8,746.6 L563.4,745.6ZM565.6,746.7 L564.4,746.6 L564.3,745.5 L564.3,744.2 L565.6,744.7 L566.1,745.6ZM585.2,682.8 L586.9,684.0 L584.9,685.2 L583.2,684.3 L582.5,683.4 L581.6,681.6 L584.1,682.4ZM553.0,695.1 L553.5,692.5 L556.3,691.4 L557.3,693.6 L557.2,695.2 L555.4,696.6ZM572.5,681.5 L568.7,679.6 L571.8,677.1 L574.7,678.1 L578.9,678.0 L576.7,681.0 L574.7,682.2ZM569.6,676.2 L571.8,675.2 L573.1,673.3 L576.2,673.4 L576.4,675.9 L575.2,677.3 L575.0,679.9 L571.9,680.4 L570.8,677.9ZM573.0,679.9 L574.3,678.6 L576.3,679.1 L577.8,679.3 L578.9,680.2 L577.5,681.0 L576.7,681.6 L575.1,682.3 L575.0,680.9ZM587.8,701.9 L586.8,702.8 L584.1,703.0 L584.7,701.1 L585.7,700.3 L587.0,699.8 L589.1,699.9 L588.8,701.3ZM587.3,699.9 L588.4,700.5 L588.7,701.4 L588.1,702.2 L586.9,702.2 L586.8,701.0ZM542.2,694.6 L538.5,697.7 L533.8,698.0 L530.8,694.3 L534.1,690.8 L539.6,690.2ZM539.6,693.4 L537.3,692.9 L535.0,692.6 L535.2,690.2 L537.8,690.4 L539.2,691.4ZM538.2,741.8 L539.3,743.5 L536.9,744.9 L534.1,743.9 L535.2,741.9 L535.1,739.8 L538.1,739.7ZM537.7,741.8 L538.1,740.1 L538.6,738.8 L540.0,739.5 L540.3,740.6 L539.5,741.5ZM558.6,699.6 L559.9,700.5 L560.0,702.3 L559.9,704.2 L558.3,703.4 L557.3,703.9 L557.0,702.7 L555.9,701.1 L557.3,700.2ZM559.8,702.5 L558.4,702.5 L556.7,702.6 L556.7,700.9 L557.2,699.6 L558.5,699.8 L560.2,699.5 L559.8,701.1ZM607.4,727.5 L605.8,728.4 L604.6,729.3 L602.9,728.9 L603.0,727.2 L602.8,725.9 L604.0,725.2 L605.9,723.4 L606.7,725.8ZM535.3,727.0 L534.9,728.0 L533.5,728.6 L531.4,728.5 L531.0,727.0 L531.8,725.8 L533.2,725.7 L534.3,725.4 L536.7,725.5ZM533.2,728.0 L534.2,729.0 L533.2,730.2 L531.3,729.6 L530.7,729.1 L529.3,728.3 L530.9,727.9 L532.2,727.0ZM535.9,743.7 L534.2,743.9 L532.4,743.3 L532.6,741.7 L533.3,740.3 L535.4,739.3 L536.6,741.1 L538.0,742.7ZM549.4,704.3 L547.3,704.1 L546.1,702.6 L546.3,700.6 L548.8,699.3 L552.0,699.3 L554.0,701.2 L553.7,703.3 L551.9,704.8ZM549.3,698.3 L551.0,698.6 L552.3,700.3 L551.8,703.5 L549.2,703.3 L547.9,700.6ZM550.4,701.4 L552.1,703.7 L551.1,706.2 L548.2,705.9 L545.7,705.6 L544.8,703.1 L547.0,700.8ZM584.7,733.3 L583.2,735.3 L581.1,737.1 L577.1,736.4 L576.2,733.1 L579.6,731.7 L583.2,730.4ZM585.3,734.6 L585.9,736.1 L585.6,737.4 L584.3,738.4 L582.8,737.8 L581.7,736.8 L580.3,734.3 L583.1,733.0ZM573.6,733.5 L577.2,732.3 L581.1,732.6 L580.1,735.0 L581.2,737.7 L577.1,737.2 L574.9,735.8ZM604.6,728.3 L605.3,730.9 L604.2,734.4 L599.7,733.4 L600.7,730.2 L600.9,726.4ZM602.2,730.0 L603.2,731.3 L602.6,732.3 L600.8,733.4 L598.1,732.2 L599.4,730.3ZM574.0,677.0 L575.6,676.4 L577.9,677.1 L576.9,678.7 L575.5,680.2 L573.6,679.1 L573.1,677.9ZM575.0,674.0 L575.8,675.7 L577.2,676.7 L575.5,677.1 L574.3,677.9 L573.5,676.6 L573.5,675.2ZM577.4,677.2 L576.2,677.2 L575.4,677.3 L575.2,676.7 L575.3,676.1 L576.3,675.9 L576.6,676.5ZM538.4,707.5 L540.1,706.0 L543.7,706.2 L545.2,708.8 L543.1,711.4 L538.8,711.8 L537.3,709.2ZM581.5,727.0 L579.7,726.0 L578.7,723.1 L582.0,723.5 L584.1,722.1 L586.0,724.1 L584.4,726.2 L583.6,728.9ZM554.9,699.4 L552.3,699.5 L552.8,696.6 L554.4,695.3 L556.0,694.5 L557.2,695.9 L558.2,697.7 L557.9,700.2 L556.3,702.2ZM554.7,697.2 L555.1,695.9 L556.8,695.3 L558.8,695.7 L558.8,697.2 L557.8,698.0 L556.9,698.7 L555.7,698.1ZM603.7,736.2 L603.0,734.3 L604.4,732.2 L607.4,732.5 L609.0,733.9 L609.5,735.5 L608.3,737.0 L605.7,737.8ZM604.9,736.3 L605.5,736.3 L606.7,735.5 L606.6,737.1 L606.7,738.6 L605.6,738.7 L604.8,738.2 L604.6,737.2ZM605.4,734.1 L607.0,734.3 L606.7,736.1 L606.9,738.6 L604.6,738.3 L603.7,736.4 L603.6,734.3ZM544.7,743.2 L547.9,745.4 L546.1,748.2 L543.9,748.2 L541.9,747.5 L541.4,744.8ZM543.8,752.1 L542.4,749.9 L542.4,747.6 L545.2,748.4 L547.8,748.8 L546.9,751.0ZM545.3,750.1 L543.4,748.9 L544.8,747.3 L546.2,746.3 L548.4,746.7 L548.8,748.8 L547.2,750.1ZM565.7,718.2 L567.8,717.8 L568.7,716.9 L569.4,717.9 L571.1,718.7 L570.3,720.3 L569.2,721.5 L567.5,721.5 L567.1,719.8ZM567.3,720.1 L566.5,719.8 L566.0,718.9 L566.5,718.0 L567.0,717.2 L567.8,717.9 L568.1,718.4 L568.9,719.2 L568.5,720.4ZM590.1,683.1 L589.2,684.9 L586.9,684.1 L585.4,682.9 L586.5,681.6 L588.1,681.1 L590.1,679.9 L590.5,681.7 L593.2,682.7ZM588.5,679.8 L589.8,680.6 L589.8,682.8 L587.5,683.2 L585.7,682.0 L585.1,679.8 L587.4,679.8ZM559.0,677.6 L559.8,674.6 L561.4,677.1 L563.2,677.6 L563.7,680.4 L562.2,682.2 L560.4,683.9 L558.4,682.4 L558.0,679.6ZM562.8,684.0 L561.0,683.6 L559.1,684.5 L558.0,682.7 L558.9,680.8 L559.8,679.2 L561.2,680.7 L562.2,681.0 L563.5,682.2ZM557.7,675.8 L559.3,676.3 L561.6,675.8 L561.4,677.4 L560.4,678.2 L559.6,679.7 L557.9,678.8 L556.2,678.1 L555.7,676.5ZM551.7,733.3 L554.8,732.5 L556.6,730.1 L559.4,731.4 L561.7,733.9 L558.6,735.9 L557.0,736.9 L554.7,737.4 L554.0,735.4ZM557.4,738.8 L555.4,736.3 L552.9,734.0 L557.1,733.3 L560.8,734.0 L559.8,736.4ZM561.7,730.5 L561.0,731.1 L561.1,732.2 L559.6,731.7 L558.1,731.6 L557.1,730.7 L558.8,730.2 L559.8,730.1 L560.9,729.9ZM530.5,686.2 L528.7,683.9 L530.2,681.7 L530.4,677.3 L534.1,678.8 L535.9,681.4 L536.7,684.9 L533.2,685.9ZM534.6,682.5 L535.4,684.7 L533.3,684.7 L531.7,684.3 L532.2,682.6 L532.4,680.8 L533.9,681.4ZM534.5,684.2 L536.4,686.1 L534.9,688.6 L532.5,687.5 L530.6,686.7 L531.3,684.7 L532.5,681.8ZM534.1,686.6 L534.8,686.8 L535.0,687.5 L535.1,689.1 L533.5,689.0 L532.4,687.9 L533.4,686.9ZM588.5,704.1 L588.1,706.1 L587.6,707.9 L586.2,707.4 L585.4,706.6 L585.3,705.3 L584.8,703.4 L585.9,701.6 L587.3,703.1ZM589.8,707.2 L587.6,708.1 L586.8,706.1 L587.5,704.3 L589.5,704.4 L591.1,705.7ZM523.3,679.9 L527.1,681.3 L523.9,683.5 L520.4,685.6 L518.6,682.0 L521.1,680.2ZM521.9,681.4 L523.8,681.9 L524.8,683.2 L523.9,684.6 L521.6,684.7 L520.2,684.1 L518.5,683.6 L518.7,682.5 L520.1,681.8ZM527.7,683.4 L527.2,685.2 L525.4,687.1 L523.3,685.6 L520.4,684.3 L523.4,682.4 L523.4,679.6 L526.1,679.6 L527.2,681.7ZM547.9,675.3 L551.0,674.2 L553.1,675.5 L555.6,677.0 L554.3,679.9 L549.9,680.7 L546.2,678.4ZM556.0,677.0 L554.4,676.3 L553.8,675.8 L553.4,674.8 L554.5,673.6 L556.0,674.5 L556.7,675.6ZM549.5,733.6 L549.0,732.1 L551.3,731.0 L553.0,732.4 L553.8,733.9 L552.3,735.2 L549.5,735.8ZM549.2,733.6 L548.5,732.8 L548.5,731.7 L549.1,730.0 L550.3,731.4 L552.4,731.6 L551.2,733.3 L550.4,735.0ZM551.0,734.3 L551.5,733.3 L552.3,734.0 L553.1,734.5 L552.6,735.4 L552.7,736.8 L551.6,737.3 L550.8,736.2 L550.1,735.2Z" fill="#53255f" stroke="#53255f" stroke-width="0.6" stroke-linejoin="round"/>
</g>
<path d="M545.1,718.6h1.0v1.0h-1.0zM581.2,712.5h1.2v1.2h-1.2zM570.0,729.3h1.5v1.5h-1.5zM540.1,709.1h1.5v1.5h-1.5zM571.8,685.7h1.0v1.0h-1.0zM557.4,734.0h1.5v1.5h-1.5zM581.0,709.7h1.2v1.2h-1.2zM564.3,716.4h1.5v1.5h-1.5zM598.6,730.0h1.5v1.5h-1.5zM590.9,696.4h1.5v1.5h-1.5zM557.8,743.7h1.5v1.5h-1.5zM571.5,676.0h1.2v1.2h-1.2zM524.5,687.3h1.5v1.5h-1.5zM557.9,723.4h1.5v1.5h-1.5zM610.9,729.9h1.0v1.0h-1.0zM537.1,683.1h1.2v1.2h-1.2zM548.6,720.0h1.0v1.0h-1.0zM555.4,709.1h1.5v1.5h-1.5zM539.3,677.1h1.0v1.0h-1.0zM521.3,684.0h1.0v1.0h-1.0zM598.6,701.3h1.0v1.0h-1.0zM581.8,727.7h1.2v1.2h-1.2zM547.0,732.6h1.5v1.5h-1.5zM547.4,712.6h1.5v1.5h-1.5zM559.0,733.4h1.0v1.0h-1.0zM577.4,690.0h1.0v1.0h-1.0zM557.2,704.8h1.2v1.2h-1.2zM534.6,723.6h1.2v1.2h-1.2zM528.0,705.2h1.5v1.5h-1.5zM600.2,721.1h1.0v1.0h-1.0zM590.8,713.9h1.0v1.0h-1.0zM583.2,710.8h1.5v1.5h-1.5zM528.4,682.9h1.0v1.0h-1.0zM559.6,684.6h1.5v1.5h-1.5zM522.8,744.4h1.0v1.0h-1.0zM565.8,737.1h1.5v1.5h-1.5zM572.2,697.6h1.2v1.2h-1.2zM519.4,726.3h1.0v1.0h-1.0zM573.9,690.5h1.0v1.0h-1.0zM521.9,728.8h1.0v1.0h-1.0zM608.9,727.3h1.0v1.0h-1.0zM525.5,724.2h1.0v1.0h-1.0zM530.5,689.4h1.0v1.0h-1.0zM601.3,693.0h1.0v1.0h-1.0zM601.3,708.8h1.5v1.5h-1.5zM578.4,724.7h1.0v1.0h-1.0zM542.0,712.4h1.2v1.2h-1.2zM612.1,697.1h1.5v1.5h-1.5zM559.3,722.7h1.0v1.0h-1.0zM609.3,737.5h1.2v1.2h-1.2zM556.6,706.2h1.2v1.2h-1.2zM543.3,695.5h1.0v1.0h-1.0zM595.3,736.4h1.2v1.2h-1.2zM526.8,701.7h1.2v1.2h-1.2zM529.5,725.8h1.2v1.2h-1.2zM578.9,705.1h1.5v1.5h-1.5zM535.5,681.4h1.5v1.5h-1.5zM598.8,716.4h1.5v1.5h-1.5zM561.1,681.7h1.0v1.0h-1.0zM563.2,724.0h1.5v1.5h-1.5zM564.1,732.6h1.5v1.5h-1.5zM546.1,679.4h1.2v1.2h-1.2zM537.7,708.3h1.5v1.5h-1.5zM568.6,722.6h1.2v1.2h-1.2zM572.7,740.2h1.0v1.0h-1.0zM533.8,703.0h1.0v1.0h-1.0zM605.5,727.0h1.5v1.5h-1.5zM549.4,730.5h1.5v1.5h-1.5zM605.6,727.0h1.2v1.2h-1.2zM575.4,732.4h1.0v1.0h-1.0z" fill="#33183f"/>
</g>
<clipPath id="cj3"><rect x="420.30" y="750.80" width="94.00" height="70.90"/></clipPath>
<radialGradient id="cj3g" cx="50%" cy="50%" r="75%"><stop offset="0" stop-color="#bb854e"/><stop offset="1" stop-color="#a9773f"/></radialGradient>
<filter id="cj3f" x="-5%" y="-5%" width="110%" height="110%"><feGaussianBlur stdDeviation="0.6"/></filter>
<g clip-path="url(#cj3)">
<rect x="420.30" y="750.80" width="94.00" height="70.90" fill="url(#cj3g)"/>
<g filter="url(#cj3f)">
<path d="M429.6,806.5 L433.1,809.0 L432.4,813.5 L428.2,813.6 L426.7,811.3 L424.9,807.2ZM465.5,781.6 L467.0,784.7 L463.1,786.2 L458.8,785.1 L457.3,780.4 L462.9,779.3ZM499.1,782.9 L496.5,786.4 L494.4,789.3 L488.5,788.5 L491.8,784.6 L493.9,782.3ZM424.1,809.6 L425.7,811.2 L424.4,813.4 L421.2,813.4 L420.1,811.5 L420.6,810.0 L421.9,807.3ZM492.0,774.8 L495.2,778.0 L497.8,781.9 L493.0,782.0 L488.8,782.7 L490.1,778.8ZM441.5,789.6 L442.9,788.3 L445.4,787.7 L446.4,789.8 L447.9,791.7 L446.1,793.5 L443.6,794.7 L441.5,793.2 L441.1,791.2ZM444.4,792.6 L445.6,794.0 L443.4,794.4 L441.3,794.3 L441.1,792.8 L441.5,791.3 L443.4,792.1ZM465.4,784.0 L467.2,786.5 L463.4,786.4 L461.4,786.5 L459.8,785.3 L458.8,783.0 L461.8,782.2 L464.5,782.0ZM468.8,787.1 L466.4,789.0 L463.7,788.8 L462.9,786.7 L463.6,784.0 L466.7,784.9ZM424.8,782.2 L424.2,784.4 L421.9,786.2 L419.3,784.6 L416.5,782.5 L418.7,779.4 L424.1,777.9ZM425.2,783.0 L423.7,785.0 L420.1,785.3 L418.5,783.1 L417.0,781.1 L419.6,779.7 L422.1,778.0 L423.9,780.3 L424.1,781.5ZM451.3,813.0 L452.9,813.5 L453.7,814.9 L455.3,818.0 L452.0,818.5 L449.6,817.9 L446.7,815.8 L448.9,813.1ZM500.4,755.9 L498.4,754.2 L500.2,751.6 L502.0,753.2 L503.1,754.8 L502.5,757.9ZM498.8,755.6 L497.8,753.8 L501.1,753.0 L502.2,754.6 L502.4,755.7 L500.5,757.2ZM458.6,762.2 L461.7,761.7 L463.6,764.4 L461.6,766.7 L459.6,766.2 L458.3,764.8ZM495.3,766.8 L497.1,767.4 L497.3,769.6 L495.8,771.8 L493.7,770.0 L491.5,769.3 L491.9,766.9 L494.1,766.8ZM458.8,792.7 L457.3,790.6 L458.9,788.7 L461.0,788.5 L463.1,790.7 L461.9,794.6ZM486.4,795.9 L489.5,794.5 L493.4,793.7 L493.9,797.8 L490.6,798.7 L486.7,800.3ZM420.8,808.7 L424.2,811.2 L426.7,814.4 L422.4,816.7 L418.4,815.0 L419.4,812.2ZM509.9,784.8 L509.5,782.6 L511.6,782.1 L513.0,782.6 L514.2,783.7 L513.0,784.9 L511.7,785.4ZM455.1,822.9 L452.5,822.4 L450.9,820.6 L451.6,817.5 L455.1,818.2 L458.0,820.5ZM457.5,821.1 L457.6,822.9 L458.7,824.1 L457.7,825.6 L455.6,826.4 L454.2,824.9 L454.2,823.4 L453.7,821.6 L455.5,820.4ZM453.4,781.8 L453.6,779.2 L452.4,776.4 L456.5,777.0 L458.0,778.2 L458.4,779.6 L457.6,782.0ZM465.1,751.1 L465.9,749.7 L468.9,749.7 L469.5,751.3 L468.5,752.4 L466.4,753.6 L462.9,752.8ZM511.2,758.2 L509.5,760.1 L508.6,757.9 L508.4,756.8 L509.3,756.0 L510.8,754.5 L512.9,755.6 L513.5,757.5ZM490.3,777.7 L487.7,776.1 L489.0,773.0 L491.7,770.8 L494.0,773.3 L496.5,775.7 L494.0,778.1 L492.0,778.6ZM457.0,775.7 L455.6,776.4 L454.2,777.1 L453.9,775.5 L453.3,774.8 L453.4,773.7 L454.5,772.8 L456.4,772.7 L456.6,774.4ZM508.0,753.2 L506.7,755.8 L505.5,757.1 L504.1,755.9 L504.0,753.8 L505.6,752.3ZM503.2,757.3 L502.9,756.2 L503.1,755.1 L504.4,755.1 L505.2,755.5 L506.0,756.1 L505.7,757.1 L504.5,757.1ZM453.9,786.5 L452.6,784.6 L450.8,783.0 L452.0,780.9 L453.8,780.3 L456.0,780.4 L457.7,783.0 L456.5,786.1ZM510.5,773.1 L508.6,773.6 L507.2,775.2 L506.1,773.5 L505.6,772.6 L506.0,771.8 L506.5,769.9 L508.3,771.3 L508.9,772.0ZM447.4,766.4 L444.0,766.3 L443.1,762.1 L445.1,759.3 L447.5,756.9 L449.8,759.4 L450.3,762.3 L450.5,766.1ZM435.3,788.3 L434.1,786.6 L435.0,783.7 L439.2,784.5 L441.9,785.8 L442.2,787.9 L443.0,790.9 L438.8,791.9 L435.6,790.3ZM438.4,789.8 L436.0,790.6 L434.3,789.0 L434.2,787.0 L436.4,785.9 L438.4,786.8 L440.3,788.3ZM497.4,758.4 L496.3,756.0 L497.5,753.7 L499.3,753.4 L500.3,754.5 L501.6,755.7 L501.6,758.3 L499.5,759.3Z" fill="#7a4874" fill-opacity="0.75"/>
<path d="M431.2,812.2 L428.5,813.4 L426.4,811.5 L426.6,808.9 L429.0,808.8 L432.5,809.0ZM463.6,780.6 L464.4,782.1 L466.6,782.9 L465.4,784.2 L463.3,784.1 L461.5,784.8 L461.5,783.3 L460.7,782.4 L461.9,781.7ZM497.7,783.9 L497.5,786.6 L495.0,787.8 L491.6,788.4 L491.2,785.6 L491.0,782.7 L494.7,783.0ZM424.0,810.4 L424.6,811.6 L423.5,813.0 L421.3,812.7 L421.0,811.3 L419.4,810.0 L421.4,809.1 L423.2,809.4ZM493.8,781.7 L491.4,782.0 L490.3,780.3 L490.7,778.6 L492.7,778.5 L495.1,778.2 L494.0,780.1ZM445.8,793.3 L443.0,793.4 L442.0,791.7 L441.6,790.5 L441.9,788.7 L444.5,789.0 L445.7,790.2 L446.7,791.4ZM441.7,793.6 L440.8,792.5 L442.3,792.0 L443.1,791.8 L444.1,792.0 L443.9,792.8 L444.5,793.7 L443.6,794.3 L442.6,794.0ZM460.5,784.5 L461.3,782.1 L463.0,783.0 L464.7,783.5 L463.7,785.4 L462.9,786.6 L461.3,786.7ZM465.5,788.6 L464.3,788.1 L464.6,786.8 L464.4,785.6 L465.6,785.2 L466.5,786.2 L465.7,787.2ZM423.6,784.4 L421.5,786.0 L420.0,783.9 L419.6,781.7 L421.5,779.6 L423.1,782.0ZM424.0,782.8 L423.0,784.3 L421.8,783.2 L420.4,783.3 L419.3,781.5 L421.2,780.7 L421.8,779.5 L423.0,779.9 L424.0,781.0ZM454.2,817.6 L452.2,818.6 L450.0,818.6 L448.3,816.7 L449.1,814.1 L449.8,811.5 L452.2,811.0 L453.9,812.7 L454.3,815.1ZM499.5,756.2 L499.9,754.5 L499.8,753.2 L501.0,752.9 L501.9,753.3 L503.1,753.8 L502.3,755.0 L502.1,756.3 L500.8,757.1ZM502.7,754.3 L502.7,755.2 L501.7,755.6 L500.9,756.0 L499.2,756.3 L498.9,755.3 L499.7,754.7 L499.9,753.8 L501.4,753.9ZM460.6,763.9 L461.4,764.2 L461.7,764.7 L462.2,765.8 L460.5,766.1 L459.5,765.4 L458.2,765.0 L458.3,764.1 L459.1,763.1ZM492.9,768.3 L493.7,767.5 L494.5,766.0 L495.8,767.0 L496.6,768.1 L495.4,768.9 L494.7,770.8 L493.7,769.2ZM459.8,787.6 L460.6,789.5 L461.7,790.2 L461.2,791.5 L460.8,793.3 L459.4,792.4 L458.0,792.1 L458.1,790.4 L458.4,788.7ZM489.7,794.7 L491.6,795.9 L491.6,797.4 L490.4,798.4 L488.7,797.8 L487.2,795.9ZM424.4,814.6 L422.2,815.5 L420.1,814.9 L420.3,813.1 L420.5,812.1 L421.1,810.3 L423.2,810.9 L425.4,812.3ZM510.4,784.0 L511.6,783.0 L512.6,782.2 L513.2,783.6 L512.6,784.7 L511.3,785.7ZM452.7,822.8 L451.8,821.4 L449.6,820.2 L451.4,818.9 L453.4,818.1 L456.2,818.0 L455.8,820.2 L455.6,821.3 L454.8,822.5ZM456.3,821.0 L457.2,822.6 L458.2,824.0 L457.0,825.6 L455.6,824.6 L454.7,823.7 L454.8,822.0ZM457.1,779.8 L456.2,781.2 L454.3,780.6 L454.5,779.0 L454.6,777.7 L456.1,776.4 L457.8,777.5 L457.2,779.0ZM466.6,749.5 L469.0,749.8 L468.4,752.0 L467.3,753.7 L465.9,752.2 L464.8,750.6ZM512.2,757.4 L511.2,758.7 L509.3,758.8 L508.5,757.5 L509.3,756.5 L510.1,755.5 L511.1,756.3ZM495.9,775.9 L493.1,777.3 L491.4,777.5 L489.8,776.8 L488.9,774.5 L491.2,772.9 L493.8,773.8ZM454.9,773.4 L457.2,773.9 L457.3,776.1 L454.7,776.2 L453.4,775.4 L452.2,773.6ZM504.5,754.2 L505.2,753.0 L506.7,753.4 L508.2,754.5 L507.2,756.1 L506.0,757.6 L504.4,756.4 L503.0,755.3ZM505.5,755.7 L506.2,757.0 L504.4,757.4 L503.3,756.6 L503.0,755.4 L504.5,755.1ZM456.4,784.1 L454.1,786.7 L451.7,784.3 L450.4,781.4 L453.6,779.5 L455.2,782.2ZM506.0,771.1 L508.1,770.2 L509.4,772.0 L508.8,773.8 L506.9,774.8 L505.3,773.1ZM446.3,760.4 L448.1,760.3 L449.6,761.1 L451.5,762.5 L449.5,763.8 L447.7,764.2 L445.3,764.5 L444.0,762.9 L446.1,761.7ZM439.4,790.3 L437.0,790.1 L436.5,788.2 L436.4,786.5 L438.0,785.5 L439.5,786.5 L439.6,788.0ZM434.9,788.6 L435.9,787.5 L437.3,786.9 L438.8,787.7 L438.3,789.0 L436.6,789.2ZM499.4,754.6 L500.4,754.5 L501.1,755.5 L500.5,756.5 L499.9,757.3 L498.9,757.1 L498.3,756.5 L497.7,755.5 L498.3,754.4Z" fill="#4b1b58" stroke="#4b1b58" stroke-width="0.6" stroke-linejoin="round"/>
</g>
<path d="M436.5,809.7h1.0v1.0h-1.0zM506.3,789.2h1.0v1.0h-1.0zM457.9,759.4h1.2v1.2h-1.2zM423.7,799.4h1.2v1.2h-1.2zM422.5,769.6h1.5v1.5h-1.5zM438.0,752.5h1.0v1.0h-1.0zM443.4,806.0h1.2v1.2h-1.2zM490.6,772.0h1.5v1.5h-1.5zM461.0,756.9h1.5v1.5h-1.5zM470.6,793.5h1.2v1.2h-1.2zM473.8,786.3h1.2v1.2h-1.2zM497.2,797.4h1.5v1.5h-1.5zM494.5,761.7h1.5v1.5h-1.5zM464.5,766.6h1.2v1.2h-1.2zM471.1,783.5h1.5v1.5h-1.5zM474.4,804.9h1.5v1.5h-1.5zM442.7,820.3h1.2v1.2h-1.2zM487.8,778.8h1.2v1.2h-1.2zM428.1,808.9h1.2v1.2h-1.2zM509.3,800.4h1.5v1.5h-1.5zM473.6,775.0h1.0v1.0h-1.0zM463.0,799.0h1.0v1.0h-1.0zM496.0,803.9h1.5v1.5h-1.5zM462.9,781.8h1.2v1.2h-1.2zM478.7,789.3h1.2v1.2h-1.2zM466.9,777.8h1.5v1.5h-1.5zM470.8,770.9h1.0v1.0h-1.0zM436.3,804.2h1.2v1.2h-1.2zM458.6,767.3h1.0v1.0h-1.0zM468.9,793.4h1.2v1.2h-1.2zM493.4,785.3h1.2v1.2h-1.2zM507.2,801.2h1.0v1.0h-1.0zM454.8,774.1h1.5v1.5h-1.5zM493.9,814.3h1.0v1.0h-1.0zM424.5,816.9h1.5v1.5h-1.5zM423.8,766.8h1.2v1.2h-1.2zM475.0,794.7h1.2v1.2h-1.2zM433.2,755.9h1.5v1.5h-1.5zM496.0,796.8h1.0v1.0h-1.0zM474.1,769.7h1.2v1.2h-1.2zM424.1,771.7h1.2v1.2h-1.2zM439.8,800.5h1.0v1.0h-1.0zM477.7,752.7h1.5v1.5h-1.5zM485.3,765.5h1.0v1.0h-1.0zM451.2,762.6h1.5v1.5h-1.5z" fill="#33183f"/>
</g>
<clipPath id="cj4"><rect x="519.10" y="750.80" width="94.00" height="70.90"/></clipPath>
<radialGradient id="cj4g" cx="50%" cy="50%" r="75%"><stop offset="0" stop-color="#bb854e"/><stop offset="1" stop-color="#a9773f"/></radialGradient>
<filter id="cj4f" x="-5%" y="-5%" width="110%" height="110%"><feGaussianBlur stdDeviation="0.7"/></filter>
<g clip-path="url(#cj4)">
<rect x="519.10" y="750.80" width="94.00" height="70.90" fill="url(#cj4g)"/>
<g filter="url(#cj4f)">
<path d="M553.8,757.2 L551.7,753.5 L555.7,754.4 L557.3,754.5 L560.5,754.6 L562.0,758.3 L559.5,761.4 L556.1,762.4 L554.6,758.9ZM593.2,794.6 L591.7,791.8 L593.9,789.7 L596.8,786.8 L598.5,790.9 L598.1,793.7 L598.9,796.9 L596.4,798.9 L592.6,799.7ZM607.0,784.5 L610.7,784.9 L612.4,787.6 L613.9,790.9 L609.7,791.8 L606.6,794.0 L602.6,792.4 L602.2,788.8 L604.7,786.6ZM611.3,788.8 L608.4,789.7 L606.0,787.7 L608.0,785.6 L608.9,783.3 L612.0,783.5 L614.6,785.2 L612.6,787.3ZM603.2,790.0 L605.1,788.7 L607.0,789.9 L608.7,790.8 L608.0,792.5 L606.4,793.7 L604.5,793.1 L603.0,791.9ZM571.3,803.8 L568.7,804.0 L566.7,803.4 L566.8,801.3 L566.3,798.8 L568.6,799.5 L571.1,798.2 L571.4,801.1ZM567.6,804.1 L565.6,803.1 L563.3,802.1 L564.6,800.6 L567.1,799.7 L570.3,799.9 L570.5,801.8 L570.0,803.3ZM547.7,824.0 L543.8,825.7 L544.2,821.8 L543.1,819.3 L545.1,816.8 L548.4,817.6 L549.6,819.6 L550.1,821.2 L550.9,824.1ZM547.1,819.6 L547.5,817.2 L550.2,818.4 L553.0,818.4 L552.9,820.7 L550.8,821.7 L549.2,822.0 L547.5,821.3ZM547.9,820.9 L550.9,821.1 L553.0,823.0 L552.5,825.6 L550.0,827.0 L547.5,826.4 L545.8,824.8 L546.0,822.7ZM578.2,810.8 L578.0,812.8 L575.6,814.4 L573.5,812.4 L572.5,809.9 L575.0,808.4 L577.4,809.0ZM576.8,814.4 L576.2,813.2 L576.5,811.5 L578.3,810.0 L580.1,811.9 L579.6,814.3 L578.0,814.7ZM575.8,812.8 L572.7,812.2 L574.0,809.5 L574.0,807.6 L576.1,807.2 L578.5,806.7 L578.9,808.8 L578.7,810.2 L577.6,811.2ZM548.2,810.9 L552.4,808.7 L556.8,810.7 L556.6,814.7 L552.4,817.3 L546.8,815.3ZM552.7,812.8 L554.8,813.9 L555.6,816.1 L555.1,819.2 L552.4,817.8 L550.8,816.6 L551.3,814.6ZM552.3,811.1 L551.3,813.3 L549.1,814.6 L547.6,812.5 L547.1,809.9 L549.1,808.6 L550.5,810.0ZM561.9,816.5 L559.5,814.9 L560.7,811.8 L565.3,812.5 L568.2,815.0 L565.2,817.5ZM567.6,809.6 L569.3,812.3 L567.4,814.8 L564.8,816.3 L561.8,815.3 L562.3,812.6 L561.4,809.8 L564.5,810.3ZM537.5,800.3 L542.1,801.5 L538.5,803.7 L534.0,805.1 L531.3,802.1 L533.1,798.9ZM579.8,819.5 L576.2,818.0 L576.8,814.4 L579.0,810.5 L584.4,811.3 L584.0,815.8 L585.3,820.9ZM534.5,805.9 L535.4,810.2 L534.0,813.8 L531.4,813.9 L529.4,814.3 L528.5,811.8 L526.3,808.5 L529.6,807.7 L531.4,804.5ZM527.1,815.8 L525.2,816.2 L524.8,814.5 L525.2,813.1 L526.1,811.7 L527.8,812.4 L528.8,813.2 L531.5,814.7 L529.7,816.7ZM527.8,808.2 L529.0,809.9 L528.3,811.4 L527.5,812.4 L525.1,813.4 L525.7,810.7 L525.9,809.0ZM524.8,761.0 L528.3,759.3 L531.9,759.8 L533.8,763.9 L529.4,764.8 L526.5,764.3ZM533.7,761.3 L532.3,762.4 L530.9,762.8 L530.3,761.5 L530.4,760.5 L530.3,759.0 L531.7,758.9 L532.7,759.8ZM526.9,766.3 L524.9,767.1 L523.2,764.8 L525.0,762.9 L527.4,762.5 L527.6,764.9ZM549.7,769.4 L550.5,768.0 L552.6,766.4 L555.3,767.6 L557.9,769.4 L555.4,771.2 L552.7,771.5 L548.2,772.4ZM521.8,763.9 L518.3,761.8 L514.0,760.5 L515.0,756.4 L520.0,756.6 L522.3,758.4 L523.4,760.6ZM519.8,754.9 L521.8,758.2 L517.7,760.4 L514.1,758.7 L513.4,755.9 L516.4,754.9ZM580.5,801.6 L579.3,797.8 L582.4,795.0 L585.5,797.2 L585.8,800.4 L585.2,803.6 L582.0,805.3ZM583.0,800.0 L582.3,801.5 L580.7,802.3 L577.9,802.8 L577.1,800.4 L577.9,798.2 L580.4,798.5 L582.1,798.6ZM587.4,795.3 L587.5,797.5 L587.4,799.6 L584.8,799.7 L583.3,798.8 L582.4,798.1 L580.5,796.4 L582.9,795.6 L584.8,794.7ZM583.4,795.1 L585.5,797.3 L587.0,799.4 L585.0,800.7 L583.0,801.9 L581.9,799.8 L582.6,798.2ZM584.6,796.0 L585.7,795.6 L588.0,795.3 L587.2,797.4 L586.4,798.8 L584.7,798.8 L583.4,797.4ZM599.6,767.9 L595.5,770.4 L592.5,768.9 L591.2,766.6 L592.8,763.6 L596.4,764.6ZM592.1,763.0 L596.2,763.0 L595.1,766.6 L594.0,768.0 L592.5,770.3 L590.6,768.3 L589.5,766.8 L589.1,764.2ZM556.2,793.7 L553.4,791.9 L553.2,786.5 L559.0,785.1 L561.4,790.3 L560.3,795.1ZM556.9,789.3 L556.6,791.4 L555.0,792.0 L553.8,792.5 L552.1,791.9 L552.0,790.1 L553.6,789.6 L555.1,788.2ZM554.3,786.5 L556.4,788.0 L558.4,787.9 L558.4,789.5 L557.9,790.9 L556.2,790.8 L555.2,790.5 L554.5,789.7 L553.8,788.5ZM565.9,783.1 L567.6,779.8 L566.3,776.6 L570.0,777.0 L573.1,776.3 L574.3,778.8 L574.5,781.4 L572.6,783.5 L569.3,784.8ZM567.2,756.3 L562.8,751.3 L568.9,748.9 L572.4,748.1 L575.7,750.7 L573.2,754.1ZM570.5,752.6 L567.3,751.4 L568.0,747.8 L571.5,747.4 L575.5,748.7 L573.1,752.0ZM573.4,753.2 L569.8,754.1 L568.1,751.0 L569.5,748.7 L572.0,747.5 L575.3,749.5ZM537.1,782.1 L534.6,780.8 L533.8,778.9 L534.4,776.8 L536.4,776.2 L537.2,778.7ZM536.5,778.3 L535.0,778.4 L533.7,777.9 L534.3,777.0 L533.7,775.3 L535.9,775.8 L537.5,776.3 L536.6,777.4ZM532.8,777.5 L533.6,776.5 L534.6,776.8 L535.6,777.0 L536.2,778.3 L535.6,780.1 L534.0,779.4 L532.5,779.1ZM583.5,796.5 L588.3,799.6 L586.9,803.4 L585.4,805.6 L580.8,808.0 L580.0,803.6 L579.5,800.3ZM582.8,801.4 L585.2,801.0 L587.0,802.6 L586.2,804.7 L583.7,805.4 L581.7,804.3 L581.7,802.7ZM532.1,760.3 L534.6,764.9 L528.3,766.4 L524.5,765.2 L519.8,762.0 L526.1,760.5ZM586.3,796.4 L591.3,799.0 L588.0,803.3 L582.3,803.4 L580.0,799.8 L581.0,795.4ZM581.1,801.5 L582.5,800.4 L584.9,800.5 L585.5,803.1 L585.1,806.4 L582.1,805.1 L580.7,804.4 L580.1,802.7ZM538.1,808.5 L542.6,807.9 L543.1,813.0 L543.4,818.4 L538.2,820.4 L536.8,814.8 L535.6,811.5ZM540.1,810.4 L541.2,808.7 L542.3,810.2 L543.2,811.8 L541.7,812.8 L541.3,814.4 L539.5,815.1 L538.4,813.2 L539.7,811.4ZM537.1,819.5 L535.0,817.2 L531.5,816.1 L533.4,813.4 L536.1,812.9 L539.3,812.0 L541.6,814.7 L539.2,817.3ZM570.5,764.7 L573.3,763.5 L575.3,765.1 L576.3,766.5 L575.4,767.8 L574.5,770.3 L571.7,769.3 L569.1,767.4ZM576.3,753.7 L577.6,756.3 L578.1,760.1 L571.9,759.4 L569.8,756.7 L570.3,752.9ZM580.2,795.2 L578.5,793.5 L577.9,792.4 L577.3,790.9 L578.6,789.9 L580.8,788.2 L582.0,790.5 L583.4,792.1 L582.1,793.9ZM583.0,793.7 L579.3,794.2 L577.9,791.6 L578.1,788.7 L581.2,788.6 L582.5,790.6ZM579.5,793.9 L580.4,791.7 L582.0,791.4 L583.2,792.1 L584.4,793.8 L583.0,795.6 L581.4,794.6ZM533.1,816.0 L530.3,814.4 L530.5,811.1 L533.8,809.2 L536.9,811.1 L541.3,811.2 L541.6,814.8 L538.6,817.0 L535.5,817.6ZM533.2,810.7 L535.5,809.7 L536.7,811.7 L537.5,814.3 L534.8,815.4 L533.4,813.4 L532.0,812.2ZM583.3,782.3 L584.9,785.0 L581.0,785.2 L577.4,785.6 L574.6,783.2 L577.9,781.2 L579.7,778.8 L583.2,779.9ZM608.8,806.2 L607.9,810.7 L604.1,812.4 L600.1,812.2 L600.4,807.7 L599.9,804.4 L602.5,801.1 L605.4,804.0ZM611.2,781.6 L612.5,779.9 L615.7,778.4 L616.9,782.4 L616.5,786.3 L613.5,787.8 L611.4,785.7 L609.8,783.7ZM618.4,785.0 L615.5,786.1 L613.2,784.3 L610.6,781.2 L614.8,780.1 L618.5,779.1 L620.4,782.3ZM617.5,782.6 L615.4,783.9 L613.2,782.9 L612.1,780.9 L614.7,779.9 L616.3,781.0ZM567.4,808.0 L565.6,807.2 L566.7,805.6 L567.9,803.8 L570.8,804.2 L569.8,806.8 L569.8,809.5ZM568.4,807.0 L567.9,808.5 L566.2,808.2 L566.1,806.6 L566.2,805.3 L567.5,805.7 L568.1,806.1ZM569.6,805.3 L570.9,806.4 L569.4,807.2 L568.4,807.5 L567.1,807.2 L566.8,805.7 L568.4,805.4ZM518.7,801.1 L521.1,801.1 L524.7,801.3 L522.6,803.9 L522.6,805.7 L520.4,807.9 L516.8,807.1 L517.1,804.2 L515.2,801.7ZM517.0,801.1 L519.1,801.3 L519.2,803.2 L519.6,805.8 L517.0,805.5 L515.5,803.3ZM517.5,805.6 L515.4,805.0 L515.1,802.4 L517.0,801.3 L518.8,799.7 L519.2,802.4 L519.4,803.6 L519.3,805.6ZM565.9,779.7 L566.1,784.5 L562.0,786.8 L558.9,783.9 L559.1,780.5 L560.6,778.7 L563.6,776.0ZM544.7,808.7 L546.8,807.9 L547.5,810.7 L547.2,812.4 L547.7,815.0 L545.9,814.0 L544.7,814.2 L543.1,813.0 L544.1,811.0ZM544.7,813.7 L543.7,814.4 L542.7,813.9 L542.2,812.9 L542.5,811.5 L544.1,811.2 L545.1,812.4ZM545.2,785.6 L547.8,787.2 L550.7,788.3 L550.6,791.5 L547.6,793.0 L544.7,792.3 L543.3,790.3 L544.5,788.5ZM568.7,812.7 L563.8,810.7 L561.6,810.0 L557.3,808.6 L560.5,806.6 L563.1,805.4 L565.5,806.5 L567.6,807.3 L567.9,809.0ZM565.4,808.6 L568.2,810.8 L565.2,812.3 L562.9,814.2 L558.9,814.0 L558.9,810.2 L560.1,807.8 L561.4,804.4 L564.4,806.7ZM559.0,807.5 L560.2,806.4 L561.9,805.8 L564.0,806.2 L564.6,807.9 L564.8,810.7 L561.3,811.1 L560.1,808.8ZM529.7,796.4 L531.1,797.1 L532.0,798.0 L532.3,799.3 L532.7,802.7 L529.6,800.6 L527.2,800.6 L526.3,798.5 L527.1,796.2ZM587.1,777.1 L585.0,776.4 L583.6,775.1 L583.8,772.8 L586.1,772.0 L589.6,772.1 L588.8,775.4ZM587.9,773.3 L589.8,773.7 L590.0,775.6 L588.7,776.5 L587.5,776.6 L586.6,776.2 L584.8,775.0 L585.7,773.0ZM555.0,764.1 L558.3,765.7 L561.9,768.4 L558.8,772.4 L554.8,770.9 L552.6,767.6ZM551.4,765.8 L551.5,762.1 L556.1,762.0 L560.4,761.6 L560.1,764.7 L558.0,766.1 L555.7,766.3ZM552.9,770.4 L548.1,768.9 L548.4,765.5 L552.1,763.1 L557.0,763.7 L561.6,765.2 L559.3,767.9 L557.3,769.9ZM523.6,818.4 L526.4,819.2 L526.9,821.2 L525.6,822.1 L524.0,822.3 L523.6,820.9ZM523.5,817.8 L526.8,818.6 L524.7,820.8 L521.7,821.2 L520.2,819.4 L520.7,817.2ZM523.9,820.4 L523.2,818.7 L525.1,818.3 L526.6,818.6 L528.3,819.4 L528.0,821.1 L526.6,821.9 L525.1,822.9 L523.3,822.1ZM529.2,812.8 L532.3,811.0 L536.9,811.5 L538.1,816.2 L536.3,820.1 L532.9,821.5 L529.8,820.8 L526.6,819.1 L524.9,814.7ZM600.5,754.9 L601.0,757.4 L599.3,759.4 L597.0,759.1 L593.9,759.5 L594.3,756.2 L595.2,754.2 L596.8,752.4 L599.6,752.0ZM595.6,752.1 L596.5,753.3 L596.5,755.9 L594.6,754.5 L593.6,753.6 L593.8,751.5ZM594.0,753.1 L596.5,752.3 L598.4,753.7 L597.7,755.4 L597.9,757.0 L596.0,757.9 L595.0,756.2 L593.6,755.1ZM575.3,767.3 L572.0,766.4 L568.2,766.7 L569.2,763.7 L571.1,762.7 L572.9,760.9 L574.9,762.5 L575.5,764.4ZM606.1,777.4 L608.0,777.4 L609.8,777.6 L611.1,778.8 L611.1,780.7 L608.3,780.3 L606.5,781.1 L606.0,779.7 L605.1,778.6ZM533.2,798.9 L530.2,796.8 L529.3,793.8 L532.2,790.7 L535.1,793.6 L536.9,796.8ZM530.5,799.9 L528.9,799.0 L527.9,797.5 L529.5,796.4 L531.2,796.1 L531.8,797.5 L533.0,799.5ZM530.9,794.3 L532.2,793.4 L534.5,792.7 L535.1,795.4 L533.6,797.1 L531.9,797.3 L530.3,796.3ZM552.5,784.9 L555.1,783.9 L557.3,780.3 L559.1,783.9 L560.5,785.7 L562.8,789.8 L557.9,789.9 L554.5,790.2 L549.9,788.8ZM554.9,788.4 L556.1,786.4 L558.7,787.1 L558.8,789.0 L558.5,792.4 L554.7,791.1Z" fill="#7a4874" fill-opacity="0.75"/>
<path d="M557.1,760.2 L554.1,758.5 L553.8,756.7 L553.6,754.0 L557.7,754.1 L559.0,756.2 L559.2,758.0ZM591.9,793.5 L591.6,790.4 L595.2,790.4 L597.8,790.7 L600.6,792.2 L601.1,795.5 L598.2,797.8 L595.1,796.2 L593.7,795.0ZM606.1,790.4 L604.7,788.9 L604.7,786.2 L607.8,786.8 L610.8,786.2 L611.5,788.8 L609.5,790.3 L607.9,791.6ZM612.6,786.7 L612.0,788.2 L610.4,787.9 L608.7,788.5 L607.4,787.1 L609.2,785.9 L609.7,785.2 L611.0,784.1 L612.7,784.9ZM605.2,792.4 L604.1,791.5 L605.1,790.5 L606.0,789.9 L606.8,790.8 L607.4,792.0 L606.2,792.9ZM567.6,800.0 L568.4,799.9 L569.7,798.2 L570.0,800.3 L570.9,802.3 L569.9,804.1 L568.3,804.4 L567.8,802.3 L566.9,801.3ZM566.9,804.5 L565.8,803.2 L565.9,801.5 L566.8,800.8 L567.8,799.4 L569.2,800.4 L569.2,802.5 L567.8,802.9ZM545.6,818.9 L549.3,818.5 L549.6,821.0 L548.9,822.8 L545.1,824.0 L544.6,821.1ZM550.8,819.2 L550.7,820.1 L550.4,820.7 L550.0,822.1 L549.0,821.3 L548.2,820.6 L547.7,819.4 L548.8,818.6 L550.0,818.4ZM548.1,821.7 L549.9,822.8 L551.2,824.4 L550.2,827.2 L547.9,825.5 L547.8,823.9ZM577.5,813.1 L574.8,812.7 L573.1,811.5 L573.2,809.6 L575.9,808.3 L577.6,810.1 L578.0,811.3ZM576.4,814.4 L575.5,813.4 L576.4,812.6 L577.4,812.1 L578.4,812.5 L580.0,812.9 L579.3,814.0 L578.1,814.9ZM574.3,811.5 L572.8,809.0 L575.1,807.1 L577.1,808.2 L578.2,809.0 L579.3,811.3 L576.7,811.7ZM551.1,815.7 L548.7,814.5 L550.4,812.0 L551.4,810.8 L552.9,808.9 L554.8,810.2 L554.7,812.7 L554.2,814.4 L553.0,816.0ZM553.8,813.1 L556.3,814.5 L556.3,817.4 L553.3,817.2 L550.8,818.2 L550.5,815.7 L551.0,813.1ZM551.0,812.3 L549.5,812.0 L548.1,811.6 L549.0,810.6 L550.2,809.3 L552.1,810.6ZM560.9,817.2 L560.7,814.4 L562.1,812.8 L564.5,811.5 L566.0,814.0 L565.6,816.9 L563.4,818.6ZM566.4,813.4 L564.9,816.2 L562.6,814.1 L563.1,811.7 L564.5,809.9 L567.3,810.5ZM534.9,802.5 L532.8,800.6 L535.5,799.2 L538.3,799.5 L538.0,801.7 L537.4,802.8 L536.0,803.6ZM577.0,813.5 L582.5,812.0 L586.3,815.1 L584.7,818.8 L579.6,817.9 L576.4,816.5ZM532.2,808.2 L534.5,810.3 L533.4,813.6 L529.7,812.2 L526.5,810.6 L528.8,807.9ZM524.4,814.4 L525.8,813.1 L526.8,812.7 L528.1,811.7 L529.1,813.0 L529.2,814.7 L528.1,815.6 L526.9,817.4 L525.7,815.7ZM525.9,809.2 L527.1,808.9 L528.3,808.8 L529.0,810.2 L528.5,811.5 L528.0,812.9 L526.7,812.7 L526.2,811.6 L525.3,810.5ZM527.6,761.5 L528.3,760.0 L530.0,760.1 L530.1,761.9 L530.2,763.1 L529.5,764.5 L527.6,765.2 L526.3,763.2ZM529.6,759.7 L530.9,759.2 L532.0,759.5 L532.4,760.4 L532.3,761.0 L531.9,761.4 L531.3,761.7 L530.2,761.8 L529.3,760.9ZM525.1,766.2 L525.0,765.1 L525.0,764.5 L525.3,763.5 L526.4,763.8 L527.3,764.1 L528.0,764.9 L527.9,766.2 L526.2,765.7ZM550.9,767.4 L553.1,768.1 L555.7,768.3 L554.7,770.3 L553.2,771.9 L551.5,770.5 L549.1,769.3ZM516.5,758.7 L519.7,758.6 L522.3,759.0 L524.4,761.3 L519.8,761.0 L516.8,760.8ZM517.5,754.8 L518.9,756.4 L519.3,758.4 L516.4,758.5 L513.4,757.7 L514.7,755.4ZM584.8,801.1 L583.5,803.4 L582.1,801.5 L580.8,799.0 L582.9,798.3 L584.9,798.2ZM579.5,798.1 L581.5,798.7 L581.7,800.2 L581.8,802.8 L579.6,801.5 L579.1,800.0ZM583.1,797.8 L582.7,796.0 L584.6,796.4 L586.9,796.9 L585.3,798.5 L583.8,799.0ZM583.0,797.0 L585.8,796.9 L585.8,798.9 L585.9,800.6 L583.6,800.9 L582.1,799.9 L582.2,798.6ZM585.3,796.1 L586.6,795.8 L587.5,796.6 L586.4,797.3 L586.0,797.8 L585.2,797.6 L584.0,797.3 L584.0,796.3ZM596.1,767.9 L594.3,769.1 L591.7,768.6 L591.6,766.0 L594.1,765.7 L596.1,766.0ZM592.6,767.8 L591.2,768.3 L590.3,767.3 L589.8,765.9 L590.7,764.3 L592.9,764.0 L593.6,765.7 L594.0,766.7 L594.4,768.2ZM554.8,793.0 L554.9,790.7 L556.0,789.2 L558.7,787.7 L559.6,790.6 L559.9,793.4 L557.0,793.2ZM552.2,788.4 L554.9,788.9 L557.0,789.7 L556.5,791.7 L554.8,792.8 L552.5,792.6 L552.6,790.7ZM557.5,787.6 L558.9,788.7 L558.0,789.9 L556.7,790.2 L555.7,790.5 L554.9,790.0 L554.7,789.3 L554.7,788.5 L555.8,788.3ZM566.6,778.7 L569.8,778.1 L571.9,778.5 L572.3,779.9 L571.8,781.1 L569.7,783.1 L568.9,780.6ZM570.0,747.3 L574.2,747.7 L576.7,751.4 L572.4,753.2 L569.5,753.8 L566.2,752.4 L566.7,749.0ZM574.0,751.9 L571.3,752.7 L567.5,753.6 L566.2,749.8 L569.4,748.0 L572.2,746.5 L575.4,748.5ZM572.6,750.6 L571.5,751.8 L570.2,751.7 L568.9,750.1 L570.4,748.8 L572.0,748.8ZM534.3,780.6 L532.3,778.9 L533.9,776.6 L536.4,777.2 L538.1,778.8 L536.8,780.9ZM536.4,776.2 L537.8,777.3 L536.0,778.0 L534.2,778.4 L533.5,777.1 L534.7,776.0ZM535.0,778.5 L534.6,779.6 L533.8,778.8 L532.7,778.5 L532.8,777.2 L533.9,777.0 L534.6,776.4 L535.6,776.7 L535.9,777.9ZM584.8,797.5 L586.8,801.8 L587.2,805.7 L582.7,807.4 L580.8,803.8 L581.7,801.2ZM583.8,804.4 L582.1,804.5 L581.8,802.7 L583.1,801.8 L584.2,802.2 L585.0,802.8 L585.4,804.3ZM529.7,766.5 L525.4,767.1 L524.7,763.7 L525.6,761.6 L528.1,761.6 L532.5,763.0ZM586.7,796.0 L588.3,799.3 L586.8,802.3 L582.9,802.1 L581.2,799.6 L581.9,796.1ZM585.8,802.8 L583.4,803.5 L583.1,805.4 L581.1,804.6 L580.8,803.4 L580.3,802.5 L581.1,801.6 L582.7,800.6 L583.8,801.9ZM540.0,814.8 L537.8,814.9 L534.7,812.6 L538.4,811.1 L541.2,811.2 L542.5,813.7ZM539.2,810.8 L540.6,811.1 L541.8,810.2 L542.9,811.1 L542.5,812.3 L541.9,813.3 L540.7,813.2 L540.0,812.6 L538.9,812.0ZM534.0,817.3 L533.8,815.5 L533.2,813.5 L536.1,814.1 L538.3,812.5 L539.4,814.4 L540.8,816.4 L538.4,817.6 L536.1,818.1ZM578.4,767.0 L576.3,769.6 L573.2,768.6 L571.8,767.5 L570.1,765.2 L573.4,764.9 L576.1,764.9ZM571.0,758.1 L571.7,755.1 L574.2,753.5 L576.3,755.3 L576.3,757.6 L574.1,759.5ZM579.2,793.6 L577.7,792.6 L576.9,790.4 L579.5,790.0 L582.4,789.4 L581.3,792.0 L581.3,794.0ZM580.1,790.2 L581.6,789.2 L581.8,790.7 L582.0,791.7 L581.0,792.7 L579.6,792.2 L578.4,791.6 L578.5,790.3ZM581.7,794.7 L580.4,794.0 L581.0,792.7 L581.7,791.8 L582.6,792.4 L583.0,793.2 L582.9,794.4ZM538.4,813.8 L536.7,814.9 L536.1,817.7 L534.1,816.6 L533.7,814.5 L532.6,812.4 L534.9,812.2 L536.0,811.6 L537.4,812.0ZM533.1,813.8 L532.6,811.6 L534.2,810.7 L535.1,811.8 L536.1,813.4 L534.6,814.0ZM578.3,786.8 L576.7,783.8 L578.8,781.8 L578.9,778.3 L581.8,779.9 L583.9,781.4 L582.4,783.5 L581.4,785.3ZM600.3,806.5 L601.4,804.7 L603.7,803.8 L606.5,804.3 L608.0,806.8 L605.1,808.2 L604.3,810.1 L601.8,810.4 L600.4,808.5ZM613.7,780.8 L615.6,782.6 L615.3,785.8 L611.9,786.0 L609.7,783.7 L611.3,781.3ZM617.1,784.6 L615.2,784.9 L613.0,783.9 L614.5,782.1 L615.6,781.4 L616.9,781.6 L619.2,783.0ZM616.6,782.4 L615.8,783.3 L614.4,783.0 L613.1,782.5 L612.4,781.5 L614.0,781.0 L615.0,780.1 L616.5,780.6 L616.3,781.6ZM569.4,804.6 L571.0,805.6 L571.4,807.0 L569.8,808.0 L568.0,807.6 L566.6,807.5 L565.0,806.7 L566.9,806.0 L567.2,804.6ZM569.1,806.0 L569.0,807.7 L567.1,807.5 L565.1,807.2 L566.2,805.7 L567.5,805.5ZM568.8,807.3 L568.1,807.4 L568.1,806.6 L567.6,805.5 L568.5,805.7 L569.3,805.2 L569.5,806.2 L569.4,807.1ZM518.4,801.7 L520.3,800.8 L522.1,801.9 L522.5,804.6 L520.9,806.2 L518.7,806.7 L517.9,804.1ZM519.6,802.2 L519.7,803.4 L518.7,803.9 L517.9,805.0 L516.5,804.3 L516.6,803.0 L517.3,802.2 L518.3,802.1ZM517.4,801.5 L519.2,800.8 L520.3,802.4 L519.5,803.8 L518.9,805.4 L517.2,804.9 L516.8,803.6 L515.7,802.2ZM558.3,779.1 L561.1,778.2 L564.5,777.5 L566.5,780.2 L566.1,783.5 L562.8,785.5 L560.3,782.9 L556.8,781.9ZM544.9,815.1 L544.5,812.7 L543.9,810.4 L545.7,808.9 L546.8,811.0 L546.8,812.4 L546.5,813.8ZM542.1,811.7 L543.3,811.3 L544.0,812.4 L545.3,812.6 L544.3,813.3 L544.3,814.5 L543.3,813.7 L542.8,813.4 L542.4,812.9ZM548.3,789.5 L547.2,790.8 L545.0,791.9 L544.2,789.4 L545.3,787.3 L548.1,786.7ZM560.6,810.2 L560.9,807.3 L563.0,806.4 L564.6,804.0 L567.0,805.2 L567.0,808.1 L565.9,809.7 L564.9,811.6 L563.2,810.7ZM563.1,807.5 L564.6,807.6 L565.1,809.2 L564.9,810.8 L564.1,812.5 L562.4,812.2 L561.7,810.6 L560.6,809.2 L561.9,808.1ZM562.0,806.7 L562.8,807.1 L564.0,807.8 L563.2,808.6 L562.0,809.3 L559.9,809.7 L560.3,808.0 L559.7,807.2 L560.2,805.9ZM531.9,799.3 L531.4,801.2 L529.4,801.5 L528.5,799.7 L527.4,798.4 L529.2,797.7 L530.0,797.2 L531.1,797.1 L532.3,797.9ZM584.9,772.2 L588.2,773.4 L588.4,775.0 L587.2,777.3 L584.4,775.6 L582.6,774.1ZM586.6,774.8 L587.4,773.3 L589.1,773.9 L589.0,776.0 L587.8,776.5 L587.1,775.9ZM552.2,766.2 L556.2,763.8 L560.8,765.3 L559.5,769.0 L557.0,770.1 L552.2,770.9ZM558.9,767.0 L556.3,767.4 L553.5,766.6 L553.6,763.3 L555.8,762.2 L558.1,761.5 L557.9,764.2ZM555.9,769.7 L553.3,768.7 L551.3,766.1 L554.2,764.2 L557.3,764.6 L556.7,767.4ZM523.5,820.3 L524.4,819.6 L526.1,818.0 L527.5,819.6 L528.5,821.5 L526.9,823.0 L525.0,822.3 L524.1,822.1 L522.2,821.6ZM521.1,818.6 L521.8,817.6 L523.0,818.4 L524.2,818.2 L525.0,819.1 L524.1,820.0 L523.1,820.5 L521.7,820.6 L521.7,819.4ZM525.2,818.4 L526.6,818.3 L527.2,819.6 L526.3,820.7 L526.2,821.7 L525.4,821.3 L524.5,821.4 L524.3,820.4 L524.4,819.2ZM531.4,818.8 L528.5,818.4 L529.8,816.0 L531.1,814.9 L533.0,815.0 L534.4,816.5 L533.4,818.3ZM598.3,755.2 L600.9,756.4 L598.5,758.2 L596.6,757.2 L595.2,755.9 L596.2,753.7ZM596.1,753.2 L596.0,753.8 L595.4,754.3 L594.5,754.1 L592.8,753.9 L593.0,752.8 L594.3,752.0 L595.8,752.4ZM597.2,756.0 L596.0,756.9 L594.2,756.1 L595.3,754.6 L596.5,753.1 L598.2,754.5ZM573.8,761.4 L574.7,763.1 L575.5,764.8 L574.2,766.4 L572.0,767.1 L571.2,765.1 L569.2,764.3 L570.0,762.6 L571.7,761.8ZM606.7,781.0 L605.5,779.7 L605.3,778.3 L607.0,777.6 L608.9,777.3 L610.7,778.2 L609.0,779.5 L608.9,781.2ZM533.7,796.2 L532.3,796.5 L531.1,795.9 L530.9,794.9 L530.4,792.7 L533.4,792.8 L536.6,793.3 L535.6,795.6ZM528.7,797.0 L530.3,795.9 L532.0,796.9 L531.9,798.6 L530.4,798.9 L528.2,799.2ZM531.0,793.5 L533.6,794.2 L534.4,795.3 L533.7,796.7 L530.7,796.9 L529.9,795.2ZM555.2,789.9 L552.0,787.9 L554.3,785.3 L554.5,782.5 L558.2,782.3 L560.1,784.6 L559.9,786.8 L558.9,789.4ZM558.0,789.3 L557.3,789.9 L556.3,790.0 L554.5,789.6 L554.4,788.1 L556.1,787.5 L557.3,786.4 L558.3,787.7 L559.1,788.6Z" fill="#53255f" stroke="#53255f" stroke-width="0.6" stroke-linejoin="round"/>
</g>
<path d="M541.4,805.3h1.0v1.0h-1.0zM548.5,819.4h1.0v1.0h-1.0zM557.9,759.2h1.2v1.2h-1.2zM585.3,771.5h1.2v1.2h-1.2zM561.1,755.3h1.2v1.2h-1.2zM558.3,808.0h1.2v1.2h-1.2zM603.6,812.6h1.0v1.0h-1.0zM585.7,809.2h1.5v1.5h-1.5zM527.4,760.5h1.5v1.5h-1.5zM533.2,811.2h1.2v1.2h-1.2zM591.2,814.1h1.2v1.2h-1.2zM581.0,810.0h1.5v1.5h-1.5zM599.0,751.2h1.5v1.5h-1.5zM531.5,765.9h1.5v1.5h-1.5zM582.2,791.6h1.2v1.2h-1.2zM539.5,755.9h1.5v1.5h-1.5zM562.5,756.0h1.2v1.2h-1.2zM530.0,789.5h1.5v1.5h-1.5zM584.8,798.2h1.5v1.5h-1.5zM606.9,768.7h1.2v1.2h-1.2zM528.9,766.7h1.0v1.0h-1.0zM590.3,798.8h1.0v1.0h-1.0zM597.6,789.8h1.2v1.2h-1.2zM522.9,757.8h1.0v1.0h-1.0zM520.5,771.8h1.5v1.5h-1.5zM534.5,790.3h1.2v1.2h-1.2zM523.6,800.6h1.2v1.2h-1.2zM582.5,809.8h1.0v1.0h-1.0zM564.2,769.4h1.5v1.5h-1.5zM579.9,801.7h1.2v1.2h-1.2zM531.4,778.9h1.2v1.2h-1.2zM523.8,766.8h1.5v1.5h-1.5zM521.2,771.7h1.5v1.5h-1.5zM595.5,760.1h1.2v1.2h-1.2zM600.4,815.3h1.5v1.5h-1.5zM521.7,795.4h1.5v1.5h-1.5zM524.9,759.7h1.2v1.2h-1.2zM611.7,787.5h1.2v1.2h-1.2zM606.8,777.9h1.2v1.2h-1.2zM565.0,764.9h1.5v1.5h-1.5zM564.6,766.0h1.2v1.2h-1.2zM604.5,818.0h1.0v1.0h-1.0zM594.2,810.6h1.0v1.0h-1.0zM591.0,761.3h1.0v1.0h-1.0zM555.3,760.7h1.5v1.5h-1.5zM525.9,773.3h1.0v1.0h-1.0zM567.5,766.0h1.5v1.5h-1.5zM538.0,751.6h1.0v1.0h-1.0zM539.6,821.0h1.0v1.0h-1.0zM556.2,800.8h1.0v1.0h-1.0zM520.3,797.0h1.2v1.2h-1.2zM585.3,804.0h1.5v1.5h-1.5zM586.2,800.0h1.0v1.0h-1.0zM544.6,806.8h1.5v1.5h-1.5zM593.3,775.0h1.2v1.2h-1.2zM576.8,771.5h1.0v1.0h-1.0zM563.9,799.1h1.5v1.5h-1.5zM602.7,755.9h1.2v1.2h-1.2zM579.7,803.2h1.0v1.0h-1.0zM520.8,771.5h1.0v1.0h-1.0zM599.4,766.3h1.5v1.5h-1.5zM587.9,771.1h1.0v1.0h-1.0zM531.8,778.5h1.0v1.0h-1.0zM573.6,782.5h1.5v1.5h-1.5zM572.5,804.9h1.0v1.0h-1.0zM524.9,799.1h1.2v1.2h-1.2zM541.5,753.8h1.2v1.2h-1.2zM555.6,809.4h1.5v1.5h-1.5zM611.3,805.4h1.5v1.5h-1.5zM610.8,809.7h1.5v1.5h-1.5z" fill="#33183f"/>
</g>
<line x1="668.30" y1="812.80" x2="671.80" y2="812.80" stroke="#000" stroke-width="1.2" stroke-linecap="butt"/>
<text x="667.20" y="816.10" font-size="9.3" font-weight="bold" text-anchor="end" fill="#000">0</text>
<line x1="668.30" y1="769.20" x2="671.80" y2="769.20" stroke="#000" stroke-width="1.2" stroke-linecap="butt"/>
<text x="667.20" y="772.50" font-size="9.3" font-weight="bold" text-anchor="end" fill="#000">1</text>
<line x1="668.30" y1="725.60" x2="671.80" y2="725.60" stroke="#000" stroke-width="1.2" stroke-linecap="butt"/>
<text x="667.20" y="728.90" font-size="9.3" font-weight="bold" text-anchor="end" fill="#000">2</text>
<line x1="668.30" y1="682.00" x2="671.80" y2="682.00" stroke="#000" stroke-width="1.2" stroke-linecap="butt"/>
<text x="667.20" y="685.30" font-size="9.3" font-weight="bold" text-anchor="end" fill="#000">3</text>
<line x1="685.90" y1="768.30" x2="685.90" y2="769.90" stroke="#000" stroke-width="1.0" stroke-linecap="butt"/>
<line x1="682.70" y1="768.30" x2="689.10" y2="768.30" stroke="#000" stroke-width="1.0" stroke-linecap="butt"/>
<rect x="679.00" y="769.40" width="13.80" height="43.40" fill="#000"/>
<line x1="699.75" y1="711.30" x2="699.75" y2="716.60" stroke="#000" stroke-width="1.0" stroke-linecap="butt"/>
<line x1="696.35" y1="711.30" x2="703.15" y2="711.30" stroke="#000" stroke-width="1.0" stroke-linecap="butt"/>
<rect x="692.80" y="716.10" width="13.90" height="96.70" fill="#a7a9ac"/>
<line x1="727.45" y1="768.00" x2="727.45" y2="769.90" stroke="#000" stroke-width="1.0" stroke-linecap="butt"/>
<line x1="724.25" y1="768.00" x2="730.65" y2="768.00" stroke="#000" stroke-width="1.0" stroke-linecap="butt"/>
<rect x="720.30" y="769.40" width="14.30" height="43.40" fill="#000"/>
<line x1="741.40" y1="728.00" x2="741.40" y2="735.70" stroke="#000" stroke-width="1.0" stroke-linecap="butt"/>
<line x1="737.80" y1="728.00" x2="745.00" y2="728.00" stroke="#000" stroke-width="1.0" stroke-linecap="butt"/>
<rect x="734.60" y="735.20" width="13.60" height="77.60" fill="#a7a9ac"/>
<line x1="671.80" y1="681.40" x2="671.80" y2="813.40" stroke="#000" stroke-width="1.2" stroke-linecap="butt"/>
<line x1="671.20" y1="812.80" x2="756.60" y2="812.80" stroke="#000" stroke-width="1.2" stroke-linecap="butt"/>
<line x1="692.80" y1="812.80" x2="692.80" y2="816.30" stroke="#000" stroke-width="1.2" stroke-linecap="butt"/>
<line x1="734.60" y1="812.80" x2="734.60" y2="816.30" stroke="#000" stroke-width="1.2" stroke-linecap="butt"/>
<path d="M681.4,762.7 L681.4,702.5 L698.8,702.5 L698.8,712" stroke="#000" stroke-width="1.0" fill="none"/>
<path d="M723.9,757.9 L723.9,702.5 L741.3,702.5 L741.3,728.5" stroke="#000" stroke-width="1.0" fill="none"/>
<text x="691.60" y="706.30" font-size="11.6" font-weight="normal" text-anchor="middle" fill="#000">***</text>
<text x="729.80" y="704.90" font-size="11.6" font-weight="normal" text-anchor="middle" fill="#000">***</text>
<rect x="679.70" y="674.80" width="15.00" height="5.50" fill="#000"/>
<rect x="679.70" y="686.30" width="15.00" height="6.40" fill="#a7a9ac"/>
<text x="703.10" y="681.50" font-size="10.6" font-weight="bold" text-anchor="start" fill="#000">Vector</text>
<text x="703.10" y="693.20" font-size="10.6" font-weight="bold" text-anchor="start" fill="#000">SNHG22</text>
<text x="641.70" y="746.00" font-size="12.5" font-weight="bold" text-anchor="middle" fill="#000" transform="rotate(-90 641.70 746.00)">No. of cells</text>
<text x="656.70" y="746.00" font-size="12.5" font-weight="bold" text-anchor="middle" fill="#000" transform="rotate(-90 656.70 746.00)">(fold change)</text>
<text x="699.50" y="823.00" font-size="13.2" font-weight="bold" text-anchor="end" fill="#000" transform="rotate(-45 699.50 823.00)">Migration</text>
<text x="740.60" y="823.00" font-size="13.2" font-weight="bold" text-anchor="end" fill="#000" transform="rotate(-45 740.60 823.00)">Invasion</text>
</svg>
</body></html>
